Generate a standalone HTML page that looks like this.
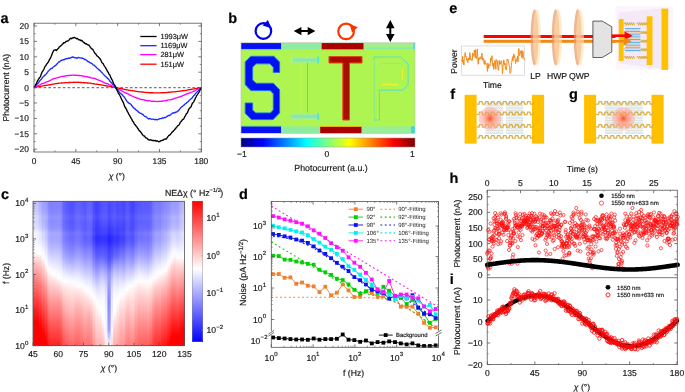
<!DOCTYPE html>
<html><head><meta charset="utf-8"><style>
html,body{margin:0;padding:0;background:#fff;font-family:"Liberation Sans", sans-serif;}
#wrap{position:relative;width:685px;height:392px;overflow:hidden;background:#fff;}
svg{position:absolute;left:0;top:0;will-change:transform;}

</style></head><body><div id="wrap">
<div style="position:absolute;left:33px;top:201.3px;width:1.9px;height:144.4px;background:linear-gradient(180deg,#c2c2ff 0.0%,#c5c5ff 2.8%,#c8c8ff 5.6%,#ceceff 8.3%,#d9d9ff 11.1%,#d6d6ff 13.9%,#dadaff 16.7%,#e1e1ff 19.4%,#f4f4ff 22.2%,#f1f1ff 25.0%,#f3f3ff 27.8%,#f9f9ff 30.6%,#fdfdff 33.3%,#fff5f5 36.1%,#ffdede 38.9%,#ffcbcb 41.7%,#ffbaba 44.4%,#ffaaaa 47.2%,#ff9a9a 50.0%,#ff8b8b 52.8%,#ff7d7d 55.6%,#ff6f6f 58.3%,#ff6262 61.1%,#ff5555 63.9%,#ff4848 66.7%,#ff3b3b 69.4%,#ff2e2e 72.2%,#ff2222 75.0%,#ff1616 77.8%,#ff0a0a 80.6%,#ff0000 83.3%,#ff0000 86.1%,#ff0000 88.9%,#ff0000 91.7%,#ff0000 94.4%,#ff0000 97.2%,#ff0000 100.0%)"></div><div style="position:absolute;left:34.5px;top:201.3px;width:1.9px;height:144.4px;background:linear-gradient(180deg,#c2c2ff 0.0%,#c4c4ff 2.8%,#c7c7ff 5.6%,#cdcdff 8.3%,#d9d9ff 11.1%,#d6d6ff 13.9%,#dbdbff 16.7%,#e2e2ff 19.4%,#f4f4ff 22.2%,#f1f1ff 25.0%,#f3f3ff 27.8%,#f9f9ff 30.6%,#fdfdff 33.3%,#fff7f7 36.1%,#ffe0e0 38.9%,#ffcccc 41.7%,#ffbaba 44.4%,#ffa9a9 47.2%,#ff9999 50.0%,#ff8a8a 52.8%,#ff7c7c 55.6%,#ff6e6e 58.3%,#ff6161 61.1%,#ff5353 63.9%,#ff4747 66.7%,#ff3a3a 69.4%,#ff2e2e 72.2%,#ff2121 75.0%,#ff1515 77.8%,#ff0909 80.6%,#ff0000 83.3%,#ff0000 86.1%,#ff0000 88.9%,#ff0000 91.7%,#ff0000 94.4%,#ff0000 97.2%,#ff0000 100.0%)"></div><div style="position:absolute;left:36px;top:201.3px;width:1.9px;height:144.4px;background:linear-gradient(180deg,#c0c0ff 0.0%,#c3c3ff 2.8%,#c6c6ff 5.6%,#ccccff 8.3%,#d8d8ff 11.1%,#d5d5ff 13.9%,#dadaff 16.7%,#e2e2ff 19.4%,#f4f4ff 22.2%,#f1f1ff 25.0%,#f3f3ff 27.8%,#f9f9ff 30.6%,#fdfdff 33.3%,#fffafa 36.1%,#ffe1e1 38.9%,#ffcdcd 41.7%,#ffbbbb 44.4%,#ffaaaa 47.2%,#ff9999 50.0%,#ff8989 52.8%,#ff7b7b 55.6%,#ff6e6e 58.3%,#ff6161 61.1%,#ff5454 63.9%,#ff4747 66.7%,#ff3a3a 69.4%,#ff2e2e 72.2%,#ff2222 75.0%,#ff1616 77.8%,#ff0a0a 80.6%,#ff0000 83.3%,#ff0000 86.1%,#ff0000 88.9%,#ff0000 91.7%,#ff0000 94.4%,#ff0000 97.2%,#ff0000 100.0%)"></div><div style="position:absolute;left:37.5px;top:201.3px;width:1.9px;height:144.4px;background:linear-gradient(180deg,#b9b9ff 0.0%,#bcbcff 2.8%,#bfbfff 5.6%,#c5c5ff 8.3%,#d1d1ff 11.1%,#cfcfff 13.9%,#d4d4ff 16.7%,#ddddff 19.4%,#efefff 22.2%,#ededff 25.0%,#f0f0ff 27.8%,#f7f7ff 30.6%,#fcfcff 33.3%,#fffefe 36.1%,#ffe4e4 38.9%,#ffd1d1 41.7%,#ffbfbf 44.4%,#ffaeae 47.2%,#ff9e9e 50.0%,#ff8f8f 52.8%,#ff8181 55.6%,#ff7373 58.3%,#ff6666 61.1%,#ff5959 63.9%,#ff4d4d 66.7%,#ff4040 69.4%,#ff3434 72.2%,#ff2828 75.0%,#ff1c1c 77.8%,#ff1111 80.6%,#ff0505 83.3%,#ff0000 86.1%,#ff0000 88.9%,#ff0000 91.7%,#ff0000 94.4%,#ff0000 97.2%,#ff0000 100.0%)"></div><div style="position:absolute;left:39px;top:201.3px;width:1.9px;height:144.4px;background:linear-gradient(180deg,#b0b0ff 0.0%,#b3b3ff 2.8%,#b7b7ff 5.6%,#bdbdff 8.3%,#c9c9ff 11.1%,#c7c7ff 13.9%,#cdcdff 16.7%,#d5d5ff 19.4%,#e9e9ff 22.2%,#e8e8ff 25.0%,#ececff 27.8%,#f4f4ff 30.6%,#fbfbff 33.3%,#ffffff 36.1%,#ffe7e7 38.9%,#ffd4d4 41.7%,#ffc3c3 44.4%,#ffb3b3 47.2%,#ffa4a4 50.0%,#ff9696 52.8%,#ff8888 55.6%,#ff7b7b 58.3%,#ff6e6e 61.1%,#ff6161 63.9%,#ff5454 66.7%,#ff4848 69.4%,#ff3c3c 72.2%,#ff3030 75.0%,#ff2424 77.8%,#ff1919 80.6%,#ff0d0d 83.3%,#ff0202 86.1%,#ff0000 88.9%,#ff0000 91.7%,#ff0000 94.4%,#ff0000 97.2%,#ff0000 100.0%)"></div><div style="position:absolute;left:40.5px;top:201.3px;width:1.9px;height:144.4px;background:linear-gradient(180deg,#a7a7ff 0.0%,#aaaaff 2.8%,#aeaeff 5.6%,#b4b4ff 8.3%,#c0c0ff 11.1%,#bebeff 13.9%,#c4c4ff 16.7%,#cdcdff 19.4%,#e1e1ff 22.2%,#e1e1ff 25.0%,#e7e7ff 27.8%,#f0f0ff 30.6%,#f8f8ff 33.3%,#fefeff 36.1%,#ffeeee 38.9%,#ffdbdb 41.7%,#ffcaca 44.4%,#ffbbbb 47.2%,#ffadad 50.0%,#ff9f9f 52.8%,#ff9191 55.6%,#ff8484 58.3%,#ff7777 61.1%,#ff6a6a 63.9%,#ff5e5e 66.7%,#ff5252 69.4%,#ff4646 72.2%,#ff3a3a 75.0%,#ff2e2e 77.8%,#ff2323 80.6%,#ff1818 83.3%,#ff0c0c 86.1%,#ff0101 88.9%,#ff0000 91.7%,#ff0000 94.4%,#ff0000 97.2%,#ff0000 100.0%)"></div><div style="position:absolute;left:42px;top:201.3px;width:1.9px;height:144.4px;background:linear-gradient(180deg,#a0a0ff 0.0%,#a3a3ff 2.8%,#a6a6ff 5.6%,#acacff 8.3%,#b8b8ff 11.1%,#b6b6ff 13.9%,#bbbbff 16.7%,#c4c4ff 19.4%,#d8d8ff 22.2%,#d8d8ff 25.0%,#dedeff 27.8%,#e8e8ff 30.6%,#f2f2ff 33.3%,#fafaff 36.1%,#fffefe 38.9%,#ffe7e7 41.7%,#ffd6d6 44.4%,#ffc6c6 47.2%,#ffb8b8 50.0%,#ffaaaa 52.8%,#ff9d9d 55.6%,#ff8f8f 58.3%,#ff8282 61.1%,#ff7676 63.9%,#ff6969 66.7%,#ff5d5d 69.4%,#ff5151 72.2%,#ff4545 75.0%,#ff3a3a 77.8%,#ff2e2e 80.6%,#ff2323 83.3%,#ff1818 86.1%,#ff0d0d 88.9%,#ff0202 91.7%,#ff0000 94.4%,#ff0000 97.2%,#ff0000 100.0%)"></div><div style="position:absolute;left:43.5px;top:201.3px;width:1.9px;height:144.4px;background:linear-gradient(180deg,#9f9fff 0.0%,#a1a1ff 2.8%,#a4a4ff 5.6%,#aaaaff 8.3%,#b6b6ff 11.1%,#b3b3ff 13.9%,#b8b8ff 16.7%,#c1c1ff 19.4%,#d5d5ff 22.2%,#d4d4ff 25.0%,#dadaff 27.8%,#e3e3ff 30.6%,#ededff 33.3%,#f6f6ff 36.1%,#fdfdff 38.9%,#fff4f4 41.7%,#ffe0e0 44.4%,#ffcfcf 47.2%,#ffbfbf 50.0%,#ffb0b0 52.8%,#ffa2a2 55.6%,#ff9595 58.3%,#ff8787 61.1%,#ff7b7b 63.9%,#ff6e6e 66.7%,#ff6262 69.4%,#ff5656 72.2%,#ff4a4a 75.0%,#ff3f3f 77.8%,#ff3333 80.6%,#ff2828 83.3%,#ff1d1d 86.1%,#ff1212 88.9%,#ff0707 91.7%,#ff0000 94.4%,#ff0000 97.2%,#ff0000 100.0%)"></div><div style="position:absolute;left:45px;top:201.3px;width:1.9px;height:144.4px;background:linear-gradient(180deg,#9a9aff 0.0%,#9c9cff 2.8%,#9f9fff 5.6%,#a4a4ff 8.3%,#afafff 11.1%,#ababff 13.9%,#afafff 16.7%,#b7b7ff 19.4%,#cacaff 22.2%,#c9c9ff 25.0%,#ceceff 27.8%,#d8d8ff 30.6%,#e2e2ff 33.3%,#ececff 36.1%,#f5f5ff 38.9%,#fcfcff 41.7%,#fff8f8 44.4%,#ffe3e3 47.2%,#ffd1d1 50.0%,#ffc1c1 52.8%,#ffb2b2 55.6%,#ffa4a4 58.3%,#ff9696 61.1%,#ff8989 63.9%,#ff7d7d 66.7%,#ff7070 69.4%,#ff6464 72.2%,#ff5858 75.0%,#ff4d4d 77.8%,#ff4141 80.6%,#ff3636 83.3%,#ff2b2b 86.1%,#ff2020 88.9%,#ff1515 91.7%,#ff0a0a 94.4%,#ff0000 97.2%,#ff0000 100.0%)"></div><div style="position:absolute;left:46.5px;top:201.3px;width:1.9px;height:144.4px;background:linear-gradient(180deg,#9393ff 0.0%,#9595ff 2.8%,#9797ff 5.6%,#9c9cff 8.3%,#a6a6ff 11.1%,#a2a2ff 13.9%,#a5a5ff 16.7%,#acacff 19.4%,#bebeff 22.2%,#bcbcff 25.0%,#c1c1ff 27.8%,#cacaff 30.6%,#d4d4ff 33.3%,#dedeff 36.1%,#e9e9ff 38.9%,#f2f2ff 41.7%,#fbfbff 44.4%,#fffdfd 47.2%,#ffe6e6 50.0%,#ffd5d5 52.8%,#ffc5c5 55.6%,#ffb6b6 58.3%,#ffa8a8 61.1%,#ff9b9b 63.9%,#ff8e8e 66.7%,#ff8181 69.4%,#ff7575 72.2%,#ff6969 75.0%,#ff5d5d 77.8%,#ff5151 80.6%,#ff4646 83.3%,#ff3b3b 86.1%,#ff3030 88.9%,#ff2525 91.7%,#ff1a1a 94.4%,#ff1010 97.2%,#ff0505 100.0%)"></div><div style="position:absolute;left:48px;top:201.3px;width:1.9px;height:144.4px;background:linear-gradient(180deg,#8585ff 0.0%,#8787ff 2.8%,#8989ff 5.6%,#8d8dff 8.3%,#9797ff 11.1%,#9292ff 13.9%,#9696ff 16.7%,#9c9cff 19.4%,#aeaeff 22.2%,#acacff 25.0%,#b0b0ff 27.8%,#b9b9ff 30.6%,#c4c4ff 33.3%,#d0d0ff 36.1%,#dcdcff 38.9%,#e8e8ff 41.7%,#f3f3ff 44.4%,#fcfcff 47.2%,#fff3f3 50.0%,#ffe2e2 52.8%,#ffd3d3 55.6%,#ffc5c5 58.3%,#ffb9b9 61.1%,#ffadad 63.9%,#ffa0a0 66.7%,#ff9494 69.4%,#ff8888 72.2%,#ff7c7c 75.0%,#ff7070 77.8%,#ff6464 80.6%,#ff5959 83.3%,#ff4e4e 86.1%,#ff4343 88.9%,#ff3838 91.7%,#ff2d2d 94.4%,#ff2323 97.2%,#ff1818 100.0%)"></div><div style="position:absolute;left:49.5px;top:201.3px;width:1.9px;height:144.4px;background:linear-gradient(180deg,#7f7fff 0.0%,#8181ff 2.8%,#8383ff 5.6%,#8787ff 8.3%,#9191ff 11.1%,#8c8cff 13.9%,#8f8fff 16.7%,#9696ff 19.4%,#a8a8ff 22.2%,#a5a5ff 25.0%,#aaaaff 27.8%,#b3b3ff 30.6%,#bdbdff 33.3%,#cacaff 36.1%,#d7d7ff 38.9%,#e4e4ff 41.7%,#f0f0ff 44.4%,#fafaff 47.2%,#fff8f8 50.0%,#ffe6e6 52.8%,#ffd8d8 55.6%,#ffcaca 58.3%,#ffbebe 61.1%,#ffb3b3 63.9%,#ffa7a7 66.7%,#ff9a9a 69.4%,#ff8e8e 72.2%,#ff8282 75.0%,#ff7777 77.8%,#ff6b6b 80.6%,#ff6060 83.3%,#ff5555 86.1%,#ff4a4a 88.9%,#ff3f3f 91.7%,#ff3535 94.4%,#ff2a2a 97.2%,#ff2020 100.0%)"></div><div style="position:absolute;left:51px;top:201.3px;width:1.9px;height:144.4px;background:linear-gradient(180deg,#7e7eff 0.0%,#8080ff 2.8%,#8181ff 5.6%,#8686ff 8.3%,#8f8fff 11.1%,#8b8bff 13.9%,#8e8eff 16.7%,#9494ff 19.4%,#a6a6ff 22.2%,#a4a4ff 25.0%,#a8a8ff 27.8%,#b1b1ff 30.6%,#bbbbff 33.3%,#c7c7ff 36.1%,#d4d4ff 38.9%,#e1e1ff 41.7%,#eeeeff 44.4%,#f8f8ff 47.2%,#ffffff 50.0%,#ffeaea 52.8%,#ffdada 55.6%,#ffcdcd 58.3%,#ffc0c0 61.1%,#ffb4b4 63.9%,#ffa8a8 66.7%,#ff9c9c 69.4%,#ff9090 72.2%,#ff8484 75.0%,#ff7878 77.8%,#ff6d6d 80.6%,#ff6262 83.3%,#ff5757 86.1%,#ff4c4c 88.9%,#ff4141 91.7%,#ff3737 94.4%,#ff2d2d 97.2%,#ff2222 100.0%)"></div><div style="position:absolute;left:52.5px;top:201.3px;width:1.9px;height:144.4px;background:linear-gradient(180deg,#8282ff 0.0%,#8383ff 2.8%,#8585ff 5.6%,#8989ff 8.3%,#9292ff 11.1%,#8e8eff 13.9%,#9191ff 16.7%,#9797ff 19.4%,#a9a9ff 22.2%,#a6a6ff 25.0%,#aaaaff 27.8%,#b4b4ff 30.6%,#bebeff 33.3%,#c9c9ff 36.1%,#d5d5ff 38.9%,#e1e1ff 41.7%,#ededff 44.4%,#f7f7ff 47.2%,#fefeff 50.0%,#ffeded 52.8%,#ffdcdc 55.6%,#ffcdcd 58.3%,#ffbfbf 61.1%,#ffb2b2 63.9%,#ffa5a5 66.7%,#ff9999 69.4%,#ff8d8d 72.2%,#ff8181 75.0%,#ff7575 77.8%,#ff6a6a 80.6%,#ff5f5f 83.3%,#ff5454 86.1%,#ff4a4a 88.9%,#ff3f3f 91.7%,#ff3535 94.4%,#ff2a2a 97.2%,#ff2020 100.0%)"></div><div style="position:absolute;left:54px;top:201.3px;width:1.9px;height:144.4px;background:linear-gradient(180deg,#8181ff 0.0%,#8383ff 2.8%,#8484ff 5.6%,#8888ff 8.3%,#9292ff 11.1%,#8d8dff 13.9%,#9090ff 16.7%,#9696ff 19.4%,#a8a8ff 22.2%,#a5a5ff 25.0%,#aaaaff 27.8%,#b3b3ff 30.6%,#bdbdff 33.3%,#c8c8ff 36.1%,#d4d4ff 38.9%,#dfdfff 41.7%,#ebebff 44.4%,#f6f6ff 47.2%,#fdfdff 50.0%,#fff2f2 52.8%,#ffdfdf 55.6%,#ffd0d0 58.3%,#ffc1c1 61.1%,#ffb3b3 63.9%,#ffa6a6 66.7%,#ff9999 69.4%,#ff8d8d 72.2%,#ff8282 75.0%,#ff7676 77.8%,#ff6b6b 80.6%,#ff6060 83.3%,#ff5555 86.1%,#ff4b4b 88.9%,#ff4040 91.7%,#ff3636 94.4%,#ff2c2c 97.2%,#ff2222 100.0%)"></div><div style="position:absolute;left:55.5px;top:201.3px;width:1.9px;height:144.4px;background:linear-gradient(180deg,#8181ff 0.0%,#8282ff 2.8%,#8383ff 5.6%,#8787ff 8.3%,#9191ff 11.1%,#8c8cff 13.9%,#8f8fff 16.7%,#9595ff 19.4%,#a6a6ff 22.2%,#a3a3ff 25.0%,#a8a8ff 27.8%,#b1b1ff 30.6%,#bbbbff 33.3%,#c6c6ff 36.1%,#d1d1ff 38.9%,#ddddff 41.7%,#e9e9ff 44.4%,#f3f3ff 47.2%,#fcfcff 50.0%,#fff8f8 52.8%,#ffe4e4 55.6%,#ffd3d3 58.3%,#ffc4c4 61.1%,#ffb6b6 63.9%,#ffa8a8 66.7%,#ff9b9b 69.4%,#ff8f8f 72.2%,#ff8484 75.0%,#ff7878 77.8%,#ff6d6d 80.6%,#ff6262 83.3%,#ff5858 86.1%,#ff4d4d 88.9%,#ff4343 91.7%,#ff3939 94.4%,#ff2f2f 97.2%,#ff2525 100.0%)"></div><div style="position:absolute;left:57px;top:201.3px;width:1.9px;height:144.4px;background:linear-gradient(180deg,#8484ff 0.0%,#8585ff 2.8%,#8787ff 5.6%,#8b8bff 8.3%,#9494ff 11.1%,#8f8fff 13.9%,#9292ff 16.7%,#9898ff 19.4%,#a9a9ff 22.2%,#a6a6ff 25.0%,#aaaaff 27.8%,#b3b3ff 30.6%,#bdbdff 33.3%,#c8c8ff 36.1%,#d3d3ff 38.9%,#ddddff 41.7%,#e8e8ff 44.4%,#f2f2ff 47.2%,#fbfbff 50.0%,#ffffff 52.8%,#ffe8e8 55.6%,#ffd6d6 58.3%,#ffc5c5 61.1%,#ffb6b6 63.9%,#ffa7a7 66.7%,#ff9898 69.4%,#ff8d8d 72.2%,#ff8181 75.0%,#ff7676 77.8%,#ff6b6b 80.6%,#ff6060 83.3%,#ff5555 86.1%,#ff4b4b 88.9%,#ff4141 91.7%,#ff3737 94.4%,#ff2d2d 97.2%,#ff2323 100.0%)"></div><div style="position:absolute;left:58.5px;top:201.3px;width:1.9px;height:144.4px;background:linear-gradient(180deg,#8585ff 0.0%,#8686ff 2.8%,#8787ff 5.6%,#8b8bff 8.3%,#9494ff 11.1%,#8f8fff 13.9%,#9292ff 16.7%,#9797ff 19.4%,#a8a8ff 22.2%,#a5a5ff 25.0%,#a9a9ff 27.8%,#b2b2ff 30.6%,#bcbcff 33.3%,#c7c7ff 36.1%,#d2d2ff 38.9%,#dcdcff 41.7%,#e6e6ff 44.4%,#f0f0ff 47.2%,#f9f9ff 50.0%,#ffffff 52.8%,#ffeeee 55.6%,#ffdada 58.3%,#ffc9c9 61.1%,#ffb9b9 63.9%,#ffa9a9 66.7%,#ff9a9a 69.4%,#ff8e8e 72.2%,#ff8282 75.0%,#ff7777 77.8%,#ff6c6c 80.6%,#ff6161 83.3%,#ff5757 86.1%,#ff4c4c 88.9%,#ff4242 91.7%,#ff3838 94.4%,#ff2e2e 97.2%,#ff2525 100.0%)"></div><div style="position:absolute;left:60px;top:201.3px;width:1.9px;height:144.4px;background:linear-gradient(180deg,#7e7eff 0.0%,#7f7fff 2.8%,#8080ff 5.6%,#8484ff 8.3%,#8d8dff 11.1%,#8888ff 13.9%,#8a8aff 16.7%,#9090ff 19.4%,#a0a0ff 22.2%,#9d9dff 25.0%,#a1a1ff 27.8%,#a9a9ff 30.6%,#b3b3ff 33.3%,#bebeff 36.1%,#cacaff 38.9%,#d5d5ff 41.7%,#e0e0ff 44.4%,#ececff 47.2%,#f6f6ff 50.0%,#fdfdff 52.8%,#fff4f4 55.6%,#ffe1e1 58.3%,#ffd0d0 61.1%,#ffc0c0 63.9%,#ffb1b1 66.7%,#ffa3a3 69.4%,#ff9696 72.2%,#ff8b8b 75.0%,#ff8080 77.8%,#ff7575 80.6%,#ff6a6a 83.3%,#ff6060 86.1%,#ff5555 88.9%,#ff4b4b 91.7%,#ff4141 94.4%,#ff3838 97.2%,#ff2e2e 100.0%)"></div><div style="position:absolute;left:61.5px;top:201.3px;width:1.9px;height:144.4px;background:linear-gradient(180deg,#6f6fff 0.0%,#7070ff 2.8%,#7171ff 5.6%,#7575ff 8.3%,#7e7eff 11.1%,#7979ff 13.9%,#7b7bff 16.7%,#8080ff 19.4%,#9191ff 22.2%,#8d8dff 25.0%,#9191ff 27.8%,#9999ff 30.6%,#a3a3ff 33.3%,#aeaeff 36.1%,#babaff 38.9%,#c7c7ff 41.7%,#d5d5ff 44.4%,#e2e2ff 47.2%,#efefff 50.0%,#fafaff 52.8%,#fffbfb 55.6%,#ffe8e8 58.3%,#ffd9d9 61.1%,#ffcccc 63.9%,#ffbfbf 66.7%,#ffb3b3 69.4%,#ffa7a7 72.2%,#ff9c9c 75.0%,#ff9191 77.8%,#ff8686 80.6%,#ff7b7b 83.3%,#ff7171 86.1%,#ff6767 88.9%,#ff5d5d 91.7%,#ff5353 94.4%,#ff4949 97.2%,#ff4040 100.0%)"></div><div style="position:absolute;left:63px;top:201.3px;width:1.9px;height:144.4px;background:linear-gradient(180deg,#6262ff 0.0%,#6363ff 2.8%,#6565ff 5.6%,#6868ff 8.3%,#7171ff 11.1%,#6c6cff 13.9%,#6e6eff 16.7%,#7373ff 19.4%,#8484ff 22.2%,#8080ff 25.0%,#8484ff 27.8%,#8c8cff 30.6%,#9696ff 33.3%,#a1a1ff 36.1%,#aeaeff 38.9%,#bcbcff 41.7%,#ccccff 44.4%,#dcdcff 47.2%,#eaeaff 50.0%,#f7f7ff 52.8%,#fffefe 55.6%,#ffecec 58.3%,#ffdfdf 61.1%,#ffd3d3 63.9%,#ffc8c8 66.7%,#ffbebe 69.4%,#ffb4b4 72.2%,#ffa9a9 75.0%,#ff9e9e 77.8%,#ff9393 80.6%,#ff8989 83.3%,#ff7f7f 86.1%,#ff7575 88.9%,#ff6b6b 91.7%,#ff6161 94.4%,#ff5757 97.2%,#ff4e4e 100.0%)"></div><div style="position:absolute;left:64.5px;top:201.3px;width:1.9px;height:144.4px;background:linear-gradient(180deg,#5b5bff 0.0%,#5c5cff 2.8%,#5d5dff 5.6%,#6060ff 8.3%,#6a6aff 11.1%,#6464ff 13.9%,#6666ff 16.7%,#6b6bff 19.4%,#7c7cff 22.2%,#7878ff 25.0%,#7b7bff 27.8%,#8484ff 30.6%,#8e8eff 33.3%,#9a9aff 36.1%,#a6a6ff 38.9%,#b6b6ff 41.7%,#c6c6ff 44.4%,#d7d7ff 47.2%,#e7e7ff 50.0%,#f5f5ff 52.8%,#ffffff 55.6%,#ffeeee 58.3%,#ffe2e2 61.1%,#ffd8d8 63.9%,#ffcece 66.7%,#ffc5c5 69.4%,#ffbcbc 72.2%,#ffb1b1 75.0%,#ffa6a6 77.8%,#ff9c9c 80.6%,#ff9191 83.3%,#ff8787 86.1%,#ff7d7d 88.9%,#ff7373 91.7%,#ff6a6a 94.4%,#ff6060 97.2%,#ff5757 100.0%)"></div><div style="position:absolute;left:66px;top:201.3px;width:1.9px;height:144.4px;background:linear-gradient(180deg,#5858ff 0.0%,#5959ff 2.8%,#5a5aff 5.6%,#5e5eff 8.3%,#6767ff 11.1%,#6262ff 13.9%,#6464ff 16.7%,#6868ff 19.4%,#7979ff 22.2%,#7575ff 25.0%,#7979ff 27.8%,#8282ff 30.6%,#8c8cff 33.3%,#9797ff 36.1%,#a4a4ff 38.9%,#b3b3ff 41.7%,#c4c4ff 44.4%,#d5d5ff 47.2%,#e5e5ff 50.0%,#f4f4ff 52.8%,#fefeff 55.6%,#fff0f0 58.3%,#ffe4e4 61.1%,#ffd9d9 63.9%,#ffd0d0 66.7%,#ffc7c7 69.4%,#ffbebe 72.2%,#ffb3b3 75.0%,#ffa9a9 77.8%,#ff9e9e 80.6%,#ff9494 83.3%,#ff8a8a 86.1%,#ff8080 88.9%,#ff7777 91.7%,#ff6d6d 94.4%,#ff6464 97.2%,#ff5b5b 100.0%)"></div><div style="position:absolute;left:67.5px;top:201.3px;width:1.9px;height:144.4px;background:linear-gradient(180deg,#5555ff 0.0%,#5656ff 2.8%,#5757ff 5.6%,#5a5aff 8.3%,#6363ff 11.1%,#5e5eff 13.9%,#6060ff 16.7%,#6565ff 19.4%,#7575ff 22.2%,#7171ff 25.0%,#7575ff 27.8%,#7e7eff 30.6%,#8888ff 33.3%,#9393ff 36.1%,#a0a0ff 38.9%,#afafff 41.7%,#c1c1ff 44.4%,#d2d2ff 47.2%,#e3e3ff 50.0%,#f2f2ff 52.8%,#fefeff 55.6%,#fff2f2 58.3%,#ffe6e6 61.1%,#ffdbdb 63.9%,#ffd2d2 66.7%,#ffc9c9 69.4%,#ffc1c1 72.2%,#ffb7b7 75.0%,#ffacac 77.8%,#ffa2a2 80.6%,#ff9898 83.3%,#ff8e8e 86.1%,#ff8585 88.9%,#ff7b7b 91.7%,#ff7272 94.4%,#ff6969 97.2%,#ff5f5f 100.0%)"></div><div style="position:absolute;left:69px;top:201.3px;width:1.9px;height:144.4px;background:linear-gradient(180deg,#5252ff 0.0%,#5252ff 2.8%,#5454ff 5.6%,#5757ff 8.3%,#6060ff 11.1%,#5b5bff 13.9%,#5d5dff 16.7%,#6161ff 19.4%,#7171ff 22.2%,#6d6dff 25.0%,#7171ff 27.8%,#7a7aff 30.6%,#8585ff 33.3%,#9090ff 36.1%,#9d9dff 38.9%,#acacff 41.7%,#bebeff 44.4%,#d0d0ff 47.2%,#e1e1ff 50.0%,#f1f1ff 52.8%,#fdfdff 55.6%,#fff3f3 58.3%,#ffe7e7 61.1%,#ffdddd 63.9%,#ffd4d4 66.7%,#ffcccc 69.4%,#ffc4c4 72.2%,#ffbaba 75.0%,#ffb0b0 77.8%,#ffa6a6 80.6%,#ff9c9c 83.3%,#ff9292 86.1%,#ff8888 88.9%,#ff7f7f 91.7%,#ff7676 94.4%,#ff6d6d 97.2%,#ff6464 100.0%)"></div><div style="position:absolute;left:70.5px;top:201.3px;width:1.9px;height:144.4px;background:linear-gradient(180deg,#4f4fff 0.0%,#5050ff 2.8%,#5151ff 5.6%,#5555ff 8.3%,#5e5eff 11.1%,#5858ff 13.9%,#5a5aff 16.7%,#5e5eff 19.4%,#6e6eff 22.2%,#6a6aff 25.0%,#6e6eff 27.8%,#7777ff 30.6%,#8282ff 33.3%,#8e8eff 36.1%,#9a9aff 38.9%,#aaaaff 41.7%,#bbbbff 44.4%,#cdcdff 47.2%,#dfdfff 50.0%,#efefff 52.8%,#fcfcff 55.6%,#fff5f5 58.3%,#ffe9e9 61.1%,#ffdfdf 63.9%,#ffd6d6 66.7%,#ffcece 69.4%,#ffc6c6 72.2%,#ffbdbd 75.0%,#ffb2b2 77.8%,#ffa8a8 80.6%,#ff9f9f 83.3%,#ff9595 86.1%,#ff8c8c 88.9%,#ff8282 91.7%,#ff7979 94.4%,#ff7070 97.2%,#ff6767 100.0%)"></div><div style="position:absolute;left:72px;top:201.3px;width:1.9px;height:144.4px;background:linear-gradient(180deg,#5050ff 0.0%,#5151ff 2.8%,#5252ff 5.6%,#5656ff 8.3%,#5f5fff 11.1%,#5959ff 13.9%,#5b5bff 16.7%,#5f5fff 19.4%,#6f6fff 22.2%,#6a6aff 25.0%,#6e6eff 27.8%,#7878ff 30.6%,#8383ff 33.3%,#8e8eff 36.1%,#9b9bff 38.9%,#aaaaff 41.7%,#bbbbff 44.4%,#cdcdff 47.2%,#dedeff 50.0%,#eeeeff 52.8%,#fbfbff 55.6%,#fff6f6 58.3%,#ffe9e9 61.1%,#ffdfdf 63.9%,#ffd6d6 66.7%,#ffcdcd 69.4%,#ffc5c5 72.2%,#ffbcbc 75.0%,#ffb2b2 77.8%,#ffa8a8 80.6%,#ff9e9e 83.3%,#ff9595 86.1%,#ff8b8b 88.9%,#ff8282 91.7%,#ff7979 94.4%,#ff7070 97.2%,#ff6868 100.0%)"></div><div style="position:absolute;left:73.5px;top:201.3px;width:1.9px;height:144.4px;background:linear-gradient(180deg,#5757ff 0.0%,#5858ff 2.8%,#5959ff 5.6%,#5d5dff 8.3%,#6565ff 11.1%,#6060ff 13.9%,#6161ff 16.7%,#6565ff 19.4%,#7474ff 22.2%,#7070ff 25.0%,#7373ff 27.8%,#7d7dff 30.6%,#8888ff 33.3%,#9494ff 36.1%,#a1a1ff 38.9%,#afafff 41.7%,#bfbfff 44.4%,#cfcfff 47.2%,#dfdfff 50.0%,#eeeeff 52.8%,#fafaff 55.6%,#fff8f8 58.3%,#ffe9e9 61.1%,#ffdede 63.9%,#ffd3d3 66.7%,#ffc9c9 69.4%,#ffbfbf 72.2%,#ffb6b6 75.0%,#ffacac 77.8%,#ffa2a2 80.6%,#ff9898 83.3%,#ff8f8f 86.1%,#ff8686 88.9%,#ff7d7d 91.7%,#ff7474 94.4%,#ff6b6b 97.2%,#ff6363 100.0%)"></div><div style="position:absolute;left:75px;top:201.3px;width:1.9px;height:144.4px;background:linear-gradient(180deg,#5c5cff 0.0%,#5d5dff 2.8%,#5e5eff 5.6%,#6262ff 8.3%,#6b6bff 11.1%,#6565ff 13.9%,#6666ff 16.7%,#6969ff 19.4%,#7878ff 22.2%,#7373ff 25.0%,#7777ff 27.8%,#8181ff 30.6%,#8c8cff 33.3%,#9898ff 36.1%,#a5a5ff 38.9%,#b3b3ff 41.7%,#c1c1ff 44.4%,#d1d1ff 47.2%,#e0e0ff 50.0%,#eeeeff 52.8%,#fafaff 55.6%,#fffafa 58.3%,#ffeaea 61.1%,#ffdddd 63.9%,#ffd1d1 66.7%,#ffc6c6 69.4%,#ffbbbb 72.2%,#ffb1b1 75.0%,#ffa7a7 77.8%,#ff9d9d 80.6%,#ff9494 83.3%,#ff8b8b 86.1%,#ff8282 88.9%,#ff7979 91.7%,#ff7070 94.4%,#ff6767 97.2%,#ff5f5f 100.0%)"></div><div style="position:absolute;left:76.5px;top:201.3px;width:1.9px;height:144.4px;background:linear-gradient(180deg,#6262ff 0.0%,#6262ff 2.8%,#6464ff 5.6%,#6767ff 8.3%,#7070ff 11.1%,#6a6aff 13.9%,#6b6bff 16.7%,#6e6eff 19.4%,#7c7cff 22.2%,#7777ff 25.0%,#7b7bff 27.8%,#8585ff 30.6%,#9090ff 33.3%,#9c9cff 36.1%,#a9a9ff 38.9%,#b7b7ff 41.7%,#c4c4ff 44.4%,#d2d2ff 47.2%,#e1e1ff 50.0%,#eeeeff 52.8%,#f9f9ff 55.6%,#fffefe 58.3%,#ffebeb 61.1%,#ffdddd 63.9%,#ffd0d0 66.7%,#ffc3c3 69.4%,#ffb8b8 72.2%,#ffacac 75.0%,#ffa2a2 77.8%,#ff9999 80.6%,#ff9090 83.3%,#ff8686 86.1%,#ff7e7e 88.9%,#ff7575 91.7%,#ff6c6c 94.4%,#ff6464 97.2%,#ff5b5b 100.0%)"></div><div style="position:absolute;left:78px;top:201.3px;width:1.9px;height:144.4px;background:linear-gradient(180deg,#6060ff 0.0%,#6060ff 2.8%,#6161ff 5.6%,#6565ff 8.3%,#6e6eff 11.1%,#6767ff 13.9%,#6868ff 16.7%,#6b6bff 19.4%,#7979ff 22.2%,#7373ff 25.0%,#7777ff 27.8%,#8181ff 30.6%,#8d8dff 33.3%,#9999ff 36.1%,#a5a5ff 38.9%,#b3b3ff 41.7%,#c1c1ff 44.4%,#cfcfff 47.2%,#dedeff 50.0%,#ececff 52.8%,#f8f8ff 55.6%,#ffffff 58.3%,#ffeeee 61.1%,#ffe0e0 63.9%,#ffd3d3 66.7%,#ffc7c7 69.4%,#ffbbbb 72.2%,#ffb0b0 75.0%,#ffa6a6 77.8%,#ff9c9c 80.6%,#ff9393 83.3%,#ff8a8a 86.1%,#ff8181 88.9%,#ff7979 91.7%,#ff7070 94.4%,#ff6868 97.2%,#ff6060 100.0%)"></div><div style="position:absolute;left:79.5px;top:201.3px;width:1.9px;height:144.4px;background:linear-gradient(180deg,#5e5eff 0.0%,#5f5fff 2.8%,#6060ff 5.6%,#6363ff 8.3%,#6c6cff 11.1%,#6666ff 13.9%,#6666ff 16.7%,#6868ff 19.4%,#7676ff 22.2%,#7070ff 25.0%,#7373ff 27.8%,#7e7eff 30.6%,#8a8aff 33.3%,#9696ff 36.1%,#a3a3ff 38.9%,#b0b0ff 41.7%,#bebeff 44.4%,#cdcdff 47.2%,#dbdbff 50.0%,#eaeaff 52.8%,#f6f6ff 55.6%,#fefeff 58.3%,#fff1f1 61.1%,#ffe2e2 63.9%,#ffd5d5 66.7%,#ffc9c9 69.4%,#ffbebe 72.2%,#ffb3b3 75.0%,#ffa9a9 77.8%,#ff9f9f 80.6%,#ff9696 83.3%,#ff8d8d 86.1%,#ff8585 88.9%,#ff7c7c 91.7%,#ff7474 94.4%,#ff6b6b 97.2%,#ff6363 100.0%)"></div><div style="position:absolute;left:81px;top:201.3px;width:1.9px;height:144.4px;background:linear-gradient(180deg,#5a5aff 0.0%,#5b5bff 2.8%,#5c5cff 5.6%,#5f5fff 8.3%,#6868ff 11.1%,#6262ff 13.9%,#6262ff 16.7%,#6363ff 19.4%,#7070ff 22.2%,#6a6aff 25.0%,#6d6dff 27.8%,#7878ff 30.6%,#8585ff 33.3%,#9191ff 36.1%,#9e9eff 38.9%,#ababff 41.7%,#b9b9ff 44.4%,#c8c8ff 47.2%,#d7d7ff 50.0%,#e6e6ff 52.8%,#f3f3ff 55.6%,#fdfdff 58.3%,#fff4f4 61.1%,#ffe6e6 63.9%,#ffd9d9 66.7%,#ffcdcd 69.4%,#ffc2c2 72.2%,#ffb8b8 75.0%,#ffaeae 77.8%,#ffa5a5 80.6%,#ff9c9c 83.3%,#ff9393 86.1%,#ff8b8b 88.9%,#ff8282 91.7%,#ff7a7a 94.4%,#ff7272 97.2%,#ff6a6a 100.0%)"></div><div style="position:absolute;left:82.5px;top:201.3px;width:1.9px;height:144.4px;background:linear-gradient(180deg,#5757ff 0.0%,#5858ff 2.8%,#5959ff 5.6%,#5c5cff 8.3%,#6565ff 11.1%,#5e5eff 13.9%,#5e5eff 16.7%,#5f5fff 19.4%,#6b6bff 22.2%,#6565ff 25.0%,#6868ff 27.8%,#7474ff 30.6%,#8080ff 33.3%,#8d8dff 36.1%,#9999ff 38.9%,#a7a7ff 41.7%,#b5b5ff 44.4%,#c4c4ff 47.2%,#d4d4ff 50.0%,#e3e3ff 52.8%,#f1f1ff 55.6%,#fcfcff 58.3%,#fff7f7 61.1%,#ffe8e8 63.9%,#ffdcdc 66.7%,#ffd1d1 69.4%,#ffc6c6 72.2%,#ffbcbc 75.0%,#ffb3b3 77.8%,#ffaaaa 80.6%,#ffa1a1 83.3%,#ff9898 86.1%,#ff9090 88.9%,#ff8787 91.7%,#ff7f7f 94.4%,#ff7777 97.2%,#ff6f6f 100.0%)"></div><div style="position:absolute;left:84px;top:201.3px;width:1.9px;height:144.4px;background:linear-gradient(180deg,#5656ff 0.0%,#5656ff 2.8%,#5757ff 5.6%,#5b5bff 8.3%,#6363ff 11.1%,#5c5cff 13.9%,#5b5bff 16.7%,#5c5cff 19.4%,#6767ff 22.2%,#6060ff 25.0%,#6363ff 27.8%,#6f6fff 30.6%,#7b7bff 33.3%,#8888ff 36.1%,#9494ff 38.9%,#a1a1ff 41.7%,#afafff 44.4%,#bebeff 47.2%,#ceceff 50.0%,#dedeff 52.8%,#ececff 55.6%,#f9f9ff 58.3%,#fffdfd 61.1%,#ffeded 63.9%,#ffe1e1 66.7%,#ffd6d6 69.4%,#ffcbcb 72.2%,#ffc1c1 75.0%,#ffb7b7 77.8%,#ffaeae 80.6%,#ffa6a6 83.3%,#ff9d9d 86.1%,#ff9595 88.9%,#ff8c8c 91.7%,#ff8484 94.4%,#ff7c7c 97.2%,#ff7575 100.0%)"></div><div style="position:absolute;left:85.5px;top:201.3px;width:1.9px;height:144.4px;background:linear-gradient(180deg,#5959ff 0.0%,#5a5aff 2.8%,#5a5aff 5.6%,#5d5dff 8.3%,#6666ff 11.1%,#5f5fff 13.9%,#5d5dff 16.7%,#5d5dff 19.4%,#6767ff 22.2%,#5f5fff 25.0%,#6363ff 27.8%,#6e6eff 30.6%,#7b7bff 33.3%,#8787ff 36.1%,#9393ff 38.9%,#a0a0ff 41.7%,#aeaeff 44.4%,#bcbcff 47.2%,#cbcbff 50.0%,#dadaff 52.8%,#e9e9ff 55.6%,#f5f5ff 58.3%,#fefeff 61.1%,#fff2f2 63.9%,#ffe4e4 66.7%,#ffd8d8 69.4%,#ffcdcd 72.2%,#ffc2c2 75.0%,#ffb8b8 77.8%,#ffafaf 80.6%,#ffa6a6 83.3%,#ff9d9d 86.1%,#ff9595 88.9%,#ff8d8d 91.7%,#ff8585 94.4%,#ff7d7d 97.2%,#ff7575 100.0%)"></div><div style="position:absolute;left:87px;top:201.3px;width:1.9px;height:144.4px;background:linear-gradient(180deg,#6161ff 0.0%,#6262ff 2.8%,#6363ff 5.6%,#6666ff 8.3%,#6e6eff 11.1%,#6666ff 13.9%,#6565ff 16.7%,#6464ff 19.4%,#6d6dff 22.2%,#6464ff 25.0%,#6767ff 27.8%,#7373ff 30.6%,#8080ff 33.3%,#8c8cff 36.1%,#9898ff 38.9%,#a4a4ff 41.7%,#b2b2ff 44.4%,#c0c0ff 47.2%,#ceceff 50.0%,#dbdbff 52.8%,#e8e8ff 55.6%,#f4f4ff 58.3%,#fdfdff 61.1%,#fff8f8 63.9%,#ffe7e7 66.7%,#ffd9d9 69.4%,#ffcccc 72.2%,#ffc0c0 75.0%,#ffb4b4 77.8%,#ffa9a9 80.6%,#ffa0a0 83.3%,#ff9898 86.1%,#ff9090 88.9%,#ff8888 91.7%,#ff8080 94.4%,#ff7878 97.2%,#ff7070 100.0%)"></div><div style="position:absolute;left:88.5px;top:201.3px;width:1.9px;height:144.4px;background:linear-gradient(180deg,#6666ff 0.0%,#6666ff 2.8%,#6767ff 5.6%,#6a6aff 8.3%,#7272ff 11.1%,#6a6aff 13.9%,#6868ff 16.7%,#6666ff 19.4%,#6e6eff 22.2%,#6565ff 25.0%,#6868ff 27.8%,#7474ff 30.6%,#8181ff 33.3%,#8d8dff 36.1%,#9999ff 38.9%,#a5a5ff 41.7%,#b3b3ff 44.4%,#c1c1ff 47.2%,#ceceff 50.0%,#dbdbff 52.8%,#e7e7ff 55.6%,#f2f2ff 58.3%,#fbfbff 61.1%,#ffffff 63.9%,#ffeded 66.7%,#ffdddd 69.4%,#ffcfcf 72.2%,#ffc1c1 75.0%,#ffb4b4 77.8%,#ffa8a8 80.6%,#ff9f9f 83.3%,#ff9797 86.1%,#ff8f8f 88.9%,#ff8787 91.7%,#ff7f7f 94.4%,#ff7777 97.2%,#ff7070 100.0%)"></div><div style="position:absolute;left:90px;top:201.3px;width:1.9px;height:144.4px;background:linear-gradient(180deg,#6262ff 0.0%,#6363ff 2.8%,#6363ff 5.6%,#6666ff 8.3%,#6e6eff 11.1%,#6666ff 13.9%,#6464ff 16.7%,#6161ff 19.4%,#6868ff 22.2%,#5e5eff 25.0%,#6161ff 27.8%,#6d6dff 30.6%,#7b7bff 33.3%,#8787ff 36.1%,#9292ff 38.9%,#9f9fff 41.7%,#acacff 44.4%,#bbbbff 47.2%,#c9c9ff 50.0%,#d6d6ff 52.8%,#e3e3ff 55.6%,#efefff 58.3%,#f8f8ff 61.1%,#fefeff 63.9%,#fff3f3 66.7%,#ffe4e4 69.4%,#ffd6d6 72.2%,#ffc9c9 75.0%,#ffbcbc 77.8%,#ffb0b0 80.6%,#ffa7a7 83.3%,#ff9e9e 86.1%,#ff9696 88.9%,#ff8e8e 91.7%,#ff8787 94.4%,#ff7f7f 97.2%,#ff7878 100.0%)"></div><div style="position:absolute;left:91.5px;top:201.3px;width:1.9px;height:144.4px;background:linear-gradient(180deg,#5757ff 0.0%,#5858ff 2.8%,#5858ff 5.6%,#5b5bff 8.3%,#6363ff 11.1%,#5b5bff 13.9%,#5858ff 16.7%,#5454ff 19.4%,#5a5aff 22.2%,#5050ff 25.0%,#5252ff 27.8%,#5f5fff 30.6%,#6d6dff 33.3%,#7878ff 36.1%,#8484ff 38.9%,#9191ff 41.7%,#9f9fff 44.4%,#aeaeff 47.2%,#bdbdff 50.0%,#ccccff 52.8%,#dadaff 55.6%,#e8e8ff 58.3%,#f3f3ff 61.1%,#fcfcff 63.9%,#fffbfb 66.7%,#ffecec 69.4%,#ffe0e0 72.2%,#ffd4d4 75.0%,#ffcaca 77.8%,#ffc0c0 80.6%,#ffb6b6 83.3%,#ffaeae 86.1%,#ffa6a6 88.9%,#ff9e9e 91.7%,#ff9696 94.4%,#ff8f8f 97.2%,#ff8787 100.0%)"></div><div style="position:absolute;left:93px;top:201.3px;width:1.9px;height:144.4px;background:linear-gradient(180deg,#4b4bff 0.0%,#4c4cff 2.8%,#4c4cff 5.6%,#4f4fff 8.3%,#5656ff 11.1%,#4e4eff 13.9%,#4b4bff 16.7%,#4646ff 19.4%,#4c4cff 22.2%,#4040ff 25.0%,#4343ff 27.8%,#5050ff 30.6%,#5e5eff 33.3%,#6a6aff 36.1%,#7676ff 38.9%,#8383ff 41.7%,#9292ff 44.4%,#a1a1ff 47.2%,#b1b1ff 50.0%,#c2c2ff 52.8%,#d2d2ff 55.6%,#e0e0ff 58.3%,#ededff 61.1%,#f8f8ff 63.9%,#ffffff 66.7%,#fff3f3 69.4%,#ffe8e8 72.2%,#ffdfdf 75.0%,#ffd6d6 77.8%,#ffcece 80.6%,#ffc6c6 83.3%,#ffbebe 86.1%,#ffb6b6 88.9%,#ffaeae 91.7%,#ffa7a7 94.4%,#ff9f9f 97.2%,#ff9898 100.0%)"></div><div style="position:absolute;left:94.5px;top:201.3px;width:1.9px;height:144.4px;background:linear-gradient(180deg,#4242ff 0.0%,#4343ff 2.8%,#4343ff 5.6%,#4646ff 8.3%,#4d4dff 11.1%,#4545ff 13.9%,#4141ff 16.7%,#3c3cff 19.4%,#4040ff 22.2%,#3434ff 25.0%,#3636ff 27.8%,#4343ff 30.6%,#5151ff 33.3%,#5d5dff 36.1%,#6969ff 38.9%,#7777ff 41.7%,#8686ff 44.4%,#9797ff 47.2%,#a7a7ff 50.0%,#b7b7ff 52.8%,#c8c8ff 55.6%,#d8d8ff 58.3%,#e6e6ff 61.1%,#f2f2ff 63.9%,#fbfbff 66.7%,#fffbfb 69.4%,#fff0f0 72.2%,#ffe8e8 75.0%,#ffe1e1 77.8%,#ffdada 80.6%,#ffd4d4 83.3%,#ffcdcd 86.1%,#ffc5c5 88.9%,#ffbdbd 91.7%,#ffb6b6 94.4%,#ffaeae 97.2%,#ffa7a7 100.0%)"></div><div style="position:absolute;left:96px;top:201.3px;width:1.9px;height:144.4px;background:linear-gradient(180deg,#4141ff 0.0%,#4141ff 2.8%,#4242ff 5.6%,#4444ff 8.3%,#4b4bff 11.1%,#4242ff 13.9%,#3e3eff 16.7%,#3838ff 19.4%,#3b3bff 22.2%,#2e2eff 25.0%,#3131ff 27.8%,#3e3eff 30.6%,#4c4cff 33.3%,#5757ff 36.1%,#6363ff 38.9%,#7272ff 41.7%,#8383ff 44.4%,#9393ff 47.2%,#a4a4ff 50.0%,#b4b4ff 52.8%,#c4c4ff 55.6%,#d3d3ff 58.3%,#e1e1ff 61.1%,#ececff 63.9%,#f6f6ff 66.7%,#fdfdff 69.4%,#fff8f8 72.2%,#ffefef 75.0%,#ffe7e7 77.8%,#ffe0e0 80.6%,#ffdada 83.3%,#ffd4d4 86.1%,#ffcdcd 88.9%,#ffc5c5 91.7%,#ffbebe 94.4%,#ffb7b7 97.2%,#ffafaf 100.0%)"></div><div style="position:absolute;left:97.5px;top:201.3px;width:1.9px;height:144.4px;background:linear-gradient(180deg,#4343ff 0.0%,#4343ff 2.8%,#4444ff 5.6%,#4646ff 8.3%,#4d4dff 11.1%,#4444ff 13.9%,#3f3fff 16.7%,#3939ff 19.4%,#3b3bff 22.2%,#2d2dff 25.0%,#2f2fff 27.8%,#3c3cff 30.6%,#4a4aff 33.3%,#5555ff 36.1%,#6161ff 38.9%,#7272ff 41.7%,#8484ff 44.4%,#9696ff 47.2%,#a7a7ff 50.0%,#b7b7ff 52.8%,#c5c5ff 55.6%,#d3d3ff 58.3%,#dfdfff 61.1%,#eaeaff 63.9%,#f3f3ff 66.7%,#f9f9ff 69.4%,#fefeff 72.2%,#fff6f6 75.0%,#ffeded 77.8%,#ffe5e5 80.6%,#ffdede 83.3%,#ffd7d7 86.1%,#ffd1d1 88.9%,#ffcaca 91.7%,#ffc2c2 94.4%,#ffbbbb 97.2%,#ffb4b4 100.0%)"></div><div style="position:absolute;left:99px;top:201.3px;width:1.9px;height:144.4px;background:linear-gradient(180deg,#4c4cff 0.0%,#4c4cff 2.8%,#4d4dff 5.6%,#4f4fff 8.3%,#5656ff 11.1%,#4d4dff 13.9%,#4747ff 16.7%,#4040ff 19.4%,#4141ff 22.2%,#3333ff 25.0%,#3535ff 27.8%,#4242ff 30.6%,#5050ff 33.3%,#5a5aff 36.1%,#6767ff 38.9%,#7a7aff 41.7%,#8d8dff 44.4%,#a0a0ff 47.2%,#b1b1ff 50.0%,#c1c1ff 52.8%,#cfcfff 55.6%,#dbdbff 58.3%,#e5e5ff 61.1%,#eeeeff 63.9%,#f4f4ff 66.7%,#f9f9ff 69.4%,#fdfdff 72.2%,#ffffff 75.0%,#fff2f2 77.8%,#ffe8e8 80.6%,#ffdfdf 83.3%,#ffd7d7 86.1%,#ffcfcf 88.9%,#ffc7c7 91.7%,#ffbfbf 94.4%,#ffb8b8 97.2%,#ffb1b1 100.0%)"></div><div style="position:absolute;left:100.5px;top:201.3px;width:1.9px;height:144.4px;background:linear-gradient(180deg,#4f4fff 0.0%,#4f4fff 2.8%,#5050ff 5.6%,#5252ff 8.3%,#5959ff 11.1%,#4f4fff 13.9%,#4a4aff 16.7%,#4242ff 19.4%,#4242ff 22.2%,#3333ff 25.0%,#3535ff 27.8%,#4242ff 30.6%,#5050ff 33.3%,#5a5aff 36.1%,#6868ff 38.9%,#7c7cff 41.7%,#9191ff 44.4%,#a5a5ff 47.2%,#b7b7ff 50.0%,#c7c7ff 52.8%,#d4d4ff 55.6%,#dfdfff 58.3%,#e9e9ff 61.1%,#f0f0ff 63.9%,#f5f5ff 66.7%,#f9f9ff 69.4%,#fcfcff 72.2%,#fefeff 75.0%,#fffbfb 77.8%,#ffefef 80.6%,#ffe5e5 83.3%,#ffdcdc 86.1%,#ffd3d3 88.9%,#ffcbcb 91.7%,#ffc3c3 94.4%,#ffbbbb 97.2%,#ffb4b4 100.0%)"></div><div style="position:absolute;left:102px;top:201.3px;width:1.9px;height:144.4px;background:linear-gradient(180deg,#5555ff 0.0%,#5555ff 2.8%,#5555ff 5.6%,#5858ff 8.3%,#5e5eff 11.1%,#5555ff 13.9%,#4f4fff 16.7%,#4646ff 19.4%,#4646ff 22.2%,#3636ff 25.0%,#3737ff 27.8%,#4545ff 30.6%,#5252ff 33.3%,#5b5bff 36.1%,#6767ff 38.9%,#7b7bff 41.7%,#9090ff 44.4%,#a5a5ff 47.2%,#b7b7ff 50.0%,#c7c7ff 52.8%,#d5d5ff 55.6%,#e0e0ff 58.3%,#eaeaff 61.1%,#f2f2ff 63.9%,#f7f7ff 66.7%,#fafaff 69.4%,#fcfcff 72.2%,#fefeff 75.0%,#ffffff 77.8%,#ffffff 80.6%,#fff7f7 83.3%,#ffebeb 86.1%,#ffe0e0 88.9%,#ffd6d6 91.7%,#ffcccc 94.4%,#ffc3c3 97.2%,#ffbbbb 100.0%)"></div><div style="position:absolute;left:103.5px;top:201.3px;width:1.9px;height:144.4px;background:linear-gradient(180deg,#5656ff 0.0%,#5656ff 2.8%,#5656ff 5.6%,#5858ff 8.3%,#5f5fff 11.1%,#5555ff 13.9%,#4f4fff 16.7%,#4646ff 19.4%,#4545ff 22.2%,#3535ff 25.0%,#3636ff 27.8%,#4343ff 30.6%,#5050ff 33.3%,#5858ff 36.1%,#6363ff 38.9%,#7676ff 41.7%,#8b8bff 44.4%,#a0a0ff 47.2%,#b3b3ff 50.0%,#c3c3ff 52.8%,#d1d1ff 55.6%,#dcdcff 58.3%,#e6e6ff 61.1%,#ededff 63.9%,#f4f4ff 66.7%,#f8f8ff 69.4%,#fbfbff 72.2%,#fcfcff 75.0%,#fdfdff 77.8%,#fefeff 80.6%,#fefeff 83.3%,#fefeff 86.1%,#fff4f4 88.9%,#ffe8e8 91.7%,#ffdede 94.4%,#ffd4d4 97.2%,#ffcaca 100.0%)"></div><div style="position:absolute;left:105px;top:201.3px;width:1.9px;height:144.4px;background:linear-gradient(180deg,#5757ff 0.0%,#5757ff 2.8%,#5757ff 5.6%,#5959ff 8.3%,#6060ff 11.1%,#5656ff 13.9%,#5050ff 16.7%,#4646ff 19.4%,#4545ff 22.2%,#3434ff 25.0%,#3535ff 27.8%,#4242ff 30.6%,#4f4fff 33.3%,#5757ff 36.1%,#6060ff 38.9%,#7070ff 41.7%,#8484ff 44.4%,#9999ff 47.2%,#acacff 50.0%,#bbbbff 52.8%,#c7c7ff 55.6%,#d1d1ff 58.3%,#d9d9ff 61.1%,#e0e0ff 63.9%,#e4e4ff 66.7%,#e8e8ff 69.4%,#ececff 72.2%,#efefff 75.0%,#f1f1ff 77.8%,#f2f2ff 80.6%,#f3f3ff 83.3%,#f3f3ff 86.1%,#f3f3ff 88.9%,#f6f6ff 91.7%,#fff6f6 94.4%,#ffeaea 97.2%,#ffdfdf 100.0%)"></div><div style="position:absolute;left:106.5px;top:201.3px;width:1.9px;height:144.4px;background:linear-gradient(180deg,#5050ff 0.0%,#5050ff 2.8%,#5050ff 5.6%,#5252ff 8.3%,#5858ff 11.1%,#4f4fff 13.9%,#4848ff 16.7%,#3e3eff 19.4%,#3d3dff 22.2%,#2c2cff 25.0%,#2d2dff 27.8%,#3939ff 30.6%,#4646ff 33.3%,#4e4eff 36.1%,#5555ff 38.9%,#6262ff 41.7%,#7474ff 44.4%,#8888ff 47.2%,#9b9bff 50.0%,#a6a6ff 52.8%,#acacff 55.6%,#b0b0ff 58.3%,#b2b2ff 61.1%,#b3b3ff 63.9%,#b1b1ff 66.7%,#b2b2ff 69.4%,#b5b5ff 72.2%,#b8b8ff 75.0%,#bcbcff 77.8%,#bfbfff 80.6%,#c1c1ff 83.3%,#c3c3ff 86.1%,#c7c7ff 88.9%,#d5d5ff 91.7%,#e2e2ff 94.4%,#efefff 97.2%,#fffafa 100.0%)"></div><div style="position:absolute;left:108px;top:201.3px;width:1.9px;height:144.4px;background:linear-gradient(180deg,#4949ff 0.0%,#4949ff 2.8%,#4949ff 5.6%,#4b4bff 8.3%,#5151ff 11.1%,#4747ff 13.9%,#4141ff 16.7%,#3737ff 19.4%,#3636ff 22.2%,#2525ff 25.0%,#2525ff 27.8%,#3232ff 30.6%,#3f3fff 33.3%,#4646ff 36.1%,#4d4dff 38.9%,#5a5aff 41.7%,#6c6cff 44.4%,#7f7fff 47.2%,#9292ff 50.0%,#9a9aff 52.8%,#9b9bff 55.6%,#9a9aff 58.3%,#9797ff 61.1%,#9292ff 63.9%,#8c8cff 66.7%,#8989ff 69.4%,#8c8cff 72.2%,#9090ff 75.0%,#9393ff 77.8%,#9696ff 80.6%,#9999ff 83.3%,#9c9cff 86.1%,#a2a2ff 88.9%,#b8b8ff 91.7%,#ceceff 94.4%,#e4e4ff 97.2%,#f9f9ff 100.0%)"></div><div style="position:absolute;left:109.5px;top:201.3px;width:1.9px;height:144.4px;background:linear-gradient(180deg,#4747ff 0.0%,#4747ff 2.8%,#4747ff 5.6%,#4949ff 8.3%,#5050ff 11.1%,#4646ff 13.9%,#3f3fff 16.7%,#3636ff 19.4%,#3434ff 22.2%,#2424ff 25.0%,#2424ff 27.8%,#3131ff 30.6%,#3e3eff 33.3%,#4545ff 36.1%,#4d4dff 38.9%,#5b5bff 41.7%,#6d6dff 44.4%,#8181ff 47.2%,#9494ff 50.0%,#a0a0ff 52.8%,#a6a6ff 55.6%,#a9a9ff 58.3%,#ababff 61.1%,#ababff 63.9%,#aaaaff 66.7%,#aaaaff 69.4%,#aeaeff 72.2%,#b1b1ff 75.0%,#b4b4ff 77.8%,#b7b7ff 80.6%,#babaff 83.3%,#bebeff 86.1%,#c3c3ff 88.9%,#d2d2ff 91.7%,#e1e1ff 94.4%,#efefff 97.2%,#fff7f7 100.0%)"></div><div style="position:absolute;left:111px;top:201.3px;width:1.9px;height:144.4px;background:linear-gradient(180deg,#5050ff 0.0%,#5050ff 2.8%,#5050ff 5.6%,#5252ff 8.3%,#5959ff 11.1%,#4f4fff 13.9%,#4848ff 16.7%,#3f3fff 19.4%,#3e3eff 22.2%,#2e2eff 25.0%,#2f2fff 27.8%,#3c3cff 30.6%,#4949ff 33.3%,#5252ff 36.1%,#5d5dff 38.9%,#7171ff 41.7%,#8888ff 44.4%,#9d9dff 47.2%,#b1b1ff 50.0%,#bfbfff 52.8%,#cbcbff 55.6%,#d4d4ff 58.3%,#dbdbff 61.1%,#e0e0ff 63.9%,#e4e4ff 66.7%,#e7e7ff 69.4%,#eaeaff 72.2%,#ececff 75.0%,#eeeeff 77.8%,#f0f0ff 80.6%,#f1f1ff 83.3%,#f2f2ff 86.1%,#fff8f8 88.9%,#ffeded 91.7%,#ffe3e3 94.4%,#ffdbdb 97.2%,#ffd2d2 100.0%)"></div><div style="position:absolute;left:112.5px;top:201.3px;width:1.9px;height:144.4px;background:linear-gradient(180deg,#5555ff 0.0%,#5555ff 2.8%,#5555ff 5.6%,#5757ff 8.3%,#5e5eff 11.1%,#5555ff 13.9%,#4e4eff 16.7%,#4646ff 19.4%,#4545ff 22.2%,#3636ff 25.0%,#3737ff 27.8%,#4545ff 30.6%,#5353ff 33.3%,#5d5dff 36.1%,#6d6dff 38.9%,#8585ff 41.7%,#9d9dff 44.4%,#b3b3ff 47.2%,#c5c5ff 50.0%,#d4d4ff 52.8%,#e0e0ff 55.6%,#eaeaff 58.3%,#f2f2ff 61.1%,#f7f7ff 63.9%,#fafaff 66.7%,#fcfcff 69.4%,#fdfdff 72.2%,#fefeff 75.0%,#fefeff 77.8%,#fff7f7 80.6%,#ffebeb 83.3%,#ffe1e1 86.1%,#ffd7d7 88.9%,#ffcdcd 91.7%,#ffc4c4 94.4%,#ffbdbd 97.2%,#ffb6b6 100.0%)"></div><div style="position:absolute;left:114px;top:201.3px;width:1.9px;height:144.4px;background:linear-gradient(180deg,#5454ff 0.0%,#5454ff 2.8%,#5555ff 5.6%,#5757ff 8.3%,#5e5eff 11.1%,#5454ff 13.9%,#4f4fff 16.7%,#4646ff 19.4%,#4747ff 22.2%,#3838ff 25.0%,#3939ff 27.8%,#4848ff 30.6%,#5656ff 33.3%,#6060ff 36.1%,#7171ff 38.9%,#8989ff 41.7%,#a0a0ff 44.4%,#b5b5ff 47.2%,#c7c7ff 50.0%,#d6d6ff 52.8%,#e2e2ff 55.6%,#ececff 58.3%,#f3f3ff 61.1%,#f8f8ff 63.9%,#fbfbff 66.7%,#fefeff 69.4%,#ffffff 72.2%,#ffffff 75.0%,#fff5f5 77.8%,#ffeaea 80.6%,#ffdfdf 83.3%,#ffd6d6 86.1%,#ffcccc 88.9%,#ffc3c3 91.7%,#ffbcbc 94.4%,#ffb5b5 97.2%,#ffaeae 100.0%)"></div><div style="position:absolute;left:115.5px;top:201.3px;width:1.9px;height:144.4px;background:linear-gradient(180deg,#4c4cff 0.0%,#4c4cff 2.8%,#4d4dff 5.6%,#4f4fff 8.3%,#5656ff 11.1%,#4d4dff 13.9%,#4848ff 16.7%,#4040ff 19.4%,#4141ff 22.2%,#3333ff 25.0%,#3535ff 27.8%,#4343ff 30.6%,#5252ff 33.3%,#5d5dff 36.1%,#6e6eff 38.9%,#8585ff 41.7%,#9b9bff 44.4%,#afafff 47.2%,#c1c1ff 50.0%,#d0d0ff 52.8%,#dcdcff 55.6%,#e6e6ff 58.3%,#eeeeff 61.1%,#f5f5ff 63.9%,#f9f9ff 66.7%,#fdfdff 69.4%,#ffffff 72.2%,#fff5f5 75.0%,#ffebeb 77.8%,#ffe2e2 80.6%,#ffd9d9 83.3%,#ffd1d1 86.1%,#ffcaca 88.9%,#ffc2c2 91.7%,#ffbbbb 94.4%,#ffb4b4 97.2%,#ffadad 100.0%)"></div><div style="position:absolute;left:117px;top:201.3px;width:1.9px;height:144.4px;background:linear-gradient(180deg,#4a4aff 0.0%,#4b4bff 2.8%,#4b4bff 5.6%,#4d4dff 8.3%,#5555ff 11.1%,#4c4cff 13.9%,#4747ff 16.7%,#4040ff 19.4%,#4242ff 22.2%,#3535ff 25.0%,#3838ff 27.8%,#4646ff 30.6%,#5656ff 33.3%,#6262ff 36.1%,#7272ff 38.9%,#8888ff 41.7%,#9d9dff 44.4%,#b0b0ff 47.2%,#c1c1ff 50.0%,#d0d0ff 52.8%,#ddddff 55.6%,#e8e8ff 58.3%,#f0f0ff 61.1%,#f7f7ff 63.9%,#fcfcff 66.7%,#ffffff 69.4%,#fff4f4 72.2%,#ffeaea 75.0%,#ffe1e1 77.8%,#ffd9d9 80.6%,#ffd2d2 83.3%,#ffcaca 86.1%,#ffc3c3 88.9%,#ffbbbb 91.7%,#ffb4b4 94.4%,#ffadad 97.2%,#ffa6a6 100.0%)"></div><div style="position:absolute;left:118.5px;top:201.3px;width:1.9px;height:144.4px;background:linear-gradient(180deg,#4c4cff 0.0%,#4d4dff 2.8%,#4d4dff 5.6%,#5050ff 8.3%,#5757ff 11.1%,#4f4fff 13.9%,#4b4bff 16.7%,#4545ff 19.4%,#4848ff 22.2%,#3c3cff 25.0%,#3f3fff 27.8%,#4e4eff 30.6%,#5e5eff 33.3%,#6b6bff 36.1%,#7c7cff 38.9%,#9090ff 41.7%,#a4a4ff 44.4%,#b6b6ff 47.2%,#c7c7ff 50.0%,#d6d6ff 52.8%,#e3e3ff 55.6%,#eeeeff 58.3%,#f6f6ff 61.1%,#fcfcff 63.9%,#ffffff 66.7%,#fff2f2 69.4%,#ffe8e8 72.2%,#ffdfdf 75.0%,#ffd6d6 77.8%,#ffcece 80.6%,#ffc7c7 83.3%,#ffbfbf 86.1%,#ffb8b8 88.9%,#ffb0b0 91.7%,#ffa9a9 94.4%,#ffa2a2 97.2%,#ff9b9b 100.0%)"></div><div style="position:absolute;left:120px;top:201.3px;width:1.9px;height:144.4px;background:linear-gradient(180deg,#4d4dff 0.0%,#4d4dff 2.8%,#4e4eff 5.6%,#5151ff 8.3%,#5858ff 11.1%,#5050ff 13.9%,#4c4cff 16.7%,#4747ff 19.4%,#4c4cff 22.2%,#4040ff 25.0%,#4444ff 27.8%,#5353ff 30.6%,#6363ff 33.3%,#7070ff 36.1%,#8080ff 38.9%,#9292ff 41.7%,#a4a4ff 44.4%,#b6b6ff 47.2%,#c7c7ff 50.0%,#d6d6ff 52.8%,#e4e4ff 55.6%,#efefff 58.3%,#f8f8ff 61.1%,#fdfdff 63.9%,#fff8f8 66.7%,#ffecec 69.4%,#ffe3e3 72.2%,#ffdada 75.0%,#ffd1d1 77.8%,#ffc9c9 80.6%,#ffc1c1 83.3%,#ffbaba 86.1%,#ffb2b2 88.9%,#ffabab 91.7%,#ffa4a4 94.4%,#ff9d9d 97.2%,#ff9696 100.0%)"></div><div style="position:absolute;left:121.5px;top:201.3px;width:1.9px;height:144.4px;background:linear-gradient(180deg,#4848ff 0.0%,#4949ff 2.8%,#4949ff 5.6%,#4c4cff 8.3%,#5454ff 11.1%,#4c4cff 13.9%,#4949ff 16.7%,#4444ff 19.4%,#4a4aff 22.2%,#3e3eff 25.0%,#4242ff 27.8%,#5151ff 30.6%,#6161ff 33.3%,#6e6eff 36.1%,#7d7dff 38.9%,#8e8eff 41.7%,#9f9fff 44.4%,#b0b0ff 47.2%,#c1c1ff 50.0%,#d2d2ff 52.8%,#e1e1ff 55.6%,#eeeeff 58.3%,#f8f8ff 61.1%,#fefeff 63.9%,#fff4f4 66.7%,#ffeaea 69.4%,#ffe1e1 72.2%,#ffd9d9 75.0%,#ffd2d2 77.8%,#ffcbcb 80.6%,#ffc3c3 83.3%,#ffbbbb 86.1%,#ffb3b3 88.9%,#ffacac 91.7%,#ffa5a5 94.4%,#ff9e9e 97.2%,#ff9696 100.0%)"></div><div style="position:absolute;left:123px;top:201.3px;width:1.9px;height:144.4px;background:linear-gradient(180deg,#4747ff 0.0%,#4848ff 2.8%,#4848ff 5.6%,#4b4bff 8.3%,#5353ff 11.1%,#4b4bff 13.9%,#4848ff 16.7%,#4545ff 19.4%,#4b4bff 22.2%,#4141ff 25.0%,#4545ff 27.8%,#5353ff 30.6%,#6363ff 33.3%,#7070ff 36.1%,#7e7eff 38.9%,#8e8eff 41.7%,#9e9eff 44.4%,#aeaeff 47.2%,#c0c0ff 50.0%,#d1d1ff 52.8%,#e1e1ff 55.6%,#efefff 58.3%,#fafaff 61.1%,#fffcfc 63.9%,#fff0f0 66.7%,#ffe7e7 69.4%,#ffdfdf 72.2%,#ffd7d7 75.0%,#ffd0d0 77.8%,#ffc9c9 80.6%,#ffc1c1 83.3%,#ffb9b9 86.1%,#ffb1b1 88.9%,#ffaaaa 91.7%,#ffa2a2 94.4%,#ff9b9b 97.2%,#ff9494 100.0%)"></div><div style="position:absolute;left:124.5px;top:201.3px;width:1.9px;height:144.4px;background:linear-gradient(180deg,#4e4eff 0.0%,#4e4eff 2.8%,#4f4fff 5.6%,#5252ff 8.3%,#5a5aff 11.1%,#5353ff 13.9%,#5050ff 16.7%,#4d4dff 19.4%,#5555ff 22.2%,#4b4bff 25.0%,#4f4fff 27.8%,#5d5dff 30.6%,#6d6dff 33.3%,#7a7aff 36.1%,#8888ff 38.9%,#9696ff 41.7%,#a6a6ff 44.4%,#b6b6ff 47.2%,#c7c7ff 50.0%,#d7d7ff 52.8%,#e6e6ff 55.6%,#f3f3ff 58.3%,#fdfdff 61.1%,#fff7f7 63.9%,#ffebeb 66.7%,#ffe1e1 69.4%,#ffd7d7 72.2%,#ffcfcf 75.0%,#ffc6c6 77.8%,#ffbebe 80.6%,#ffb6b6 83.3%,#ffaeae 86.1%,#ffa6a6 88.9%,#ff9f9f 91.7%,#ff9797 94.4%,#ff9090 97.2%,#ff8989 100.0%)"></div><div style="position:absolute;left:126px;top:201.3px;width:1.9px;height:144.4px;background:linear-gradient(180deg,#5656ff 0.0%,#5757ff 2.8%,#5757ff 5.6%,#5b5bff 8.3%,#6363ff 11.1%,#5c5cff 13.9%,#5a5aff 16.7%,#5858ff 19.4%,#6060ff 22.2%,#5757ff 25.0%,#5b5bff 27.8%,#6969ff 30.6%,#7878ff 33.3%,#8686ff 36.1%,#9393ff 38.9%,#a2a2ff 41.7%,#b1b1ff 44.4%,#c0c0ff 47.2%,#d0d0ff 50.0%,#dfdfff 52.8%,#ededff 55.6%,#f8f8ff 58.3%,#ffffff 61.1%,#fff1f1 63.9%,#ffe4e4 66.7%,#ffd9d9 69.4%,#ffcece 72.2%,#ffc4c4 75.0%,#ffbaba 77.8%,#ffb2b2 80.6%,#ffaaaa 83.3%,#ffa2a2 86.1%,#ff9a9a 88.9%,#ff9292 91.7%,#ff8b8b 94.4%,#ff8383 97.2%,#ff7c7c 100.0%)"></div><div style="position:absolute;left:127.5px;top:201.3px;width:1.9px;height:144.4px;background:linear-gradient(180deg,#5555ff 0.0%,#5656ff 2.8%,#5757ff 5.6%,#5a5aff 8.3%,#6262ff 11.1%,#5b5bff 13.9%,#5a5aff 16.7%,#5959ff 19.4%,#6262ff 22.2%,#5a5aff 25.0%,#5e5eff 27.8%,#6c6cff 30.6%,#7b7bff 33.3%,#8888ff 36.1%,#9696ff 38.9%,#a4a4ff 41.7%,#b3b3ff 44.4%,#c2c2ff 47.2%,#d2d2ff 50.0%,#e1e1ff 52.8%,#efefff 55.6%,#fafaff 58.3%,#fffbfb 61.1%,#ffecec 63.9%,#ffe0e0 66.7%,#ffd5d5 69.4%,#ffcbcb 72.2%,#ffc1c1 75.0%,#ffb8b8 77.8%,#ffb0b0 80.6%,#ffa7a7 83.3%,#ff9f9f 86.1%,#ff9797 88.9%,#ff8f8f 91.7%,#ff8888 94.4%,#ff8080 97.2%,#ff7979 100.0%)"></div><div style="position:absolute;left:129px;top:201.3px;width:1.9px;height:144.4px;background:linear-gradient(180deg,#4c4cff 0.0%,#4c4cff 2.8%,#4d4dff 5.6%,#5151ff 8.3%,#5959ff 11.1%,#5252ff 13.9%,#5151ff 16.7%,#5151ff 19.4%,#5b5bff 22.2%,#5454ff 25.0%,#5858ff 27.8%,#6565ff 30.6%,#7474ff 33.3%,#8282ff 36.1%,#8f8fff 38.9%,#9d9dff 41.7%,#adadff 44.4%,#bebeff 47.2%,#d0d0ff 50.0%,#e0e0ff 52.8%,#f0f0ff 55.6%,#fcfcff 58.3%,#fff7f7 61.1%,#ffebeb 63.9%,#ffe1e1 66.7%,#ffd8d8 69.4%,#ffd0d0 72.2%,#ffc8c8 75.0%,#ffc0c0 77.8%,#ffb7b7 80.6%,#ffafaf 83.3%,#ffa6a6 86.1%,#ff9e9e 88.9%,#ff9696 91.7%,#ff8f8f 94.4%,#ff8787 97.2%,#ff7f7f 100.0%)"></div><div style="position:absolute;left:130.5px;top:201.3px;width:1.9px;height:144.4px;background:linear-gradient(180deg,#4343ff 0.0%,#4444ff 2.8%,#4545ff 5.6%,#4949ff 8.3%,#5151ff 11.1%,#4b4bff 13.9%,#4a4aff 16.7%,#4b4bff 19.4%,#5656ff 22.2%,#4f4fff 25.0%,#5353ff 27.8%,#6060ff 30.6%,#6e6eff 33.3%,#7c7cff 36.1%,#8a8aff 38.9%,#9898ff 41.7%,#a9a9ff 44.4%,#bcbcff 47.2%,#cfcfff 50.0%,#e1e1ff 52.8%,#f1f1ff 55.6%,#fdfdff 58.3%,#fff4f4 61.1%,#ffebeb 63.9%,#ffe3e3 66.7%,#ffdbdb 69.4%,#ffd5d5 72.2%,#ffcece 75.0%,#ffc6c6 77.8%,#ffbdbd 80.6%,#ffb5b5 83.3%,#ffacac 86.1%,#ffa4a4 88.9%,#ff9c9c 91.7%,#ff9494 94.4%,#ff8d8d 97.2%,#ff8585 100.0%)"></div><div style="position:absolute;left:132px;top:201.3px;width:1.9px;height:144.4px;background:linear-gradient(180deg,#4343ff 0.0%,#4444ff 2.8%,#4545ff 5.6%,#4949ff 8.3%,#5252ff 11.1%,#4b4bff 13.9%,#4b4bff 16.7%,#4c4cff 19.4%,#5858ff 22.2%,#5252ff 25.0%,#5757ff 27.8%,#6363ff 30.6%,#7171ff 33.3%,#7f7fff 36.1%,#8d8dff 38.9%,#9b9bff 41.7%,#adadff 44.4%,#c0c0ff 47.2%,#d3d3ff 50.0%,#e5e5ff 52.8%,#f5f5ff 55.6%,#fffefe 58.3%,#fff1f1 61.1%,#ffe8e8 63.9%,#ffe1e1 66.7%,#ffd9d9 69.4%,#ffd3d3 72.2%,#ffcccc 75.0%,#ffc3c3 77.8%,#ffbaba 80.6%,#ffb2b2 83.3%,#ffa9a9 86.1%,#ffa1a1 88.9%,#ff9999 91.7%,#ff9191 94.4%,#ff8989 97.2%,#ff8282 100.0%)"></div><div style="position:absolute;left:133.5px;top:201.3px;width:1.9px;height:144.4px;background:linear-gradient(180deg,#4848ff 0.0%,#4949ff 2.8%,#4a4aff 5.6%,#4e4eff 8.3%,#5757ff 11.1%,#5151ff 13.9%,#5151ff 16.7%,#5353ff 19.4%,#6060ff 22.2%,#5a5aff 25.0%,#5f5fff 27.8%,#6b6bff 30.6%,#7979ff 33.3%,#8787ff 36.1%,#9595ff 38.9%,#a4a4ff 41.7%,#b6b6ff 44.4%,#c8c8ff 47.2%,#dadaff 50.0%,#ebebff 52.8%,#f9f9ff 55.6%,#fff9f9 58.3%,#ffeded 61.1%,#ffe4e4 63.9%,#ffdcdc 66.7%,#ffd4d4 69.4%,#ffcccc 72.2%,#ffc5c5 75.0%,#ffbbbb 77.8%,#ffb2b2 80.6%,#ffaaaa 83.3%,#ffa1a1 86.1%,#ff9999 88.9%,#ff9191 91.7%,#ff8989 94.4%,#ff8181 97.2%,#ff7979 100.0%)"></div><div style="position:absolute;left:135px;top:201.3px;width:1.9px;height:144.4px;background:linear-gradient(180deg,#5151ff 0.0%,#5252ff 2.8%,#5353ff 5.6%,#5757ff 8.3%,#6060ff 11.1%,#5a5aff 13.9%,#5b5bff 16.7%,#5e5eff 19.4%,#6b6bff 22.2%,#6666ff 25.0%,#6b6bff 27.8%,#7777ff 30.6%,#8585ff 33.3%,#9393ff 36.1%,#a1a1ff 38.9%,#b0b0ff 41.7%,#c1c1ff 44.4%,#d2d2ff 47.2%,#e2e2ff 50.0%,#f1f1ff 52.8%,#fdfdff 55.6%,#fff5f5 58.3%,#ffe8e8 61.1%,#ffdede 63.9%,#ffd4d4 66.7%,#ffcbcb 69.4%,#ffc2c2 72.2%,#ffb9b9 75.0%,#ffb0b0 77.8%,#ffa7a7 80.6%,#ff9e9e 83.3%,#ff9595 86.1%,#ff8d8d 88.9%,#ff8585 91.7%,#ff7c7c 94.4%,#ff7474 97.2%,#ff6c6c 100.0%)"></div><div style="position:absolute;left:136.5px;top:201.3px;width:1.9px;height:144.4px;background:linear-gradient(180deg,#5454ff 0.0%,#5555ff 2.8%,#5656ff 5.6%,#5a5aff 8.3%,#6363ff 11.1%,#5e5eff 13.9%,#5f5fff 16.7%,#6262ff 19.4%,#7070ff 22.2%,#6c6cff 25.0%,#7171ff 27.8%,#7d7dff 30.6%,#8b8bff 33.3%,#9999ff 36.1%,#a7a7ff 38.9%,#b6b6ff 41.7%,#c7c7ff 44.4%,#d7d7ff 47.2%,#e7e7ff 50.0%,#f5f5ff 52.8%,#fefeff 55.6%,#fff0f0 58.3%,#ffe4e4 61.1%,#ffd9d9 63.9%,#ffcfcf 66.7%,#ffc6c6 69.4%,#ffbdbd 72.2%,#ffb3b3 75.0%,#ffaaaa 77.8%,#ffa1a1 80.6%,#ff9898 83.3%,#ff8f8f 86.1%,#ff8787 88.9%,#ff7e7e 91.7%,#ff7676 94.4%,#ff6e6e 97.2%,#ff6666 100.0%)"></div><div style="position:absolute;left:138px;top:201.3px;width:1.9px;height:144.4px;background:linear-gradient(180deg,#5656ff 0.0%,#5858ff 2.8%,#5959ff 5.6%,#5d5dff 8.3%,#6666ff 11.1%,#6161ff 13.9%,#6363ff 16.7%,#6666ff 19.4%,#7575ff 22.2%,#7171ff 25.0%,#7777ff 27.8%,#8383ff 30.6%,#9090ff 33.3%,#9e9eff 36.1%,#acacff 38.9%,#bcbcff 41.7%,#ccccff 44.4%,#ddddff 47.2%,#ececff 50.0%,#f8f8ff 52.8%,#fffcfc 55.6%,#ffecec 58.3%,#ffe0e0 61.1%,#ffd5d5 63.9%,#ffcbcb 66.7%,#ffc1c1 69.4%,#ffb8b8 72.2%,#ffaeae 75.0%,#ffa5a5 77.8%,#ff9c9c 80.6%,#ff9393 83.3%,#ff8a8a 86.1%,#ff8181 88.9%,#ff7979 91.7%,#ff7171 94.4%,#ff6868 97.2%,#ff6060 100.0%)"></div><div style="position:absolute;left:139.5px;top:201.3px;width:1.9px;height:144.4px;background:linear-gradient(180deg,#5757ff 0.0%,#5858ff 2.8%,#5959ff 5.6%,#5d5dff 8.3%,#6666ff 11.1%,#6161ff 13.9%,#6363ff 16.7%,#6767ff 19.4%,#7676ff 22.2%,#7272ff 25.0%,#7777ff 27.8%,#8282ff 30.6%,#8f8fff 33.3%,#9c9cff 36.1%,#aaaaff 38.9%,#babaff 41.7%,#cacaff 44.4%,#dbdbff 47.2%,#eaeaff 50.0%,#f7f7ff 52.8%,#fffefe 55.6%,#ffeeee 58.3%,#ffe1e1 61.1%,#ffd6d6 63.9%,#ffcccc 66.7%,#ffc2c2 69.4%,#ffb9b9 72.2%,#ffafaf 75.0%,#ffa6a6 77.8%,#ff9c9c 80.6%,#ff9393 83.3%,#ff8a8a 86.1%,#ff8181 88.9%,#ff7979 91.7%,#ff7070 94.4%,#ff6868 97.2%,#ff6060 100.0%)"></div><div style="position:absolute;left:141px;top:201.3px;width:1.9px;height:144.4px;background:linear-gradient(180deg,#5757ff 0.0%,#5858ff 2.8%,#5a5aff 5.6%,#5d5dff 8.3%,#6767ff 11.1%,#6161ff 13.9%,#6363ff 16.7%,#6767ff 19.4%,#7676ff 22.2%,#7272ff 25.0%,#7777ff 27.8%,#8282ff 30.6%,#8e8eff 33.3%,#9b9bff 36.1%,#a9a9ff 38.9%,#b8b8ff 41.7%,#c8c8ff 44.4%,#d9d9ff 47.2%,#e8e8ff 50.0%,#f6f6ff 52.8%,#ffffff 55.6%,#ffefef 58.3%,#ffe2e2 61.1%,#ffd7d7 63.9%,#ffcdcd 66.7%,#ffc3c3 69.4%,#ffbaba 72.2%,#ffb0b0 75.0%,#ffa6a6 77.8%,#ff9d9d 80.6%,#ff9393 83.3%,#ff8a8a 86.1%,#ff8181 88.9%,#ff7878 91.7%,#ff7070 94.4%,#ff6767 97.2%,#ff5f5f 100.0%)"></div><div style="position:absolute;left:142.5px;top:201.3px;width:1.9px;height:144.4px;background:linear-gradient(180deg,#5b5bff 0.0%,#5c5cff 2.8%,#5d5dff 5.6%,#6161ff 8.3%,#6a6aff 11.1%,#6464ff 13.9%,#6666ff 16.7%,#6a6aff 19.4%,#7a7aff 22.2%,#7676ff 25.0%,#7a7aff 27.8%,#8585ff 30.6%,#9090ff 33.3%,#9d9dff 36.1%,#aaaaff 38.9%,#b9b9ff 41.7%,#c9c9ff 44.4%,#d8d8ff 47.2%,#e8e8ff 50.0%,#f5f5ff 52.8%,#fefeff 55.6%,#fff0f0 58.3%,#ffe3e3 61.1%,#ffd7d7 63.9%,#ffcccc 66.7%,#ffc1c1 69.4%,#ffb8b8 72.2%,#ffadad 75.0%,#ffa3a3 77.8%,#ff9a9a 80.6%,#ff9090 83.3%,#ff8787 86.1%,#ff7e7e 88.9%,#ff7575 91.7%,#ff6c6c 94.4%,#ff6464 97.2%,#ff5b5b 100.0%)"></div><div style="position:absolute;left:144px;top:201.3px;width:1.9px;height:144.4px;background:linear-gradient(180deg,#5959ff 0.0%,#5a5aff 2.8%,#5b5bff 5.6%,#5f5fff 8.3%,#6868ff 11.1%,#6363ff 13.9%,#6464ff 16.7%,#6969ff 19.4%,#7878ff 22.2%,#7474ff 25.0%,#7878ff 27.8%,#8282ff 30.6%,#8d8dff 33.3%,#9999ff 36.1%,#a6a6ff 38.9%,#b5b5ff 41.7%,#c5c5ff 44.4%,#d5d5ff 47.2%,#e5e5ff 50.0%,#f3f3ff 52.8%,#fdfdff 55.6%,#fff2f2 58.3%,#ffe5e5 61.1%,#ffd9d9 63.9%,#ffcece 66.7%,#ffc4c4 69.4%,#ffbbbb 72.2%,#ffb1b1 75.0%,#ffa6a6 77.8%,#ff9d9d 80.6%,#ff9393 83.3%,#ff8a8a 86.1%,#ff8080 88.9%,#ff7777 91.7%,#ff6e6e 94.4%,#ff6565 97.2%,#ff5d5d 100.0%)"></div><div style="position:absolute;left:145.5px;top:201.3px;width:1.9px;height:144.4px;background:linear-gradient(180deg,#5c5cff 0.0%,#5d5dff 2.8%,#5e5eff 5.6%,#6161ff 8.3%,#6a6aff 11.1%,#6565ff 13.9%,#6767ff 16.7%,#6b6bff 19.4%,#7b7bff 22.2%,#7777ff 25.0%,#7a7aff 27.8%,#8484ff 30.6%,#8e8eff 33.3%,#9a9aff 36.1%,#a7a7ff 38.9%,#b5b5ff 41.7%,#c5c5ff 44.4%,#d4d4ff 47.2%,#e4e4ff 50.0%,#f2f2ff 52.8%,#fdfdff 55.6%,#fff3f3 58.3%,#ffe5e5 61.1%,#ffd9d9 63.9%,#ffcece 66.7%,#ffc4c4 69.4%,#ffbaba 72.2%,#ffb0b0 75.0%,#ffa5a5 77.8%,#ff9b9b 80.6%,#ff9191 83.3%,#ff8888 86.1%,#ff7e7e 88.9%,#ff7575 91.7%,#ff6c6c 94.4%,#ff6363 97.2%,#ff5a5a 100.0%)"></div><div style="position:absolute;left:147px;top:201.3px;width:1.9px;height:144.4px;background:linear-gradient(180deg,#5959ff 0.0%,#5959ff 2.8%,#5b5bff 5.6%,#5e5eff 8.3%,#6767ff 11.1%,#6262ff 13.9%,#6363ff 16.7%,#6868ff 19.4%,#7777ff 22.2%,#7373ff 25.0%,#7777ff 27.8%,#8080ff 30.6%,#8a8aff 33.3%,#9595ff 36.1%,#a2a2ff 38.9%,#b0b0ff 41.7%,#c0c0ff 44.4%,#d1d1ff 47.2%,#e1e1ff 50.0%,#f0f0ff 52.8%,#fcfcff 55.6%,#fff5f5 58.3%,#ffe7e7 61.1%,#ffdcdc 63.9%,#ffd1d1 66.7%,#ffc8c8 69.4%,#ffbebe 72.2%,#ffb4b4 75.0%,#ffaaaa 77.8%,#ffa0a0 80.6%,#ff9696 83.3%,#ff8c8c 86.1%,#ff8282 88.9%,#ff7979 91.7%,#ff7070 94.4%,#ff6767 97.2%,#ff5e5e 100.0%)"></div><div style="position:absolute;left:148.5px;top:201.3px;width:1.9px;height:144.4px;background:linear-gradient(180deg,#5b5bff 0.0%,#5c5cff 2.8%,#5d5dff 5.6%,#6161ff 8.3%,#6a6aff 11.1%,#6464ff 13.9%,#6666ff 16.7%,#6b6bff 19.4%,#7b7bff 22.2%,#7878ff 25.0%,#7b7bff 27.8%,#8484ff 30.6%,#8f8fff 33.3%,#9a9aff 36.1%,#a7a7ff 38.9%,#b6b6ff 41.7%,#c6c6ff 44.4%,#d6d6ff 47.2%,#e6e6ff 50.0%,#f4f4ff 52.8%,#fefeff 55.6%,#fff0f0 58.3%,#ffe3e3 61.1%,#ffd8d8 63.9%,#ffcdcd 66.7%,#ffc4c4 69.4%,#ffbaba 72.2%,#ffb0b0 75.0%,#ffa5a5 77.8%,#ff9b9b 80.6%,#ff9191 83.3%,#ff8787 86.1%,#ff7d7d 88.9%,#ff7474 91.7%,#ff6b6b 94.4%,#ff6161 97.2%,#ff5858 100.0%)"></div><div style="position:absolute;left:150px;top:201.3px;width:1.9px;height:144.4px;background:linear-gradient(180deg,#5f5fff 0.0%,#6060ff 2.8%,#6161ff 5.6%,#6565ff 8.3%,#6e6eff 11.1%,#6969ff 13.9%,#6b6bff 16.7%,#7070ff 19.4%,#8181ff 22.2%,#7e7eff 25.0%,#8181ff 27.8%,#8b8bff 30.6%,#9595ff 33.3%,#a1a1ff 36.1%,#aeaeff 38.9%,#bdbdff 41.7%,#cdcdff 44.4%,#dcdcff 47.2%,#ebebff 50.0%,#f8f8ff 52.8%,#fffcfc 55.6%,#ffebeb 58.3%,#ffdede 61.1%,#ffd3d3 63.9%,#ffc8c8 66.7%,#ffbebe 69.4%,#ffb4b4 72.2%,#ffa9a9 75.0%,#ff9f9f 77.8%,#ff9494 80.6%,#ff8a8a 83.3%,#ff8080 86.1%,#ff7777 88.9%,#ff6d6d 91.7%,#ff6464 94.4%,#ff5a5a 97.2%,#ff5151 100.0%)"></div><div style="position:absolute;left:151.5px;top:201.3px;width:1.9px;height:144.4px;background:linear-gradient(180deg,#6a6aff 0.0%,#6b6bff 2.8%,#6d6dff 5.6%,#7171ff 8.3%,#7a7aff 11.1%,#7575ff 13.9%,#7777ff 16.7%,#7c7cff 19.4%,#8d8dff 22.2%,#8a8aff 25.0%,#8e8eff 27.8%,#9898ff 30.6%,#a3a3ff 33.3%,#aeaeff 36.1%,#bbbbff 38.9%,#c9c9ff 41.7%,#d7d7ff 44.4%,#e5e5ff 47.2%,#f2f2ff 50.0%,#fcfcff 52.8%,#fff5f5 55.6%,#ffe5e5 58.3%,#ffd7d7 61.1%,#ffcaca 63.9%,#ffbdbd 66.7%,#ffb2b2 69.4%,#ffa7a7 72.2%,#ff9c9c 75.0%,#ff9191 77.8%,#ff8787 80.6%,#ff7c7c 83.3%,#ff7272 86.1%,#ff6969 88.9%,#ff5f5f 91.7%,#ff5555 94.4%,#ff4c4c 97.2%,#ff4343 100.0%)"></div><div style="position:absolute;left:153px;top:201.3px;width:1.9px;height:144.4px;background:linear-gradient(180deg,#7575ff 0.0%,#7676ff 2.8%,#7777ff 5.6%,#7b7bff 8.3%,#8585ff 11.1%,#8080ff 13.9%,#8282ff 16.7%,#8888ff 19.4%,#9999ff 22.2%,#9696ff 25.0%,#9b9bff 27.8%,#a4a4ff 30.6%,#afafff 33.3%,#bbbbff 36.1%,#c7c7ff 38.9%,#d4d4ff 41.7%,#e0e0ff 44.4%,#ededff 47.2%,#f7f7ff 50.0%,#fefeff 52.8%,#ffefef 55.6%,#ffdddd 58.3%,#ffcece 61.1%,#ffc0c0 63.9%,#ffb2b2 66.7%,#ffa5a5 69.4%,#ff9a9a 72.2%,#ff8f8f 75.0%,#ff8484 77.8%,#ff7a7a 80.6%,#ff6f6f 83.3%,#ff6565 86.1%,#ff5b5b 88.9%,#ff5151 91.7%,#ff4848 94.4%,#ff3e3e 97.2%,#ff3535 100.0%)"></div><div style="position:absolute;left:154.5px;top:201.3px;width:1.9px;height:144.4px;background:linear-gradient(180deg,#7b7bff 0.0%,#7c7cff 2.8%,#7e7eff 5.6%,#8282ff 8.3%,#8b8bff 11.1%,#8787ff 13.9%,#8989ff 16.7%,#8f8fff 19.4%,#a1a1ff 22.2%,#9e9eff 25.0%,#a3a3ff 27.8%,#adadff 30.6%,#b8b8ff 33.3%,#c4c4ff 36.1%,#cfcfff 38.9%,#dbdbff 41.7%,#e6e6ff 44.4%,#f1f1ff 47.2%,#fbfbff 50.0%,#fffefe 52.8%,#ffe8e8 55.6%,#ffd7d7 58.3%,#ffc7c7 61.1%,#ffb8b8 63.9%,#ffaaaa 66.7%,#ff9d9d 69.4%,#ff9191 72.2%,#ff8686 75.0%,#ff7b7b 77.8%,#ff7171 80.6%,#ff6767 83.3%,#ff5c5c 86.1%,#ff5252 88.9%,#ff4848 91.7%,#ff3f3f 94.4%,#ff3535 97.2%,#ff2c2c 100.0%)"></div><div style="position:absolute;left:156px;top:201.3px;width:1.9px;height:144.4px;background:linear-gradient(180deg,#7a7aff 0.0%,#7b7bff 2.8%,#7d7dff 5.6%,#8181ff 8.3%,#8b8bff 11.1%,#8686ff 13.9%,#8989ff 16.7%,#8f8fff 19.4%,#a1a1ff 22.2%,#9f9fff 25.0%,#a3a3ff 27.8%,#adadff 30.6%,#b8b8ff 33.3%,#c4c4ff 36.1%,#d0d0ff 38.9%,#dcdcff 41.7%,#e8e8ff 44.4%,#f3f3ff 47.2%,#fcfcff 50.0%,#fff7f7 52.8%,#ffe4e4 55.6%,#ffd3d3 58.3%,#ffc5c5 61.1%,#ffb7b7 63.9%,#ffa9a9 66.7%,#ff9d9d 69.4%,#ff9191 72.2%,#ff8686 75.0%,#ff7b7b 77.8%,#ff7070 80.6%,#ff6666 83.3%,#ff5c5c 86.1%,#ff5252 88.9%,#ff4848 91.7%,#ff3e3e 94.4%,#ff3434 97.2%,#ff2b2b 100.0%)"></div><div style="position:absolute;left:157.5px;top:201.3px;width:1.9px;height:144.4px;background:linear-gradient(180deg,#7979ff 0.0%,#7a7aff 2.8%,#7c7cff 5.6%,#8080ff 8.3%,#8a8aff 11.1%,#8585ff 13.9%,#8888ff 16.7%,#8f8fff 19.4%,#a1a1ff 22.2%,#9f9fff 25.0%,#a3a3ff 27.8%,#adadff 30.6%,#b8b8ff 33.3%,#c4c4ff 36.1%,#d1d1ff 38.9%,#ddddff 41.7%,#eaeaff 44.4%,#f5f5ff 47.2%,#fdfdff 50.0%,#fff2f2 52.8%,#ffe0e0 55.6%,#ffd1d1 58.3%,#ffc3c3 61.1%,#ffb6b6 63.9%,#ffa9a9 66.7%,#ff9d9d 69.4%,#ff9191 72.2%,#ff8686 75.0%,#ff7b7b 77.8%,#ff7070 80.6%,#ff6666 83.3%,#ff5b5b 86.1%,#ff5151 88.9%,#ff4747 91.7%,#ff3d3d 94.4%,#ff3434 97.2%,#ff2a2a 100.0%)"></div><div style="position:absolute;left:159px;top:201.3px;width:1.9px;height:144.4px;background:linear-gradient(180deg,#7878ff 0.0%,#7a7aff 2.8%,#7c7cff 5.6%,#8080ff 8.3%,#8a8aff 11.1%,#8585ff 13.9%,#8989ff 16.7%,#8f8fff 19.4%,#a1a1ff 22.2%,#9f9fff 25.0%,#a4a4ff 27.8%,#aeaeff 30.6%,#b9b9ff 33.3%,#c5c5ff 36.1%,#d2d2ff 38.9%,#dfdfff 41.7%,#ececff 44.4%,#f7f7ff 47.2%,#fefeff 50.0%,#ffeeee 52.8%,#ffdddd 55.6%,#ffcfcf 58.3%,#ffc1c1 61.1%,#ffb5b5 63.9%,#ffa9a9 66.7%,#ff9d9d 69.4%,#ff9191 72.2%,#ff8686 75.0%,#ff7b7b 77.8%,#ff7070 80.6%,#ff6565 83.3%,#ff5b5b 86.1%,#ff5050 88.9%,#ff4646 91.7%,#ff3c3c 94.4%,#ff3232 97.2%,#ff2929 100.0%)"></div><div style="position:absolute;left:160.5px;top:201.3px;width:1.9px;height:144.4px;background:linear-gradient(180deg,#7f7fff 0.0%,#8080ff 2.8%,#8282ff 5.6%,#8787ff 8.3%,#9191ff 11.1%,#8c8cff 13.9%,#9090ff 16.7%,#9696ff 19.4%,#a8a8ff 22.2%,#a6a6ff 25.0%,#ababff 27.8%,#b5b5ff 30.6%,#c0c0ff 33.3%,#ccccff 36.1%,#d8d8ff 38.9%,#e4e4ff 41.7%,#f0f0ff 44.4%,#f9f9ff 47.2%,#ffffff 50.0%,#ffe9e9 52.8%,#ffd8d8 55.6%,#ffc9c9 58.3%,#ffbbbb 61.1%,#ffaeae 63.9%,#ffa1a1 66.7%,#ff9595 69.4%,#ff8989 72.2%,#ff7e7e 75.0%,#ff7373 77.8%,#ff6868 80.6%,#ff5d5d 83.3%,#ff5353 86.1%,#ff4848 88.9%,#ff3e3e 91.7%,#ff3434 94.4%,#ff2a2a 97.2%,#ff2020 100.0%)"></div><div style="position:absolute;left:162px;top:201.3px;width:1.9px;height:144.4px;background:linear-gradient(180deg,#8383ff 0.0%,#8484ff 2.8%,#8686ff 5.6%,#8b8bff 8.3%,#9595ff 11.1%,#9191ff 13.9%,#9494ff 16.7%,#9b9bff 19.4%,#adadff 22.2%,#ababff 25.0%,#b0b0ff 27.8%,#babaff 30.6%,#c5c5ff 33.3%,#d0d0ff 36.1%,#dcdcff 38.9%,#e8e8ff 41.7%,#f3f3ff 44.4%,#fbfbff 47.2%,#fff9f9 50.0%,#ffe5e5 52.8%,#ffd4d4 55.6%,#ffc5c5 58.3%,#ffb7b7 61.1%,#ffa9a9 63.9%,#ff9c9c 66.7%,#ff9090 69.4%,#ff8585 72.2%,#ff7979 75.0%,#ff6e6e 77.8%,#ff6363 80.6%,#ff5858 83.3%,#ff4d4d 86.1%,#ff4343 88.9%,#ff3939 91.7%,#ff2e2e 94.4%,#ff2424 97.2%,#ff1a1a 100.0%)"></div><div style="position:absolute;left:163.5px;top:201.3px;width:1.9px;height:144.4px;background:linear-gradient(180deg,#8888ff 0.0%,#8a8aff 2.8%,#8c8cff 5.6%,#9090ff 8.3%,#9a9aff 11.1%,#9696ff 13.9%,#9a9aff 16.7%,#a1a1ff 19.4%,#b3b3ff 22.2%,#b1b1ff 25.0%,#b6b6ff 27.8%,#c0c0ff 30.6%,#cbcbff 33.3%,#d6d6ff 36.1%,#e1e1ff 38.9%,#ececff 41.7%,#f6f6ff 44.4%,#fdfdff 47.2%,#fff3f3 50.0%,#ffe0e0 52.8%,#ffcfcf 55.6%,#ffc0c0 58.3%,#ffb1b1 61.1%,#ffa4a4 63.9%,#ff9797 66.7%,#ff8a8a 69.4%,#ff7f7f 72.2%,#ff7373 75.0%,#ff6868 77.8%,#ff5d5d 80.6%,#ff5252 83.3%,#ff4747 86.1%,#ff3c3c 88.9%,#ff3232 91.7%,#ff2828 94.4%,#ff1d1d 97.2%,#ff1313 100.0%)"></div><div style="position:absolute;left:165px;top:201.3px;width:1.9px;height:144.4px;background:linear-gradient(180deg,#8888ff 0.0%,#8a8aff 2.8%,#8c8cff 5.6%,#9090ff 8.3%,#9b9bff 11.1%,#9797ff 13.9%,#9a9aff 16.7%,#a1a1ff 19.4%,#b4b4ff 22.2%,#b2b2ff 25.0%,#b7b7ff 27.8%,#c1c1ff 30.6%,#ccccff 33.3%,#d7d7ff 36.1%,#e3e3ff 38.9%,#eeeeff 41.7%,#f8f8ff 44.4%,#fefeff 47.2%,#ffeded 50.0%,#ffdbdb 52.8%,#ffcbcb 55.6%,#ffbdbd 58.3%,#ffafaf 61.1%,#ffa2a2 63.9%,#ff9595 66.7%,#ff8989 69.4%,#ff7d7d 72.2%,#ff7272 75.0%,#ff6666 77.8%,#ff5b5b 80.6%,#ff5050 83.3%,#ff4545 86.1%,#ff3b3b 88.9%,#ff3030 91.7%,#ff2626 94.4%,#ff1b1b 97.2%,#ff1111 100.0%)"></div><div style="position:absolute;left:166.5px;top:201.3px;width:1.9px;height:144.4px;background:linear-gradient(180deg,#8c8cff 0.0%,#8e8eff 2.8%,#9090ff 5.6%,#9595ff 8.3%,#a0a0ff 11.1%,#9c9cff 13.9%,#a0a0ff 16.7%,#a8a8ff 19.4%,#bbbbff 22.2%,#babaff 25.0%,#c0c0ff 27.8%,#cacaff 30.6%,#d5d5ff 33.3%,#e0e0ff 36.1%,#ebebff 38.9%,#f5f5ff 41.7%,#fdfdff 44.4%,#fff2f2 47.2%,#ffdfdf 50.0%,#ffcfcf 52.8%,#ffc0c0 55.6%,#ffb3b3 58.3%,#ffa5a5 61.1%,#ff9898 63.9%,#ff8c8c 66.7%,#ff8080 69.4%,#ff7474 72.2%,#ff6868 75.0%,#ff5d5d 77.8%,#ff5252 80.6%,#ff4747 83.3%,#ff3c3c 86.1%,#ff3131 88.9%,#ff2727 91.7%,#ff1c1c 94.4%,#ff1212 97.2%,#ff0808 100.0%)"></div><div style="position:absolute;left:168px;top:201.3px;width:1.9px;height:144.4px;background:linear-gradient(180deg,#8d8dff 0.0%,#9090ff 2.8%,#9292ff 5.6%,#9898ff 8.3%,#a3a3ff 11.1%,#a0a0ff 13.9%,#a5a5ff 16.7%,#adadff 19.4%,#c1c1ff 22.2%,#c0c0ff 25.0%,#c6c6ff 27.8%,#d1d1ff 30.6%,#dcdcff 33.3%,#e8e8ff 36.1%,#f2f2ff 38.9%,#fbfbff 41.7%,#fff8f8 44.4%,#ffe4e4 47.2%,#ffd4d4 50.0%,#ffc5c5 52.8%,#ffb8b8 55.6%,#ffabab 58.3%,#ff9e9e 61.1%,#ff9191 63.9%,#ff8585 66.7%,#ff7979 69.4%,#ff6d6d 72.2%,#ff6161 75.0%,#ff5656 77.8%,#ff4b4b 80.6%,#ff4040 83.3%,#ff3535 86.1%,#ff2a2a 88.9%,#ff2020 91.7%,#ff1515 94.4%,#ff0b0b 97.2%,#ff0000 100.0%)"></div><div style="position:absolute;left:169.5px;top:201.3px;width:1.9px;height:144.4px;background:linear-gradient(180deg,#9393ff 0.0%,#9696ff 2.8%,#9999ff 5.6%,#9e9eff 8.3%,#aaaaff 11.1%,#a7a7ff 13.9%,#adadff 16.7%,#b5b5ff 19.4%,#cacaff 22.2%,#c9c9ff 25.0%,#d0d0ff 27.8%,#dbdbff 30.6%,#e6e6ff 33.3%,#f0f0ff 36.1%,#f9f9ff 38.9%,#ffffff 41.7%,#ffe8e8 44.4%,#ffd7d7 47.2%,#ffc8c8 50.0%,#ffbaba 52.8%,#ffadad 55.6%,#ffa0a0 58.3%,#ff9393 61.1%,#ff8686 63.9%,#ff7a7a 66.7%,#ff6e6e 69.4%,#ff6262 72.2%,#ff5656 75.0%,#ff4b4b 77.8%,#ff4040 80.6%,#ff3535 83.3%,#ff2a2a 86.1%,#ff1f1f 88.9%,#ff1515 91.7%,#ff0a0a 94.4%,#ff0000 97.2%,#ff0000 100.0%)"></div><div style="position:absolute;left:171px;top:201.3px;width:1.9px;height:144.4px;background:linear-gradient(180deg,#9898ff 0.0%,#9b9bff 2.8%,#9e9eff 5.6%,#a5a5ff 8.3%,#b1b1ff 11.1%,#afafff 13.9%,#b4b4ff 16.7%,#bdbdff 19.4%,#d2d2ff 22.2%,#d2d2ff 25.0%,#d9d9ff 27.8%,#e4e4ff 30.6%,#eeeeff 33.3%,#f7f7ff 36.1%,#fefeff 38.9%,#ffeded 41.7%,#ffdbdb 44.4%,#ffcccc 47.2%,#ffbdbd 50.0%,#ffafaf 52.8%,#ffa2a2 55.6%,#ff9595 58.3%,#ff8888 61.1%,#ff7c7c 63.9%,#ff7070 66.7%,#ff6464 69.4%,#ff5858 72.2%,#ff4c4c 75.0%,#ff4141 77.8%,#ff3636 80.6%,#ff2b2b 83.3%,#ff2020 86.1%,#ff1515 88.9%,#ff0a0a 91.7%,#ff0000 94.4%,#ff0000 97.2%,#ff0000 100.0%)"></div><div style="position:absolute;left:172.5px;top:201.3px;width:1.9px;height:144.4px;background:linear-gradient(180deg,#9a9aff 0.0%,#9d9dff 2.8%,#a1a1ff 5.6%,#a8a8ff 8.3%,#b4b4ff 11.1%,#b3b3ff 13.9%,#b9b9ff 16.7%,#c2c2ff 19.4%,#d8d8ff 22.2%,#d9d9ff 25.0%,#e0e0ff 27.8%,#ebebff 30.6%,#f5f5ff 33.3%,#fdfdff 36.1%,#fff3f3 38.9%,#ffe0e0 41.7%,#ffd0d0 44.4%,#ffc2c2 47.2%,#ffb5b5 50.0%,#ffa8a8 52.8%,#ff9b9b 55.6%,#ff8e8e 58.3%,#ff8181 61.1%,#ff7575 63.9%,#ff6969 66.7%,#ff5d5d 69.4%,#ff5151 72.2%,#ff4545 75.0%,#ff3a3a 77.8%,#ff2f2f 80.6%,#ff2424 83.3%,#ff1919 86.1%,#ff0e0e 88.9%,#ff0303 91.7%,#ff0000 94.4%,#ff0000 97.2%,#ff0000 100.0%)"></div><div style="position:absolute;left:174px;top:201.3px;width:1.9px;height:144.4px;background:linear-gradient(180deg,#9898ff 0.0%,#9b9bff 2.8%,#9f9fff 5.6%,#a5a5ff 8.3%,#b2b2ff 11.1%,#b0b0ff 13.9%,#b5b5ff 16.7%,#bebeff 19.4%,#d4d4ff 22.2%,#d6d6ff 25.0%,#ddddff 27.8%,#e9e9ff 30.6%,#f3f3ff 33.3%,#fcfcff 36.1%,#fff3f3 38.9%,#ffe2e2 41.7%,#ffd3d3 44.4%,#ffc5c5 47.2%,#ffb9b9 50.0%,#ffadad 52.8%,#ffa0a0 55.6%,#ff9393 58.3%,#ff8686 61.1%,#ff7a7a 63.9%,#ff6d6d 66.7%,#ff6161 69.4%,#ff5555 72.2%,#ff4a4a 75.0%,#ff3e3e 77.8%,#ff3333 80.6%,#ff2727 83.3%,#ff1c1c 86.1%,#ff1111 88.9%,#ff0707 91.7%,#ff0000 94.4%,#ff0000 97.2%,#ff0000 100.0%)"></div><div style="position:absolute;left:175.5px;top:201.3px;width:1.9px;height:144.4px;background:linear-gradient(180deg,#9797ff 0.0%,#9a9aff 2.8%,#9d9dff 5.6%,#a4a4ff 8.3%,#afafff 11.1%,#adadff 13.9%,#b2b2ff 16.7%,#bbbbff 19.4%,#cfcfff 22.2%,#d1d1ff 25.0%,#d9d9ff 27.8%,#e5e5ff 30.6%,#f0f0ff 33.3%,#fafaff 36.1%,#fff8f8 38.9%,#ffe6e6 41.7%,#ffd7d7 44.4%,#ffcaca 47.2%,#ffbebe 50.0%,#ffb2b2 52.8%,#ffa6a6 55.6%,#ff9999 58.3%,#ff8c8c 61.1%,#ff7f7f 63.9%,#ff7272 66.7%,#ff6666 69.4%,#ff5a5a 72.2%,#ff4e4e 75.0%,#ff4343 77.8%,#ff3737 80.6%,#ff2c2c 83.3%,#ff2020 86.1%,#ff1515 88.9%,#ff0a0a 91.7%,#ff0000 94.4%,#ff0000 97.2%,#ff0000 100.0%)"></div><div style="position:absolute;left:177px;top:201.3px;width:1.9px;height:144.4px;background:linear-gradient(180deg,#9c9cff 0.0%,#9f9fff 2.8%,#a2a2ff 5.6%,#a8a8ff 8.3%,#b3b3ff 11.1%,#b0b0ff 13.9%,#b5b5ff 16.7%,#bdbdff 19.4%,#d1d1ff 22.2%,#d2d2ff 25.0%,#d9d9ff 27.8%,#e4e4ff 30.6%,#efefff 33.3%,#f9f9ff 36.1%,#fffefe 38.9%,#ffe8e8 41.7%,#ffd9d9 44.4%,#ffcbcb 47.2%,#ffbebe 50.0%,#ffb2b2 52.8%,#ffa7a7 55.6%,#ff9999 58.3%,#ff8b8b 61.1%,#ff7e7e 63.9%,#ff7272 66.7%,#ff6565 69.4%,#ff5959 72.2%,#ff4d4d 75.0%,#ff4141 77.8%,#ff3535 80.6%,#ff2a2a 83.3%,#ff1f1f 86.1%,#ff1313 88.9%,#ff0808 91.7%,#ff0000 94.4%,#ff0000 97.2%,#ff0000 100.0%)"></div><div style="position:absolute;left:178.5px;top:201.3px;width:1.9px;height:144.4px;background:linear-gradient(180deg,#a7a7ff 0.0%,#a9a9ff 2.8%,#acacff 5.6%,#b1b1ff 8.3%,#bcbcff 11.1%,#b9b9ff 13.9%,#bdbdff 16.7%,#c5c5ff 19.4%,#d8d8ff 22.2%,#d7d7ff 25.0%,#ddddff 27.8%,#e7e7ff 30.6%,#f0f0ff 33.3%,#f8f8ff 36.1%,#fefeff 38.9%,#ffebeb 41.7%,#ffd9d9 44.4%,#ffcaca 47.2%,#ffbcbc 50.0%,#ffaeae 52.8%,#ffa1a1 55.6%,#ff9494 58.3%,#ff8686 61.1%,#ff7979 63.9%,#ff6c6c 66.7%,#ff5f5f 69.4%,#ff5353 72.2%,#ff4747 75.0%,#ff3b3b 77.8%,#ff2f2f 80.6%,#ff2323 83.3%,#ff1717 86.1%,#ff0c0c 88.9%,#ff0101 91.7%,#ff0000 94.4%,#ff0000 97.2%,#ff0000 100.0%)"></div><div style="position:absolute;left:180px;top:201.3px;width:1.9px;height:144.4px;background:linear-gradient(180deg,#aeaeff 0.0%,#b0b0ff 2.8%,#b2b2ff 5.6%,#b8b8ff 8.3%,#c2c2ff 11.1%,#bfbfff 13.9%,#c3c3ff 16.7%,#cacaff 19.4%,#dcdcff 22.2%,#dadaff 25.0%,#dfdfff 27.8%,#e8e8ff 30.6%,#f0f0ff 33.3%,#f8f8ff 36.1%,#fefeff 38.9%,#ffeeee 41.7%,#ffdbdb 44.4%,#ffcbcb 47.2%,#ffbcbc 50.0%,#ffadad 52.8%,#ffa0a0 55.6%,#ff9292 58.3%,#ff8484 61.1%,#ff7777 63.9%,#ff6a6a 66.7%,#ff5d5d 69.4%,#ff5050 72.2%,#ff4444 75.0%,#ff3838 77.8%,#ff2b2b 80.6%,#ff2020 83.3%,#ff1414 86.1%,#ff0808 88.9%,#ff0000 91.7%,#ff0000 94.4%,#ff0000 97.2%,#ff0000 100.0%)"></div><div style="position:absolute;left:181.5px;top:201.3px;width:1.9px;height:144.4px;background:linear-gradient(180deg,#b5b5ff 0.0%,#b7b7ff 2.8%,#babaff 5.6%,#bfbfff 8.3%,#c9c9ff 11.1%,#c5c5ff 13.9%,#c9c9ff 16.7%,#d0d0ff 19.4%,#e2e2ff 22.2%,#dfdfff 25.0%,#e3e3ff 27.8%,#ebebff 30.6%,#f2f2ff 33.3%,#f9f9ff 36.1%,#fefeff 38.9%,#ffeeee 41.7%,#ffdada 44.4%,#ffc9c9 47.2%,#ffb9b9 50.0%,#ffaaaa 52.8%,#ff9c9c 55.6%,#ff8d8d 58.3%,#ff8080 61.1%,#ff7272 63.9%,#ff6565 66.7%,#ff5858 69.4%,#ff4b4b 72.2%,#ff3e3e 75.0%,#ff3232 77.8%,#ff2626 80.6%,#ff1a1a 83.3%,#ff0e0e 86.1%,#ff0202 88.9%,#ff0000 91.7%,#ff0000 94.4%,#ff0000 97.2%,#ff0000 100.0%)"></div><div style="position:absolute;left:183px;top:201.3px;width:1.9px;height:144.4px;background:linear-gradient(180deg,#b9b9ff 0.0%,#bbbbff 2.8%,#bdbdff 5.6%,#c2c2ff 8.3%,#ccccff 11.1%,#c8c8ff 13.9%,#ccccff 16.7%,#d2d2ff 19.4%,#e4e4ff 22.2%,#e2e2ff 25.0%,#e6e6ff 27.8%,#ededff 30.6%,#f4f4ff 33.3%,#fbfbff 36.1%,#ffffff 38.9%,#ffe7e7 41.7%,#ffd4d4 44.4%,#ffc4c4 47.2%,#ffb5b5 50.0%,#ffa6a6 52.8%,#ff9898 55.6%,#ff8a8a 58.3%,#ff7c7c 61.1%,#ff6e6e 63.9%,#ff6161 66.7%,#ff5454 69.4%,#ff4747 72.2%,#ff3a3a 75.0%,#ff2e2e 77.8%,#ff2222 80.6%,#ff1616 83.3%,#ff0a0a 86.1%,#ff0000 88.9%,#ff0000 91.7%,#ff0000 94.4%,#ff0000 97.2%,#ff0000 100.0%)"></div><div style="position:absolute;left:192.2px;top:201.1px;width:10.5px;height:140.5px;background:linear-gradient(180deg,#ff0000 0%,#ffffff 48%,#0000ff 100%)"></div>
<svg width="685" height="392" viewBox="0 0 685 392" font-family="'Liberation Sans', sans-serif" text-rendering="geometricPrecision">
<text x="0.5" y="22.7" font-size="14.5" text-anchor="start" font-weight="bold" fill="#000" stroke="#000" stroke-width="0.18" >a</text>
<line x1="34" y1="87.6" x2="201.3" y2="87.6" stroke="#7a7a7a" stroke-width="1.3" stroke-dasharray="2.6 2.2"/>
<path d="M34 87.6 L34.46 87.51 L34.93 87.41 L35.39 87.32 L35.86 87.23 L36.32 87.14 L36.79 87.03 L37.25 86.92 L37.72 86.86 L38.18 86.81 L38.65 86.68 L39.11 86.6 L39.58 86.47 L40.04 86.45 L40.51 86.35 L40.97 86.23 L41.44 86.17 L41.9 86.02 L42.37 85.88 L42.83 85.86 L43.29 85.83 L43.76 85.73 L44.22 85.58 L44.69 85.51 L45.15 85.46 L45.62 85.38 L46.08 85.35 L46.55 85.29 L47.01 85.19 L47.48 85.1 L47.94 85.04 L48.41 84.97 L48.87 84.91 L49.34 84.82 L49.8 84.75 L50.27 84.71 L50.73 84.57 L51.19 84.47 L51.66 84.37 L52.12 84.32 L52.59 84.18 L53.05 84.06 L53.52 84.05 L53.98 84 L54.45 83.9 L54.91 83.81 L55.38 83.69 L55.84 83.65 L56.31 83.56 L56.77 83.49 L57.24 83.47 L57.7 83.41 L58.17 83.31 L58.63 83.23 L59.09 83.19 L59.56 83.14 L60.02 83.17 L60.49 83.15 L60.95 83.07 L61.42 83.03 L61.88 83.03 L62.35 82.98 L62.81 82.91 L63.28 82.85 L63.74 82.83 L64.21 82.8 L64.67 82.76 L65.14 82.69 L65.6 82.66 L66.07 82.65 L66.53 82.62 L67 82.65 L67.46 82.67 L67.92 82.61 L68.39 82.52 L68.85 82.48 L69.32 82.48 L69.78 82.5 L70.25 82.48 L70.71 82.4 L71.18 82.36 L71.64 82.35 L72.11 82.3 L72.57 82.34 L73.04 82.34 L73.5 82.28 L73.97 82.28 L74.43 82.3 L74.9 82.33 L75.36 82.33 L75.83 82.28 L76.29 82.36 L76.75 82.33 L77.22 82.31 L77.68 82.28 L78.15 82.28 L78.61 82.27 L79.08 82.31 L79.54 82.33 L80.01 82.38 L80.47 82.46 L80.94 82.44 L81.4 82.46 L81.87 82.54 L82.33 82.56 L82.8 82.59 L83.26 82.64 L83.73 82.69 L84.19 82.71 L84.65 82.73 L85.12 82.75 L85.58 82.79 L86.05 82.89 L86.51 82.95 L86.98 83.02 L87.44 83.04 L87.91 83.03 L88.37 83.03 L88.84 83.05 L89.3 83.06 L89.77 83.16 L90.23 83.17 L90.7 83.21 L91.16 83.33 L91.63 83.45 L92.09 83.56 L92.56 83.57 L93.02 83.65 L93.48 83.75 L93.95 83.78 L94.41 83.85 L94.88 83.96 L95.34 84.05 L95.81 84.09 L96.27 84.18 L96.74 84.25 L97.2 84.27 L97.67 84.34 L98.13 84.42 L98.6 84.48 L99.06 84.6 L99.53 84.67 L99.99 84.73 L100.46 84.83 L100.92 84.94 L101.38 84.94 L101.85 85.01 L102.31 85.11 L102.78 85.16 L103.24 85.2 L103.71 85.34 L104.17 85.47 L104.64 85.58 L105.1 85.61 L105.57 85.72 L106.03 85.77 L106.5 85.82 L106.96 85.89 L107.43 86.01 L107.89 86.03 L108.36 86.09 L108.82 86.18 L109.29 86.31 L109.75 86.38 L110.21 86.49 L110.68 86.57 L111.14 86.68 L111.61 86.76 L112.07 86.91 L112.54 87.02 L113 87.04 L113.47 87.09 L113.93 87.21 L114.4 87.26 L114.86 87.39 L115.33 87.43 L115.79 87.51 L116.26 87.63 L116.72 87.76 L117.19 87.92 L117.65 87.97 L118.11 88.12 L118.58 88.17 L119.04 88.21 L119.51 88.3 L119.97 88.45 L120.44 88.5 L120.9 88.54 L121.37 88.63 L121.83 88.73 L122.3 88.86 L122.76 88.98 L123.23 89.11 L123.69 89.18 L124.16 89.28 L124.62 89.41 L125.09 89.55 L125.55 89.6 L126.02 89.71 L126.48 89.79 L126.94 89.89 L127.41 89.92 L127.87 89.95 L128.34 90.1 L128.8 90.22 L129.27 90.32 L129.73 90.33 L130.2 90.37 L130.66 90.48 L131.13 90.6 L131.59 90.65 L132.06 90.68 L132.52 90.71 L132.99 90.82 L133.45 90.86 L133.92 90.92 L134.38 91.01 L134.84 91.03 L135.31 91.15 L135.77 91.21 L136.24 91.34 L136.7 91.45 L137.17 91.46 L137.63 91.57 L138.1 91.6 L138.56 91.65 L139.03 91.67 L139.49 91.76 L139.96 91.84 L140.42 91.92 L140.89 91.93 L141.35 91.97 L141.82 91.98 L142.28 91.99 L142.75 92.1 L143.21 92.15 L143.67 92.25 L144.14 92.35 L144.6 92.44 L145.07 92.42 L145.53 92.42 L146 92.41 L146.46 92.47 L146.93 92.5 L147.39 92.5 L147.86 92.55 L148.32 92.58 L148.79 92.64 L149.25 92.72 L149.72 92.76 L150.18 92.73 L150.65 92.73 L151.11 92.7 L151.57 92.73 L152.04 92.78 L152.5 92.76 L152.97 92.73 L153.43 92.81 L153.9 92.8 L154.36 92.86 L154.83 92.91 L155.29 92.85 L155.76 92.91 L156.22 92.93 L156.69 92.85 L157.15 92.85 L157.62 92.89 L158.08 92.92 L158.55 92.93 L159.01 92.87 L159.47 92.9 L159.94 92.82 L160.4 92.82 L160.87 92.74 L161.33 92.68 L161.8 92.69 L162.26 92.71 L162.73 92.69 L163.19 92.72 L163.66 92.67 L164.12 92.7 L164.59 92.72 L165.05 92.62 L165.52 92.61 L165.98 92.56 L166.45 92.53 L166.91 92.51 L167.38 92.53 L167.84 92.43 L168.3 92.33 L168.77 92.24 L169.23 92.26 L169.7 92.26 L170.16 92.2 L170.63 92.1 L171.09 92.07 L171.56 92.01 L172.02 91.95 L172.49 91.95 L172.95 91.9 L173.42 91.89 L173.88 91.87 L174.35 91.87 L174.81 91.83 L175.28 91.71 L175.74 91.66 L176.21 91.59 L176.67 91.51 L177.13 91.41 L177.6 91.37 L178.06 91.35 L178.53 91.31 L178.99 91.27 L179.46 91.16 L179.92 91.06 L180.39 91.03 L180.85 90.99 L181.32 90.92 L181.78 90.85 L182.25 90.77 L182.71 90.74 L183.18 90.73 L183.64 90.68 L184.11 90.65 L184.57 90.56 L185.03 90.53 L185.5 90.49 L185.96 90.37 L186.43 90.3 L186.89 90.17 L187.36 90.09 L187.82 89.96 L188.29 89.93 L188.75 89.84 L189.22 89.72 L189.68 89.7 L190.15 89.56 L190.61 89.52 L191.08 89.4 L191.54 89.26 L192.01 89.15 L192.47 89.11 L192.94 89.09 L193.4 89.01 L193.86 88.87 L194.33 88.83 L194.79 88.7 L195.26 88.67 L195.72 88.54 L196.19 88.52 L196.65 88.46 L197.12 88.33 L197.58 88.23 L198.05 88.13 L198.51 88.04 L198.98 87.96 L199.44 87.89 L199.91 87.83 L200.37 87.76 L200.84 87.68 L201.3 87.6" stroke="#ff0000" stroke-width="1.35" fill="none" stroke-linejoin="round" />
<path d="M34 87.6 L34.46 87.36 L34.93 87.15 L35.39 86.96 L35.86 86.7 L36.32 86.45 L36.79 86.21 L37.25 86.02 L37.72 85.78 L38.18 85.55 L38.65 85.31 L39.11 85.2 L39.58 85.01 L40.04 84.82 L40.51 84.53 L40.97 84.17 L41.44 83.84 L41.9 83.66 L42.37 83.51 L42.83 83.4 L43.29 83.35 L43.76 83.28 L44.22 83.06 L44.69 82.89 L45.15 82.69 L45.62 82.34 L46.08 82.13 L46.55 81.91 L47.01 81.79 L47.48 81.73 L47.94 81.56 L48.41 81.45 L48.87 81.21 L49.34 80.83 L49.8 80.59 L50.27 80.5 L50.73 80.19 L51.19 79.93 L51.66 79.7 L52.12 79.43 L52.59 79.22 L53.05 79.01 L53.52 78.95 L53.98 78.68 L54.45 78.44 L54.91 78.45 L55.38 78.27 L55.84 78.1 L56.31 78.02 L56.77 77.91 L57.24 77.8 L57.7 77.57 L58.17 77.48 L58.63 77.29 L59.09 77.25 L59.56 77.04 L60.02 76.85 L60.49 76.8 L60.95 76.71 L61.42 76.52 L61.88 76.4 L62.35 76.36 L62.81 76.39 L63.28 76.38 L63.74 76.24 L64.21 76.28 L64.67 76.07 L65.14 76.08 L65.6 75.88 L66.07 75.89 L66.53 75.69 L67 75.6 L67.46 75.57 L67.92 75.53 L68.39 75.46 L68.85 75.41 L69.32 75.45 L69.78 75.51 L70.25 75.47 L70.71 75.3 L71.18 75.25 L71.64 75.37 L72.11 75.25 L72.57 75.17 L73.04 75.05 L73.5 75.17 L73.97 75.11 L74.43 75.26 L74.9 75.22 L75.36 75.3 L75.83 75.39 L76.29 75.27 L76.75 75.41 L77.22 75.4 L77.68 75.3 L78.15 75.41 L78.61 75.53 L79.08 75.43 L79.54 75.49 L80.01 75.46 L80.47 75.66 L80.94 75.73 L81.4 75.87 L81.87 75.84 L82.33 76.01 L82.8 75.9 L83.26 76.11 L83.73 76.08 L84.19 76.29 L84.65 76.4 L85.12 76.35 L85.58 76.52 L86.05 76.68 L86.51 76.67 L86.98 76.77 L87.44 76.99 L87.91 76.89 L88.37 77.09 L88.84 77.32 L89.3 77.43 L89.77 77.47 L90.23 77.48 L90.7 77.7 L91.16 77.85 L91.63 78.08 L92.09 78.18 L92.56 78.19 L93.02 78.23 L93.48 78.23 L93.95 78.31 L94.41 78.36 L94.88 78.49 L95.34 78.69 L95.81 78.96 L96.27 79.08 L96.74 79.32 L97.2 79.61 L97.67 79.78 L98.13 79.83 L98.6 80.12 L99.06 80.26 L99.53 80.46 L99.99 80.63 L100.46 80.91 L100.92 80.93 L101.38 81.19 L101.85 81.34 L102.31 81.55 L102.78 81.88 L103.24 82.03 L103.71 82.32 L104.17 82.61 L104.64 82.91 L105.1 83.15 L105.57 83.41 L106.03 83.49 L106.5 83.63 L106.96 83.64 L107.43 83.69 L107.89 83.75 L108.36 84.07 L108.82 84.31 L109.29 84.6 L109.75 84.78 L110.21 84.95 L110.68 85.08 L111.14 85.25 L111.61 85.57 L112.07 85.82 L112.54 86.03 L113 86.41 L113.47 86.75 L113.93 86.96 L114.4 87.26 L114.86 87.37 L115.33 87.63 L115.79 87.94 L116.26 88.24 L116.72 88.52 L117.19 88.8 L117.65 88.98 L118.11 89.19 L118.58 89.45 L119.04 89.61 L119.51 89.91 L119.97 89.99 L120.44 90.08 L120.9 90.26 L121.37 90.55 L121.83 90.8 L122.3 91.03 L122.76 91.42 L123.23 91.68 L123.69 91.9 L124.16 92.23 L124.62 92.57 L125.09 92.68 L125.55 92.93 L126.02 93.14 L126.48 93.22 L126.94 93.42 L127.41 93.73 L127.87 93.8 L128.34 94.09 L128.8 94.47 L129.27 94.62 L129.73 94.95 L130.2 95.21 L130.66 95.29 L131.13 95.44 L131.59 95.8 L132.06 96 L132.52 96.21 L132.99 96.39 L133.45 96.66 L133.92 96.8 L134.38 97.1 L134.84 97.31 L135.31 97.49 L135.77 97.5 L136.24 97.79 L136.7 97.86 L137.17 98.11 L137.63 98.22 L138.1 98.4 L138.56 98.55 L139.03 98.61 L139.49 98.79 L139.96 99.04 L140.42 99.28 L140.89 99.51 L141.35 99.49 L141.82 99.55 L142.28 99.52 L142.75 99.59 L143.21 99.88 L143.67 99.93 L144.14 99.96 L144.6 100.01 L145.07 100.14 L145.53 100.3 L146 100.42 L146.46 100.43 L146.93 100.6 L147.39 100.68 L147.86 100.78 L148.32 100.71 L148.79 100.71 L149.25 100.68 L149.72 100.69 L150.18 100.87 L150.65 101.04 L151.11 101.11 L151.57 101.25 L152.04 101.31 L152.5 101.29 L152.97 101.2 L153.43 101.23 L153.9 101.18 L154.36 101.35 L154.83 101.42 L155.29 101.28 L155.76 101.42 L156.22 101.45 L156.69 101.58 L157.15 101.68 L157.62 101.51 L158.08 101.33 L158.55 101.28 L159.01 101.39 L159.47 101.42 L159.94 101.46 L160.4 101.35 L160.87 101.25 L161.33 101.23 L161.8 101.17 L162.26 101.24 L162.73 101.16 L163.19 100.95 L163.66 100.82 L164.12 100.9 L164.59 100.83 L165.05 100.7 L165.52 100.71 L165.98 100.51 L166.45 100.46 L166.91 100.32 L167.38 100.29 L167.84 100.06 L168.3 99.91 L168.77 99.83 L169.23 99.88 L169.7 99.82 L170.16 99.87 L170.63 99.72 L171.09 99.48 L171.56 99.48 L172.02 99.36 L172.49 99.24 L172.95 99.14 L173.42 98.94 L173.88 98.68 L174.35 98.51 L174.81 98.42 L175.28 98.16 L175.74 98.11 L176.21 97.92 L176.67 97.76 L177.13 97.57 L177.6 97.36 L178.06 97.34 L178.53 97.18 L178.99 97.08 L179.46 96.9 L179.92 96.61 L180.39 96.45 L180.85 96.48 L181.32 96.34 L181.78 96.11 L182.25 95.84 L182.71 95.65 L183.18 95.41 L183.64 95.42 L184.11 95.12 L184.57 94.9 L185.03 94.72 L185.5 94.44 L185.96 94.18 L186.43 94.17 L186.89 93.92 L187.36 93.68 L187.82 93.63 L188.29 93.38 L188.75 93.19 L189.22 93.11 L189.68 92.83 L190.15 92.76 L190.61 92.53 L191.08 92.35 L191.54 92.22 L192.01 91.99 L192.47 91.78 L192.94 91.66 L193.4 91.28 L193.86 91.21 L194.33 91.13 L194.79 90.88 L195.26 90.53 L195.72 90.26 L196.19 89.96 L196.65 89.76 L197.12 89.52 L197.58 89.35 L198.05 89.18 L198.51 88.95 L198.98 88.78 L199.44 88.58 L199.91 88.31 L200.37 88.08 L200.84 87.83 L201.3 87.6" stroke="#ff00ff" stroke-width="1.35" fill="none" stroke-linejoin="round" />
<path d="M34 87.6 L34.46 87.07 L34.93 86.56 L35.39 86.01 L35.86 85.44 L36.32 85.04 L36.79 84.69 L37.25 84 L37.72 83.58 L38.18 83.19 L38.65 82.33 L39.11 81.81 L39.58 81.03 L40.04 80.54 L40.51 79.94 L40.97 79.7 L41.44 79.07 L41.9 78.29 L42.37 77.8 L42.83 77.15 L43.29 76.58 L43.76 76.47 L44.22 75.79 L44.69 75.27 L45.15 74.97 L45.62 74.84 L46.08 74.04 L46.55 73.59 L47.01 72.96 L47.48 72.23 L47.94 71.67 L48.41 70.98 L48.87 70.72 L49.34 70.13 L49.8 69.83 L50.27 69.15 L50.73 68.56 L51.19 68.57 L51.66 68.49 L52.12 68.31 L52.59 67.55 L53.05 67.23 L53.52 66.77 L53.98 66.57 L54.45 66.19 L54.91 65.9 L55.38 65.64 L55.84 65.19 L56.31 64.77 L56.77 64.12 L57.24 63.69 L57.7 63.1 L58.17 62.61 L58.63 62.05 L59.09 61.78 L59.56 61.88 L60.02 61.41 L60.49 60.9 L60.95 60.47 L61.42 60.33 L61.88 60.06 L62.35 60.18 L62.81 59.79 L63.28 59.62 L63.74 59.66 L64.21 59.84 L64.67 59.38 L65.14 58.87 L65.6 59.07 L66.07 58.71 L66.53 58.66 L67 58.8 L67.46 58.79 L67.92 58.42 L68.39 58.02 L68.85 58.28 L69.32 58.07 L69.78 58.3 L70.25 57.99 L70.71 58.01 L71.18 57.62 L71.64 57.21 L72.11 57.21 L72.57 56.84 L73.04 57.04 L73.5 57.39 L73.97 57.3 L74.43 57.65 L74.9 57.84 L75.36 57.85 L75.83 57.72 L76.29 57.95 L76.75 58.25 L77.22 57.91 L77.68 58.04 L78.15 57.7 L78.61 57.47 L79.08 57.68 L79.54 57.82 L80.01 57.92 L80.47 57.93 L80.94 58.01 L81.4 58.12 L81.87 58.21 L82.33 58.07 L82.8 58.31 L83.26 58.6 L83.73 58.66 L84.19 59.11 L84.65 59.48 L85.12 59.34 L85.58 59.59 L86.05 59.82 L86.51 60.46 L86.98 60.75 L87.44 60.91 L87.91 61.51 L88.37 61.63 L88.84 61.76 L89.3 62.35 L89.77 62.48 L90.23 62.76 L90.7 62.89 L91.16 63.3 L91.63 63.44 L92.09 63.59 L92.56 64.3 L93.02 64.94 L93.48 65.08 L93.95 65.05 L94.41 65.61 L94.88 66 L95.34 66.29 L95.81 66.8 L96.27 67.27 L96.74 67.77 L97.2 68.22 L97.67 68.5 L98.13 69.03 L98.6 69.49 L99.06 69.65 L99.53 70.42 L99.99 70.73 L100.46 70.95 L100.92 71.53 L101.38 72.15 L101.85 72.32 L102.31 72.96 L102.78 73.62 L103.24 74.07 L103.71 74.33 L104.17 75.08 L104.64 75.62 L105.1 76.15 L105.57 76.31 L106.03 76.82 L106.5 77.02 L106.96 77.77 L107.43 78.37 L107.89 78.73 L108.36 78.94 L108.82 79.51 L109.29 80.25 L109.75 81.04 L110.21 81.49 L110.68 82.2 L111.14 82.43 L111.61 82.68 L112.07 83.46 L112.54 84.13 L113 84.4 L113.47 84.83 L113.93 85.15 L114.4 85.85 L114.86 86.68 L115.33 87.35 L115.79 87.63 L116.26 88.36 L116.72 89.02 L117.19 89.62 L117.65 90.2 L118.11 90.8 L118.58 91.01 L119.04 91.84 L119.51 92.74 L119.97 92.89 L120.44 93.15 L120.9 93.38 L121.37 94.06 L121.83 94.34 L122.3 94.68 L122.76 95.57 L123.23 96.02 L123.69 96.41 L124.16 96.96 L124.62 97.6 L125.09 98.4 L125.55 99.11 L126.02 99.88 L126.48 100.73 L126.94 101.14 L127.41 101.78 L127.87 102.01 L128.34 102.85 L128.8 103 L129.27 103.35 L129.73 103.55 L130.2 103.8 L130.66 104.09 L131.13 104.63 L131.59 105.58 L132.06 105.91 L132.52 106.67 L132.99 107.29 L133.45 107.61 L133.92 108.04 L134.38 108.55 L134.84 108.65 L135.31 109.04 L135.77 109.62 L136.24 110.23 L136.7 110.36 L137.17 110.8 L137.63 111 L138.1 111.54 L138.56 112.15 L139.03 112.48 L139.49 112.59 L139.96 113.2 L140.42 113.31 L140.89 113.34 L141.35 113.5 L141.82 113.65 L142.28 114.43 L142.75 114.66 L143.21 114.72 L143.67 115.4 L144.14 115.85 L144.6 116.26 L145.07 116.45 L145.53 116.71 L146 116.92 L146.46 116.9 L146.93 117.47 L147.39 117.94 L147.86 118.31 L148.32 118.64 L148.79 118.97 L149.25 118.6 L149.72 118.39 L150.18 118.79 L150.65 118.83 L151.11 119.01 L151.57 119.16 L152.04 119.28 L152.5 119.16 L152.97 119.1 L153.43 119.22 L153.9 119.45 L154.36 119.53 L154.83 119.75 L155.29 119.61 L155.76 119.37 L156.22 119.4 L156.69 119.64 L157.15 119.76 L157.62 119.71 L158.08 119.48 L158.55 119.14 L159.01 119.14 L159.47 118.81 L159.94 118.64 L160.4 118.62 L160.87 118.63 L161.33 118.53 L161.8 118.26 L162.26 118.22 L162.73 117.97 L163.19 117.89 L163.66 117.96 L164.12 117.78 L164.59 117.48 L165.05 117.66 L165.52 117.51 L165.98 117.36 L166.45 116.86 L166.91 116.36 L167.38 116.31 L167.84 115.85 L168.3 115.5 L168.77 115.55 L169.23 115.41 L169.7 115.5 L170.16 115.03 L170.63 114.69 L171.09 114.2 L171.56 113.8 L172.02 113.51 L172.49 113.17 L172.95 112.96 L173.42 113.07 L173.88 112.76 L174.35 112.88 L174.81 112.82 L175.28 112.25 L175.74 112.26 L176.21 112.18 L176.67 112.04 L177.13 111.3 L177.6 111.13 L178.06 111.04 L178.53 110.31 L178.99 110.15 L179.46 109.43 L179.92 108.88 L180.39 108.23 L180.85 107.53 L181.32 107.15 L181.78 106.61 L182.25 106.64 L182.71 106.06 L183.18 105.7 L183.64 105.17 L184.11 105.11 L184.57 104.51 L185.03 103.8 L185.5 103.77 L185.96 103.49 L186.43 103 L186.89 102.32 L187.36 102.1 L187.82 101.89 L188.29 101.6 L188.75 101 L189.22 100.32 L189.68 99.94 L190.15 99.56 L190.61 99.14 L191.08 98.75 L191.54 98.29 L192.01 98.07 L192.47 97.51 L192.94 96.6 L193.4 96.17 L193.86 95.49 L194.33 95.26 L194.79 94.6 L195.26 93.92 L195.72 93.33 L196.19 92.88 L196.65 92.45 L197.12 91.91 L197.58 91.26 L198.05 91.01 L198.51 90.69 L198.98 90.09 L199.44 89.49 L199.91 89.03 L200.37 88.57 L200.84 88.07 L201.3 87.6" stroke="#1a2aff" stroke-width="1.35" fill="none" stroke-linejoin="round" />
<path d="M34 87.6 L34.46 86.77 L34.93 85.94 L35.39 85.18 L35.86 84.47 L36.32 83.66 L36.79 82.59 L37.25 81.54 L37.72 80.49 L38.18 79.83 L38.65 78.93 L39.11 78.26 L39.58 77.7 L40.04 77.15 L40.51 76.44 L40.97 75.02 L41.44 73.78 L41.9 72.62 L42.37 71.53 L42.83 71.07 L43.29 70.45 L43.76 69.5 L44.22 68.46 L44.69 67.34 L45.15 66.25 L45.62 66 L46.08 65.15 L46.55 64.26 L47.01 63.55 L47.48 63.17 L47.94 62.44 L48.41 62.09 L48.87 60.86 L49.34 59.77 L49.8 59.05 L50.27 58.56 L50.73 57.4 L51.19 56.55 L51.66 55.27 L52.12 53.93 L52.59 52.85 L53.05 51.83 L53.52 50.74 L53.98 50.1 L54.45 50.05 L54.91 50.09 L55.38 49.74 L55.84 50.19 L56.31 50.45 L56.77 49.94 L57.24 49.7 L57.7 49.11 L58.17 48.56 L58.63 48.14 L59.09 47.07 L59.56 46.89 L60.02 46.45 L60.49 46.23 L60.95 45.56 L61.42 45.29 L61.88 44.92 L62.35 44.18 L62.81 43.92 L63.28 43.42 L63.74 42.6 L64.21 42.66 L64.67 42.72 L65.14 42.56 L65.6 41.86 L66.07 41.38 L66.53 41.32 L67 41.14 L67.46 41.12 L67.92 40.8 L68.39 40.91 L68.85 40.35 L69.32 39.66 L69.78 39 L70.25 38.64 L70.71 38.11 L71.18 38.58 L71.64 38.71 L72.11 38.15 L72.57 37.86 L73.04 37.97 L73.5 37.55 L73.97 37.52 L74.43 37.31 L74.9 37.66 L75.36 38.07 L75.83 38.19 L76.29 38.61 L76.75 38.75 L77.22 38.32 L77.68 38.6 L78.15 39.19 L78.61 39.68 L79.08 40.01 L79.54 39.72 L80.01 39.93 L80.47 40.21 L80.94 40.69 L81.4 40.27 L81.87 40.51 L82.33 40.97 L82.8 41.56 L83.26 42.12 L83.73 42.54 L84.19 42.45 L84.65 42.96 L85.12 43.56 L85.58 43.69 L86.05 44.1 L86.51 43.79 L86.98 44.45 L87.44 44.68 L87.91 44.72 L88.37 45.18 L88.84 45.08 L89.3 45.58 L89.77 46.32 L90.23 46.86 L90.7 47.78 L91.16 48.26 L91.63 48.94 L92.09 48.97 L92.56 49.15 L93.02 49.72 L93.48 50.76 L93.95 51.52 L94.41 52.28 L94.88 53.06 L95.34 53.81 L95.81 53.91 L96.27 54.82 L96.74 55.79 L97.2 55.86 L97.67 56.39 L98.13 56.53 L98.6 57.33 L99.06 57.64 L99.53 58.26 L99.99 58.77 L100.46 59.37 L100.92 60.24 L101.38 61.49 L101.85 62.56 L102.31 62.94 L102.78 63.35 L103.24 63.8 L103.71 64.89 L104.17 65.62 L104.64 66.23 L105.1 67.03 L105.57 67.66 L106.03 68.61 L106.5 69.42 L106.96 70.21 L107.43 71.42 L107.89 71.93 L108.36 72.47 L108.82 73.92 L109.29 74.4 L109.75 74.95 L110.21 75.84 L110.68 77.34 L111.14 77.91 L111.61 79.29 L112.07 79.76 L112.54 80.59 L113 82.03 L113.47 83.28 L113.93 84.01 L114.4 84.83 L114.86 85.49 L115.33 86 L115.79 87.26 L116.26 88.79 L116.72 89.32 L117.19 90.82 L117.65 91.4 L118.11 92.78 L118.58 93.41 L119.04 94.12 L119.51 94.78 L119.97 95.8 L120.44 96.49 L120.9 97.89 L121.37 98.75 L121.83 99.96 L122.3 100.58 L122.76 101.36 L123.23 102.45 L123.69 103.47 L124.16 104.96 L124.62 106.35 L125.09 107.12 L125.55 108.01 L126.02 108.52 L126.48 109.34 L126.94 110.63 L127.41 111.63 L127.87 112.21 L128.34 113.06 L128.8 114.41 L129.27 114.87 L129.73 115.39 L130.2 116.68 L130.66 117.43 L131.13 118.35 L131.59 118.85 L132.06 119.85 L132.52 120.88 L132.99 121.62 L133.45 121.87 L133.92 123.05 L134.38 124.14 L134.84 124.66 L135.31 124.94 L135.77 125.64 L136.24 126.41 L136.7 126.73 L137.17 127.17 L137.63 128.34 L138.1 128.61 L138.56 129.59 L139.03 130.41 L139.49 130.65 L139.96 131.33 L140.42 131.62 L140.89 132.56 L141.35 132.72 L141.82 133.62 L142.28 134.47 L142.75 134.91 L143.21 135.5 L143.67 135.85 L144.14 135.85 L144.6 136.09 L145.07 137.03 L145.53 137.58 L146 137.85 L146.46 138.19 L146.93 138.28 L147.39 138.62 L147.86 139.35 L148.32 139.83 L148.79 139.67 L149.25 140.04 L149.72 139.97 L150.18 139.72 L150.65 139.87 L151.11 139.97 L151.57 140.13 L152.04 140.56 L152.5 140.34 L152.97 140.6 L153.43 140.38 L153.9 140.79 L154.36 140.57 L154.83 140.46 L155.29 140.53 L155.76 140.74 L156.22 141.2 L156.69 140.96 L157.15 141.13 L157.62 140.97 L158.08 141.33 L158.55 141.67 L159.01 141.87 L159.47 141.35 L159.94 141.51 L160.4 140.9 L160.87 140.86 L161.33 140.6 L161.8 140.56 L162.26 140.22 L162.73 140.41 L163.19 140.23 L163.66 139.5 L164.12 139.58 L164.59 139.13 L165.05 139.02 L165.52 138.89 L165.98 139.01 L166.45 139.05 L166.91 138.12 L167.38 137.38 L167.84 136.72 L168.3 136.08 L168.77 135.33 L169.23 135.41 L169.7 134.99 L170.16 134.65 L170.63 134.21 L171.09 133.4 L171.56 132.81 L172.02 132.03 L172.49 132.12 L172.95 131.59 L173.42 131.04 L173.88 130.41 L174.35 129.92 L174.81 129.2 L175.28 129.02 L175.74 128.17 L176.21 127.86 L176.67 127.31 L177.13 126.46 L177.6 125.83 L178.06 125.58 L178.53 125.35 L178.99 124.96 L179.46 124.23 L179.92 123.14 L180.39 122.21 L180.85 121.8 L181.32 121.35 L181.78 120.44 L182.25 120.09 L182.71 119.56 L183.18 119.38 L183.64 118.95 L184.11 118.12 L184.57 117.15 L185.03 116.29 L185.5 115.69 L185.96 114.48 L186.43 113.65 L186.89 113.3 L187.36 112.96 L187.82 111.66 L188.29 110.42 L188.75 109.31 L189.22 108.55 L189.68 108.08 L190.15 107.76 L190.61 107.21 L191.08 106.65 L191.54 105.35 L192.01 104.15 L192.47 103.12 L192.94 102.74 L193.4 102.19 L193.86 101.54 L194.33 100.22 L194.79 99.75 L195.26 98.59 L195.72 97.59 L196.19 96.77 L196.65 95.61 L197.12 95.07 L197.58 94.26 L198.05 93.66 L198.51 92.99 L198.98 92.26 L199.44 91.35 L199.91 90.47 L200.37 89.56 L200.84 88.52 L201.3 87.6" stroke="#000000" stroke-width="1.35" fill="none" stroke-linejoin="round" />
<rect x="34" y="23.2" width="167.3" height="128.8" fill="none" stroke="#5a5a5a" stroke-width="0.8"/>
<line x1="34" y1="149.2" x2="37" y2="149.2" stroke="#5a5a5a" stroke-width="0.8" />
<line x1="201.3" y1="149.2" x2="198.3" y2="149.2" stroke="#5a5a5a" stroke-width="0.8" />
<text x="28.8" y="152.2" font-size="8.4" text-anchor="end" font-weight="normal" fill="#1a1a1a" stroke="#1a1a1a" stroke-width="0.18" >&#8722;20</text>
<line x1="34" y1="133.8" x2="37" y2="133.8" stroke="#5a5a5a" stroke-width="0.8" />
<line x1="201.3" y1="133.8" x2="198.3" y2="133.8" stroke="#5a5a5a" stroke-width="0.8" />
<text x="28.8" y="136.8" font-size="8.4" text-anchor="end" font-weight="normal" fill="#1a1a1a" stroke="#1a1a1a" stroke-width="0.18" >&#8722;15</text>
<line x1="34" y1="118.4" x2="37" y2="118.4" stroke="#5a5a5a" stroke-width="0.8" />
<line x1="201.3" y1="118.4" x2="198.3" y2="118.4" stroke="#5a5a5a" stroke-width="0.8" />
<text x="28.8" y="121.4" font-size="8.4" text-anchor="end" font-weight="normal" fill="#1a1a1a" stroke="#1a1a1a" stroke-width="0.18" >&#8722;10</text>
<line x1="34" y1="103" x2="37" y2="103" stroke="#5a5a5a" stroke-width="0.8" />
<line x1="201.3" y1="103" x2="198.3" y2="103" stroke="#5a5a5a" stroke-width="0.8" />
<text x="28.8" y="106" font-size="8.4" text-anchor="end" font-weight="normal" fill="#1a1a1a" stroke="#1a1a1a" stroke-width="0.18" >&#8722;5</text>
<line x1="34" y1="87.6" x2="37" y2="87.6" stroke="#5a5a5a" stroke-width="0.8" />
<line x1="201.3" y1="87.6" x2="198.3" y2="87.6" stroke="#5a5a5a" stroke-width="0.8" />
<text x="28.8" y="90.6" font-size="8.4" text-anchor="end" font-weight="normal" fill="#1a1a1a" stroke="#1a1a1a" stroke-width="0.18" >0</text>
<line x1="34" y1="72.2" x2="37" y2="72.2" stroke="#5a5a5a" stroke-width="0.8" />
<line x1="201.3" y1="72.2" x2="198.3" y2="72.2" stroke="#5a5a5a" stroke-width="0.8" />
<text x="28.8" y="75.2" font-size="8.4" text-anchor="end" font-weight="normal" fill="#1a1a1a" stroke="#1a1a1a" stroke-width="0.18" >5</text>
<line x1="34" y1="56.8" x2="37" y2="56.8" stroke="#5a5a5a" stroke-width="0.8" />
<line x1="201.3" y1="56.8" x2="198.3" y2="56.8" stroke="#5a5a5a" stroke-width="0.8" />
<text x="28.8" y="59.8" font-size="8.4" text-anchor="end" font-weight="normal" fill="#1a1a1a" stroke="#1a1a1a" stroke-width="0.18" >10</text>
<line x1="34" y1="41.4" x2="37" y2="41.4" stroke="#5a5a5a" stroke-width="0.8" />
<line x1="201.3" y1="41.4" x2="198.3" y2="41.4" stroke="#5a5a5a" stroke-width="0.8" />
<text x="28.8" y="44.4" font-size="8.4" text-anchor="end" font-weight="normal" fill="#1a1a1a" stroke="#1a1a1a" stroke-width="0.18" >15</text>
<line x1="34" y1="26" x2="37" y2="26" stroke="#5a5a5a" stroke-width="0.8" />
<line x1="201.3" y1="26" x2="198.3" y2="26" stroke="#5a5a5a" stroke-width="0.8" />
<text x="28.8" y="29" font-size="8.4" text-anchor="end" font-weight="normal" fill="#1a1a1a" stroke="#1a1a1a" stroke-width="0.18" >20</text>
<line x1="34" y1="141.5" x2="35.5" y2="141.5" stroke="#5a5a5a" stroke-width="0.7" />
<line x1="201.3" y1="141.5" x2="199.8" y2="141.5" stroke="#5a5a5a" stroke-width="0.7" />
<line x1="34" y1="126.1" x2="35.5" y2="126.1" stroke="#5a5a5a" stroke-width="0.7" />
<line x1="201.3" y1="126.1" x2="199.8" y2="126.1" stroke="#5a5a5a" stroke-width="0.7" />
<line x1="34" y1="110.7" x2="35.5" y2="110.7" stroke="#5a5a5a" stroke-width="0.7" />
<line x1="201.3" y1="110.7" x2="199.8" y2="110.7" stroke="#5a5a5a" stroke-width="0.7" />
<line x1="34" y1="95.3" x2="35.5" y2="95.3" stroke="#5a5a5a" stroke-width="0.7" />
<line x1="201.3" y1="95.3" x2="199.8" y2="95.3" stroke="#5a5a5a" stroke-width="0.7" />
<line x1="34" y1="79.9" x2="35.5" y2="79.9" stroke="#5a5a5a" stroke-width="0.7" />
<line x1="201.3" y1="79.9" x2="199.8" y2="79.9" stroke="#5a5a5a" stroke-width="0.7" />
<line x1="34" y1="64.5" x2="35.5" y2="64.5" stroke="#5a5a5a" stroke-width="0.7" />
<line x1="201.3" y1="64.5" x2="199.8" y2="64.5" stroke="#5a5a5a" stroke-width="0.7" />
<line x1="34" y1="49.1" x2="35.5" y2="49.1" stroke="#5a5a5a" stroke-width="0.7" />
<line x1="201.3" y1="49.1" x2="199.8" y2="49.1" stroke="#5a5a5a" stroke-width="0.7" />
<line x1="34" y1="33.7" x2="35.5" y2="33.7" stroke="#5a5a5a" stroke-width="0.7" />
<line x1="201.3" y1="33.7" x2="199.8" y2="33.7" stroke="#5a5a5a" stroke-width="0.7" />
<line x1="34" y1="152" x2="34" y2="149" stroke="#5a5a5a" stroke-width="0.8" />
<line x1="34" y1="23.2" x2="34" y2="26.2" stroke="#5a5a5a" stroke-width="0.8" />
<text x="34" y="164" font-size="8.4" text-anchor="middle" font-weight="normal" fill="#1a1a1a" stroke="#1a1a1a" stroke-width="0.18" >0</text>
<line x1="75.83" y1="152" x2="75.83" y2="149" stroke="#5a5a5a" stroke-width="0.8" />
<line x1="75.83" y1="23.2" x2="75.83" y2="26.2" stroke="#5a5a5a" stroke-width="0.8" />
<text x="75.83" y="164" font-size="8.4" text-anchor="middle" font-weight="normal" fill="#1a1a1a" stroke="#1a1a1a" stroke-width="0.18" >45</text>
<line x1="117.65" y1="152" x2="117.65" y2="149" stroke="#5a5a5a" stroke-width="0.8" />
<line x1="117.65" y1="23.2" x2="117.65" y2="26.2" stroke="#5a5a5a" stroke-width="0.8" />
<text x="117.65" y="164" font-size="8.4" text-anchor="middle" font-weight="normal" fill="#1a1a1a" stroke="#1a1a1a" stroke-width="0.18" >90</text>
<line x1="159.47" y1="152" x2="159.47" y2="149" stroke="#5a5a5a" stroke-width="0.8" />
<line x1="159.47" y1="23.2" x2="159.47" y2="26.2" stroke="#5a5a5a" stroke-width="0.8" />
<text x="159.47" y="164" font-size="8.4" text-anchor="middle" font-weight="normal" fill="#1a1a1a" stroke="#1a1a1a" stroke-width="0.18" >135</text>
<line x1="201.3" y1="152" x2="201.3" y2="149" stroke="#5a5a5a" stroke-width="0.8" />
<line x1="201.3" y1="23.2" x2="201.3" y2="26.2" stroke="#5a5a5a" stroke-width="0.8" />
<text x="201.3" y="164" font-size="8.4" text-anchor="middle" font-weight="normal" fill="#1a1a1a" stroke="#1a1a1a" stroke-width="0.18" >180</text>
<line x1="54.91" y1="152" x2="54.91" y2="150.5" stroke="#5a5a5a" stroke-width="0.7" />
<line x1="54.91" y1="23.2" x2="54.91" y2="24.7" stroke="#5a5a5a" stroke-width="0.7" />
<line x1="96.74" y1="152" x2="96.74" y2="150.5" stroke="#5a5a5a" stroke-width="0.7" />
<line x1="96.74" y1="23.2" x2="96.74" y2="24.7" stroke="#5a5a5a" stroke-width="0.7" />
<line x1="138.56" y1="152" x2="138.56" y2="150.5" stroke="#5a5a5a" stroke-width="0.7" />
<line x1="138.56" y1="23.2" x2="138.56" y2="24.7" stroke="#5a5a5a" stroke-width="0.7" />
<line x1="180.39" y1="152" x2="180.39" y2="150.5" stroke="#5a5a5a" stroke-width="0.7" />
<line x1="180.39" y1="23.2" x2="180.39" y2="24.7" stroke="#5a5a5a" stroke-width="0.7" />
<text x="116.8" y="178.6" font-size="8.6" text-anchor="middle" font-weight="normal" fill="#1a1a1a" stroke="#1a1a1a" stroke-width="0.18" ><tspan font-style="italic">&#967;</tspan> (&#176;)</text>
<text x="0" y="0" font-size="8.6" text-anchor="middle" font-weight="normal" fill="#1a1a1a" stroke="#1a1a1a" stroke-width="0.18" transform="translate(9.0 87.7) rotate(-90)">Photocurrent (nA)</text>
<line x1="140.3" y1="36.5" x2="156.6" y2="36.5" stroke="#000" stroke-width="1.3" />
<text x="160.4" y="39.1" font-size="7.4" text-anchor="start" font-weight="normal" fill="#1a1a1a" stroke="#1a1a1a" stroke-width="0.18" >1993&#956;W</text>
<line x1="140.3" y1="45.7" x2="156.6" y2="45.7" stroke="#1a2aff" stroke-width="1.3" />
<text x="160.4" y="48.3" font-size="7.4" text-anchor="start" font-weight="normal" fill="#1a1a1a" stroke="#1a1a1a" stroke-width="0.18" >1169&#956;W</text>
<line x1="140.3" y1="54.6" x2="156.6" y2="54.6" stroke="#ff00ff" stroke-width="1.3" />
<text x="160.4" y="57.2" font-size="7.4" text-anchor="start" font-weight="normal" fill="#1a1a1a" stroke="#1a1a1a" stroke-width="0.18" >281&#956;W</text>
<line x1="140.3" y1="64.2" x2="156.6" y2="64.2" stroke="#ff0000" stroke-width="1.3" />
<text x="160.4" y="66.8" font-size="7.4" text-anchor="start" font-weight="normal" fill="#1a1a1a" stroke="#1a1a1a" stroke-width="0.18" >151&#956;W</text>
<text x="228.2" y="23.4" font-size="14.5" text-anchor="start" font-weight="bold" fill="#000" stroke="#000" stroke-width="0.18" >b</text>
<rect x="241" y="42.8" width="174" height="90.5" fill="#aff552" />
<rect x="241" y="43" width="40.2" height="6" fill="#0a10f5" />
<rect x="241" y="48.9" width="40.2" height="1.3" fill="#30c8d8" opacity="0.6"/>
<rect x="281.2" y="43" width="40.5" height="6.3" fill="#8eeca0" />
<rect x="321.7" y="43" width="42" height="6.5" fill="#a80000" />
<rect x="321.7" y="49.2" width="42" height="1" fill="#ffa000" opacity="0.8"/>
<rect x="363.7" y="43" width="51.3" height="6.3" fill="#a2f08a" />
<rect x="365" y="47.6" width="48.5" height="1.2" fill="#70e4c0" opacity="0.6"/>
<rect x="413.5" y="43" width="1.5" height="6.3" fill="#40d8e0" />
<rect x="241" y="126.4" width="40.2" height="6.6" fill="#0a10f5" />
<rect x="241" y="125.6" width="40.2" height="1" fill="#30c8d8" opacity="0.6"/>
<rect x="281.2" y="126.4" width="39" height="6.6" fill="#8eeca0" />
<rect x="320.2" y="126.9" width="41.5" height="6.3" fill="#a80000" />
<rect x="320.2" y="126" width="41.5" height="1" fill="#ffa000" opacity="0.8"/>
<rect x="361.7" y="126.4" width="53.3" height="6.6" fill="#98ee98" />
<rect x="411" y="126.4" width="4" height="6.6" fill="#40d8e0" />
<path d="M245.2 61.8 L250.9 56.3 L273.8 56.3 L279.6 62 L279.6 72.4 L273.3 72.4 L273.3 67.2 L269.9 63.8 L256 63.8 L252.6 67.2 L252.6 79.9 L256 83.3 L273.3 83.3 L279.6 89.8 L279.6 112.9 L273.1 119.6 L251.5 119.6 L245.2 113.3 L245.2 103 L252.6 103 L252.6 109.9 L255.6 112.9 L270.4 112.9 L273.3 110 L273.3 93.8 L270.3 90.6 L250.9 90.6 L245.2 84.6 L245.2 61.8" stroke="#20a0f0" stroke-width="0.8" fill="#0010f0" stroke-linejoin="round" />
<path d="M245.2 61.8 L250.9 56.3 L273.8 56.3 L279.6 62 L279.6 72.4 L273.3 72.4 L273.3 67.2 L269.9 63.8 L256 63.8 L252.6 67.2 L252.6 79.9 L256 83.3 L273.3 83.3 L279.6 89.8 L279.6 112.9 L273.1 119.6 L251.5 119.6 L245.2 113.3 L245.2 103 L252.6 103 L252.6 109.9 L255.6 112.9 L270.4 112.9 L273.3 110 L273.3 93.8 L270.3 90.6 L250.9 90.6 L245.2 84.6 L245.2 61.8" stroke="#0010f0" stroke-width="0.3" fill="none" stroke-linejoin="round" />
<rect x="291.8" y="56.9" width="26.9" height="5.8" fill="#a2ee98" />
<rect x="292.9" y="58.6" width="23.5" height="2.9" fill="#84e8b4" />
<rect x="317.4" y="56.4" width="1.4" height="6.8" fill="#40e0e8" />
<rect x="290.9" y="56.9" width="1" height="5.8" fill="#e8f040" opacity="0.7"/>
<line x1="301" y1="62.7" x2="301" y2="112.5" stroke="#d8f040" stroke-width="0.8" />
<line x1="307.5" y1="62.7" x2="307.5" y2="112.5" stroke="#30e0e0" stroke-width="1.0" />
<rect x="290.6" y="113.3" width="28.1" height="6.3" fill="#a2ee98" />
<rect x="291.6" y="115" width="25.5" height="3" fill="#84e8b4" />
<rect x="317.4" y="113" width="1.4" height="6.8" fill="#40e0e8" />
<path d="M329 56.5 L362 56.5 L362 63 L349.5 63 L349.5 120 L342.8 120 L342.8 63 L329 63 L329 56.5" stroke="#ff7000" stroke-width="0.9" fill="#a80000" stroke-linejoin="round" opacity="0.95"/>
<path d="M329 56.5 L362 56.5 L362 63 L349.5 63 L349.5 120 L342.8 120 L342.8 63 L329 63 L329 56.5" stroke="#c00000" stroke-width="0.35" fill="none" stroke-linejoin="round" />
<path d="M373.9 120 L373.9 57 L400.4 57 L408.1 64 L408.1 84.4 L403 90.2 L379.4 90.2 L379.4 120 L373.9 120" stroke="#60dcc0" stroke-width="1.0" fill="none" stroke-linejoin="round" />
<line x1="373.4" y1="60" x2="373.4" y2="120" stroke="#e0f040" stroke-width="0.6" />
<path d="M379.4 66 L382 63.4 L400 63.4 L402.4 66" stroke="#80e4b0" stroke-width="0.7" fill="none" stroke-linejoin="round" />
<line x1="402.4" y1="67.9" x2="402.4" y2="79.3" stroke="#f0f030" stroke-width="1.1" />
<line x1="381.3" y1="84.6" x2="397.9" y2="84.6" stroke="#f0f020" stroke-width="1.6" />
<rect x="241.0" y="42.8" width="174" height="90.5" fill="none" stroke="#bbb" stroke-width="0.6"/>
<defs><linearGradient id="jet" x1="0" x2="1" y1="0" y2="0"><stop offset="0.000" stop-color="#000080"/><stop offset="0.025" stop-color="#000099"/><stop offset="0.050" stop-color="#0000b2"/><stop offset="0.075" stop-color="#0000cc"/><stop offset="0.100" stop-color="#0000e6"/><stop offset="0.125" stop-color="#0000ff"/><stop offset="0.150" stop-color="#001aff"/><stop offset="0.175" stop-color="#0033ff"/><stop offset="0.200" stop-color="#004dff"/><stop offset="0.225" stop-color="#0066ff"/><stop offset="0.250" stop-color="#0080ff"/><stop offset="0.275" stop-color="#0099ff"/><stop offset="0.300" stop-color="#00b2ff"/><stop offset="0.325" stop-color="#00ccff"/><stop offset="0.350" stop-color="#00e5ff"/><stop offset="0.375" stop-color="#00ffff"/><stop offset="0.400" stop-color="#1affe5"/><stop offset="0.425" stop-color="#33ffcc"/><stop offset="0.450" stop-color="#4dffb2"/><stop offset="0.475" stop-color="#66ff99"/><stop offset="0.500" stop-color="#80ff80"/><stop offset="0.525" stop-color="#99ff66"/><stop offset="0.550" stop-color="#b3ff4c"/><stop offset="0.575" stop-color="#ccff33"/><stop offset="0.600" stop-color="#e5ff1a"/><stop offset="0.625" stop-color="#ffff00"/><stop offset="0.650" stop-color="#ffe500"/><stop offset="0.675" stop-color="#ffcc00"/><stop offset="0.700" stop-color="#ffb300"/><stop offset="0.725" stop-color="#ff9900"/><stop offset="0.750" stop-color="#ff8000"/><stop offset="0.775" stop-color="#ff6600"/><stop offset="0.800" stop-color="#ff4c00"/><stop offset="0.825" stop-color="#ff3300"/><stop offset="0.850" stop-color="#ff1a00"/><stop offset="0.875" stop-color="#ff0000"/><stop offset="0.900" stop-color="#e50000"/><stop offset="0.925" stop-color="#cc0000"/><stop offset="0.950" stop-color="#b30000"/><stop offset="0.975" stop-color="#990000"/><stop offset="1.000" stop-color="#800000"/></linearGradient></defs>
<rect x="241" y="138" width="174" height="9" fill="url(#jet)" />
<rect x="241" y="138" width="174" height="9" fill="none" stroke="#999" stroke-width="0.5"/>
<text x="241.8" y="157" font-size="8.6" text-anchor="middle" font-weight="normal" fill="#1a1a1a" stroke="#1a1a1a" stroke-width="0.18" >&#8722;1</text>
<text x="327" y="157" font-size="8.6" text-anchor="middle" font-weight="normal" fill="#1a1a1a" stroke="#1a1a1a" stroke-width="0.18" >0</text>
<text x="412.3" y="157" font-size="8.6" text-anchor="middle" font-weight="normal" fill="#1a1a1a" stroke="#1a1a1a" stroke-width="0.18" >1</text>
<text x="331" y="170.6" font-size="8.8" text-anchor="middle" font-weight="normal" fill="#1a1a1a" stroke="#1a1a1a" stroke-width="0.18" >Photocurrent (a.u.)</text>
<circle cx="263.4" cy="31.0" r="7.8" fill="none" stroke="#0000ee" stroke-width="2.2"/>
<path d="M267.9 19.9 L271.4 28.3 L262.6 25.6 Z" fill="#0000ee"/>
<circle cx="346.1" cy="31.4" r="7.8" fill="none" stroke="#ff3300" stroke-width="2.2"/>
<path d="M357.8 27.3 L349.6 24.0 L352.0 32.6 Z" fill="#ff3300"/>
<path d="M293.7 31.1 L301.4 26.9 L301.4 30.1 L307.7 30.1 L307.7 26.9 L315.4 31.1 L307.7 35.3 L307.7 32.1 L301.4 32.1 L301.4 35.3 Z" fill="#000"/>
<path d="M390.3 20.0 L394.6 28.2 L391.3 28.2 L391.3 33.9 L394.6 33.9 L390.3 42.1 L386.0 33.9 L389.3 33.9 L389.3 28.2 L386.0 28.2 Z" fill="#000"/>
<rect x="33" y="201.3" width="151.5" height="144.4" fill="none" stroke="#555" stroke-width="0.8"/>
<rect x="192.2" y="201.1" width="10.5" height="140.5" fill="none" stroke="#888" stroke-width="0.4"/>
<text x="1" y="199" font-size="14.5" text-anchor="start" font-weight="bold" fill="#000" stroke="#000" stroke-width="0.18" >c</text>
<line x1="33" y1="345.7" x2="36" y2="345.7" stroke="#555" stroke-width="0.8" />
<text x="24.8" y="348.7" font-size="8.6" text-anchor="end" fill="#1a1a1a" stroke="#1a1a1a" stroke-width="0.18">10</text>
<text x="25.0" y="344.5" font-size="6.1" text-anchor="start" fill="#1a1a1a" stroke="#1a1a1a" stroke-width="0.18">0</text>
<line x1="33" y1="334.98" x2="34.5" y2="334.98" stroke="#555" stroke-width="0.6" />
<line x1="33" y1="328.71" x2="34.5" y2="328.71" stroke="#555" stroke-width="0.6" />
<line x1="33" y1="324.27" x2="34.5" y2="324.27" stroke="#555" stroke-width="0.6" />
<line x1="33" y1="320.82" x2="34.5" y2="320.82" stroke="#555" stroke-width="0.6" />
<line x1="33" y1="318" x2="34.5" y2="318" stroke="#555" stroke-width="0.6" />
<line x1="33" y1="315.61" x2="34.5" y2="315.61" stroke="#555" stroke-width="0.6" />
<line x1="33" y1="313.55" x2="34.5" y2="313.55" stroke="#555" stroke-width="0.6" />
<line x1="33" y1="311.73" x2="34.5" y2="311.73" stroke="#555" stroke-width="0.6" />
<line x1="33" y1="310.1" x2="36" y2="310.1" stroke="#555" stroke-width="0.8" />
<text x="24.8" y="313.1" font-size="8.6" text-anchor="end" fill="#1a1a1a" stroke="#1a1a1a" stroke-width="0.18">10</text>
<text x="25.0" y="308.9" font-size="6.1" text-anchor="start" fill="#1a1a1a" stroke="#1a1a1a" stroke-width="0.18">1</text>
<line x1="33" y1="299.38" x2="34.5" y2="299.38" stroke="#555" stroke-width="0.6" />
<line x1="33" y1="293.11" x2="34.5" y2="293.11" stroke="#555" stroke-width="0.6" />
<line x1="33" y1="288.67" x2="34.5" y2="288.67" stroke="#555" stroke-width="0.6" />
<line x1="33" y1="285.22" x2="34.5" y2="285.22" stroke="#555" stroke-width="0.6" />
<line x1="33" y1="282.4" x2="34.5" y2="282.4" stroke="#555" stroke-width="0.6" />
<line x1="33" y1="280.01" x2="34.5" y2="280.01" stroke="#555" stroke-width="0.6" />
<line x1="33" y1="277.95" x2="34.5" y2="277.95" stroke="#555" stroke-width="0.6" />
<line x1="33" y1="276.13" x2="34.5" y2="276.13" stroke="#555" stroke-width="0.6" />
<line x1="33" y1="274.5" x2="36" y2="274.5" stroke="#555" stroke-width="0.8" />
<text x="24.8" y="277.5" font-size="8.6" text-anchor="end" fill="#1a1a1a" stroke="#1a1a1a" stroke-width="0.18">10</text>
<text x="25.0" y="273.3" font-size="6.1" text-anchor="start" fill="#1a1a1a" stroke="#1a1a1a" stroke-width="0.18">2</text>
<line x1="33" y1="263.78" x2="34.5" y2="263.78" stroke="#555" stroke-width="0.6" />
<line x1="33" y1="257.51" x2="34.5" y2="257.51" stroke="#555" stroke-width="0.6" />
<line x1="33" y1="253.07" x2="34.5" y2="253.07" stroke="#555" stroke-width="0.6" />
<line x1="33" y1="249.62" x2="34.5" y2="249.62" stroke="#555" stroke-width="0.6" />
<line x1="33" y1="246.8" x2="34.5" y2="246.8" stroke="#555" stroke-width="0.6" />
<line x1="33" y1="244.41" x2="34.5" y2="244.41" stroke="#555" stroke-width="0.6" />
<line x1="33" y1="242.35" x2="34.5" y2="242.35" stroke="#555" stroke-width="0.6" />
<line x1="33" y1="240.53" x2="34.5" y2="240.53" stroke="#555" stroke-width="0.6" />
<line x1="33" y1="238.9" x2="36" y2="238.9" stroke="#555" stroke-width="0.8" />
<text x="24.8" y="241.9" font-size="8.6" text-anchor="end" fill="#1a1a1a" stroke="#1a1a1a" stroke-width="0.18">10</text>
<text x="25.0" y="237.7" font-size="6.1" text-anchor="start" fill="#1a1a1a" stroke="#1a1a1a" stroke-width="0.18">3</text>
<line x1="33" y1="228.18" x2="34.5" y2="228.18" stroke="#555" stroke-width="0.6" />
<line x1="33" y1="221.91" x2="34.5" y2="221.91" stroke="#555" stroke-width="0.6" />
<line x1="33" y1="217.47" x2="34.5" y2="217.47" stroke="#555" stroke-width="0.6" />
<line x1="33" y1="214.02" x2="34.5" y2="214.02" stroke="#555" stroke-width="0.6" />
<line x1="33" y1="211.2" x2="34.5" y2="211.2" stroke="#555" stroke-width="0.6" />
<line x1="33" y1="208.81" x2="34.5" y2="208.81" stroke="#555" stroke-width="0.6" />
<line x1="33" y1="206.75" x2="34.5" y2="206.75" stroke="#555" stroke-width="0.6" />
<line x1="33" y1="204.93" x2="34.5" y2="204.93" stroke="#555" stroke-width="0.6" />
<line x1="33" y1="203.3" x2="36" y2="203.3" stroke="#555" stroke-width="0.8" />
<text x="24.8" y="206.3" font-size="8.6" text-anchor="end" fill="#1a1a1a" stroke="#1a1a1a" stroke-width="0.18">10</text>
<text x="25.0" y="202.1" font-size="6.1" text-anchor="start" fill="#1a1a1a" stroke="#1a1a1a" stroke-width="0.18">4</text>
<line x1="33" y1="345.7" x2="33" y2="342.7" stroke="#555" stroke-width="0.8" />
<text x="33" y="357.2" font-size="8.6" text-anchor="middle" font-weight="normal" fill="#1a1a1a" stroke="#1a1a1a" stroke-width="0.18" >45</text>
<line x1="58.25" y1="345.7" x2="58.25" y2="342.7" stroke="#555" stroke-width="0.8" />
<text x="58.25" y="357.2" font-size="8.6" text-anchor="middle" font-weight="normal" fill="#1a1a1a" stroke="#1a1a1a" stroke-width="0.18" >60</text>
<line x1="83.5" y1="345.7" x2="83.5" y2="342.7" stroke="#555" stroke-width="0.8" />
<text x="83.5" y="357.2" font-size="8.6" text-anchor="middle" font-weight="normal" fill="#1a1a1a" stroke="#1a1a1a" stroke-width="0.18" >75</text>
<line x1="108.75" y1="345.7" x2="108.75" y2="342.7" stroke="#555" stroke-width="0.8" />
<text x="108.75" y="357.2" font-size="8.6" text-anchor="middle" font-weight="normal" fill="#1a1a1a" stroke="#1a1a1a" stroke-width="0.18" >90</text>
<line x1="134" y1="345.7" x2="134" y2="342.7" stroke="#555" stroke-width="0.8" />
<text x="134" y="357.2" font-size="8.6" text-anchor="middle" font-weight="normal" fill="#1a1a1a" stroke="#1a1a1a" stroke-width="0.18" >105</text>
<line x1="159.25" y1="345.7" x2="159.25" y2="342.7" stroke="#555" stroke-width="0.8" />
<text x="159.25" y="357.2" font-size="8.6" text-anchor="middle" font-weight="normal" fill="#1a1a1a" stroke="#1a1a1a" stroke-width="0.18" >120</text>
<line x1="184.5" y1="345.7" x2="184.5" y2="342.7" stroke="#555" stroke-width="0.8" />
<text x="184.5" y="357.2" font-size="8.6" text-anchor="middle" font-weight="normal" fill="#1a1a1a" stroke="#1a1a1a" stroke-width="0.18" >135</text>
<line x1="41.42" y1="345.7" x2="41.42" y2="344.2" stroke="#555" stroke-width="0.6" />
<line x1="49.83" y1="345.7" x2="49.83" y2="344.2" stroke="#555" stroke-width="0.6" />
<line x1="66.67" y1="345.7" x2="66.67" y2="344.2" stroke="#555" stroke-width="0.6" />
<line x1="75.08" y1="345.7" x2="75.08" y2="344.2" stroke="#555" stroke-width="0.6" />
<line x1="91.92" y1="345.7" x2="91.92" y2="344.2" stroke="#555" stroke-width="0.6" />
<line x1="100.33" y1="345.7" x2="100.33" y2="344.2" stroke="#555" stroke-width="0.6" />
<line x1="117.17" y1="345.7" x2="117.17" y2="344.2" stroke="#555" stroke-width="0.6" />
<line x1="125.58" y1="345.7" x2="125.58" y2="344.2" stroke="#555" stroke-width="0.6" />
<line x1="142.42" y1="345.7" x2="142.42" y2="344.2" stroke="#555" stroke-width="0.6" />
<line x1="150.83" y1="345.7" x2="150.83" y2="344.2" stroke="#555" stroke-width="0.6" />
<line x1="167.67" y1="345.7" x2="167.67" y2="344.2" stroke="#555" stroke-width="0.6" />
<line x1="176.08" y1="345.7" x2="176.08" y2="344.2" stroke="#555" stroke-width="0.6" />
<text x="109" y="371.4" font-size="8.6" text-anchor="middle" font-weight="normal" fill="#1a1a1a" stroke="#1a1a1a" stroke-width="0.18" ><tspan font-style="italic">&#967;</tspan> (&#176;)</text>
<text x="0" y="0" font-size="8.6" text-anchor="middle" font-weight="normal" fill="#1a1a1a" stroke="#1a1a1a" stroke-width="0.18" transform="translate(8.9 273.5) rotate(-90)">f (Hz)</text>
<line x1="202.7" y1="218.3" x2="201.2" y2="218.3" stroke="#888" stroke-width="0.5" />
<text x="206.6" y="221.3" font-size="8.6" fill="#1a1a1a" stroke="#1a1a1a" stroke-width="0.18">10</text>
<text x="216.3" y="217.1" font-size="6.1" fill="#1a1a1a" stroke="#1a1a1a" stroke-width="0.18">1</text>
<line x1="202.7" y1="255.8" x2="201.2" y2="255.8" stroke="#888" stroke-width="0.5" />
<text x="206.6" y="258.8" font-size="8.6" fill="#1a1a1a" stroke="#1a1a1a" stroke-width="0.18">10</text>
<text x="216.3" y="254.6" font-size="6.1" fill="#1a1a1a" stroke="#1a1a1a" stroke-width="0.18">0</text>
<line x1="202.7" y1="293.3" x2="201.2" y2="293.3" stroke="#888" stroke-width="0.5" />
<text x="206.6" y="296.3" font-size="8.6" fill="#1a1a1a" stroke="#1a1a1a" stroke-width="0.18">10</text>
<text x="216.3" y="292.1" font-size="6.1" fill="#1a1a1a" stroke="#1a1a1a" stroke-width="0.18">&#8722;1</text>
<line x1="202.7" y1="330" x2="201.2" y2="330" stroke="#888" stroke-width="0.5" />
<text x="206.6" y="333" font-size="8.6" fill="#1a1a1a" stroke="#1a1a1a" stroke-width="0.18">10</text>
<text x="216.3" y="328.8" font-size="6.1" fill="#1a1a1a" stroke="#1a1a1a" stroke-width="0.18">&#8722;2</text>
<text x="164.9" y="196.2" font-size="8.8" fill="#1a1a1a" stroke="#1a1a1a" stroke-width="0.18">NE&#916;&#967; (&#176; Hz</text>
<text x="209.5" y="192.0" font-size="5.8" fill="#1a1a1a" stroke="#1a1a1a" stroke-width="0.18">&#8722;1/2</text>
<text x="220.2" y="196.2" font-size="8.8" fill="#1a1a1a" stroke="#1a1a1a" stroke-width="0.18">)</text>
<text x="239" y="199" font-size="14.5" text-anchor="start" font-weight="bold" fill="#000" stroke="#000" stroke-width="0.18" >d</text>
<path d="M271.3 297.3 L274.09 297.3 L276.88 297.3 L279.67 297.3 L282.45 297.3 L285.24 297.3 L288.03 297.3 L290.82 297.3 L293.61 297.3 L296.4 297.3 L299.18 297.3 L301.97 297.3 L304.76 297.3 L307.55 297.3 L310.34 297.3 L313.12 297.3 L315.91 297.3 L318.7 297.3 L321.49 297.3 L324.28 297.3 L327.07 297.3 L329.86 297.31 L332.64 297.31 L335.43 297.31 L338.22 297.31 L341.01 297.32 L343.8 297.33 L346.59 297.33 L349.37 297.35 L352.16 297.36 L354.95 297.39 L357.74 297.42 L360.53 297.46 L363.32 297.51 L366.1 297.59 L368.89 297.69 L371.68 297.82 L374.47 298 L377.26 298.23 L380.05 298.54 L382.83 298.94 L385.62 299.44 L388.41 300.07 L391.2 300.84 L393.99 301.77 L396.78 302.85 L399.56 304.09 L402.35 305.48 L405.14 307.01 L407.93 308.65 L410.72 310.38 L413.5 312.2 L416.29 314.08 L419.08 316.01 L421.87 317.98 L424.66 319.97 L427.45 321.99 L430.24 324.02 L433.02 326.07 L435.81 328.13 L438.6 330.19" stroke="#f08030" stroke-width="1.1" fill="none" stroke-linejoin="round" stroke-dasharray="1.8 2.6"/>
<path d="M271.3 241.95 L274.09 243.6 L276.88 245.26 L279.67 246.92 L282.45 248.58 L285.24 250.24 L288.03 251.89 L290.82 253.55 L293.61 255.21 L296.4 256.86 L299.18 258.52 L301.97 260.17 L304.76 261.82 L307.55 263.47 L310.34 265.12 L313.12 266.76 L315.91 268.4 L318.7 270.03 L321.49 271.66 L324.28 273.27 L327.07 274.88 L329.86 276.47 L332.64 278.05 L335.43 279.6 L338.22 281.13 L341.01 282.62 L343.8 284.08 L346.59 285.48 L349.37 286.83 L352.16 288.12 L354.95 289.34 L357.74 290.48 L360.53 291.54 L363.32 292.51 L366.1 293.4 L368.89 294.21 L371.68 294.97 L374.47 295.67 L377.26 296.35 L380.05 297.02 L382.83 297.72 L385.62 298.47 L388.41 299.3 L391.2 300.23 L393.99 301.28 L396.78 302.47 L399.56 303.79 L402.35 305.25 L405.14 306.82 L407.93 308.5 L410.72 310.27 L413.5 312.11 L416.29 314.01 L419.08 315.95 L421.87 317.93 L424.66 319.94 L427.45 321.96 L430.24 324 L433.02 326.05 L435.81 328.11 L438.6 330.18" stroke="#00d000" stroke-width="1.1" fill="none" stroke-linejoin="round" stroke-dasharray="1.8 2.6"/>
<path d="M271.3 206.08 L274.09 207.76 L276.88 209.45 L279.67 211.13 L282.45 212.81 L285.24 214.5 L288.03 216.18 L290.82 217.87 L293.61 219.55 L296.4 221.23 L299.18 222.92 L301.97 224.6 L304.76 226.29 L307.55 227.97 L310.34 229.66 L313.12 231.34 L315.91 233.02 L318.7 234.71 L321.49 236.39 L324.28 238.08 L327.07 239.76 L329.86 241.44 L332.64 243.13 L335.43 244.81 L338.22 246.5 L341.01 248.18 L343.8 249.87 L346.59 251.55 L349.37 253.23 L352.16 254.92 L354.95 256.6 L357.74 258.29 L360.53 259.97 L363.32 261.65 L366.1 263.34 L368.89 265.02 L371.68 266.71 L374.47 268.39 L377.26 270.08 L380.05 271.76 L382.83 273.44 L385.62 275.13 L388.41 276.81 L391.2 278.5 L393.99 280.18 L396.78 281.86 L399.56 283.55 L402.35 285.23 L405.14 286.92 L407.93 288.6 L410.72 290.28 L413.5 291.97 L416.29 293.65 L419.08 295.34 L421.87 297.02 L424.66 298.71 L427.45 300.39 L430.24 302.07 L433.02 303.76 L435.81 305.44 L438.6 307.13" stroke="#ff10ff" stroke-width="1.1" fill="none" stroke-linejoin="round" stroke-dasharray="1.8 2.6"/>
<path d="M273 227.9 L278.81 228.6 L284.62 229.32 L290.43 230.68 L296.24 232.26 L302.05 234.4 L307.86 236.94 L313.67 240 L319.48 243.46 L325.29 247.2 L331.1 251.22 L336.91 255.96 L342.72 260.6 L348.53 265.56 L354.34 270.78 L360.15 275.86 L365.96 280.42 L371.77 284.72 L377.58 288.7 L383.39 292.5 L389.2 294.8 L395.01 296.64 L400.82 297.72 L406.63 298.94 L412.44 300.48 L418.25 302.26 L424.06 305.46 L429.87 307.43 L435.68 309.43" stroke="#00f0f0" stroke-width="1.1" fill="none" stroke-linejoin="round" stroke-dasharray="1.8 2.6"/>
<path d="M273 236.27 L278.81 236.88 L284.62 237.64 L290.43 238.96 L296.24 240.56 L302.05 242.58 L307.86 245.18 L313.67 248.06 L319.48 251.58 L325.29 255.56 L331.1 259.62 L336.91 263.72 L342.72 268.36 L348.53 272.76 L354.34 277.1 L360.15 281.74 L365.96 285.76 L371.77 288.92 L377.58 292.62 L383.39 294.92 L389.2 296.08 L395.01 297.52 L400.82 297.98 L406.63 299.74 L412.44 303.26 L418.25 306.98 L424.06 310.92 L429.87 314.55 L435.68 316.5" stroke="#0a10f0" stroke-width="1.1" fill="none" stroke-linejoin="round" stroke-dasharray="1.8 2.6"/>
<path d="M273 274.2 L278.81 274 L284.62 277.8 L290.43 277.4 L296.24 283.8 L302.05 282.5 L307.86 285.7 L313.67 286.4 L319.48 292.1 L325.29 286.7 L331.1 295.3 L336.91 292.7 L342.72 284.4 L348.53 290.4 L354.34 297 L360.15 296.8 L365.96 291.4 L371.77 292.9 L377.58 296.8 L383.39 296.3 L389.2 290.6 L395.01 296 L400.82 306.7 L406.63 306.7 L412.44 306.7 L418.25 313.6 L424.06 322.8 L429.87 327.8 L435.68 327.3" stroke="#f08030" stroke-width="0.9" fill="none" stroke-linejoin="round" />
<rect x="271.1" y="272.3" width="3.8" height="3.8" fill="#f08030" />
<rect x="276.91" y="272.1" width="3.8" height="3.8" fill="#f08030" />
<rect x="282.72" y="275.9" width="3.8" height="3.8" fill="#f08030" />
<rect x="288.53" y="275.5" width="3.8" height="3.8" fill="#f08030" />
<rect x="294.34" y="281.9" width="3.8" height="3.8" fill="#f08030" />
<rect x="300.15" y="280.6" width="3.8" height="3.8" fill="#f08030" />
<rect x="305.96" y="283.8" width="3.8" height="3.8" fill="#f08030" />
<rect x="311.77" y="284.5" width="3.8" height="3.8" fill="#f08030" />
<rect x="317.58" y="290.2" width="3.8" height="3.8" fill="#f08030" />
<rect x="323.39" y="284.8" width="3.8" height="3.8" fill="#f08030" />
<rect x="329.2" y="293.4" width="3.8" height="3.8" fill="#f08030" />
<rect x="335.01" y="290.8" width="3.8" height="3.8" fill="#f08030" />
<rect x="340.82" y="282.5" width="3.8" height="3.8" fill="#f08030" />
<rect x="346.63" y="288.5" width="3.8" height="3.8" fill="#f08030" />
<rect x="352.44" y="295.1" width="3.8" height="3.8" fill="#f08030" />
<rect x="358.25" y="294.9" width="3.8" height="3.8" fill="#f08030" />
<rect x="364.06" y="289.5" width="3.8" height="3.8" fill="#f08030" />
<rect x="369.87" y="291" width="3.8" height="3.8" fill="#f08030" />
<rect x="375.68" y="294.9" width="3.8" height="3.8" fill="#f08030" />
<rect x="381.49" y="294.4" width="3.8" height="3.8" fill="#f08030" />
<rect x="387.3" y="288.7" width="3.8" height="3.8" fill="#f08030" />
<rect x="393.11" y="294.1" width="3.8" height="3.8" fill="#f08030" />
<rect x="398.92" y="304.8" width="3.8" height="3.8" fill="#f08030" />
<rect x="404.73" y="304.8" width="3.8" height="3.8" fill="#f08030" />
<rect x="410.54" y="304.8" width="3.8" height="3.8" fill="#f08030" />
<rect x="416.35" y="311.7" width="3.8" height="3.8" fill="#f08030" />
<rect x="422.16" y="320.9" width="3.8" height="3.8" fill="#f08030" />
<rect x="427.97" y="325.9" width="3.8" height="3.8" fill="#f08030" />
<rect x="433.78" y="325.4" width="3.8" height="3.8" fill="#f08030" />
<path d="M273 255.7 L278.81 256.1 L284.62 259.6 L290.43 259.9 L296.24 261.5 L302.05 262.5 L307.86 263.8 L313.67 264.7 L319.48 269.8 L325.29 272.3 L331.1 274.9 L336.91 278.7 L342.72 280 L348.53 284.4 L354.34 289.8 L360.15 293.7 L365.96 291.3 L371.77 288.3 L377.58 293 L383.39 286.8 L389.2 291 L395.01 296 L400.82 298 L406.63 304 L412.44 300 L418.25 308.2 L424.06 314.3 L429.87 322.8 L435.68 319" stroke="#00d000" stroke-width="0.9" fill="none" stroke-linejoin="round" />
<rect x="271.1" y="253.8" width="3.8" height="3.8" fill="#00d000" />
<rect x="276.91" y="254.2" width="3.8" height="3.8" fill="#00d000" />
<rect x="282.72" y="257.7" width="3.8" height="3.8" fill="#00d000" />
<rect x="288.53" y="258" width="3.8" height="3.8" fill="#00d000" />
<rect x="294.34" y="259.6" width="3.8" height="3.8" fill="#00d000" />
<rect x="300.15" y="260.6" width="3.8" height="3.8" fill="#00d000" />
<rect x="305.96" y="261.9" width="3.8" height="3.8" fill="#00d000" />
<rect x="311.77" y="262.8" width="3.8" height="3.8" fill="#00d000" />
<rect x="317.58" y="267.9" width="3.8" height="3.8" fill="#00d000" />
<rect x="323.39" y="270.4" width="3.8" height="3.8" fill="#00d000" />
<rect x="329.2" y="273" width="3.8" height="3.8" fill="#00d000" />
<rect x="335.01" y="276.8" width="3.8" height="3.8" fill="#00d000" />
<rect x="340.82" y="278.1" width="3.8" height="3.8" fill="#00d000" />
<rect x="346.63" y="282.5" width="3.8" height="3.8" fill="#00d000" />
<rect x="352.44" y="287.9" width="3.8" height="3.8" fill="#00d000" />
<rect x="358.25" y="291.8" width="3.8" height="3.8" fill="#00d000" />
<rect x="364.06" y="289.4" width="3.8" height="3.8" fill="#00d000" />
<rect x="369.87" y="286.4" width="3.8" height="3.8" fill="#00d000" />
<rect x="375.68" y="291.1" width="3.8" height="3.8" fill="#00d000" />
<rect x="381.49" y="284.9" width="3.8" height="3.8" fill="#00d000" />
<rect x="387.3" y="289.1" width="3.8" height="3.8" fill="#00d000" />
<rect x="393.11" y="294.1" width="3.8" height="3.8" fill="#00d000" />
<rect x="398.92" y="296.1" width="3.8" height="3.8" fill="#00d000" />
<rect x="404.73" y="302.1" width="3.8" height="3.8" fill="#00d000" />
<rect x="410.54" y="298.1" width="3.8" height="3.8" fill="#00d000" />
<rect x="416.35" y="306.3" width="3.8" height="3.8" fill="#00d000" />
<rect x="422.16" y="312.4" width="3.8" height="3.8" fill="#00d000" />
<rect x="427.97" y="320.9" width="3.8" height="3.8" fill="#00d000" />
<rect x="433.78" y="317.1" width="3.8" height="3.8" fill="#00d000" />
<path d="M273 234 L278.81 234.9 L284.62 236.3 L290.43 237.5 L296.24 239.5 L302.05 240.6 L307.86 242.9 L313.67 246.4 L319.48 250.5 L325.29 253.9 L331.1 258.2 L336.91 262.8 L342.72 266.7 L348.53 271 L354.34 277.1 L360.15 280.2 L365.96 284.5 L371.77 289.9 L377.58 291.1 L383.39 292.9 L389.2 298.7 L395.01 296 L400.82 295.7 L406.63 298.3 L412.44 295.2 L418.25 307.5 L424.06 313.6 L429.87 314.3 L435.68 318" stroke="#0a10f0" stroke-width="0.9" fill="none" stroke-linejoin="round" />
<rect x="271.1" y="232.1" width="3.8" height="3.8" fill="#0a10f0" />
<rect x="276.91" y="233" width="3.8" height="3.8" fill="#0a10f0" />
<rect x="282.72" y="234.4" width="3.8" height="3.8" fill="#0a10f0" />
<rect x="288.53" y="235.6" width="3.8" height="3.8" fill="#0a10f0" />
<rect x="294.34" y="237.6" width="3.8" height="3.8" fill="#0a10f0" />
<rect x="300.15" y="238.7" width="3.8" height="3.8" fill="#0a10f0" />
<rect x="305.96" y="241" width="3.8" height="3.8" fill="#0a10f0" />
<rect x="311.77" y="244.5" width="3.8" height="3.8" fill="#0a10f0" />
<rect x="317.58" y="248.6" width="3.8" height="3.8" fill="#0a10f0" />
<rect x="323.39" y="252" width="3.8" height="3.8" fill="#0a10f0" />
<rect x="329.2" y="256.3" width="3.8" height="3.8" fill="#0a10f0" />
<rect x="335.01" y="260.9" width="3.8" height="3.8" fill="#0a10f0" />
<rect x="340.82" y="264.8" width="3.8" height="3.8" fill="#0a10f0" />
<rect x="346.63" y="269.1" width="3.8" height="3.8" fill="#0a10f0" />
<rect x="352.44" y="275.2" width="3.8" height="3.8" fill="#0a10f0" />
<rect x="358.25" y="278.3" width="3.8" height="3.8" fill="#0a10f0" />
<rect x="364.06" y="282.6" width="3.8" height="3.8" fill="#0a10f0" />
<rect x="369.87" y="288" width="3.8" height="3.8" fill="#0a10f0" />
<rect x="375.68" y="289.2" width="3.8" height="3.8" fill="#0a10f0" />
<rect x="381.49" y="291" width="3.8" height="3.8" fill="#0a10f0" />
<rect x="387.3" y="296.8" width="3.8" height="3.8" fill="#0a10f0" />
<rect x="393.11" y="294.1" width="3.8" height="3.8" fill="#0a10f0" />
<rect x="398.92" y="293.8" width="3.8" height="3.8" fill="#0a10f0" />
<rect x="404.73" y="296.4" width="3.8" height="3.8" fill="#0a10f0" />
<rect x="410.54" y="293.3" width="3.8" height="3.8" fill="#0a10f0" />
<rect x="416.35" y="305.6" width="3.8" height="3.8" fill="#0a10f0" />
<rect x="422.16" y="311.7" width="3.8" height="3.8" fill="#0a10f0" />
<rect x="427.97" y="312.4" width="3.8" height="3.8" fill="#0a10f0" />
<rect x="433.78" y="316.1" width="3.8" height="3.8" fill="#0a10f0" />
<path d="M273 225.7 L278.81 227.3 L284.62 228.3 L290.43 229.9 L296.24 231.4 L302.05 232.5 L307.86 235.2 L313.67 239 L319.48 242.6 L325.29 246.7 L331.1 249.8 L336.91 253.9 L342.72 259.1 L348.53 266.3 L354.34 269.9 L360.15 274.6 L365.96 280 L371.77 284.5 L377.58 289.1 L383.39 291.4 L389.2 294.5 L395.01 299 L400.82 296 L406.63 298.3 L412.44 296.8 L418.25 300.6 L424.06 306.7 L429.87 304.9 L435.68 314.3" stroke="#00f0f0" stroke-width="0.9" fill="none" stroke-linejoin="round" />
<rect x="271.1" y="223.8" width="3.8" height="3.8" fill="#00f0f0" />
<rect x="276.91" y="225.4" width="3.8" height="3.8" fill="#00f0f0" />
<rect x="282.72" y="226.4" width="3.8" height="3.8" fill="#00f0f0" />
<rect x="288.53" y="228" width="3.8" height="3.8" fill="#00f0f0" />
<rect x="294.34" y="229.5" width="3.8" height="3.8" fill="#00f0f0" />
<rect x="300.15" y="230.6" width="3.8" height="3.8" fill="#00f0f0" />
<rect x="305.96" y="233.3" width="3.8" height="3.8" fill="#00f0f0" />
<rect x="311.77" y="237.1" width="3.8" height="3.8" fill="#00f0f0" />
<rect x="317.58" y="240.7" width="3.8" height="3.8" fill="#00f0f0" />
<rect x="323.39" y="244.8" width="3.8" height="3.8" fill="#00f0f0" />
<rect x="329.2" y="247.9" width="3.8" height="3.8" fill="#00f0f0" />
<rect x="335.01" y="252" width="3.8" height="3.8" fill="#00f0f0" />
<rect x="340.82" y="257.2" width="3.8" height="3.8" fill="#00f0f0" />
<rect x="346.63" y="264.4" width="3.8" height="3.8" fill="#00f0f0" />
<rect x="352.44" y="268" width="3.8" height="3.8" fill="#00f0f0" />
<rect x="358.25" y="272.7" width="3.8" height="3.8" fill="#00f0f0" />
<rect x="364.06" y="278.1" width="3.8" height="3.8" fill="#00f0f0" />
<rect x="369.87" y="282.6" width="3.8" height="3.8" fill="#00f0f0" />
<rect x="375.68" y="287.2" width="3.8" height="3.8" fill="#00f0f0" />
<rect x="381.49" y="289.5" width="3.8" height="3.8" fill="#00f0f0" />
<rect x="387.3" y="292.6" width="3.8" height="3.8" fill="#00f0f0" />
<rect x="393.11" y="297.1" width="3.8" height="3.8" fill="#00f0f0" />
<rect x="398.92" y="294.1" width="3.8" height="3.8" fill="#00f0f0" />
<rect x="404.73" y="296.4" width="3.8" height="3.8" fill="#00f0f0" />
<rect x="410.54" y="294.9" width="3.8" height="3.8" fill="#00f0f0" />
<rect x="416.35" y="298.7" width="3.8" height="3.8" fill="#00f0f0" />
<rect x="422.16" y="304.8" width="3.8" height="3.8" fill="#00f0f0" />
<rect x="427.97" y="303" width="3.8" height="3.8" fill="#00f0f0" />
<rect x="433.78" y="312.4" width="3.8" height="3.8" fill="#00f0f0" />
<path d="M273 216.1 L278.81 217.6 L284.62 219.4 L290.43 220.7 L296.24 222.2 L302.05 223.7 L307.86 226.3 L313.67 230.3 L319.48 233.7 L325.29 238 L331.1 243.2 L336.91 247.2 L342.72 250.7 L348.53 257.3 L354.34 262.7 L360.15 266.8 L365.96 272.8 L371.77 279.5 L377.58 289.6 L383.39 292.2 L389.2 281 L395.01 296 L400.82 294.5 L406.63 294.5 L412.44 297.5 L418.25 298.3 L424.06 306.4 L429.87 311.3 L435.68 309" stroke="#ff10ff" stroke-width="0.9" fill="none" stroke-linejoin="round" />
<rect x="271.1" y="214.2" width="3.8" height="3.8" fill="#ff10ff" />
<rect x="276.91" y="215.7" width="3.8" height="3.8" fill="#ff10ff" />
<rect x="282.72" y="217.5" width="3.8" height="3.8" fill="#ff10ff" />
<rect x="288.53" y="218.8" width="3.8" height="3.8" fill="#ff10ff" />
<rect x="294.34" y="220.3" width="3.8" height="3.8" fill="#ff10ff" />
<rect x="300.15" y="221.8" width="3.8" height="3.8" fill="#ff10ff" />
<rect x="305.96" y="224.4" width="3.8" height="3.8" fill="#ff10ff" />
<rect x="311.77" y="228.4" width="3.8" height="3.8" fill="#ff10ff" />
<rect x="317.58" y="231.8" width="3.8" height="3.8" fill="#ff10ff" />
<rect x="323.39" y="236.1" width="3.8" height="3.8" fill="#ff10ff" />
<rect x="329.2" y="241.3" width="3.8" height="3.8" fill="#ff10ff" />
<rect x="335.01" y="245.3" width="3.8" height="3.8" fill="#ff10ff" />
<rect x="340.82" y="248.8" width="3.8" height="3.8" fill="#ff10ff" />
<rect x="346.63" y="255.4" width="3.8" height="3.8" fill="#ff10ff" />
<rect x="352.44" y="260.8" width="3.8" height="3.8" fill="#ff10ff" />
<rect x="358.25" y="264.9" width="3.8" height="3.8" fill="#ff10ff" />
<rect x="364.06" y="270.9" width="3.8" height="3.8" fill="#ff10ff" />
<rect x="369.87" y="277.6" width="3.8" height="3.8" fill="#ff10ff" />
<rect x="375.68" y="287.7" width="3.8" height="3.8" fill="#ff10ff" />
<rect x="381.49" y="290.3" width="3.8" height="3.8" fill="#ff10ff" />
<rect x="387.3" y="279.1" width="3.8" height="3.8" fill="#ff10ff" />
<rect x="393.11" y="294.1" width="3.8" height="3.8" fill="#ff10ff" />
<rect x="398.92" y="292.6" width="3.8" height="3.8" fill="#ff10ff" />
<rect x="404.73" y="292.6" width="3.8" height="3.8" fill="#ff10ff" />
<rect x="410.54" y="295.6" width="3.8" height="3.8" fill="#ff10ff" />
<rect x="416.35" y="296.4" width="3.8" height="3.8" fill="#ff10ff" />
<rect x="422.16" y="304.5" width="3.8" height="3.8" fill="#ff10ff" />
<rect x="427.97" y="309.4" width="3.8" height="3.8" fill="#ff10ff" />
<rect x="433.78" y="307.1" width="3.8" height="3.8" fill="#ff10ff" />
<path d="M273 337.5 L278.81 338.1 L284.62 338.5 L290.43 339.1 L296.24 339.5 L302.05 339.5 L307.86 339.8 L313.67 338.5 L319.48 339.7 L325.29 339.1 L331.1 339.1 L336.91 338.8 L342.72 334.5 L348.53 339.7 L354.34 340.1 L360.15 341.8 L365.96 340.5 L371.77 343.4 L377.58 342.1 L383.39 342.7 L389.2 341.4 L395.01 342.1 L400.82 343.4 L406.63 344.4 L412.44 343.4 L418.25 345.4 L424.06 346 L429.87 346 L435.68 345.4" stroke="#000" stroke-width="0.9" fill="none" stroke-linejoin="round" />
<rect x="271.1" y="335.6" width="3.8" height="3.8" fill="#000" />
<rect x="276.91" y="336.2" width="3.8" height="3.8" fill="#000" />
<rect x="282.72" y="336.6" width="3.8" height="3.8" fill="#000" />
<rect x="288.53" y="337.2" width="3.8" height="3.8" fill="#000" />
<rect x="294.34" y="337.6" width="3.8" height="3.8" fill="#000" />
<rect x="300.15" y="337.6" width="3.8" height="3.8" fill="#000" />
<rect x="305.96" y="337.9" width="3.8" height="3.8" fill="#000" />
<rect x="311.77" y="336.6" width="3.8" height="3.8" fill="#000" />
<rect x="317.58" y="337.8" width="3.8" height="3.8" fill="#000" />
<rect x="323.39" y="337.2" width="3.8" height="3.8" fill="#000" />
<rect x="329.2" y="337.2" width="3.8" height="3.8" fill="#000" />
<rect x="335.01" y="336.9" width="3.8" height="3.8" fill="#000" />
<rect x="340.82" y="332.6" width="3.8" height="3.8" fill="#000" />
<rect x="346.63" y="337.8" width="3.8" height="3.8" fill="#000" />
<rect x="352.44" y="338.2" width="3.8" height="3.8" fill="#000" />
<rect x="358.25" y="339.9" width="3.8" height="3.8" fill="#000" />
<rect x="364.06" y="338.6" width="3.8" height="3.8" fill="#000" />
<rect x="369.87" y="341.5" width="3.8" height="3.8" fill="#000" />
<rect x="375.68" y="340.2" width="3.8" height="3.8" fill="#000" />
<rect x="381.49" y="340.8" width="3.8" height="3.8" fill="#000" />
<rect x="387.3" y="339.5" width="3.8" height="3.8" fill="#000" />
<rect x="393.11" y="340.2" width="3.8" height="3.8" fill="#000" />
<rect x="398.92" y="341.5" width="3.8" height="3.8" fill="#000" />
<rect x="404.73" y="342.5" width="3.8" height="3.8" fill="#000" />
<rect x="410.54" y="341.5" width="3.8" height="3.8" fill="#000" />
<rect x="416.35" y="343.5" width="3.8" height="3.8" fill="#000" />
<rect x="422.16" y="344.1" width="3.8" height="3.8" fill="#000" />
<rect x="427.97" y="344.1" width="3.8" height="3.8" fill="#000" />
<rect x="433.78" y="343.5" width="3.8" height="3.8" fill="#000" />
<rect x="271.3" y="201.5" width="167.3" height="145.8" fill="none" stroke="#555" stroke-width="0.8"/>
<rect x="268.5" y="331.5" width="6" height="3.5" fill="#fff" transform="rotate(-35 271.3 333.2)"/>
<line x1="268.4" y1="334.2" x2="274.1" y2="330.3" stroke="#333" stroke-width="0.7" />
<line x1="268.4" y1="336.2" x2="274.1" y2="332.3" stroke="#333" stroke-width="0.7" />
<rect x="435.6" y="331" width="6" height="4" fill="#fff" transform="rotate(-30 438.6 333)"/>
<line x1="435.6" y1="333.5" x2="441.6" y2="330" stroke="#333" stroke-width="0.7" />
<line x1="435.6" y1="336" x2="441.6" y2="332.5" stroke="#333" stroke-width="0.7" />
<line x1="271.3" y1="226" x2="274.3" y2="226" stroke="#555" stroke-width="0.8" />
<line x1="438.6" y1="226" x2="435.6" y2="226" stroke="#555" stroke-width="0.8" />
<text x="262.6" y="229" font-size="8.6" text-anchor="end" fill="#1a1a1a" stroke="#1a1a1a" stroke-width="0.18">10</text>
<text x="262.8" y="224.8" font-size="6.1" fill="#1a1a1a" stroke="#1a1a1a" stroke-width="0.18">3</text>
<line x1="271.3" y1="216.58" x2="272.8" y2="216.58" stroke="#555" stroke-width="0.6" />
<line x1="438.6" y1="216.58" x2="437.1" y2="216.58" stroke="#555" stroke-width="0.6" />
<line x1="271.3" y1="211.07" x2="272.8" y2="211.07" stroke="#555" stroke-width="0.6" />
<line x1="438.6" y1="211.07" x2="437.1" y2="211.07" stroke="#555" stroke-width="0.6" />
<line x1="271.3" y1="207.16" x2="272.8" y2="207.16" stroke="#555" stroke-width="0.6" />
<line x1="438.6" y1="207.16" x2="437.1" y2="207.16" stroke="#555" stroke-width="0.6" />
<line x1="271.3" y1="204.12" x2="272.8" y2="204.12" stroke="#555" stroke-width="0.6" />
<line x1="438.6" y1="204.12" x2="437.1" y2="204.12" stroke="#555" stroke-width="0.6" />
<line x1="271.3" y1="201.64" x2="272.8" y2="201.64" stroke="#555" stroke-width="0.6" />
<line x1="438.6" y1="201.64" x2="437.1" y2="201.64" stroke="#555" stroke-width="0.6" />
<line x1="271.3" y1="256.6" x2="274.3" y2="256.6" stroke="#555" stroke-width="0.8" />
<line x1="438.6" y1="256.6" x2="435.6" y2="256.6" stroke="#555" stroke-width="0.8" />
<text x="262.6" y="259.6" font-size="8.6" text-anchor="end" fill="#1a1a1a" stroke="#1a1a1a" stroke-width="0.18">10</text>
<text x="262.8" y="255.4" font-size="6.1" fill="#1a1a1a" stroke="#1a1a1a" stroke-width="0.18">2</text>
<line x1="271.3" y1="247.18" x2="272.8" y2="247.18" stroke="#555" stroke-width="0.6" />
<line x1="438.6" y1="247.18" x2="437.1" y2="247.18" stroke="#555" stroke-width="0.6" />
<line x1="271.3" y1="241.67" x2="272.8" y2="241.67" stroke="#555" stroke-width="0.6" />
<line x1="438.6" y1="241.67" x2="437.1" y2="241.67" stroke="#555" stroke-width="0.6" />
<line x1="271.3" y1="237.76" x2="272.8" y2="237.76" stroke="#555" stroke-width="0.6" />
<line x1="438.6" y1="237.76" x2="437.1" y2="237.76" stroke="#555" stroke-width="0.6" />
<line x1="271.3" y1="234.72" x2="272.8" y2="234.72" stroke="#555" stroke-width="0.6" />
<line x1="438.6" y1="234.72" x2="437.1" y2="234.72" stroke="#555" stroke-width="0.6" />
<line x1="271.3" y1="232.24" x2="272.8" y2="232.24" stroke="#555" stroke-width="0.6" />
<line x1="438.6" y1="232.24" x2="437.1" y2="232.24" stroke="#555" stroke-width="0.6" />
<line x1="271.3" y1="230.15" x2="272.8" y2="230.15" stroke="#555" stroke-width="0.6" />
<line x1="438.6" y1="230.15" x2="437.1" y2="230.15" stroke="#555" stroke-width="0.6" />
<line x1="271.3" y1="228.33" x2="272.8" y2="228.33" stroke="#555" stroke-width="0.6" />
<line x1="438.6" y1="228.33" x2="437.1" y2="228.33" stroke="#555" stroke-width="0.6" />
<line x1="271.3" y1="226.73" x2="272.8" y2="226.73" stroke="#555" stroke-width="0.6" />
<line x1="438.6" y1="226.73" x2="437.1" y2="226.73" stroke="#555" stroke-width="0.6" />
<line x1="271.3" y1="288" x2="274.3" y2="288" stroke="#555" stroke-width="0.8" />
<line x1="438.6" y1="288" x2="435.6" y2="288" stroke="#555" stroke-width="0.8" />
<text x="262.6" y="291" font-size="8.6" text-anchor="end" fill="#1a1a1a" stroke="#1a1a1a" stroke-width="0.18">10</text>
<text x="262.8" y="286.8" font-size="6.1" fill="#1a1a1a" stroke="#1a1a1a" stroke-width="0.18">1</text>
<line x1="271.3" y1="278.58" x2="272.8" y2="278.58" stroke="#555" stroke-width="0.6" />
<line x1="438.6" y1="278.58" x2="437.1" y2="278.58" stroke="#555" stroke-width="0.6" />
<line x1="271.3" y1="273.07" x2="272.8" y2="273.07" stroke="#555" stroke-width="0.6" />
<line x1="438.6" y1="273.07" x2="437.1" y2="273.07" stroke="#555" stroke-width="0.6" />
<line x1="271.3" y1="269.16" x2="272.8" y2="269.16" stroke="#555" stroke-width="0.6" />
<line x1="438.6" y1="269.16" x2="437.1" y2="269.16" stroke="#555" stroke-width="0.6" />
<line x1="271.3" y1="266.12" x2="272.8" y2="266.12" stroke="#555" stroke-width="0.6" />
<line x1="438.6" y1="266.12" x2="437.1" y2="266.12" stroke="#555" stroke-width="0.6" />
<line x1="271.3" y1="263.64" x2="272.8" y2="263.64" stroke="#555" stroke-width="0.6" />
<line x1="438.6" y1="263.64" x2="437.1" y2="263.64" stroke="#555" stroke-width="0.6" />
<line x1="271.3" y1="261.55" x2="272.8" y2="261.55" stroke="#555" stroke-width="0.6" />
<line x1="438.6" y1="261.55" x2="437.1" y2="261.55" stroke="#555" stroke-width="0.6" />
<line x1="271.3" y1="259.73" x2="272.8" y2="259.73" stroke="#555" stroke-width="0.6" />
<line x1="438.6" y1="259.73" x2="437.1" y2="259.73" stroke="#555" stroke-width="0.6" />
<line x1="271.3" y1="258.13" x2="272.8" y2="258.13" stroke="#555" stroke-width="0.6" />
<line x1="438.6" y1="258.13" x2="437.1" y2="258.13" stroke="#555" stroke-width="0.6" />
<line x1="271.3" y1="319.5" x2="274.3" y2="319.5" stroke="#555" stroke-width="0.8" />
<line x1="438.6" y1="319.5" x2="435.6" y2="319.5" stroke="#555" stroke-width="0.8" />
<text x="262.6" y="322.5" font-size="8.6" text-anchor="end" fill="#1a1a1a" stroke="#1a1a1a" stroke-width="0.18">10</text>
<text x="262.8" y="318.3" font-size="6.1" fill="#1a1a1a" stroke="#1a1a1a" stroke-width="0.18">0</text>
<line x1="271.3" y1="310.08" x2="272.8" y2="310.08" stroke="#555" stroke-width="0.6" />
<line x1="438.6" y1="310.08" x2="437.1" y2="310.08" stroke="#555" stroke-width="0.6" />
<line x1="271.3" y1="304.57" x2="272.8" y2="304.57" stroke="#555" stroke-width="0.6" />
<line x1="438.6" y1="304.57" x2="437.1" y2="304.57" stroke="#555" stroke-width="0.6" />
<line x1="271.3" y1="300.66" x2="272.8" y2="300.66" stroke="#555" stroke-width="0.6" />
<line x1="438.6" y1="300.66" x2="437.1" y2="300.66" stroke="#555" stroke-width="0.6" />
<line x1="271.3" y1="297.62" x2="272.8" y2="297.62" stroke="#555" stroke-width="0.6" />
<line x1="438.6" y1="297.62" x2="437.1" y2="297.62" stroke="#555" stroke-width="0.6" />
<line x1="271.3" y1="295.14" x2="272.8" y2="295.14" stroke="#555" stroke-width="0.6" />
<line x1="438.6" y1="295.14" x2="437.1" y2="295.14" stroke="#555" stroke-width="0.6" />
<line x1="271.3" y1="293.05" x2="272.8" y2="293.05" stroke="#555" stroke-width="0.6" />
<line x1="438.6" y1="293.05" x2="437.1" y2="293.05" stroke="#555" stroke-width="0.6" />
<line x1="271.3" y1="291.23" x2="272.8" y2="291.23" stroke="#555" stroke-width="0.6" />
<line x1="438.6" y1="291.23" x2="437.1" y2="291.23" stroke="#555" stroke-width="0.6" />
<line x1="271.3" y1="289.63" x2="272.8" y2="289.63" stroke="#555" stroke-width="0.6" />
<line x1="438.6" y1="289.63" x2="437.1" y2="289.63" stroke="#555" stroke-width="0.6" />
<text x="260.4" y="344.3" font-size="8.6" text-anchor="end" fill="#1a1a1a" stroke="#1a1a1a" stroke-width="0.18">10</text>
<text x="260.6" y="339.3" font-size="6.1" fill="#1a1a1a" stroke="#1a1a1a" stroke-width="0.18">&#8722;2</text>
<line x1="271.3" y1="347.3" x2="271.3" y2="344.3" stroke="#555" stroke-width="0.8" />
<line x1="271.3" y1="201.5" x2="271.3" y2="204.5" stroke="#555" stroke-width="0.8" />
<text x="269.4" y="360.5" font-size="8.6" text-anchor="middle" fill="#1a1a1a" stroke="#1a1a1a" stroke-width="0.18">10</text>
<text x="274.3" y="356.3" font-size="6.1" fill="#1a1a1a" stroke="#1a1a1a" stroke-width="0.18">0</text>
<line x1="283.88" y1="347.3" x2="283.88" y2="345.8" stroke="#555" stroke-width="0.6" />
<line x1="283.88" y1="201.5" x2="283.88" y2="203" stroke="#555" stroke-width="0.6" />
<line x1="291.24" y1="347.3" x2="291.24" y2="345.8" stroke="#555" stroke-width="0.6" />
<line x1="291.24" y1="201.5" x2="291.24" y2="203" stroke="#555" stroke-width="0.6" />
<line x1="296.47" y1="347.3" x2="296.47" y2="345.8" stroke="#555" stroke-width="0.6" />
<line x1="296.47" y1="201.5" x2="296.47" y2="203" stroke="#555" stroke-width="0.6" />
<line x1="300.52" y1="347.3" x2="300.52" y2="345.8" stroke="#555" stroke-width="0.6" />
<line x1="300.52" y1="201.5" x2="300.52" y2="203" stroke="#555" stroke-width="0.6" />
<line x1="303.83" y1="347.3" x2="303.83" y2="345.8" stroke="#555" stroke-width="0.6" />
<line x1="303.83" y1="201.5" x2="303.83" y2="203" stroke="#555" stroke-width="0.6" />
<line x1="306.63" y1="347.3" x2="306.63" y2="345.8" stroke="#555" stroke-width="0.6" />
<line x1="306.63" y1="201.5" x2="306.63" y2="203" stroke="#555" stroke-width="0.6" />
<line x1="309.05" y1="347.3" x2="309.05" y2="345.8" stroke="#555" stroke-width="0.6" />
<line x1="309.05" y1="201.5" x2="309.05" y2="203" stroke="#555" stroke-width="0.6" />
<line x1="311.19" y1="347.3" x2="311.19" y2="345.8" stroke="#555" stroke-width="0.6" />
<line x1="311.19" y1="201.5" x2="311.19" y2="203" stroke="#555" stroke-width="0.6" />
<line x1="313.1" y1="347.3" x2="313.1" y2="344.3" stroke="#555" stroke-width="0.8" />
<line x1="313.1" y1="201.5" x2="313.1" y2="204.5" stroke="#555" stroke-width="0.8" />
<text x="311.2" y="360.5" font-size="8.6" text-anchor="middle" fill="#1a1a1a" stroke="#1a1a1a" stroke-width="0.18">10</text>
<text x="316.1" y="356.3" font-size="6.1" fill="#1a1a1a" stroke="#1a1a1a" stroke-width="0.18">1</text>
<line x1="325.68" y1="347.3" x2="325.68" y2="345.8" stroke="#555" stroke-width="0.6" />
<line x1="325.68" y1="201.5" x2="325.68" y2="203" stroke="#555" stroke-width="0.6" />
<line x1="333.04" y1="347.3" x2="333.04" y2="345.8" stroke="#555" stroke-width="0.6" />
<line x1="333.04" y1="201.5" x2="333.04" y2="203" stroke="#555" stroke-width="0.6" />
<line x1="338.27" y1="347.3" x2="338.27" y2="345.8" stroke="#555" stroke-width="0.6" />
<line x1="338.27" y1="201.5" x2="338.27" y2="203" stroke="#555" stroke-width="0.6" />
<line x1="342.32" y1="347.3" x2="342.32" y2="345.8" stroke="#555" stroke-width="0.6" />
<line x1="342.32" y1="201.5" x2="342.32" y2="203" stroke="#555" stroke-width="0.6" />
<line x1="345.63" y1="347.3" x2="345.63" y2="345.8" stroke="#555" stroke-width="0.6" />
<line x1="345.63" y1="201.5" x2="345.63" y2="203" stroke="#555" stroke-width="0.6" />
<line x1="348.43" y1="347.3" x2="348.43" y2="345.8" stroke="#555" stroke-width="0.6" />
<line x1="348.43" y1="201.5" x2="348.43" y2="203" stroke="#555" stroke-width="0.6" />
<line x1="350.85" y1="347.3" x2="350.85" y2="345.8" stroke="#555" stroke-width="0.6" />
<line x1="350.85" y1="201.5" x2="350.85" y2="203" stroke="#555" stroke-width="0.6" />
<line x1="352.99" y1="347.3" x2="352.99" y2="345.8" stroke="#555" stroke-width="0.6" />
<line x1="352.99" y1="201.5" x2="352.99" y2="203" stroke="#555" stroke-width="0.6" />
<line x1="354.9" y1="347.3" x2="354.9" y2="344.3" stroke="#555" stroke-width="0.8" />
<line x1="354.9" y1="201.5" x2="354.9" y2="204.5" stroke="#555" stroke-width="0.8" />
<text x="353" y="360.5" font-size="8.6" text-anchor="middle" fill="#1a1a1a" stroke="#1a1a1a" stroke-width="0.18">10</text>
<text x="357.9" y="356.3" font-size="6.1" fill="#1a1a1a" stroke="#1a1a1a" stroke-width="0.18">2</text>
<line x1="367.48" y1="347.3" x2="367.48" y2="345.8" stroke="#555" stroke-width="0.6" />
<line x1="367.48" y1="201.5" x2="367.48" y2="203" stroke="#555" stroke-width="0.6" />
<line x1="374.84" y1="347.3" x2="374.84" y2="345.8" stroke="#555" stroke-width="0.6" />
<line x1="374.84" y1="201.5" x2="374.84" y2="203" stroke="#555" stroke-width="0.6" />
<line x1="380.07" y1="347.3" x2="380.07" y2="345.8" stroke="#555" stroke-width="0.6" />
<line x1="380.07" y1="201.5" x2="380.07" y2="203" stroke="#555" stroke-width="0.6" />
<line x1="384.12" y1="347.3" x2="384.12" y2="345.8" stroke="#555" stroke-width="0.6" />
<line x1="384.12" y1="201.5" x2="384.12" y2="203" stroke="#555" stroke-width="0.6" />
<line x1="387.43" y1="347.3" x2="387.43" y2="345.8" stroke="#555" stroke-width="0.6" />
<line x1="387.43" y1="201.5" x2="387.43" y2="203" stroke="#555" stroke-width="0.6" />
<line x1="390.23" y1="347.3" x2="390.23" y2="345.8" stroke="#555" stroke-width="0.6" />
<line x1="390.23" y1="201.5" x2="390.23" y2="203" stroke="#555" stroke-width="0.6" />
<line x1="392.65" y1="347.3" x2="392.65" y2="345.8" stroke="#555" stroke-width="0.6" />
<line x1="392.65" y1="201.5" x2="392.65" y2="203" stroke="#555" stroke-width="0.6" />
<line x1="394.79" y1="347.3" x2="394.79" y2="345.8" stroke="#555" stroke-width="0.6" />
<line x1="394.79" y1="201.5" x2="394.79" y2="203" stroke="#555" stroke-width="0.6" />
<line x1="396.7" y1="347.3" x2="396.7" y2="344.3" stroke="#555" stroke-width="0.8" />
<line x1="396.7" y1="201.5" x2="396.7" y2="204.5" stroke="#555" stroke-width="0.8" />
<text x="394.8" y="360.5" font-size="8.6" text-anchor="middle" fill="#1a1a1a" stroke="#1a1a1a" stroke-width="0.18">10</text>
<text x="399.7" y="356.3" font-size="6.1" fill="#1a1a1a" stroke="#1a1a1a" stroke-width="0.18">3</text>
<line x1="409.28" y1="347.3" x2="409.28" y2="345.8" stroke="#555" stroke-width="0.6" />
<line x1="409.28" y1="201.5" x2="409.28" y2="203" stroke="#555" stroke-width="0.6" />
<line x1="416.64" y1="347.3" x2="416.64" y2="345.8" stroke="#555" stroke-width="0.6" />
<line x1="416.64" y1="201.5" x2="416.64" y2="203" stroke="#555" stroke-width="0.6" />
<line x1="421.87" y1="347.3" x2="421.87" y2="345.8" stroke="#555" stroke-width="0.6" />
<line x1="421.87" y1="201.5" x2="421.87" y2="203" stroke="#555" stroke-width="0.6" />
<line x1="425.92" y1="347.3" x2="425.92" y2="345.8" stroke="#555" stroke-width="0.6" />
<line x1="425.92" y1="201.5" x2="425.92" y2="203" stroke="#555" stroke-width="0.6" />
<line x1="429.23" y1="347.3" x2="429.23" y2="345.8" stroke="#555" stroke-width="0.6" />
<line x1="429.23" y1="201.5" x2="429.23" y2="203" stroke="#555" stroke-width="0.6" />
<line x1="432.03" y1="347.3" x2="432.03" y2="345.8" stroke="#555" stroke-width="0.6" />
<line x1="432.03" y1="201.5" x2="432.03" y2="203" stroke="#555" stroke-width="0.6" />
<line x1="434.45" y1="347.3" x2="434.45" y2="345.8" stroke="#555" stroke-width="0.6" />
<line x1="434.45" y1="201.5" x2="434.45" y2="203" stroke="#555" stroke-width="0.6" />
<line x1="436.59" y1="347.3" x2="436.59" y2="345.8" stroke="#555" stroke-width="0.6" />
<line x1="436.59" y1="201.5" x2="436.59" y2="203" stroke="#555" stroke-width="0.6" />
<line x1="438.5" y1="347.3" x2="438.5" y2="344.3" stroke="#555" stroke-width="0.8" />
<line x1="438.5" y1="201.5" x2="438.5" y2="204.5" stroke="#555" stroke-width="0.8" />
<text x="436.6" y="360.5" font-size="8.6" text-anchor="middle" fill="#1a1a1a" stroke="#1a1a1a" stroke-width="0.18">10</text>
<text x="441.5" y="356.3" font-size="6.1" fill="#1a1a1a" stroke="#1a1a1a" stroke-width="0.18">4</text>
<text x="353.6" y="375.5" font-size="8.6" text-anchor="middle" font-weight="normal" fill="#1a1a1a" stroke="#1a1a1a" stroke-width="0.18" >f (Hz)</text>
<text transform="translate(246.3 272.4) rotate(-90)" font-size="8.9" text-anchor="middle" fill="#1a1a1a" stroke="#1a1a1a" stroke-width="0.18">Noise (pA Hz<tspan dy="-3.8" font-size="6.2">&#8722;1/2</tspan><tspan dy="3.8">)</tspan></text>
<line x1="348.5" y1="209.2" x2="363" y2="209.2" stroke="#f08030" stroke-width="0.9" />
<rect x="353.9" y="207.3" width="3.8" height="3.8" fill="#f08030" />
<text x="366.4" y="211.3" font-size="6.0" fill="#1a1a1a">90&#176;</text>
<line x1="380.4" y1="209.2" x2="395" y2="209.2" stroke="#f08030" stroke-width="1.1" stroke-dasharray="1.8 2.6"/>
<text x="398.2" y="211.3" font-size="6.0" fill="#1a1a1a">90&#176;-Fitting</text>
<line x1="348.5" y1="217.1" x2="363" y2="217.1" stroke="#00d000" stroke-width="0.9" />
<rect x="353.9" y="215.2" width="3.8" height="3.8" fill="#00d000" />
<text x="366.4" y="219.2" font-size="6.0" fill="#1a1a1a">92&#176;</text>
<line x1="380.4" y1="217.1" x2="395" y2="217.1" stroke="#00d000" stroke-width="1.1" stroke-dasharray="1.8 2.6"/>
<text x="398.2" y="219.2" font-size="6.0" fill="#1a1a1a">92&#176;-Fitting</text>
<line x1="348.5" y1="225" x2="363" y2="225" stroke="#0a10f0" stroke-width="0.9" />
<rect x="353.9" y="223.1" width="3.8" height="3.8" fill="#0a10f0" />
<text x="366.4" y="227.1" font-size="6.0" fill="#1a1a1a">98&#176;</text>
<line x1="380.4" y1="225" x2="395" y2="225" stroke="#0a10f0" stroke-width="1.1" stroke-dasharray="1.8 2.6"/>
<text x="398.2" y="227.1" font-size="6.0" fill="#1a1a1a">98&#176;-Fitting</text>
<line x1="348.5" y1="232.9" x2="363" y2="232.9" stroke="#00f0f0" stroke-width="0.9" />
<rect x="353.9" y="231" width="3.8" height="3.8" fill="#00f0f0" />
<text x="366.4" y="235.0" font-size="6.0" fill="#1a1a1a">106&#176;</text>
<line x1="380.4" y1="232.9" x2="395" y2="232.9" stroke="#00f0f0" stroke-width="1.1" stroke-dasharray="1.8 2.6"/>
<text x="398.2" y="235.0" font-size="6.0" fill="#1a1a1a">106&#176;-Fitting</text>
<line x1="348.5" y1="240.8" x2="363" y2="240.8" stroke="#ff10ff" stroke-width="0.9" />
<rect x="353.9" y="238.9" width="3.8" height="3.8" fill="#ff10ff" />
<text x="366.4" y="242.9" font-size="6.0" fill="#1a1a1a">135&#176;</text>
<line x1="380.4" y1="240.8" x2="395" y2="240.8" stroke="#ff10ff" stroke-width="1.1" stroke-dasharray="1.8 2.6"/>
<text x="398.2" y="242.9" font-size="6.0" fill="#1a1a1a">135&#176;-Fitting</text>
<line x1="378.9" y1="335.1" x2="392.7" y2="335.1" stroke="#000" stroke-width="0.9" />
<rect x="383.8" y="333.2" width="3.8" height="3.8" fill="#000" />
<text x="396" y="337.3" font-size="5.9" text-anchor="start" font-weight="normal" fill="#1a1a1a" stroke="#1a1a1a" stroke-width="0.18" >Background</text>
<text x="449.3" y="13.4" font-size="14.5" text-anchor="start" font-weight="bold" fill="#000" stroke="#000" stroke-width="0.18" >e</text>
<rect x="461.4" y="46.0" width="63.1" height="29.2" fill="#fff" stroke="#c8c8c8" stroke-width="0.6"/>
<path d="M461.8 59.83 L462.22 61.35 L462.64 56.36 L463.06 63.46 L463.48 59.98 L463.9 65.14 L464.32 57.05 L464.74 56.35 L465.16 52.55 L465.58 56.81 L465.99 56.04 L466.41 57.97 L466.83 60.39 L467.25 58.83 L467.67 62.63 L468.09 61.61 L468.51 57.93 L468.93 58.33 L469.35 60.01 L469.77 52.64 L470.19 55.99 L470.61 59.49 L471.03 58.68 L471.45 60.38 L471.87 60.63 L472.29 60.54 L472.71 52.94 L473.13 55.69 L473.54 56.32 L473.96 54.93 L474.38 49.98 L474.8 54.67 L475.22 57.94 L475.64 49.63 L476.06 58.16 L476.48 58.54 L476.9 55.46 L477.32 49.02 L477.74 56.3 L478.16 64.27 L478.58 58.27 L479 59.39 L479.42 59.62 L479.84 57.22 L480.26 57.07 L480.68 56.98 L481.1 59.42 L481.51 55.34 L481.93 53.06 L482.35 56.89 L482.77 60.38 L483.19 58.49 L483.61 58.69 L484.03 63.79 L484.45 64.53 L484.87 60.39 L485.29 62.38 L485.71 64.26 L486.13 63.66 L486.55 64.41 L486.97 64.89 L487.39 71.38 L487.81 62.97 L488.23 64.23 L488.65 68.33 L489.07 64.47 L489.48 64.9 L489.9 66.01 L490.32 63.22 L490.74 58.04 L491.16 60.88 L491.58 58.71 L492 55.72 L492.42 64.15 L492.84 66.23 L493.26 63.02 L493.68 69.35 L494.1 67.72 L494.52 62.15 L494.94 60.48 L495.36 61.21 L495.78 69.28 L496.2 59.55 L496.62 60.71 L497.03 60.42 L497.45 60.99 L497.87 68.02 L498.29 70.14 L498.71 70.26 L499.13 60.37 L499.55 64.42 L499.97 64.31 L500.39 64.23 L500.81 61.57 L501.23 60.58 L501.65 60.87 L502.07 65.83 L502.49 74 L502.91 67.39 L503.33 64.2 L503.75 59.85 L504.17 62.19 L504.59 64.97 L505 63.15 L505.42 68.62 L505.84 69.61 L506.26 70.08 L506.68 66.34 L507.1 59.12 L507.52 60.11 L507.94 59.44 L508.36 62.01 L508.78 63.05 L509.2 65.79 L509.62 66.45 L510.04 73.4 L510.46 72.58 L510.88 72.33 L511.3 65.39 L511.72 62.6 L512.14 59.61 L512.56 56.7 L512.97 60.93 L513.39 58.25 L513.81 53.89 L514.23 57.73 L514.65 55.66 L515.07 58.28 L515.49 63.61 L515.91 60.2 L516.33 61.25 L516.75 58.44 L517.17 58.61 L517.59 55.9 L518.01 62.07 L518.43 51.32 L518.85 48.5 L519.27 52.36 L519.69 55.65 L520.11 54.12 L520.52 51.2 L520.94 50.59 L521.36 50.34 L521.78 57.66 L522.2 58.35 L522.62 50.98 L523.04 51.22 L523.46 56.99 L523.88 57.7 L524.3 60.03" stroke="#f08a1c" stroke-width="1.0" fill="none" stroke-linejoin="round" />
<text x="0" y="0" font-size="8.6" text-anchor="middle" font-weight="normal" fill="#1a1a1a" stroke="#1a1a1a" stroke-width="0.18" transform="translate(456.9 61.5) rotate(-90)">Power</text>
<text x="492.4" y="87.6" font-size="8.6" text-anchor="middle" font-weight="normal" fill="#1a1a1a" stroke="#1a1a1a" stroke-width="0.18" >Time</text>
<rect x="483.7" y="35" width="148" height="3" fill="#ff0000" />
<rect x="483.7" y="39.8" width="148" height="3" fill="#f08a10" />
<ellipse cx="534.5" cy="37.4" rx="3.9" ry="28.2" fill="#ea9866" opacity="0.72"/>
<ellipse cx="536.9" cy="37.4" rx="3.9" ry="28.2" fill="#fde0ac" opacity="0.6"/>
<ellipse cx="555.7" cy="37.4" rx="3.9" ry="28.2" fill="#ea9866" opacity="0.72"/>
<ellipse cx="558.1" cy="37.4" rx="3.9" ry="28.2" fill="#fde0ac" opacity="0.6"/>
<ellipse cx="577.7" cy="37.4" rx="3.9" ry="28.2" fill="#ea9866" opacity="0.72"/>
<ellipse cx="580.1" cy="37.4" rx="3.9" ry="28.2" fill="#fde0ac" opacity="0.6"/>
<text x="535.5" y="78.6" font-size="8.6" text-anchor="middle" font-weight="normal" fill="#1a1a1a" stroke="#1a1a1a" stroke-width="0.18" >LP</text>
<text x="557" y="78.6" font-size="8.6" text-anchor="middle" font-weight="normal" fill="#1a1a1a" stroke="#1a1a1a" stroke-width="0.18" >HWP</text>
<text x="579.3" y="78.6" font-size="8.6" text-anchor="middle" font-weight="normal" fill="#1a1a1a" stroke="#1a1a1a" stroke-width="0.18" >QWP</text>
<path d="M592.9 21.1 L602.3 21.1 L611.8 26.8 L611.8 51.8 L602.3 57.5 L592.9 57.5 Z" fill="#e3e3e3" stroke="#3a3a3a" stroke-width="0.8"/>
<rect x="615.5" y="6" width="57.5" height="63.5" fill="#fcf6fc"/>
<path d="M618.4 12.4 L662.4 8.0 L662.4 69.5 L618.4 63.2 Z" fill="#f4eaf7"/>
<rect x="618.8" y="19.1" width="4.8" height="41.8" fill="#ffc000" />
<rect x="646.7" y="16.3" width="5.8" height="48.7" fill="#ffc000" />
<rect x="661.5" y="8.6" width="6.7" height="61.3" fill="#ffc000" />
<path d="M624.1 23.9 L625.1 22.5 L626.2 25.3 L627.2 22.5 L628.3 25.3 L629.3 22.5 L630.4 25.3 L631.4 22.5 L632.5 25.3 L633.5 22.5 L634.6 25.3" stroke="#d8a838" stroke-width="0.95" fill="none"/>
<path d="M636.6 23.9 L637.6 22.5 L638.7 25.3 L639.7 22.5 L640.8 25.3 L641.8 22.5 L642.9 25.3 L643.9 22.5 L645.0 25.3 L646.0 22.5 L647.1 25.3" stroke="#d8a838" stroke-width="0.95" fill="none"/>
<path d="M624.1 57.4 L625.1 56.0 L626.2 58.8 L627.2 56.0 L628.3 58.8 L629.3 56.0 L630.4 58.8 L631.4 56.0 L632.5 58.8 L633.5 56.0 L634.6 58.8" stroke="#d8a838" stroke-width="0.95" fill="none"/>
<path d="M636.6 57.4 L637.6 56.0 L638.7 58.8 L639.7 56.0 L640.8 58.8 L641.8 56.0 L642.9 58.8 L643.9 56.0 L645.0 58.8 L646.0 56.0 L647.1 58.8" stroke="#d8a838" stroke-width="0.95" fill="none"/>
<path d="M624.1 32.6 L625.1 31.2 L626.2 34.0 L627.2 31.2 L628.3 34.0 L629.3 31.2 L630.4 34.0 L631.4 31.2 L632.5 34.0 L633.5 31.2 L634.6 34.0" stroke="#d8a838" stroke-width="0.95" fill="none"/>
<path d="M636.6 32.6 L637.6 31.2 L638.7 34.0 L639.7 31.2 L640.8 34.0 L641.8 31.2 L642.9 34.0 L643.9 31.2 L645.0 34.0 L646.0 31.2 L647.1 34.0" stroke="#d8a838" stroke-width="0.95" fill="none"/>
<path d="M624.1 41.2 L625.1 39.8 L626.2 42.6 L627.2 39.8 L628.3 42.6 L629.3 39.8 L630.4 42.6 L631.4 39.8 L632.5 42.6 L633.5 39.8 L634.6 42.6" stroke="#d8a838" stroke-width="0.95" fill="none"/>
<path d="M636.6 41.2 L637.6 39.8 L638.7 42.6 L639.7 39.8 L640.8 42.6 L641.8 39.8 L642.9 42.6 L643.9 39.8 L645.0 42.6 L646.0 39.8 L647.1 42.6" stroke="#d8a838" stroke-width="0.95" fill="none"/>
<path d="M624.1 49.8 L625.1 48.4 L626.2 51.2 L627.2 48.4 L628.3 51.2 L629.3 48.4 L630.4 51.2 L631.4 48.4 L632.5 51.2 L633.5 48.4 L634.6 51.2" stroke="#d8a838" stroke-width="0.95" fill="none"/>
<path d="M636.6 49.8 L637.6 48.4 L638.7 51.2 L639.7 48.4 L640.8 51.2 L641.8 48.4 L642.9 51.2 L643.9 48.4 L645.0 51.2 L646.0 48.4 L647.1 51.2" stroke="#d8a838" stroke-width="0.95" fill="none"/>
<rect x="625" y="27.5" width="15.4" height="23.5" fill="#f3e9f6" />
<line x1="625" y1="28.6" x2="640.4" y2="28.6" stroke="#58aee8" stroke-width="1.0" />
<line x1="626" y1="29.95" x2="640" y2="29.95" stroke="#eab060" stroke-width="0.5" />
<line x1="625" y1="31.35" x2="640.4" y2="31.35" stroke="#58aee8" stroke-width="1.0" />
<line x1="626" y1="32.7" x2="640" y2="32.7" stroke="#eab060" stroke-width="0.5" />
<line x1="625" y1="34.1" x2="640.4" y2="34.1" stroke="#58aee8" stroke-width="1.0" />
<line x1="626" y1="35.45" x2="640" y2="35.45" stroke="#eab060" stroke-width="0.5" />
<line x1="625" y1="36.85" x2="640.4" y2="36.85" stroke="#58aee8" stroke-width="1.0" />
<line x1="626" y1="38.2" x2="640" y2="38.2" stroke="#eab060" stroke-width="0.5" />
<line x1="625" y1="39.6" x2="640.4" y2="39.6" stroke="#58aee8" stroke-width="1.0" />
<line x1="626" y1="40.95" x2="640" y2="40.95" stroke="#eab060" stroke-width="0.5" />
<line x1="625" y1="42.35" x2="640.4" y2="42.35" stroke="#58aee8" stroke-width="1.0" />
<line x1="626" y1="43.7" x2="640" y2="43.7" stroke="#eab060" stroke-width="0.5" />
<line x1="625" y1="45.1" x2="640.4" y2="45.1" stroke="#58aee8" stroke-width="1.0" />
<line x1="626" y1="46.45" x2="640" y2="46.45" stroke="#eab060" stroke-width="0.5" />
<line x1="625" y1="47.85" x2="640.4" y2="47.85" stroke="#58aee8" stroke-width="1.0" />
<line x1="626" y1="49.2" x2="640" y2="49.2" stroke="#eab060" stroke-width="0.5" />
<line x1="625" y1="50.6" x2="640.4" y2="50.6" stroke="#58aee8" stroke-width="1.0" />
<rect x="611.8" y="34.4" width="14" height="2.6" fill="#ff0000" />
<path d="M624.5 31.5 L632.8 35.7 L624.5 39.9 Z" fill="#ff0000"/>
<rect x="611.8" y="40" width="13" height="2.6" fill="#f08a10" />
<path d="M623.5 37.2 L631.8 41.3 L623.5 45.4 Z" fill="#f08a10"/>
<defs><radialGradient id="spot"><stop offset="0" stop-color="#ff5020" stop-opacity="1"/><stop offset="0.35" stop-color="#ff8a6a" stop-opacity="0.75"/><stop offset="0.8" stop-color="#ffaaa0" stop-opacity="0.55"/><stop offset="0.92" stop-color="#f8a8b0" stop-opacity="0.5"/><stop offset="1" stop-color="#ffc0c0" stop-opacity="0.15"/></radialGradient></defs>
<text x="450.2" y="98.9" font-size="14.5" text-anchor="start" font-weight="bold" fill="#000" stroke="#000" stroke-width="0.18" >f</text>
<rect x="464.6" y="94.8" width="12" height="48.8" fill="#ffc000" />
<rect x="532" y="94.8" width="12.1" height="48.8" fill="#ffc000" />
<rect x="485.5" y="102" width="17.7" height="32" fill="#edf3f6"/>
<path d="M485.5 103.0 L486.5 102.5 L487.5 103.5 L488.5 102.5 L489.5 103.5 L490.5 102.5 L491.5 103.5 L492.5 102.5 L493.5 103.5 L494.5 102.5 L495.5 103.5 L496.5 102.5 L497.5 103.5 L498.5 102.5 L499.5 103.5 L500.5 102.5 L501.5 103.5 L502.5 102.5 L503.2 103.5" stroke="#b4d4ea" stroke-width="0.6" fill="none"/>
<path d="M485.5 105.5 L486.5 105.0 L487.5 106.0 L488.5 105.0 L489.5 106.0 L490.5 105.0 L491.5 106.0 L492.5 105.0 L493.5 106.0 L494.5 105.0 L495.5 106.0 L496.5 105.0 L497.5 106.0 L498.5 105.0 L499.5 106.0 L500.5 105.0 L501.5 106.0 L502.5 105.0 L503.2 106.0" stroke="#e6d4a8" stroke-width="0.6" fill="none"/>
<path d="M485.5 108.0 L486.5 107.5 L487.5 108.5 L488.5 107.5 L489.5 108.5 L490.5 107.5 L491.5 108.5 L492.5 107.5 L493.5 108.5 L494.5 107.5 L495.5 108.5 L496.5 107.5 L497.5 108.5 L498.5 107.5 L499.5 108.5 L500.5 107.5 L501.5 108.5 L502.5 107.5 L503.2 108.5" stroke="#b4d4ea" stroke-width="0.6" fill="none"/>
<path d="M485.5 110.5 L486.5 110.0 L487.5 111.0 L488.5 110.0 L489.5 111.0 L490.5 110.0 L491.5 111.0 L492.5 110.0 L493.5 111.0 L494.5 110.0 L495.5 111.0 L496.5 110.0 L497.5 111.0 L498.5 110.0 L499.5 111.0 L500.5 110.0 L501.5 111.0 L502.5 110.0 L503.2 111.0" stroke="#e6d4a8" stroke-width="0.6" fill="none"/>
<path d="M485.5 113.0 L486.5 112.5 L487.5 113.5 L488.5 112.5 L489.5 113.5 L490.5 112.5 L491.5 113.5 L492.5 112.5 L493.5 113.5 L494.5 112.5 L495.5 113.5 L496.5 112.5 L497.5 113.5 L498.5 112.5 L499.5 113.5 L500.5 112.5 L501.5 113.5 L502.5 112.5 L503.2 113.5" stroke="#b4d4ea" stroke-width="0.6" fill="none"/>
<path d="M485.5 115.5 L486.5 115.0 L487.5 116.0 L488.5 115.0 L489.5 116.0 L490.5 115.0 L491.5 116.0 L492.5 115.0 L493.5 116.0 L494.5 115.0 L495.5 116.0 L496.5 115.0 L497.5 116.0 L498.5 115.0 L499.5 116.0 L500.5 115.0 L501.5 116.0 L502.5 115.0 L503.2 116.0" stroke="#e6d4a8" stroke-width="0.6" fill="none"/>
<path d="M485.5 118.0 L486.5 117.5 L487.5 118.5 L488.5 117.5 L489.5 118.5 L490.5 117.5 L491.5 118.5 L492.5 117.5 L493.5 118.5 L494.5 117.5 L495.5 118.5 L496.5 117.5 L497.5 118.5 L498.5 117.5 L499.5 118.5 L500.5 117.5 L501.5 118.5 L502.5 117.5 L503.2 118.5" stroke="#b4d4ea" stroke-width="0.6" fill="none"/>
<path d="M485.5 120.5 L486.5 120.0 L487.5 121.0 L488.5 120.0 L489.5 121.0 L490.5 120.0 L491.5 121.0 L492.5 120.0 L493.5 121.0 L494.5 120.0 L495.5 121.0 L496.5 120.0 L497.5 121.0 L498.5 120.0 L499.5 121.0 L500.5 120.0 L501.5 121.0 L502.5 120.0 L503.2 121.0" stroke="#e6d4a8" stroke-width="0.6" fill="none"/>
<path d="M485.5 123.0 L486.5 122.5 L487.5 123.5 L488.5 122.5 L489.5 123.5 L490.5 122.5 L491.5 123.5 L492.5 122.5 L493.5 123.5 L494.5 122.5 L495.5 123.5 L496.5 122.5 L497.5 123.5 L498.5 122.5 L499.5 123.5 L500.5 122.5 L501.5 123.5 L502.5 122.5 L503.2 123.5" stroke="#b4d4ea" stroke-width="0.6" fill="none"/>
<path d="M485.5 125.5 L486.5 125.0 L487.5 126.0 L488.5 125.0 L489.5 126.0 L490.5 125.0 L491.5 126.0 L492.5 125.0 L493.5 126.0 L494.5 125.0 L495.5 126.0 L496.5 125.0 L497.5 126.0 L498.5 125.0 L499.5 126.0 L500.5 125.0 L501.5 126.0 L502.5 125.0 L503.2 126.0" stroke="#e6d4a8" stroke-width="0.6" fill="none"/>
<path d="M485.5 128.0 L486.5 127.5 L487.5 128.5 L488.5 127.5 L489.5 128.5 L490.5 127.5 L491.5 128.5 L492.5 127.5 L493.5 128.5 L494.5 127.5 L495.5 128.5 L496.5 127.5 L497.5 128.5 L498.5 127.5 L499.5 128.5 L500.5 127.5 L501.5 128.5 L502.5 127.5 L503.2 128.5" stroke="#b4d4ea" stroke-width="0.6" fill="none"/>
<path d="M485.5 130.5 L486.5 130.0 L487.5 131.0 L488.5 130.0 L489.5 131.0 L490.5 130.0 L491.5 131.0 L492.5 130.0 L493.5 131.0 L494.5 130.0 L495.5 131.0 L496.5 130.0 L497.5 131.0 L498.5 130.0 L499.5 131.0 L500.5 130.0 L501.5 131.0 L502.5 130.0 L503.2 131.0" stroke="#e6d4a8" stroke-width="0.6" fill="none"/>
<path d="M485.5 133.0 L486.5 132.5 L487.5 133.5 L488.5 132.5 L489.5 133.5 L490.5 132.5 L491.5 133.5 L492.5 132.5 L493.5 133.5 L494.5 132.5 L495.5 133.5 L496.5 132.5 L497.5 133.5 L498.5 132.5 L499.5 133.5 L500.5 132.5 L501.5 133.5 L502.5 132.5 L503.2 133.5" stroke="#b4d4ea" stroke-width="0.6" fill="none"/>
<rect x="505.8" y="102" width="17.2" height="32" fill="#edf3f6"/>
<path d="M505.8 103.0 L506.8 102.5 L507.8 103.5 L508.8 102.5 L509.8 103.5 L510.8 102.5 L511.8 103.5 L512.8 102.5 L513.8 103.5 L514.8 102.5 L515.8 103.5 L516.8 102.5 L517.8 103.5 L518.8 102.5 L519.8 103.5 L520.8 102.5 L521.8 103.5 L522.8 102.5 L523.0 103.5" stroke="#b4d4ea" stroke-width="0.6" fill="none"/>
<path d="M505.8 105.5 L506.8 105.0 L507.8 106.0 L508.8 105.0 L509.8 106.0 L510.8 105.0 L511.8 106.0 L512.8 105.0 L513.8 106.0 L514.8 105.0 L515.8 106.0 L516.8 105.0 L517.8 106.0 L518.8 105.0 L519.8 106.0 L520.8 105.0 L521.8 106.0 L522.8 105.0 L523.0 106.0" stroke="#e6d4a8" stroke-width="0.6" fill="none"/>
<path d="M505.8 108.0 L506.8 107.5 L507.8 108.5 L508.8 107.5 L509.8 108.5 L510.8 107.5 L511.8 108.5 L512.8 107.5 L513.8 108.5 L514.8 107.5 L515.8 108.5 L516.8 107.5 L517.8 108.5 L518.8 107.5 L519.8 108.5 L520.8 107.5 L521.8 108.5 L522.8 107.5 L523.0 108.5" stroke="#b4d4ea" stroke-width="0.6" fill="none"/>
<path d="M505.8 110.5 L506.8 110.0 L507.8 111.0 L508.8 110.0 L509.8 111.0 L510.8 110.0 L511.8 111.0 L512.8 110.0 L513.8 111.0 L514.8 110.0 L515.8 111.0 L516.8 110.0 L517.8 111.0 L518.8 110.0 L519.8 111.0 L520.8 110.0 L521.8 111.0 L522.8 110.0 L523.0 111.0" stroke="#e6d4a8" stroke-width="0.6" fill="none"/>
<path d="M505.8 113.0 L506.8 112.5 L507.8 113.5 L508.8 112.5 L509.8 113.5 L510.8 112.5 L511.8 113.5 L512.8 112.5 L513.8 113.5 L514.8 112.5 L515.8 113.5 L516.8 112.5 L517.8 113.5 L518.8 112.5 L519.8 113.5 L520.8 112.5 L521.8 113.5 L522.8 112.5 L523.0 113.5" stroke="#b4d4ea" stroke-width="0.6" fill="none"/>
<path d="M505.8 115.5 L506.8 115.0 L507.8 116.0 L508.8 115.0 L509.8 116.0 L510.8 115.0 L511.8 116.0 L512.8 115.0 L513.8 116.0 L514.8 115.0 L515.8 116.0 L516.8 115.0 L517.8 116.0 L518.8 115.0 L519.8 116.0 L520.8 115.0 L521.8 116.0 L522.8 115.0 L523.0 116.0" stroke="#e6d4a8" stroke-width="0.6" fill="none"/>
<path d="M505.8 118.0 L506.8 117.5 L507.8 118.5 L508.8 117.5 L509.8 118.5 L510.8 117.5 L511.8 118.5 L512.8 117.5 L513.8 118.5 L514.8 117.5 L515.8 118.5 L516.8 117.5 L517.8 118.5 L518.8 117.5 L519.8 118.5 L520.8 117.5 L521.8 118.5 L522.8 117.5 L523.0 118.5" stroke="#b4d4ea" stroke-width="0.6" fill="none"/>
<path d="M505.8 120.5 L506.8 120.0 L507.8 121.0 L508.8 120.0 L509.8 121.0 L510.8 120.0 L511.8 121.0 L512.8 120.0 L513.8 121.0 L514.8 120.0 L515.8 121.0 L516.8 120.0 L517.8 121.0 L518.8 120.0 L519.8 121.0 L520.8 120.0 L521.8 121.0 L522.8 120.0 L523.0 121.0" stroke="#e6d4a8" stroke-width="0.6" fill="none"/>
<path d="M505.8 123.0 L506.8 122.5 L507.8 123.5 L508.8 122.5 L509.8 123.5 L510.8 122.5 L511.8 123.5 L512.8 122.5 L513.8 123.5 L514.8 122.5 L515.8 123.5 L516.8 122.5 L517.8 123.5 L518.8 122.5 L519.8 123.5 L520.8 122.5 L521.8 123.5 L522.8 122.5 L523.0 123.5" stroke="#b4d4ea" stroke-width="0.6" fill="none"/>
<path d="M505.8 125.5 L506.8 125.0 L507.8 126.0 L508.8 125.0 L509.8 126.0 L510.8 125.0 L511.8 126.0 L512.8 125.0 L513.8 126.0 L514.8 125.0 L515.8 126.0 L516.8 125.0 L517.8 126.0 L518.8 125.0 L519.8 126.0 L520.8 125.0 L521.8 126.0 L522.8 125.0 L523.0 126.0" stroke="#e6d4a8" stroke-width="0.6" fill="none"/>
<path d="M505.8 128.0 L506.8 127.5 L507.8 128.5 L508.8 127.5 L509.8 128.5 L510.8 127.5 L511.8 128.5 L512.8 127.5 L513.8 128.5 L514.8 127.5 L515.8 128.5 L516.8 127.5 L517.8 128.5 L518.8 127.5 L519.8 128.5 L520.8 127.5 L521.8 128.5 L522.8 127.5 L523.0 128.5" stroke="#b4d4ea" stroke-width="0.6" fill="none"/>
<path d="M505.8 130.5 L506.8 130.0 L507.8 131.0 L508.8 130.0 L509.8 131.0 L510.8 130.0 L511.8 131.0 L512.8 130.0 L513.8 131.0 L514.8 130.0 L515.8 131.0 L516.8 130.0 L517.8 131.0 L518.8 130.0 L519.8 131.0 L520.8 130.0 L521.8 131.0 L522.8 130.0 L523.0 131.0" stroke="#e6d4a8" stroke-width="0.6" fill="none"/>
<path d="M505.8 133.0 L506.8 132.5 L507.8 133.5 L508.8 132.5 L509.8 133.5 L510.8 132.5 L511.8 133.5 L512.8 132.5 L513.8 133.5 L514.8 132.5 L515.8 133.5 L516.8 132.5 L517.8 133.5 L518.8 132.5 L519.8 133.5 L520.8 132.5 L521.8 133.5 L522.8 132.5 L523.0 133.5" stroke="#b4d4ea" stroke-width="0.6" fill="none"/>
<path d="M476.6 104.1 L479.0 104.2 L479.6 101.7 L482.0 101.7 L482.6 104.2 L485.0 104.2 L485.6 101.7 L488.0 101.7 L488.6 104.2 L491.0 104.2 L491.6 101.7 L494.0 101.7 L494.6 104.2 L497.0 104.2 L497.6 101.7 L500.0 101.7 L500.6 104.2 L503.0 104.2 L503.6 101.7 L506.0 101.7 L506.6 104.2 L509.0 104.2 L509.6 101.7 L512.0 101.7 L512.6 104.2 L515.0 104.2 L515.6 101.7 L518.0 101.7 L518.6 104.2 L521.0 104.2 L521.6 101.7 L524.0 101.7 L524.6 104.2 L527.0 104.2 L527.6 101.7 L530.0 101.7 L530.6 104.2 L533.0 104.2 L533.6 101.7" stroke="#d8b04a" stroke-width="1.25" fill="none" stroke-linejoin="miter"/>
<path d="M476.6 114.4 L479.0 114.5 L479.6 112.0 L482.0 112.0 L482.6 114.5 L485.0 114.5 L485.6 112.0 L488.0 112.0 L488.6 114.5 L491.0 114.5 L491.6 112.0 L494.0 112.0 L494.6 114.5 L497.0 114.5 L497.6 112.0 L500.0 112.0 L500.6 114.5 L503.0 114.5 L503.6 112.0 L506.0 112.0 L506.6 114.5 L509.0 114.5 L509.6 112.0 L512.0 112.0 L512.6 114.5 L515.0 114.5 L515.6 112.0 L518.0 112.0 L518.6 114.5 L521.0 114.5 L521.6 112.0 L524.0 112.0 L524.6 114.5 L527.0 114.5 L527.6 112.0 L530.0 112.0 L530.6 114.5 L533.0 114.5 L533.6 112.0" stroke="#d8b04a" stroke-width="1.25" fill="none" stroke-linejoin="miter"/>
<path d="M476.6 126.9 L479.0 127.0 L479.6 124.5 L482.0 124.5 L482.6 127.0 L485.0 127.0 L485.6 124.5 L488.0 124.5 L488.6 127.0 L491.0 127.0 L491.6 124.5 L494.0 124.5 L494.6 127.0 L497.0 127.0 L497.6 124.5 L500.0 124.5 L500.6 127.0 L503.0 127.0 L503.6 124.5 L506.0 124.5 L506.6 127.0 L509.0 127.0 L509.6 124.5 L512.0 124.5 L512.6 127.0 L515.0 127.0 L515.6 124.5 L518.0 124.5 L518.6 127.0 L521.0 127.0 L521.6 124.5 L524.0 124.5 L524.6 127.0 L527.0 127.0 L527.6 124.5 L530.0 124.5 L530.6 127.0 L533.0 127.0 L533.6 124.5" stroke="#d8b04a" stroke-width="1.25" fill="none" stroke-linejoin="miter"/>
<path d="M476.6 138.0 L479.0 138.1 L479.6 135.6 L482.0 135.6 L482.6 138.1 L485.0 138.1 L485.6 135.6 L488.0 135.6 L488.6 138.1 L491.0 138.1 L491.6 135.6 L494.0 135.6 L494.6 138.1 L497.0 138.1 L497.6 135.6 L500.0 135.6 L500.6 138.1 L503.0 138.1 L503.6 135.6 L506.0 135.6 L506.6 138.1 L509.0 138.1 L509.6 135.6 L512.0 135.6 L512.6 138.1 L515.0 138.1 L515.6 135.6 L518.0 135.6 L518.6 138.1 L521.0 138.1 L521.6 135.6 L524.0 135.6 L524.6 138.1 L527.0 138.1 L527.6 135.6 L530.0 135.6 L530.6 138.1 L533.0 138.1 L533.6 135.6" stroke="#d8b04a" stroke-width="1.25" fill="none" stroke-linejoin="miter"/>
<circle cx="490" cy="118.5" r="11.8" fill="url(#spot)"/>
<text x="569" y="98.9" font-size="14.5" text-anchor="start" font-weight="bold" fill="#000" stroke="#000" stroke-width="0.18" >g</text>
<rect x="584.1" y="94.8" width="12" height="48.8" fill="#ffc000" />
<rect x="651.5" y="94.8" width="12.1" height="48.8" fill="#ffc000" />
<rect x="605" y="102" width="17.7" height="32" fill="#edf3f6"/>
<path d="M605.0 103.0 L606.0 102.5 L607.0 103.5 L608.0 102.5 L609.0 103.5 L610.0 102.5 L611.0 103.5 L612.0 102.5 L613.0 103.5 L614.0 102.5 L615.0 103.5 L616.0 102.5 L617.0 103.5 L618.0 102.5 L619.0 103.5 L620.0 102.5 L621.0 103.5 L622.0 102.5 L622.7 103.5" stroke="#b4d4ea" stroke-width="0.6" fill="none"/>
<path d="M605.0 105.5 L606.0 105.0 L607.0 106.0 L608.0 105.0 L609.0 106.0 L610.0 105.0 L611.0 106.0 L612.0 105.0 L613.0 106.0 L614.0 105.0 L615.0 106.0 L616.0 105.0 L617.0 106.0 L618.0 105.0 L619.0 106.0 L620.0 105.0 L621.0 106.0 L622.0 105.0 L622.7 106.0" stroke="#e6d4a8" stroke-width="0.6" fill="none"/>
<path d="M605.0 108.0 L606.0 107.5 L607.0 108.5 L608.0 107.5 L609.0 108.5 L610.0 107.5 L611.0 108.5 L612.0 107.5 L613.0 108.5 L614.0 107.5 L615.0 108.5 L616.0 107.5 L617.0 108.5 L618.0 107.5 L619.0 108.5 L620.0 107.5 L621.0 108.5 L622.0 107.5 L622.7 108.5" stroke="#b4d4ea" stroke-width="0.6" fill="none"/>
<path d="M605.0 110.5 L606.0 110.0 L607.0 111.0 L608.0 110.0 L609.0 111.0 L610.0 110.0 L611.0 111.0 L612.0 110.0 L613.0 111.0 L614.0 110.0 L615.0 111.0 L616.0 110.0 L617.0 111.0 L618.0 110.0 L619.0 111.0 L620.0 110.0 L621.0 111.0 L622.0 110.0 L622.7 111.0" stroke="#e6d4a8" stroke-width="0.6" fill="none"/>
<path d="M605.0 113.0 L606.0 112.5 L607.0 113.5 L608.0 112.5 L609.0 113.5 L610.0 112.5 L611.0 113.5 L612.0 112.5 L613.0 113.5 L614.0 112.5 L615.0 113.5 L616.0 112.5 L617.0 113.5 L618.0 112.5 L619.0 113.5 L620.0 112.5 L621.0 113.5 L622.0 112.5 L622.7 113.5" stroke="#b4d4ea" stroke-width="0.6" fill="none"/>
<path d="M605.0 115.5 L606.0 115.0 L607.0 116.0 L608.0 115.0 L609.0 116.0 L610.0 115.0 L611.0 116.0 L612.0 115.0 L613.0 116.0 L614.0 115.0 L615.0 116.0 L616.0 115.0 L617.0 116.0 L618.0 115.0 L619.0 116.0 L620.0 115.0 L621.0 116.0 L622.0 115.0 L622.7 116.0" stroke="#e6d4a8" stroke-width="0.6" fill="none"/>
<path d="M605.0 118.0 L606.0 117.5 L607.0 118.5 L608.0 117.5 L609.0 118.5 L610.0 117.5 L611.0 118.5 L612.0 117.5 L613.0 118.5 L614.0 117.5 L615.0 118.5 L616.0 117.5 L617.0 118.5 L618.0 117.5 L619.0 118.5 L620.0 117.5 L621.0 118.5 L622.0 117.5 L622.7 118.5" stroke="#b4d4ea" stroke-width="0.6" fill="none"/>
<path d="M605.0 120.5 L606.0 120.0 L607.0 121.0 L608.0 120.0 L609.0 121.0 L610.0 120.0 L611.0 121.0 L612.0 120.0 L613.0 121.0 L614.0 120.0 L615.0 121.0 L616.0 120.0 L617.0 121.0 L618.0 120.0 L619.0 121.0 L620.0 120.0 L621.0 121.0 L622.0 120.0 L622.7 121.0" stroke="#e6d4a8" stroke-width="0.6" fill="none"/>
<path d="M605.0 123.0 L606.0 122.5 L607.0 123.5 L608.0 122.5 L609.0 123.5 L610.0 122.5 L611.0 123.5 L612.0 122.5 L613.0 123.5 L614.0 122.5 L615.0 123.5 L616.0 122.5 L617.0 123.5 L618.0 122.5 L619.0 123.5 L620.0 122.5 L621.0 123.5 L622.0 122.5 L622.7 123.5" stroke="#b4d4ea" stroke-width="0.6" fill="none"/>
<path d="M605.0 125.5 L606.0 125.0 L607.0 126.0 L608.0 125.0 L609.0 126.0 L610.0 125.0 L611.0 126.0 L612.0 125.0 L613.0 126.0 L614.0 125.0 L615.0 126.0 L616.0 125.0 L617.0 126.0 L618.0 125.0 L619.0 126.0 L620.0 125.0 L621.0 126.0 L622.0 125.0 L622.7 126.0" stroke="#e6d4a8" stroke-width="0.6" fill="none"/>
<path d="M605.0 128.0 L606.0 127.5 L607.0 128.5 L608.0 127.5 L609.0 128.5 L610.0 127.5 L611.0 128.5 L612.0 127.5 L613.0 128.5 L614.0 127.5 L615.0 128.5 L616.0 127.5 L617.0 128.5 L618.0 127.5 L619.0 128.5 L620.0 127.5 L621.0 128.5 L622.0 127.5 L622.7 128.5" stroke="#b4d4ea" stroke-width="0.6" fill="none"/>
<path d="M605.0 130.5 L606.0 130.0 L607.0 131.0 L608.0 130.0 L609.0 131.0 L610.0 130.0 L611.0 131.0 L612.0 130.0 L613.0 131.0 L614.0 130.0 L615.0 131.0 L616.0 130.0 L617.0 131.0 L618.0 130.0 L619.0 131.0 L620.0 130.0 L621.0 131.0 L622.0 130.0 L622.7 131.0" stroke="#e6d4a8" stroke-width="0.6" fill="none"/>
<path d="M605.0 133.0 L606.0 132.5 L607.0 133.5 L608.0 132.5 L609.0 133.5 L610.0 132.5 L611.0 133.5 L612.0 132.5 L613.0 133.5 L614.0 132.5 L615.0 133.5 L616.0 132.5 L617.0 133.5 L618.0 132.5 L619.0 133.5 L620.0 132.5 L621.0 133.5 L622.0 132.5 L622.7 133.5" stroke="#b4d4ea" stroke-width="0.6" fill="none"/>
<rect x="625.3" y="102" width="17.2" height="32" fill="#edf3f6"/>
<path d="M625.3 103.0 L626.3 102.5 L627.3 103.5 L628.3 102.5 L629.3 103.5 L630.3 102.5 L631.3 103.5 L632.3 102.5 L633.3 103.5 L634.3 102.5 L635.3 103.5 L636.3 102.5 L637.3 103.5 L638.3 102.5 L639.3 103.5 L640.3 102.5 L641.3 103.5 L642.3 102.5 L642.5 103.5" stroke="#b4d4ea" stroke-width="0.6" fill="none"/>
<path d="M625.3 105.5 L626.3 105.0 L627.3 106.0 L628.3 105.0 L629.3 106.0 L630.3 105.0 L631.3 106.0 L632.3 105.0 L633.3 106.0 L634.3 105.0 L635.3 106.0 L636.3 105.0 L637.3 106.0 L638.3 105.0 L639.3 106.0 L640.3 105.0 L641.3 106.0 L642.3 105.0 L642.5 106.0" stroke="#e6d4a8" stroke-width="0.6" fill="none"/>
<path d="M625.3 108.0 L626.3 107.5 L627.3 108.5 L628.3 107.5 L629.3 108.5 L630.3 107.5 L631.3 108.5 L632.3 107.5 L633.3 108.5 L634.3 107.5 L635.3 108.5 L636.3 107.5 L637.3 108.5 L638.3 107.5 L639.3 108.5 L640.3 107.5 L641.3 108.5 L642.3 107.5 L642.5 108.5" stroke="#b4d4ea" stroke-width="0.6" fill="none"/>
<path d="M625.3 110.5 L626.3 110.0 L627.3 111.0 L628.3 110.0 L629.3 111.0 L630.3 110.0 L631.3 111.0 L632.3 110.0 L633.3 111.0 L634.3 110.0 L635.3 111.0 L636.3 110.0 L637.3 111.0 L638.3 110.0 L639.3 111.0 L640.3 110.0 L641.3 111.0 L642.3 110.0 L642.5 111.0" stroke="#e6d4a8" stroke-width="0.6" fill="none"/>
<path d="M625.3 113.0 L626.3 112.5 L627.3 113.5 L628.3 112.5 L629.3 113.5 L630.3 112.5 L631.3 113.5 L632.3 112.5 L633.3 113.5 L634.3 112.5 L635.3 113.5 L636.3 112.5 L637.3 113.5 L638.3 112.5 L639.3 113.5 L640.3 112.5 L641.3 113.5 L642.3 112.5 L642.5 113.5" stroke="#b4d4ea" stroke-width="0.6" fill="none"/>
<path d="M625.3 115.5 L626.3 115.0 L627.3 116.0 L628.3 115.0 L629.3 116.0 L630.3 115.0 L631.3 116.0 L632.3 115.0 L633.3 116.0 L634.3 115.0 L635.3 116.0 L636.3 115.0 L637.3 116.0 L638.3 115.0 L639.3 116.0 L640.3 115.0 L641.3 116.0 L642.3 115.0 L642.5 116.0" stroke="#e6d4a8" stroke-width="0.6" fill="none"/>
<path d="M625.3 118.0 L626.3 117.5 L627.3 118.5 L628.3 117.5 L629.3 118.5 L630.3 117.5 L631.3 118.5 L632.3 117.5 L633.3 118.5 L634.3 117.5 L635.3 118.5 L636.3 117.5 L637.3 118.5 L638.3 117.5 L639.3 118.5 L640.3 117.5 L641.3 118.5 L642.3 117.5 L642.5 118.5" stroke="#b4d4ea" stroke-width="0.6" fill="none"/>
<path d="M625.3 120.5 L626.3 120.0 L627.3 121.0 L628.3 120.0 L629.3 121.0 L630.3 120.0 L631.3 121.0 L632.3 120.0 L633.3 121.0 L634.3 120.0 L635.3 121.0 L636.3 120.0 L637.3 121.0 L638.3 120.0 L639.3 121.0 L640.3 120.0 L641.3 121.0 L642.3 120.0 L642.5 121.0" stroke="#e6d4a8" stroke-width="0.6" fill="none"/>
<path d="M625.3 123.0 L626.3 122.5 L627.3 123.5 L628.3 122.5 L629.3 123.5 L630.3 122.5 L631.3 123.5 L632.3 122.5 L633.3 123.5 L634.3 122.5 L635.3 123.5 L636.3 122.5 L637.3 123.5 L638.3 122.5 L639.3 123.5 L640.3 122.5 L641.3 123.5 L642.3 122.5 L642.5 123.5" stroke="#b4d4ea" stroke-width="0.6" fill="none"/>
<path d="M625.3 125.5 L626.3 125.0 L627.3 126.0 L628.3 125.0 L629.3 126.0 L630.3 125.0 L631.3 126.0 L632.3 125.0 L633.3 126.0 L634.3 125.0 L635.3 126.0 L636.3 125.0 L637.3 126.0 L638.3 125.0 L639.3 126.0 L640.3 125.0 L641.3 126.0 L642.3 125.0 L642.5 126.0" stroke="#e6d4a8" stroke-width="0.6" fill="none"/>
<path d="M625.3 128.0 L626.3 127.5 L627.3 128.5 L628.3 127.5 L629.3 128.5 L630.3 127.5 L631.3 128.5 L632.3 127.5 L633.3 128.5 L634.3 127.5 L635.3 128.5 L636.3 127.5 L637.3 128.5 L638.3 127.5 L639.3 128.5 L640.3 127.5 L641.3 128.5 L642.3 127.5 L642.5 128.5" stroke="#b4d4ea" stroke-width="0.6" fill="none"/>
<path d="M625.3 130.5 L626.3 130.0 L627.3 131.0 L628.3 130.0 L629.3 131.0 L630.3 130.0 L631.3 131.0 L632.3 130.0 L633.3 131.0 L634.3 130.0 L635.3 131.0 L636.3 130.0 L637.3 131.0 L638.3 130.0 L639.3 131.0 L640.3 130.0 L641.3 131.0 L642.3 130.0 L642.5 131.0" stroke="#e6d4a8" stroke-width="0.6" fill="none"/>
<path d="M625.3 133.0 L626.3 132.5 L627.3 133.5 L628.3 132.5 L629.3 133.5 L630.3 132.5 L631.3 133.5 L632.3 132.5 L633.3 133.5 L634.3 132.5 L635.3 133.5 L636.3 132.5 L637.3 133.5 L638.3 132.5 L639.3 133.5 L640.3 132.5 L641.3 133.5 L642.3 132.5 L642.5 133.5" stroke="#b4d4ea" stroke-width="0.6" fill="none"/>
<path d="M596.1 104.1 L598.5 104.2 L599.1 101.7 L601.5 101.7 L602.1 104.2 L604.5 104.2 L605.1 101.7 L607.5 101.7 L608.1 104.2 L610.5 104.2 L611.1 101.7 L613.5 101.7 L614.1 104.2 L616.5 104.2 L617.1 101.7 L619.5 101.7 L620.1 104.2 L622.5 104.2 L623.1 101.7 L625.5 101.7 L626.1 104.2 L628.5 104.2 L629.1 101.7 L631.5 101.7 L632.1 104.2 L634.5 104.2 L635.1 101.7 L637.5 101.7 L638.1 104.2 L640.5 104.2 L641.1 101.7 L643.5 101.7 L644.1 104.2 L646.5 104.2 L647.1 101.7 L649.5 101.7 L650.1 104.2 L652.5 104.2 L653.1 101.7" stroke="#d8b04a" stroke-width="1.25" fill="none" stroke-linejoin="miter"/>
<path d="M596.1 114.4 L598.5 114.5 L599.1 112.0 L601.5 112.0 L602.1 114.5 L604.5 114.5 L605.1 112.0 L607.5 112.0 L608.1 114.5 L610.5 114.5 L611.1 112.0 L613.5 112.0 L614.1 114.5 L616.5 114.5 L617.1 112.0 L619.5 112.0 L620.1 114.5 L622.5 114.5 L623.1 112.0 L625.5 112.0 L626.1 114.5 L628.5 114.5 L629.1 112.0 L631.5 112.0 L632.1 114.5 L634.5 114.5 L635.1 112.0 L637.5 112.0 L638.1 114.5 L640.5 114.5 L641.1 112.0 L643.5 112.0 L644.1 114.5 L646.5 114.5 L647.1 112.0 L649.5 112.0 L650.1 114.5 L652.5 114.5 L653.1 112.0" stroke="#d8b04a" stroke-width="1.25" fill="none" stroke-linejoin="miter"/>
<path d="M596.1 126.9 L598.5 127.0 L599.1 124.5 L601.5 124.5 L602.1 127.0 L604.5 127.0 L605.1 124.5 L607.5 124.5 L608.1 127.0 L610.5 127.0 L611.1 124.5 L613.5 124.5 L614.1 127.0 L616.5 127.0 L617.1 124.5 L619.5 124.5 L620.1 127.0 L622.5 127.0 L623.1 124.5 L625.5 124.5 L626.1 127.0 L628.5 127.0 L629.1 124.5 L631.5 124.5 L632.1 127.0 L634.5 127.0 L635.1 124.5 L637.5 124.5 L638.1 127.0 L640.5 127.0 L641.1 124.5 L643.5 124.5 L644.1 127.0 L646.5 127.0 L647.1 124.5 L649.5 124.5 L650.1 127.0 L652.5 127.0 L653.1 124.5" stroke="#d8b04a" stroke-width="1.25" fill="none" stroke-linejoin="miter"/>
<path d="M596.1 138.0 L598.5 138.1 L599.1 135.6 L601.5 135.6 L602.1 138.1 L604.5 138.1 L605.1 135.6 L607.5 135.6 L608.1 138.1 L610.5 138.1 L611.1 135.6 L613.5 135.6 L614.1 138.1 L616.5 138.1 L617.1 135.6 L619.5 135.6 L620.1 138.1 L622.5 138.1 L623.1 135.6 L625.5 135.6 L626.1 138.1 L628.5 138.1 L629.1 135.6 L631.5 135.6 L632.1 138.1 L634.5 138.1 L635.1 135.6 L637.5 135.6 L638.1 138.1 L640.5 138.1 L641.1 135.6 L643.5 135.6 L644.1 138.1 L646.5 138.1 L647.1 135.6 L649.5 135.6 L650.1 138.1 L652.5 138.1 L653.1 135.6" stroke="#d8b04a" stroke-width="1.25" fill="none" stroke-linejoin="miter"/>
<circle cx="623.4" cy="118.5" r="11.8" fill="url(#spot)"/>
<text x="449.6" y="183" font-size="14.5" text-anchor="start" font-weight="bold" fill="#000" stroke="#000" stroke-width="0.18" >h</text>
<text x="449.8" y="284" font-size="14.5" text-anchor="start" font-weight="bold" fill="#000" stroke="#000" stroke-width="0.18" >i</text>
<path d="M488.7 253.7a1.6 1.6 0 1 0 -3.2 0a1.6 1.6 0 1 0 3.2 0M488.9 266.0a1.6 1.6 0 1 0 -3.2 0a1.6 1.6 0 1 0 3.2 0M489.4 267.8a1.6 1.6 0 1 0 -3.2 0a1.6 1.6 0 1 0 3.2 0M489.3 252.2a1.6 1.6 0 1 0 -3.2 0a1.6 1.6 0 1 0 3.2 0M489.7 230.2a1.6 1.6 0 1 0 -3.2 0a1.6 1.6 0 1 0 3.2 0M489.8 264.5a1.6 1.6 0 1 0 -3.2 0a1.6 1.6 0 1 0 3.2 0M490.2 250.5a1.6 1.6 0 1 0 -3.2 0a1.6 1.6 0 1 0 3.2 0M490.4 268.6a1.6 1.6 0 1 0 -3.2 0a1.6 1.6 0 1 0 3.2 0M490.5 239.4a1.6 1.6 0 1 0 -3.2 0a1.6 1.6 0 1 0 3.2 0M491.0 231.9a1.6 1.6 0 1 0 -3.2 0a1.6 1.6 0 1 0 3.2 0M491.0 262.8a1.6 1.6 0 1 0 -3.2 0a1.6 1.6 0 1 0 3.2 0M491.1 239.8a1.6 1.6 0 1 0 -3.2 0a1.6 1.6 0 1 0 3.2 0M491.4 250.7a1.6 1.6 0 1 0 -3.2 0a1.6 1.6 0 1 0 3.2 0M491.8 258.9a1.6 1.6 0 1 0 -3.2 0a1.6 1.6 0 1 0 3.2 0M492.0 267.4a1.6 1.6 0 1 0 -3.2 0a1.6 1.6 0 1 0 3.2 0M492.1 258.3a1.6 1.6 0 1 0 -3.2 0a1.6 1.6 0 1 0 3.2 0M492.2 223.6a1.6 1.6 0 1 0 -3.2 0a1.6 1.6 0 1 0 3.2 0M492.5 257.1a1.6 1.6 0 1 0 -3.2 0a1.6 1.6 0 1 0 3.2 0M492.7 238.0a1.6 1.6 0 1 0 -3.2 0a1.6 1.6 0 1 0 3.2 0M493.1 241.1a1.6 1.6 0 1 0 -3.2 0a1.6 1.6 0 1 0 3.2 0M493.2 253.5a1.6 1.6 0 1 0 -3.2 0a1.6 1.6 0 1 0 3.2 0M493.3 238.2a1.6 1.6 0 1 0 -3.2 0a1.6 1.6 0 1 0 3.2 0M493.7 241.0a1.6 1.6 0 1 0 -3.2 0a1.6 1.6 0 1 0 3.2 0M493.8 239.8a1.6 1.6 0 1 0 -3.2 0a1.6 1.6 0 1 0 3.2 0M494.1 246.6a1.6 1.6 0 1 0 -3.2 0a1.6 1.6 0 1 0 3.2 0M494.5 236.2a1.6 1.6 0 1 0 -3.2 0a1.6 1.6 0 1 0 3.2 0M494.5 237.0a1.6 1.6 0 1 0 -3.2 0a1.6 1.6 0 1 0 3.2 0M495.0 241.1a1.6 1.6 0 1 0 -3.2 0a1.6 1.6 0 1 0 3.2 0M495.2 218.2a1.6 1.6 0 1 0 -3.2 0a1.6 1.6 0 1 0 3.2 0M495.2 231.3a1.6 1.6 0 1 0 -3.2 0a1.6 1.6 0 1 0 3.2 0M495.4 243.4a1.6 1.6 0 1 0 -3.2 0a1.6 1.6 0 1 0 3.2 0M495.8 230.4a1.6 1.6 0 1 0 -3.2 0a1.6 1.6 0 1 0 3.2 0M496.0 221.1a1.6 1.6 0 1 0 -3.2 0a1.6 1.6 0 1 0 3.2 0M496.1 224.7a1.6 1.6 0 1 0 -3.2 0a1.6 1.6 0 1 0 3.2 0M496.2 235.0a1.6 1.6 0 1 0 -3.2 0a1.6 1.6 0 1 0 3.2 0M496.7 213.1a1.6 1.6 0 1 0 -3.2 0a1.6 1.6 0 1 0 3.2 0M496.7 217.0a1.6 1.6 0 1 0 -3.2 0a1.6 1.6 0 1 0 3.2 0M496.8 228.0a1.6 1.6 0 1 0 -3.2 0a1.6 1.6 0 1 0 3.2 0M497.4 221.1a1.6 1.6 0 1 0 -3.2 0a1.6 1.6 0 1 0 3.2 0M497.4 239.7a1.6 1.6 0 1 0 -3.2 0a1.6 1.6 0 1 0 3.2 0M497.8 228.3a1.6 1.6 0 1 0 -3.2 0a1.6 1.6 0 1 0 3.2 0M498.0 233.2a1.6 1.6 0 1 0 -3.2 0a1.6 1.6 0 1 0 3.2 0M498.3 215.4a1.6 1.6 0 1 0 -3.2 0a1.6 1.6 0 1 0 3.2 0M498.5 223.5a1.6 1.6 0 1 0 -3.2 0a1.6 1.6 0 1 0 3.2 0M498.5 240.0a1.6 1.6 0 1 0 -3.2 0a1.6 1.6 0 1 0 3.2 0M498.6 221.1a1.6 1.6 0 1 0 -3.2 0a1.6 1.6 0 1 0 3.2 0M498.8 228.7a1.6 1.6 0 1 0 -3.2 0a1.6 1.6 0 1 0 3.2 0M499.3 223.6a1.6 1.6 0 1 0 -3.2 0a1.6 1.6 0 1 0 3.2 0M499.5 228.7a1.6 1.6 0 1 0 -3.2 0a1.6 1.6 0 1 0 3.2 0M499.5 217.4a1.6 1.6 0 1 0 -3.2 0a1.6 1.6 0 1 0 3.2 0M499.8 244.0a1.6 1.6 0 1 0 -3.2 0a1.6 1.6 0 1 0 3.2 0M500.3 233.7a1.6 1.6 0 1 0 -3.2 0a1.6 1.6 0 1 0 3.2 0M500.4 234.7a1.6 1.6 0 1 0 -3.2 0a1.6 1.6 0 1 0 3.2 0M500.4 224.5a1.6 1.6 0 1 0 -3.2 0a1.6 1.6 0 1 0 3.2 0M500.7 238.3a1.6 1.6 0 1 0 -3.2 0a1.6 1.6 0 1 0 3.2 0M500.9 230.8a1.6 1.6 0 1 0 -3.2 0a1.6 1.6 0 1 0 3.2 0M501.1 233.9a1.6 1.6 0 1 0 -3.2 0a1.6 1.6 0 1 0 3.2 0M501.3 225.1a1.6 1.6 0 1 0 -3.2 0a1.6 1.6 0 1 0 3.2 0M501.7 226.7a1.6 1.6 0 1 0 -3.2 0a1.6 1.6 0 1 0 3.2 0M502.0 243.5a1.6 1.6 0 1 0 -3.2 0a1.6 1.6 0 1 0 3.2 0M502.1 213.3a1.6 1.6 0 1 0 -3.2 0a1.6 1.6 0 1 0 3.2 0M502.3 219.7a1.6 1.6 0 1 0 -3.2 0a1.6 1.6 0 1 0 3.2 0M502.7 241.3a1.6 1.6 0 1 0 -3.2 0a1.6 1.6 0 1 0 3.2 0M502.9 223.1a1.6 1.6 0 1 0 -3.2 0a1.6 1.6 0 1 0 3.2 0M503.0 214.6a1.6 1.6 0 1 0 -3.2 0a1.6 1.6 0 1 0 3.2 0M503.2 223.6a1.6 1.6 0 1 0 -3.2 0a1.6 1.6 0 1 0 3.2 0M503.4 224.5a1.6 1.6 0 1 0 -3.2 0a1.6 1.6 0 1 0 3.2 0M503.6 222.6a1.6 1.6 0 1 0 -3.2 0a1.6 1.6 0 1 0 3.2 0M504.0 226.2a1.6 1.6 0 1 0 -3.2 0a1.6 1.6 0 1 0 3.2 0M504.1 232.7a1.6 1.6 0 1 0 -3.2 0a1.6 1.6 0 1 0 3.2 0M504.4 221.9a1.6 1.6 0 1 0 -3.2 0a1.6 1.6 0 1 0 3.2 0M504.5 225.6a1.6 1.6 0 1 0 -3.2 0a1.6 1.6 0 1 0 3.2 0M504.9 223.0a1.6 1.6 0 1 0 -3.2 0a1.6 1.6 0 1 0 3.2 0M505.1 234.8a1.6 1.6 0 1 0 -3.2 0a1.6 1.6 0 1 0 3.2 0M505.3 227.1a1.6 1.6 0 1 0 -3.2 0a1.6 1.6 0 1 0 3.2 0M505.4 229.8a1.6 1.6 0 1 0 -3.2 0a1.6 1.6 0 1 0 3.2 0M505.8 213.9a1.6 1.6 0 1 0 -3.2 0a1.6 1.6 0 1 0 3.2 0M505.8 229.8a1.6 1.6 0 1 0 -3.2 0a1.6 1.6 0 1 0 3.2 0M506.0 227.7a1.6 1.6 0 1 0 -3.2 0a1.6 1.6 0 1 0 3.2 0M506.5 225.9a1.6 1.6 0 1 0 -3.2 0a1.6 1.6 0 1 0 3.2 0M506.5 212.3a1.6 1.6 0 1 0 -3.2 0a1.6 1.6 0 1 0 3.2 0M506.6 213.8a1.6 1.6 0 1 0 -3.2 0a1.6 1.6 0 1 0 3.2 0M507.0 227.4a1.6 1.6 0 1 0 -3.2 0a1.6 1.6 0 1 0 3.2 0M507.1 230.2a1.6 1.6 0 1 0 -3.2 0a1.6 1.6 0 1 0 3.2 0M507.6 219.0a1.6 1.6 0 1 0 -3.2 0a1.6 1.6 0 1 0 3.2 0M507.7 216.2a1.6 1.6 0 1 0 -3.2 0a1.6 1.6 0 1 0 3.2 0M507.8 217.7a1.6 1.6 0 1 0 -3.2 0a1.6 1.6 0 1 0 3.2 0M508.1 228.6a1.6 1.6 0 1 0 -3.2 0a1.6 1.6 0 1 0 3.2 0M508.2 230.1a1.6 1.6 0 1 0 -3.2 0a1.6 1.6 0 1 0 3.2 0M508.7 241.0a1.6 1.6 0 1 0 -3.2 0a1.6 1.6 0 1 0 3.2 0M508.9 227.2a1.6 1.6 0 1 0 -3.2 0a1.6 1.6 0 1 0 3.2 0M508.8 228.0a1.6 1.6 0 1 0 -3.2 0a1.6 1.6 0 1 0 3.2 0M509.3 227.6a1.6 1.6 0 1 0 -3.2 0a1.6 1.6 0 1 0 3.2 0M509.3 226.6a1.6 1.6 0 1 0 -3.2 0a1.6 1.6 0 1 0 3.2 0M509.6 222.6a1.6 1.6 0 1 0 -3.2 0a1.6 1.6 0 1 0 3.2 0M510.0 235.1a1.6 1.6 0 1 0 -3.2 0a1.6 1.6 0 1 0 3.2 0M510.1 225.3a1.6 1.6 0 1 0 -3.2 0a1.6 1.6 0 1 0 3.2 0M510.3 229.9a1.6 1.6 0 1 0 -3.2 0a1.6 1.6 0 1 0 3.2 0M510.7 221.5a1.6 1.6 0 1 0 -3.2 0a1.6 1.6 0 1 0 3.2 0M510.6 250.0a1.6 1.6 0 1 0 -3.2 0a1.6 1.6 0 1 0 3.2 0M510.8 221.3a1.6 1.6 0 1 0 -3.2 0a1.6 1.6 0 1 0 3.2 0M511.1 263.4a1.6 1.6 0 1 0 -3.2 0a1.6 1.6 0 1 0 3.2 0M511.5 245.5a1.6 1.6 0 1 0 -3.2 0a1.6 1.6 0 1 0 3.2 0M511.6 245.6a1.6 1.6 0 1 0 -3.2 0a1.6 1.6 0 1 0 3.2 0M511.8 242.9a1.6 1.6 0 1 0 -3.2 0a1.6 1.6 0 1 0 3.2 0M511.9 238.0a1.6 1.6 0 1 0 -3.2 0a1.6 1.6 0 1 0 3.2 0M512.4 242.2a1.6 1.6 0 1 0 -3.2 0a1.6 1.6 0 1 0 3.2 0M512.5 232.2a1.6 1.6 0 1 0 -3.2 0a1.6 1.6 0 1 0 3.2 0M512.8 237.6a1.6 1.6 0 1 0 -3.2 0a1.6 1.6 0 1 0 3.2 0M513.0 236.0a1.6 1.6 0 1 0 -3.2 0a1.6 1.6 0 1 0 3.2 0M513.3 260.7a1.6 1.6 0 1 0 -3.2 0a1.6 1.6 0 1 0 3.2 0M513.3 263.8a1.6 1.6 0 1 0 -3.2 0a1.6 1.6 0 1 0 3.2 0M513.6 243.5a1.6 1.6 0 1 0 -3.2 0a1.6 1.6 0 1 0 3.2 0M513.9 242.8a1.6 1.6 0 1 0 -3.2 0a1.6 1.6 0 1 0 3.2 0M514.2 228.9a1.6 1.6 0 1 0 -3.2 0a1.6 1.6 0 1 0 3.2 0M514.2 257.3a1.6 1.6 0 1 0 -3.2 0a1.6 1.6 0 1 0 3.2 0M514.7 254.6a1.6 1.6 0 1 0 -3.2 0a1.6 1.6 0 1 0 3.2 0M514.7 238.4a1.6 1.6 0 1 0 -3.2 0a1.6 1.6 0 1 0 3.2 0M515.1 231.6a1.6 1.6 0 1 0 -3.2 0a1.6 1.6 0 1 0 3.2 0M515.2 232.8a1.6 1.6 0 1 0 -3.2 0a1.6 1.6 0 1 0 3.2 0M515.5 233.4a1.6 1.6 0 1 0 -3.2 0a1.6 1.6 0 1 0 3.2 0M515.6 233.7a1.6 1.6 0 1 0 -3.2 0a1.6 1.6 0 1 0 3.2 0M515.7 218.8a1.6 1.6 0 1 0 -3.2 0a1.6 1.6 0 1 0 3.2 0M516.2 228.1a1.6 1.6 0 1 0 -3.2 0a1.6 1.6 0 1 0 3.2 0M516.2 220.8a1.6 1.6 0 1 0 -3.2 0a1.6 1.6 0 1 0 3.2 0M516.5 223.1a1.6 1.6 0 1 0 -3.2 0a1.6 1.6 0 1 0 3.2 0M516.7 225.5a1.6 1.6 0 1 0 -3.2 0a1.6 1.6 0 1 0 3.2 0M517.0 241.0a1.6 1.6 0 1 0 -3.2 0a1.6 1.6 0 1 0 3.2 0M517.1 213.2a1.6 1.6 0 1 0 -3.2 0a1.6 1.6 0 1 0 3.2 0M517.6 215.0a1.6 1.6 0 1 0 -3.2 0a1.6 1.6 0 1 0 3.2 0M517.5 225.1a1.6 1.6 0 1 0 -3.2 0a1.6 1.6 0 1 0 3.2 0M518.0 217.6a1.6 1.6 0 1 0 -3.2 0a1.6 1.6 0 1 0 3.2 0M518.1 225.3a1.6 1.6 0 1 0 -3.2 0a1.6 1.6 0 1 0 3.2 0M518.3 217.4a1.6 1.6 0 1 0 -3.2 0a1.6 1.6 0 1 0 3.2 0M518.5 226.9a1.6 1.6 0 1 0 -3.2 0a1.6 1.6 0 1 0 3.2 0M518.8 224.5a1.6 1.6 0 1 0 -3.2 0a1.6 1.6 0 1 0 3.2 0M519.1 227.7a1.6 1.6 0 1 0 -3.2 0a1.6 1.6 0 1 0 3.2 0M519.1 263.6a1.6 1.6 0 1 0 -3.2 0a1.6 1.6 0 1 0 3.2 0M519.4 247.1a1.6 1.6 0 1 0 -3.2 0a1.6 1.6 0 1 0 3.2 0M519.5 236.5a1.6 1.6 0 1 0 -3.2 0a1.6 1.6 0 1 0 3.2 0M520.0 227.3a1.6 1.6 0 1 0 -3.2 0a1.6 1.6 0 1 0 3.2 0M520.2 224.6a1.6 1.6 0 1 0 -3.2 0a1.6 1.6 0 1 0 3.2 0M520.3 232.6a1.6 1.6 0 1 0 -3.2 0a1.6 1.6 0 1 0 3.2 0M520.6 218.4a1.6 1.6 0 1 0 -3.2 0a1.6 1.6 0 1 0 3.2 0M520.8 228.7a1.6 1.6 0 1 0 -3.2 0a1.6 1.6 0 1 0 3.2 0M521.1 221.0a1.6 1.6 0 1 0 -3.2 0a1.6 1.6 0 1 0 3.2 0M521.1 226.1a1.6 1.6 0 1 0 -3.2 0a1.6 1.6 0 1 0 3.2 0M521.4 237.2a1.6 1.6 0 1 0 -3.2 0a1.6 1.6 0 1 0 3.2 0M521.8 225.9a1.6 1.6 0 1 0 -3.2 0a1.6 1.6 0 1 0 3.2 0M521.7 214.1a1.6 1.6 0 1 0 -3.2 0a1.6 1.6 0 1 0 3.2 0M522.1 226.0a1.6 1.6 0 1 0 -3.2 0a1.6 1.6 0 1 0 3.2 0M522.2 229.8a1.6 1.6 0 1 0 -3.2 0a1.6 1.6 0 1 0 3.2 0M522.5 240.1a1.6 1.6 0 1 0 -3.2 0a1.6 1.6 0 1 0 3.2 0M522.7 221.2a1.6 1.6 0 1 0 -3.2 0a1.6 1.6 0 1 0 3.2 0M523.1 225.7a1.6 1.6 0 1 0 -3.2 0a1.6 1.6 0 1 0 3.2 0M523.2 226.1a1.6 1.6 0 1 0 -3.2 0a1.6 1.6 0 1 0 3.2 0M523.4 218.1a1.6 1.6 0 1 0 -3.2 0a1.6 1.6 0 1 0 3.2 0M523.7 226.5a1.6 1.6 0 1 0 -3.2 0a1.6 1.6 0 1 0 3.2 0M523.8 224.5a1.6 1.6 0 1 0 -3.2 0a1.6 1.6 0 1 0 3.2 0M524.1 235.0a1.6 1.6 0 1 0 -3.2 0a1.6 1.6 0 1 0 3.2 0M524.4 214.6a1.6 1.6 0 1 0 -3.2 0a1.6 1.6 0 1 0 3.2 0M524.4 223.5a1.6 1.6 0 1 0 -3.2 0a1.6 1.6 0 1 0 3.2 0M524.8 217.7a1.6 1.6 0 1 0 -3.2 0a1.6 1.6 0 1 0 3.2 0M525.1 220.4a1.6 1.6 0 1 0 -3.2 0a1.6 1.6 0 1 0 3.2 0M525.1 224.2a1.6 1.6 0 1 0 -3.2 0a1.6 1.6 0 1 0 3.2 0M525.2 222.5a1.6 1.6 0 1 0 -3.2 0a1.6 1.6 0 1 0 3.2 0M525.7 224.0a1.6 1.6 0 1 0 -3.2 0a1.6 1.6 0 1 0 3.2 0M525.7 221.2a1.6 1.6 0 1 0 -3.2 0a1.6 1.6 0 1 0 3.2 0M526.2 221.3a1.6 1.6 0 1 0 -3.2 0a1.6 1.6 0 1 0 3.2 0M526.1 214.0a1.6 1.6 0 1 0 -3.2 0a1.6 1.6 0 1 0 3.2 0M526.5 220.4a1.6 1.6 0 1 0 -3.2 0a1.6 1.6 0 1 0 3.2 0M526.8 221.5a1.6 1.6 0 1 0 -3.2 0a1.6 1.6 0 1 0 3.2 0M527.0 218.2a1.6 1.6 0 1 0 -3.2 0a1.6 1.6 0 1 0 3.2 0M527.3 223.6a1.6 1.6 0 1 0 -3.2 0a1.6 1.6 0 1 0 3.2 0M527.5 215.9a1.6 1.6 0 1 0 -3.2 0a1.6 1.6 0 1 0 3.2 0M527.7 222.0a1.6 1.6 0 1 0 -3.2 0a1.6 1.6 0 1 0 3.2 0M527.7 221.2a1.6 1.6 0 1 0 -3.2 0a1.6 1.6 0 1 0 3.2 0M528.2 224.7a1.6 1.6 0 1 0 -3.2 0a1.6 1.6 0 1 0 3.2 0M528.3 220.2a1.6 1.6 0 1 0 -3.2 0a1.6 1.6 0 1 0 3.2 0M528.6 217.9a1.6 1.6 0 1 0 -3.2 0a1.6 1.6 0 1 0 3.2 0M528.8 228.0a1.6 1.6 0 1 0 -3.2 0a1.6 1.6 0 1 0 3.2 0M529.1 221.0a1.6 1.6 0 1 0 -3.2 0a1.6 1.6 0 1 0 3.2 0M529.0 224.0a1.6 1.6 0 1 0 -3.2 0a1.6 1.6 0 1 0 3.2 0M529.4 219.5a1.6 1.6 0 1 0 -3.2 0a1.6 1.6 0 1 0 3.2 0M529.6 217.8a1.6 1.6 0 1 0 -3.2 0a1.6 1.6 0 1 0 3.2 0M529.9 227.2a1.6 1.6 0 1 0 -3.2 0a1.6 1.6 0 1 0 3.2 0M530.1 224.8a1.6 1.6 0 1 0 -3.2 0a1.6 1.6 0 1 0 3.2 0M530.2 218.7a1.6 1.6 0 1 0 -3.2 0a1.6 1.6 0 1 0 3.2 0M530.4 216.0a1.6 1.6 0 1 0 -3.2 0a1.6 1.6 0 1 0 3.2 0M530.5 225.1a1.6 1.6 0 1 0 -3.2 0a1.6 1.6 0 1 0 3.2 0M531.1 226.2a1.6 1.6 0 1 0 -3.2 0a1.6 1.6 0 1 0 3.2 0M531.2 213.6a1.6 1.6 0 1 0 -3.2 0a1.6 1.6 0 1 0 3.2 0M531.5 227.2a1.6 1.6 0 1 0 -3.2 0a1.6 1.6 0 1 0 3.2 0M531.6 222.3a1.6 1.6 0 1 0 -3.2 0a1.6 1.6 0 1 0 3.2 0M531.9 226.7a1.6 1.6 0 1 0 -3.2 0a1.6 1.6 0 1 0 3.2 0M532.2 220.4a1.6 1.6 0 1 0 -3.2 0a1.6 1.6 0 1 0 3.2 0M532.3 219.9a1.6 1.6 0 1 0 -3.2 0a1.6 1.6 0 1 0 3.2 0M532.6 230.5a1.6 1.6 0 1 0 -3.2 0a1.6 1.6 0 1 0 3.2 0M532.9 224.2a1.6 1.6 0 1 0 -3.2 0a1.6 1.6 0 1 0 3.2 0M532.8 215.8a1.6 1.6 0 1 0 -3.2 0a1.6 1.6 0 1 0 3.2 0M533.2 222.1a1.6 1.6 0 1 0 -3.2 0a1.6 1.6 0 1 0 3.2 0M533.4 216.6a1.6 1.6 0 1 0 -3.2 0a1.6 1.6 0 1 0 3.2 0M533.7 213.1a1.6 1.6 0 1 0 -3.2 0a1.6 1.6 0 1 0 3.2 0M534.0 231.7a1.6 1.6 0 1 0 -3.2 0a1.6 1.6 0 1 0 3.2 0M534.1 238.9a1.6 1.6 0 1 0 -3.2 0a1.6 1.6 0 1 0 3.2 0M534.2 223.6a1.6 1.6 0 1 0 -3.2 0a1.6 1.6 0 1 0 3.2 0M534.4 217.8a1.6 1.6 0 1 0 -3.2 0a1.6 1.6 0 1 0 3.2 0M534.5 230.1a1.6 1.6 0 1 0 -3.2 0a1.6 1.6 0 1 0 3.2 0M535.0 227.1a1.6 1.6 0 1 0 -3.2 0a1.6 1.6 0 1 0 3.2 0M535.1 219.9a1.6 1.6 0 1 0 -3.2 0a1.6 1.6 0 1 0 3.2 0M535.5 228.8a1.6 1.6 0 1 0 -3.2 0a1.6 1.6 0 1 0 3.2 0M535.4 219.6a1.6 1.6 0 1 0 -3.2 0a1.6 1.6 0 1 0 3.2 0M535.9 213.8a1.6 1.6 0 1 0 -3.2 0a1.6 1.6 0 1 0 3.2 0M536.1 239.9a1.6 1.6 0 1 0 -3.2 0a1.6 1.6 0 1 0 3.2 0M536.3 221.6a1.6 1.6 0 1 0 -3.2 0a1.6 1.6 0 1 0 3.2 0M536.6 226.9a1.6 1.6 0 1 0 -3.2 0a1.6 1.6 0 1 0 3.2 0M536.7 221.6a1.6 1.6 0 1 0 -3.2 0a1.6 1.6 0 1 0 3.2 0M536.7 229.0a1.6 1.6 0 1 0 -3.2 0a1.6 1.6 0 1 0 3.2 0M537.0 245.3a1.6 1.6 0 1 0 -3.2 0a1.6 1.6 0 1 0 3.2 0M537.2 220.2a1.6 1.6 0 1 0 -3.2 0a1.6 1.6 0 1 0 3.2 0M537.6 216.3a1.6 1.6 0 1 0 -3.2 0a1.6 1.6 0 1 0 3.2 0M537.7 235.4a1.6 1.6 0 1 0 -3.2 0a1.6 1.6 0 1 0 3.2 0M537.9 219.0a1.6 1.6 0 1 0 -3.2 0a1.6 1.6 0 1 0 3.2 0M538.1 227.1a1.6 1.6 0 1 0 -3.2 0a1.6 1.6 0 1 0 3.2 0M538.6 217.4a1.6 1.6 0 1 0 -3.2 0a1.6 1.6 0 1 0 3.2 0M538.6 233.9a1.6 1.6 0 1 0 -3.2 0a1.6 1.6 0 1 0 3.2 0M538.8 237.9a1.6 1.6 0 1 0 -3.2 0a1.6 1.6 0 1 0 3.2 0M539.0 218.8a1.6 1.6 0 1 0 -3.2 0a1.6 1.6 0 1 0 3.2 0M539.5 235.4a1.6 1.6 0 1 0 -3.2 0a1.6 1.6 0 1 0 3.2 0M539.5 222.1a1.6 1.6 0 1 0 -3.2 0a1.6 1.6 0 1 0 3.2 0M540.0 230.2a1.6 1.6 0 1 0 -3.2 0a1.6 1.6 0 1 0 3.2 0M540.0 235.6a1.6 1.6 0 1 0 -3.2 0a1.6 1.6 0 1 0 3.2 0M540.1 228.3a1.6 1.6 0 1 0 -3.2 0a1.6 1.6 0 1 0 3.2 0M540.6 235.9a1.6 1.6 0 1 0 -3.2 0a1.6 1.6 0 1 0 3.2 0M540.5 252.5a1.6 1.6 0 1 0 -3.2 0a1.6 1.6 0 1 0 3.2 0M541.1 232.5a1.6 1.6 0 1 0 -3.2 0a1.6 1.6 0 1 0 3.2 0M541.2 231.3a1.6 1.6 0 1 0 -3.2 0a1.6 1.6 0 1 0 3.2 0M541.3 217.5a1.6 1.6 0 1 0 -3.2 0a1.6 1.6 0 1 0 3.2 0M541.4 228.5a1.6 1.6 0 1 0 -3.2 0a1.6 1.6 0 1 0 3.2 0M541.6 213.6a1.6 1.6 0 1 0 -3.2 0a1.6 1.6 0 1 0 3.2 0M541.9 230.2a1.6 1.6 0 1 0 -3.2 0a1.6 1.6 0 1 0 3.2 0M542.2 221.6a1.6 1.6 0 1 0 -3.2 0a1.6 1.6 0 1 0 3.2 0M542.3 235.3a1.6 1.6 0 1 0 -3.2 0a1.6 1.6 0 1 0 3.2 0M542.6 225.4a1.6 1.6 0 1 0 -3.2 0a1.6 1.6 0 1 0 3.2 0M542.8 219.5a1.6 1.6 0 1 0 -3.2 0a1.6 1.6 0 1 0 3.2 0M543.2 234.0a1.6 1.6 0 1 0 -3.2 0a1.6 1.6 0 1 0 3.2 0M543.3 233.9a1.6 1.6 0 1 0 -3.2 0a1.6 1.6 0 1 0 3.2 0M543.7 233.0a1.6 1.6 0 1 0 -3.2 0a1.6 1.6 0 1 0 3.2 0M544.0 226.1a1.6 1.6 0 1 0 -3.2 0a1.6 1.6 0 1 0 3.2 0M544.0 214.4a1.6 1.6 0 1 0 -3.2 0a1.6 1.6 0 1 0 3.2 0M544.1 226.1a1.6 1.6 0 1 0 -3.2 0a1.6 1.6 0 1 0 3.2 0M544.4 231.0a1.6 1.6 0 1 0 -3.2 0a1.6 1.6 0 1 0 3.2 0M544.6 226.1a1.6 1.6 0 1 0 -3.2 0a1.6 1.6 0 1 0 3.2 0M545.0 220.6a1.6 1.6 0 1 0 -3.2 0a1.6 1.6 0 1 0 3.2 0M545.3 223.4a1.6 1.6 0 1 0 -3.2 0a1.6 1.6 0 1 0 3.2 0M545.3 217.2a1.6 1.6 0 1 0 -3.2 0a1.6 1.6 0 1 0 3.2 0M545.8 225.6a1.6 1.6 0 1 0 -3.2 0a1.6 1.6 0 1 0 3.2 0M545.8 232.2a1.6 1.6 0 1 0 -3.2 0a1.6 1.6 0 1 0 3.2 0M546.1 228.0a1.6 1.6 0 1 0 -3.2 0a1.6 1.6 0 1 0 3.2 0M546.0 215.3a1.6 1.6 0 1 0 -3.2 0a1.6 1.6 0 1 0 3.2 0M546.4 223.9a1.6 1.6 0 1 0 -3.2 0a1.6 1.6 0 1 0 3.2 0M546.8 217.2a1.6 1.6 0 1 0 -3.2 0a1.6 1.6 0 1 0 3.2 0M547.0 239.9a1.6 1.6 0 1 0 -3.2 0a1.6 1.6 0 1 0 3.2 0M546.9 228.3a1.6 1.6 0 1 0 -3.2 0a1.6 1.6 0 1 0 3.2 0M547.3 250.6a1.6 1.6 0 1 0 -3.2 0a1.6 1.6 0 1 0 3.2 0M547.7 222.7a1.6 1.6 0 1 0 -3.2 0a1.6 1.6 0 1 0 3.2 0M547.7 237.9a1.6 1.6 0 1 0 -3.2 0a1.6 1.6 0 1 0 3.2 0M548.1 217.5a1.6 1.6 0 1 0 -3.2 0a1.6 1.6 0 1 0 3.2 0M548.3 254.4a1.6 1.6 0 1 0 -3.2 0a1.6 1.6 0 1 0 3.2 0M548.6 244.0a1.6 1.6 0 1 0 -3.2 0a1.6 1.6 0 1 0 3.2 0M548.8 235.4a1.6 1.6 0 1 0 -3.2 0a1.6 1.6 0 1 0 3.2 0M549.0 234.2a1.6 1.6 0 1 0 -3.2 0a1.6 1.6 0 1 0 3.2 0M548.9 228.3a1.6 1.6 0 1 0 -3.2 0a1.6 1.6 0 1 0 3.2 0M549.4 226.0a1.6 1.6 0 1 0 -3.2 0a1.6 1.6 0 1 0 3.2 0M549.5 222.9a1.6 1.6 0 1 0 -3.2 0a1.6 1.6 0 1 0 3.2 0M549.7 232.2a1.6 1.6 0 1 0 -3.2 0a1.6 1.6 0 1 0 3.2 0M549.9 235.5a1.6 1.6 0 1 0 -3.2 0a1.6 1.6 0 1 0 3.2 0M550.3 224.4a1.6 1.6 0 1 0 -3.2 0a1.6 1.6 0 1 0 3.2 0M550.6 232.2a1.6 1.6 0 1 0 -3.2 0a1.6 1.6 0 1 0 3.2 0M550.6 228.2a1.6 1.6 0 1 0 -3.2 0a1.6 1.6 0 1 0 3.2 0M551.1 233.7a1.6 1.6 0 1 0 -3.2 0a1.6 1.6 0 1 0 3.2 0M551.1 228.6a1.6 1.6 0 1 0 -3.2 0a1.6 1.6 0 1 0 3.2 0M551.2 236.8a1.6 1.6 0 1 0 -3.2 0a1.6 1.6 0 1 0 3.2 0M551.7 220.1a1.6 1.6 0 1 0 -3.2 0a1.6 1.6 0 1 0 3.2 0M551.9 253.9a1.6 1.6 0 1 0 -3.2 0a1.6 1.6 0 1 0 3.2 0M552.1 220.5a1.6 1.6 0 1 0 -3.2 0a1.6 1.6 0 1 0 3.2 0M552.2 227.8a1.6 1.6 0 1 0 -3.2 0a1.6 1.6 0 1 0 3.2 0M552.6 213.3a1.6 1.6 0 1 0 -3.2 0a1.6 1.6 0 1 0 3.2 0M552.8 230.4a1.6 1.6 0 1 0 -3.2 0a1.6 1.6 0 1 0 3.2 0M553.0 220.8a1.6 1.6 0 1 0 -3.2 0a1.6 1.6 0 1 0 3.2 0M553.0 222.4a1.6 1.6 0 1 0 -3.2 0a1.6 1.6 0 1 0 3.2 0M553.3 237.1a1.6 1.6 0 1 0 -3.2 0a1.6 1.6 0 1 0 3.2 0M553.4 226.8a1.6 1.6 0 1 0 -3.2 0a1.6 1.6 0 1 0 3.2 0M553.9 214.5a1.6 1.6 0 1 0 -3.2 0a1.6 1.6 0 1 0 3.2 0M554.1 218.7a1.6 1.6 0 1 0 -3.2 0a1.6 1.6 0 1 0 3.2 0M554.1 226.1a1.6 1.6 0 1 0 -3.2 0a1.6 1.6 0 1 0 3.2 0M554.3 240.9a1.6 1.6 0 1 0 -3.2 0a1.6 1.6 0 1 0 3.2 0M554.7 229.7a1.6 1.6 0 1 0 -3.2 0a1.6 1.6 0 1 0 3.2 0M555.1 233.3a1.6 1.6 0 1 0 -3.2 0a1.6 1.6 0 1 0 3.2 0M555.2 225.6a1.6 1.6 0 1 0 -3.2 0a1.6 1.6 0 1 0 3.2 0M555.4 240.2a1.6 1.6 0 1 0 -3.2 0a1.6 1.6 0 1 0 3.2 0M555.5 213.8a1.6 1.6 0 1 0 -3.2 0a1.6 1.6 0 1 0 3.2 0M555.7 225.8a1.6 1.6 0 1 0 -3.2 0a1.6 1.6 0 1 0 3.2 0M556.1 235.1a1.6 1.6 0 1 0 -3.2 0a1.6 1.6 0 1 0 3.2 0M556.2 225.8a1.6 1.6 0 1 0 -3.2 0a1.6 1.6 0 1 0 3.2 0M556.3 249.0a1.6 1.6 0 1 0 -3.2 0a1.6 1.6 0 1 0 3.2 0M556.6 211.1a1.6 1.6 0 1 0 -3.2 0a1.6 1.6 0 1 0 3.2 0M557.0 226.3a1.6 1.6 0 1 0 -3.2 0a1.6 1.6 0 1 0 3.2 0M557.1 230.1a1.6 1.6 0 1 0 -3.2 0a1.6 1.6 0 1 0 3.2 0M557.3 220.7a1.6 1.6 0 1 0 -3.2 0a1.6 1.6 0 1 0 3.2 0M557.4 228.9a1.6 1.6 0 1 0 -3.2 0a1.6 1.6 0 1 0 3.2 0M557.8 226.3a1.6 1.6 0 1 0 -3.2 0a1.6 1.6 0 1 0 3.2 0M557.9 228.6a1.6 1.6 0 1 0 -3.2 0a1.6 1.6 0 1 0 3.2 0M558.2 236.7a1.6 1.6 0 1 0 -3.2 0a1.6 1.6 0 1 0 3.2 0M558.5 214.1a1.6 1.6 0 1 0 -3.2 0a1.6 1.6 0 1 0 3.2 0M558.7 222.1a1.6 1.6 0 1 0 -3.2 0a1.6 1.6 0 1 0 3.2 0M558.9 225.0a1.6 1.6 0 1 0 -3.2 0a1.6 1.6 0 1 0 3.2 0M559.2 224.5a1.6 1.6 0 1 0 -3.2 0a1.6 1.6 0 1 0 3.2 0M559.3 221.1a1.6 1.6 0 1 0 -3.2 0a1.6 1.6 0 1 0 3.2 0M559.6 247.2a1.6 1.6 0 1 0 -3.2 0a1.6 1.6 0 1 0 3.2 0M559.9 232.0a1.6 1.6 0 1 0 -3.2 0a1.6 1.6 0 1 0 3.2 0M559.9 219.9a1.6 1.6 0 1 0 -3.2 0a1.6 1.6 0 1 0 3.2 0M560.3 224.1a1.6 1.6 0 1 0 -3.2 0a1.6 1.6 0 1 0 3.2 0M560.3 232.4a1.6 1.6 0 1 0 -3.2 0a1.6 1.6 0 1 0 3.2 0M560.6 235.2a1.6 1.6 0 1 0 -3.2 0a1.6 1.6 0 1 0 3.2 0M560.7 237.7a1.6 1.6 0 1 0 -3.2 0a1.6 1.6 0 1 0 3.2 0M561.1 230.2a1.6 1.6 0 1 0 -3.2 0a1.6 1.6 0 1 0 3.2 0M561.2 226.6a1.6 1.6 0 1 0 -3.2 0a1.6 1.6 0 1 0 3.2 0M561.6 227.3a1.6 1.6 0 1 0 -3.2 0a1.6 1.6 0 1 0 3.2 0M561.6 212.6a1.6 1.6 0 1 0 -3.2 0a1.6 1.6 0 1 0 3.2 0M562.1 238.9a1.6 1.6 0 1 0 -3.2 0a1.6 1.6 0 1 0 3.2 0M562.1 215.5a1.6 1.6 0 1 0 -3.2 0a1.6 1.6 0 1 0 3.2 0M562.6 236.2a1.6 1.6 0 1 0 -3.2 0a1.6 1.6 0 1 0 3.2 0M562.8 225.1a1.6 1.6 0 1 0 -3.2 0a1.6 1.6 0 1 0 3.2 0M563.0 241.4a1.6 1.6 0 1 0 -3.2 0a1.6 1.6 0 1 0 3.2 0M563.0 224.5a1.6 1.6 0 1 0 -3.2 0a1.6 1.6 0 1 0 3.2 0M563.4 245.0a1.6 1.6 0 1 0 -3.2 0a1.6 1.6 0 1 0 3.2 0M563.5 241.1a1.6 1.6 0 1 0 -3.2 0a1.6 1.6 0 1 0 3.2 0M563.6 247.1a1.6 1.6 0 1 0 -3.2 0a1.6 1.6 0 1 0 3.2 0M563.8 246.0a1.6 1.6 0 1 0 -3.2 0a1.6 1.6 0 1 0 3.2 0M564.2 258.6a1.6 1.6 0 1 0 -3.2 0a1.6 1.6 0 1 0 3.2 0M564.4 242.6a1.6 1.6 0 1 0 -3.2 0a1.6 1.6 0 1 0 3.2 0M564.5 243.5a1.6 1.6 0 1 0 -3.2 0a1.6 1.6 0 1 0 3.2 0M565.0 251.1a1.6 1.6 0 1 0 -3.2 0a1.6 1.6 0 1 0 3.2 0M565.0 243.9a1.6 1.6 0 1 0 -3.2 0a1.6 1.6 0 1 0 3.2 0M565.1 215.0a1.6 1.6 0 1 0 -3.2 0a1.6 1.6 0 1 0 3.2 0M565.5 244.4a1.6 1.6 0 1 0 -3.2 0a1.6 1.6 0 1 0 3.2 0M565.8 246.8a1.6 1.6 0 1 0 -3.2 0a1.6 1.6 0 1 0 3.2 0M565.8 246.0a1.6 1.6 0 1 0 -3.2 0a1.6 1.6 0 1 0 3.2 0M566.2 255.6a1.6 1.6 0 1 0 -3.2 0a1.6 1.6 0 1 0 3.2 0M566.4 222.1a1.6 1.6 0 1 0 -3.2 0a1.6 1.6 0 1 0 3.2 0M566.6 247.0a1.6 1.6 0 1 0 -3.2 0a1.6 1.6 0 1 0 3.2 0M566.8 221.7a1.6 1.6 0 1 0 -3.2 0a1.6 1.6 0 1 0 3.2 0M567.2 232.1a1.6 1.6 0 1 0 -3.2 0a1.6 1.6 0 1 0 3.2 0M567.3 230.0a1.6 1.6 0 1 0 -3.2 0a1.6 1.6 0 1 0 3.2 0M567.4 243.7a1.6 1.6 0 1 0 -3.2 0a1.6 1.6 0 1 0 3.2 0M567.8 236.8a1.6 1.6 0 1 0 -3.2 0a1.6 1.6 0 1 0 3.2 0M567.9 255.2a1.6 1.6 0 1 0 -3.2 0a1.6 1.6 0 1 0 3.2 0M568.3 243.5a1.6 1.6 0 1 0 -3.2 0a1.6 1.6 0 1 0 3.2 0M568.2 243.2a1.6 1.6 0 1 0 -3.2 0a1.6 1.6 0 1 0 3.2 0M568.5 240.6a1.6 1.6 0 1 0 -3.2 0a1.6 1.6 0 1 0 3.2 0M568.7 247.3a1.6 1.6 0 1 0 -3.2 0a1.6 1.6 0 1 0 3.2 0M569.1 235.5a1.6 1.6 0 1 0 -3.2 0a1.6 1.6 0 1 0 3.2 0M569.3 240.7a1.6 1.6 0 1 0 -3.2 0a1.6 1.6 0 1 0 3.2 0M569.3 234.3a1.6 1.6 0 1 0 -3.2 0a1.6 1.6 0 1 0 3.2 0M569.7 236.8a1.6 1.6 0 1 0 -3.2 0a1.6 1.6 0 1 0 3.2 0M569.8 245.6a1.6 1.6 0 1 0 -3.2 0a1.6 1.6 0 1 0 3.2 0M570.3 254.6a1.6 1.6 0 1 0 -3.2 0a1.6 1.6 0 1 0 3.2 0M570.6 246.8a1.6 1.6 0 1 0 -3.2 0a1.6 1.6 0 1 0 3.2 0M570.7 239.2a1.6 1.6 0 1 0 -3.2 0a1.6 1.6 0 1 0 3.2 0M570.9 252.8a1.6 1.6 0 1 0 -3.2 0a1.6 1.6 0 1 0 3.2 0M570.9 253.2a1.6 1.6 0 1 0 -3.2 0a1.6 1.6 0 1 0 3.2 0M571.2 243.6a1.6 1.6 0 1 0 -3.2 0a1.6 1.6 0 1 0 3.2 0M571.5 222.9a1.6 1.6 0 1 0 -3.2 0a1.6 1.6 0 1 0 3.2 0M571.7 236.8a1.6 1.6 0 1 0 -3.2 0a1.6 1.6 0 1 0 3.2 0M571.8 237.8a1.6 1.6 0 1 0 -3.2 0a1.6 1.6 0 1 0 3.2 0M572.2 232.8a1.6 1.6 0 1 0 -3.2 0a1.6 1.6 0 1 0 3.2 0M572.5 228.1a1.6 1.6 0 1 0 -3.2 0a1.6 1.6 0 1 0 3.2 0M572.7 232.1a1.6 1.6 0 1 0 -3.2 0a1.6 1.6 0 1 0 3.2 0M572.8 229.2a1.6 1.6 0 1 0 -3.2 0a1.6 1.6 0 1 0 3.2 0M573.2 216.9a1.6 1.6 0 1 0 -3.2 0a1.6 1.6 0 1 0 3.2 0M573.4 238.7a1.6 1.6 0 1 0 -3.2 0a1.6 1.6 0 1 0 3.2 0M573.5 242.1a1.6 1.6 0 1 0 -3.2 0a1.6 1.6 0 1 0 3.2 0M573.8 221.2a1.6 1.6 0 1 0 -3.2 0a1.6 1.6 0 1 0 3.2 0M573.9 231.1a1.6 1.6 0 1 0 -3.2 0a1.6 1.6 0 1 0 3.2 0M574.1 226.5a1.6 1.6 0 1 0 -3.2 0a1.6 1.6 0 1 0 3.2 0M574.2 218.7a1.6 1.6 0 1 0 -3.2 0a1.6 1.6 0 1 0 3.2 0M574.5 233.8a1.6 1.6 0 1 0 -3.2 0a1.6 1.6 0 1 0 3.2 0M574.9 215.2a1.6 1.6 0 1 0 -3.2 0a1.6 1.6 0 1 0 3.2 0M575.0 212.6a1.6 1.6 0 1 0 -3.2 0a1.6 1.6 0 1 0 3.2 0M575.2 243.7a1.6 1.6 0 1 0 -3.2 0a1.6 1.6 0 1 0 3.2 0M575.5 214.1a1.6 1.6 0 1 0 -3.2 0a1.6 1.6 0 1 0 3.2 0M575.7 234.4a1.6 1.6 0 1 0 -3.2 0a1.6 1.6 0 1 0 3.2 0M575.9 231.6a1.6 1.6 0 1 0 -3.2 0a1.6 1.6 0 1 0 3.2 0M576.1 243.7a1.6 1.6 0 1 0 -3.2 0a1.6 1.6 0 1 0 3.2 0M576.4 226.0a1.6 1.6 0 1 0 -3.2 0a1.6 1.6 0 1 0 3.2 0M576.7 245.8a1.6 1.6 0 1 0 -3.2 0a1.6 1.6 0 1 0 3.2 0M576.9 236.0a1.6 1.6 0 1 0 -3.2 0a1.6 1.6 0 1 0 3.2 0M576.9 223.2a1.6 1.6 0 1 0 -3.2 0a1.6 1.6 0 1 0 3.2 0M577.3 235.0a1.6 1.6 0 1 0 -3.2 0a1.6 1.6 0 1 0 3.2 0M577.7 236.8a1.6 1.6 0 1 0 -3.2 0a1.6 1.6 0 1 0 3.2 0M577.8 237.7a1.6 1.6 0 1 0 -3.2 0a1.6 1.6 0 1 0 3.2 0M577.8 208.0a1.6 1.6 0 1 0 -3.2 0a1.6 1.6 0 1 0 3.2 0M578.0 229.5a1.6 1.6 0 1 0 -3.2 0a1.6 1.6 0 1 0 3.2 0M578.2 225.3a1.6 1.6 0 1 0 -3.2 0a1.6 1.6 0 1 0 3.2 0M578.8 236.5a1.6 1.6 0 1 0 -3.2 0a1.6 1.6 0 1 0 3.2 0M578.7 225.3a1.6 1.6 0 1 0 -3.2 0a1.6 1.6 0 1 0 3.2 0M579.0 237.4a1.6 1.6 0 1 0 -3.2 0a1.6 1.6 0 1 0 3.2 0M579.4 211.9a1.6 1.6 0 1 0 -3.2 0a1.6 1.6 0 1 0 3.2 0M579.3 250.6a1.6 1.6 0 1 0 -3.2 0a1.6 1.6 0 1 0 3.2 0M579.6 234.2a1.6 1.6 0 1 0 -3.2 0a1.6 1.6 0 1 0 3.2 0M579.9 226.7a1.6 1.6 0 1 0 -3.2 0a1.6 1.6 0 1 0 3.2 0M580.0 214.4a1.6 1.6 0 1 0 -3.2 0a1.6 1.6 0 1 0 3.2 0M580.6 232.9a1.6 1.6 0 1 0 -3.2 0a1.6 1.6 0 1 0 3.2 0M580.7 238.5a1.6 1.6 0 1 0 -3.2 0a1.6 1.6 0 1 0 3.2 0M580.6 231.0a1.6 1.6 0 1 0 -3.2 0a1.6 1.6 0 1 0 3.2 0M581.2 236.8a1.6 1.6 0 1 0 -3.2 0a1.6 1.6 0 1 0 3.2 0M581.2 218.0a1.6 1.6 0 1 0 -3.2 0a1.6 1.6 0 1 0 3.2 0M581.4 243.8a1.6 1.6 0 1 0 -3.2 0a1.6 1.6 0 1 0 3.2 0M581.8 225.5a1.6 1.6 0 1 0 -3.2 0a1.6 1.6 0 1 0 3.2 0M581.9 251.4a1.6 1.6 0 1 0 -3.2 0a1.6 1.6 0 1 0 3.2 0M582.0 229.0a1.6 1.6 0 1 0 -3.2 0a1.6 1.6 0 1 0 3.2 0M582.6 227.3a1.6 1.6 0 1 0 -3.2 0a1.6 1.6 0 1 0 3.2 0M582.6 220.1a1.6 1.6 0 1 0 -3.2 0a1.6 1.6 0 1 0 3.2 0M582.7 225.4a1.6 1.6 0 1 0 -3.2 0a1.6 1.6 0 1 0 3.2 0M583.1 211.9a1.6 1.6 0 1 0 -3.2 0a1.6 1.6 0 1 0 3.2 0M583.1 213.8a1.6 1.6 0 1 0 -3.2 0a1.6 1.6 0 1 0 3.2 0M583.6 224.4a1.6 1.6 0 1 0 -3.2 0a1.6 1.6 0 1 0 3.2 0M583.5 230.2a1.6 1.6 0 1 0 -3.2 0a1.6 1.6 0 1 0 3.2 0M583.7 227.4a1.6 1.6 0 1 0 -3.2 0a1.6 1.6 0 1 0 3.2 0M584.1 233.7a1.6 1.6 0 1 0 -3.2 0a1.6 1.6 0 1 0 3.2 0M584.2 222.0a1.6 1.6 0 1 0 -3.2 0a1.6 1.6 0 1 0 3.2 0M584.4 229.5a1.6 1.6 0 1 0 -3.2 0a1.6 1.6 0 1 0 3.2 0M584.7 236.9a1.6 1.6 0 1 0 -3.2 0a1.6 1.6 0 1 0 3.2 0M585.2 236.2a1.6 1.6 0 1 0 -3.2 0a1.6 1.6 0 1 0 3.2 0M585.1 224.0a1.6 1.6 0 1 0 -3.2 0a1.6 1.6 0 1 0 3.2 0M585.5 239.3a1.6 1.6 0 1 0 -3.2 0a1.6 1.6 0 1 0 3.2 0M585.5 234.1a1.6 1.6 0 1 0 -3.2 0a1.6 1.6 0 1 0 3.2 0M585.9 230.0a1.6 1.6 0 1 0 -3.2 0a1.6 1.6 0 1 0 3.2 0M586.1 227.6a1.6 1.6 0 1 0 -3.2 0a1.6 1.6 0 1 0 3.2 0M586.3 225.6a1.6 1.6 0 1 0 -3.2 0a1.6 1.6 0 1 0 3.2 0M586.6 234.9a1.6 1.6 0 1 0 -3.2 0a1.6 1.6 0 1 0 3.2 0M586.7 242.4a1.6 1.6 0 1 0 -3.2 0a1.6 1.6 0 1 0 3.2 0M586.9 236.5a1.6 1.6 0 1 0 -3.2 0a1.6 1.6 0 1 0 3.2 0M587.4 214.5a1.6 1.6 0 1 0 -3.2 0a1.6 1.6 0 1 0 3.2 0M587.5 232.8a1.6 1.6 0 1 0 -3.2 0a1.6 1.6 0 1 0 3.2 0M587.9 219.8a1.6 1.6 0 1 0 -3.2 0a1.6 1.6 0 1 0 3.2 0M587.8 236.3a1.6 1.6 0 1 0 -3.2 0a1.6 1.6 0 1 0 3.2 0M588.0 227.1a1.6 1.6 0 1 0 -3.2 0a1.6 1.6 0 1 0 3.2 0M588.4 231.1a1.6 1.6 0 1 0 -3.2 0a1.6 1.6 0 1 0 3.2 0M588.5 237.8a1.6 1.6 0 1 0 -3.2 0a1.6 1.6 0 1 0 3.2 0M588.7 240.3a1.6 1.6 0 1 0 -3.2 0a1.6 1.6 0 1 0 3.2 0M589.1 248.5a1.6 1.6 0 1 0 -3.2 0a1.6 1.6 0 1 0 3.2 0M589.4 239.9a1.6 1.6 0 1 0 -3.2 0a1.6 1.6 0 1 0 3.2 0M589.5 220.5a1.6 1.6 0 1 0 -3.2 0a1.6 1.6 0 1 0 3.2 0M589.6 253.9a1.6 1.6 0 1 0 -3.2 0a1.6 1.6 0 1 0 3.2 0M589.9 237.5a1.6 1.6 0 1 0 -3.2 0a1.6 1.6 0 1 0 3.2 0M590.3 258.6a1.6 1.6 0 1 0 -3.2 0a1.6 1.6 0 1 0 3.2 0M590.2 247.0a1.6 1.6 0 1 0 -3.2 0a1.6 1.6 0 1 0 3.2 0M590.4 240.4a1.6 1.6 0 1 0 -3.2 0a1.6 1.6 0 1 0 3.2 0M590.9 225.5a1.6 1.6 0 1 0 -3.2 0a1.6 1.6 0 1 0 3.2 0M591.1 227.1a1.6 1.6 0 1 0 -3.2 0a1.6 1.6 0 1 0 3.2 0M591.2 262.9a1.6 1.6 0 1 0 -3.2 0a1.6 1.6 0 1 0 3.2 0M591.3 260.5a1.6 1.6 0 1 0 -3.2 0a1.6 1.6 0 1 0 3.2 0M591.5 240.2a1.6 1.6 0 1 0 -3.2 0a1.6 1.6 0 1 0 3.2 0M591.9 251.7a1.6 1.6 0 1 0 -3.2 0a1.6 1.6 0 1 0 3.2 0M592.3 240.9a1.6 1.6 0 1 0 -3.2 0a1.6 1.6 0 1 0 3.2 0M592.5 258.3a1.6 1.6 0 1 0 -3.2 0a1.6 1.6 0 1 0 3.2 0M592.5 228.6a1.6 1.6 0 1 0 -3.2 0a1.6 1.6 0 1 0 3.2 0M592.7 265.1a1.6 1.6 0 1 0 -3.2 0a1.6 1.6 0 1 0 3.2 0M592.9 244.2a1.6 1.6 0 1 0 -3.2 0a1.6 1.6 0 1 0 3.2 0M593.1 249.3a1.6 1.6 0 1 0 -3.2 0a1.6 1.6 0 1 0 3.2 0M593.7 236.4a1.6 1.6 0 1 0 -3.2 0a1.6 1.6 0 1 0 3.2 0M593.8 240.6a1.6 1.6 0 1 0 -3.2 0a1.6 1.6 0 1 0 3.2 0M593.8 253.8a1.6 1.6 0 1 0 -3.2 0a1.6 1.6 0 1 0 3.2 0M594.0 268.1a1.6 1.6 0 1 0 -3.2 0a1.6 1.6 0 1 0 3.2 0M594.5 236.6a1.6 1.6 0 1 0 -3.2 0a1.6 1.6 0 1 0 3.2 0M594.7 239.7a1.6 1.6 0 1 0 -3.2 0a1.6 1.6 0 1 0 3.2 0M594.6 252.8a1.6 1.6 0 1 0 -3.2 0a1.6 1.6 0 1 0 3.2 0M595.2 254.7a1.6 1.6 0 1 0 -3.2 0a1.6 1.6 0 1 0 3.2 0M595.4 236.4a1.6 1.6 0 1 0 -3.2 0a1.6 1.6 0 1 0 3.2 0M595.5 229.0a1.6 1.6 0 1 0 -3.2 0a1.6 1.6 0 1 0 3.2 0M595.7 219.0a1.6 1.6 0 1 0 -3.2 0a1.6 1.6 0 1 0 3.2 0M595.7 252.4a1.6 1.6 0 1 0 -3.2 0a1.6 1.6 0 1 0 3.2 0M595.9 229.3a1.6 1.6 0 1 0 -3.2 0a1.6 1.6 0 1 0 3.2 0M596.5 237.6a1.6 1.6 0 1 0 -3.2 0a1.6 1.6 0 1 0 3.2 0M596.7 229.1a1.6 1.6 0 1 0 -3.2 0a1.6 1.6 0 1 0 3.2 0M596.8 226.1a1.6 1.6 0 1 0 -3.2 0a1.6 1.6 0 1 0 3.2 0M597.2 246.5a1.6 1.6 0 1 0 -3.2 0a1.6 1.6 0 1 0 3.2 0M597.4 217.1a1.6 1.6 0 1 0 -3.2 0a1.6 1.6 0 1 0 3.2 0M597.5 220.3a1.6 1.6 0 1 0 -3.2 0a1.6 1.6 0 1 0 3.2 0M597.9 235.2a1.6 1.6 0 1 0 -3.2 0a1.6 1.6 0 1 0 3.2 0M598.0 230.4a1.6 1.6 0 1 0 -3.2 0a1.6 1.6 0 1 0 3.2 0M598.0 241.7a1.6 1.6 0 1 0 -3.2 0a1.6 1.6 0 1 0 3.2 0M598.5 231.9a1.6 1.6 0 1 0 -3.2 0a1.6 1.6 0 1 0 3.2 0M598.7 221.1a1.6 1.6 0 1 0 -3.2 0a1.6 1.6 0 1 0 3.2 0M599.0 224.0a1.6 1.6 0 1 0 -3.2 0a1.6 1.6 0 1 0 3.2 0M599.1 236.2a1.6 1.6 0 1 0 -3.2 0a1.6 1.6 0 1 0 3.2 0M599.1 235.5a1.6 1.6 0 1 0 -3.2 0a1.6 1.6 0 1 0 3.2 0M599.3 231.9a1.6 1.6 0 1 0 -3.2 0a1.6 1.6 0 1 0 3.2 0M599.8 235.0a1.6 1.6 0 1 0 -3.2 0a1.6 1.6 0 1 0 3.2 0M599.7 220.0a1.6 1.6 0 1 0 -3.2 0a1.6 1.6 0 1 0 3.2 0M600.1 251.4a1.6 1.6 0 1 0 -3.2 0a1.6 1.6 0 1 0 3.2 0M600.1 228.4a1.6 1.6 0 1 0 -3.2 0a1.6 1.6 0 1 0 3.2 0M600.4 229.1a1.6 1.6 0 1 0 -3.2 0a1.6 1.6 0 1 0 3.2 0M600.7 238.3a1.6 1.6 0 1 0 -3.2 0a1.6 1.6 0 1 0 3.2 0M601.1 230.4a1.6 1.6 0 1 0 -3.2 0a1.6 1.6 0 1 0 3.2 0M601.3 224.3a1.6 1.6 0 1 0 -3.2 0a1.6 1.6 0 1 0 3.2 0M601.4 220.8a1.6 1.6 0 1 0 -3.2 0a1.6 1.6 0 1 0 3.2 0M601.6 220.2a1.6 1.6 0 1 0 -3.2 0a1.6 1.6 0 1 0 3.2 0M601.8 238.3a1.6 1.6 0 1 0 -3.2 0a1.6 1.6 0 1 0 3.2 0M602.2 223.5a1.6 1.6 0 1 0 -3.2 0a1.6 1.6 0 1 0 3.2 0M602.3 219.2a1.6 1.6 0 1 0 -3.2 0a1.6 1.6 0 1 0 3.2 0M602.4 218.8a1.6 1.6 0 1 0 -3.2 0a1.6 1.6 0 1 0 3.2 0M602.6 233.3a1.6 1.6 0 1 0 -3.2 0a1.6 1.6 0 1 0 3.2 0M603.1 222.8a1.6 1.6 0 1 0 -3.2 0a1.6 1.6 0 1 0 3.2 0M603.1 250.1a1.6 1.6 0 1 0 -3.2 0a1.6 1.6 0 1 0 3.2 0M603.5 229.0a1.6 1.6 0 1 0 -3.2 0a1.6 1.6 0 1 0 3.2 0M603.8 219.6a1.6 1.6 0 1 0 -3.2 0a1.6 1.6 0 1 0 3.2 0M603.8 216.3a1.6 1.6 0 1 0 -3.2 0a1.6 1.6 0 1 0 3.2 0M604.1 215.3a1.6 1.6 0 1 0 -3.2 0a1.6 1.6 0 1 0 3.2 0M604.2 234.2a1.6 1.6 0 1 0 -3.2 0a1.6 1.6 0 1 0 3.2 0M604.7 225.8a1.6 1.6 0 1 0 -3.2 0a1.6 1.6 0 1 0 3.2 0M604.9 215.4a1.6 1.6 0 1 0 -3.2 0a1.6 1.6 0 1 0 3.2 0M605.1 227.8a1.6 1.6 0 1 0 -3.2 0a1.6 1.6 0 1 0 3.2 0M605.2 226.9a1.6 1.6 0 1 0 -3.2 0a1.6 1.6 0 1 0 3.2 0M605.4 228.4a1.6 1.6 0 1 0 -3.2 0a1.6 1.6 0 1 0 3.2 0M605.7 218.0a1.6 1.6 0 1 0 -3.2 0a1.6 1.6 0 1 0 3.2 0M606.0 229.6a1.6 1.6 0 1 0 -3.2 0a1.6 1.6 0 1 0 3.2 0M606.2 226.0a1.6 1.6 0 1 0 -3.2 0a1.6 1.6 0 1 0 3.2 0M606.3 219.3a1.6 1.6 0 1 0 -3.2 0a1.6 1.6 0 1 0 3.2 0M606.7 232.5a1.6 1.6 0 1 0 -3.2 0a1.6 1.6 0 1 0 3.2 0M606.6 229.8a1.6 1.6 0 1 0 -3.2 0a1.6 1.6 0 1 0 3.2 0M607.2 238.3a1.6 1.6 0 1 0 -3.2 0a1.6 1.6 0 1 0 3.2 0M607.0 232.2a1.6 1.6 0 1 0 -3.2 0a1.6 1.6 0 1 0 3.2 0M607.5 236.3a1.6 1.6 0 1 0 -3.2 0a1.6 1.6 0 1 0 3.2 0M607.8 227.4a1.6 1.6 0 1 0 -3.2 0a1.6 1.6 0 1 0 3.2 0M607.7 224.5a1.6 1.6 0 1 0 -3.2 0a1.6 1.6 0 1 0 3.2 0M608.2 214.5a1.6 1.6 0 1 0 -3.2 0a1.6 1.6 0 1 0 3.2 0M608.3 239.2a1.6 1.6 0 1 0 -3.2 0a1.6 1.6 0 1 0 3.2 0M608.5 218.9a1.6 1.6 0 1 0 -3.2 0a1.6 1.6 0 1 0 3.2 0M608.6 222.8a1.6 1.6 0 1 0 -3.2 0a1.6 1.6 0 1 0 3.2 0M608.8 238.1a1.6 1.6 0 1 0 -3.2 0a1.6 1.6 0 1 0 3.2 0M609.3 221.3a1.6 1.6 0 1 0 -3.2 0a1.6 1.6 0 1 0 3.2 0M609.5 230.1a1.6 1.6 0 1 0 -3.2 0a1.6 1.6 0 1 0 3.2 0M609.6 233.0a1.6 1.6 0 1 0 -3.2 0a1.6 1.6 0 1 0 3.2 0M609.9 230.8a1.6 1.6 0 1 0 -3.2 0a1.6 1.6 0 1 0 3.2 0M610.2 224.8a1.6 1.6 0 1 0 -3.2 0a1.6 1.6 0 1 0 3.2 0M610.4 217.9a1.6 1.6 0 1 0 -3.2 0a1.6 1.6 0 1 0 3.2 0M610.6 216.3a1.6 1.6 0 1 0 -3.2 0a1.6 1.6 0 1 0 3.2 0M610.9 236.1a1.6 1.6 0 1 0 -3.2 0a1.6 1.6 0 1 0 3.2 0M611.1 223.4a1.6 1.6 0 1 0 -3.2 0a1.6 1.6 0 1 0 3.2 0M611.1 234.4a1.6 1.6 0 1 0 -3.2 0a1.6 1.6 0 1 0 3.2 0M611.3 234.4a1.6 1.6 0 1 0 -3.2 0a1.6 1.6 0 1 0 3.2 0M611.8 219.0a1.6 1.6 0 1 0 -3.2 0a1.6 1.6 0 1 0 3.2 0M611.8 226.5a1.6 1.6 0 1 0 -3.2 0a1.6 1.6 0 1 0 3.2 0M612.1 226.9a1.6 1.6 0 1 0 -3.2 0a1.6 1.6 0 1 0 3.2 0M612.3 217.1a1.6 1.6 0 1 0 -3.2 0a1.6 1.6 0 1 0 3.2 0M612.4 224.0a1.6 1.6 0 1 0 -3.2 0a1.6 1.6 0 1 0 3.2 0M612.7 222.7a1.6 1.6 0 1 0 -3.2 0a1.6 1.6 0 1 0 3.2 0M613.0 213.5a1.6 1.6 0 1 0 -3.2 0a1.6 1.6 0 1 0 3.2 0M613.4 226.3a1.6 1.6 0 1 0 -3.2 0a1.6 1.6 0 1 0 3.2 0M613.3 236.0a1.6 1.6 0 1 0 -3.2 0a1.6 1.6 0 1 0 3.2 0M613.7 230.8a1.6 1.6 0 1 0 -3.2 0a1.6 1.6 0 1 0 3.2 0M613.8 222.5a1.6 1.6 0 1 0 -3.2 0a1.6 1.6 0 1 0 3.2 0M614.1 222.7a1.6 1.6 0 1 0 -3.2 0a1.6 1.6 0 1 0 3.2 0M614.4 239.8a1.6 1.6 0 1 0 -3.2 0a1.6 1.6 0 1 0 3.2 0M614.5 233.2a1.6 1.6 0 1 0 -3.2 0a1.6 1.6 0 1 0 3.2 0M614.8 226.7a1.6 1.6 0 1 0 -3.2 0a1.6 1.6 0 1 0 3.2 0M614.9 233.7a1.6 1.6 0 1 0 -3.2 0a1.6 1.6 0 1 0 3.2 0M615.1 225.8a1.6 1.6 0 1 0 -3.2 0a1.6 1.6 0 1 0 3.2 0M615.5 227.7a1.6 1.6 0 1 0 -3.2 0a1.6 1.6 0 1 0 3.2 0M615.7 226.9a1.6 1.6 0 1 0 -3.2 0a1.6 1.6 0 1 0 3.2 0M615.8 217.4a1.6 1.6 0 1 0 -3.2 0a1.6 1.6 0 1 0 3.2 0M615.9 232.2a1.6 1.6 0 1 0 -3.2 0a1.6 1.6 0 1 0 3.2 0M616.4 214.6a1.6 1.6 0 1 0 -3.2 0a1.6 1.6 0 1 0 3.2 0M616.4 233.3a1.6 1.6 0 1 0 -3.2 0a1.6 1.6 0 1 0 3.2 0M616.7 237.8a1.6 1.6 0 1 0 -3.2 0a1.6 1.6 0 1 0 3.2 0M616.8 220.6a1.6 1.6 0 1 0 -3.2 0a1.6 1.6 0 1 0 3.2 0M617.2 245.2a1.6 1.6 0 1 0 -3.2 0a1.6 1.6 0 1 0 3.2 0M617.5 248.8a1.6 1.6 0 1 0 -3.2 0a1.6 1.6 0 1 0 3.2 0M617.8 242.6a1.6 1.6 0 1 0 -3.2 0a1.6 1.6 0 1 0 3.2 0M617.7 238.9a1.6 1.6 0 1 0 -3.2 0a1.6 1.6 0 1 0 3.2 0M617.9 231.3a1.6 1.6 0 1 0 -3.2 0a1.6 1.6 0 1 0 3.2 0M618.4 255.7a1.6 1.6 0 1 0 -3.2 0a1.6 1.6 0 1 0 3.2 0M618.5 245.2a1.6 1.6 0 1 0 -3.2 0a1.6 1.6 0 1 0 3.2 0M618.7 239.3a1.6 1.6 0 1 0 -3.2 0a1.6 1.6 0 1 0 3.2 0M619.1 252.7a1.6 1.6 0 1 0 -3.2 0a1.6 1.6 0 1 0 3.2 0M619.1 252.1a1.6 1.6 0 1 0 -3.2 0a1.6 1.6 0 1 0 3.2 0M619.4 239.1a1.6 1.6 0 1 0 -3.2 0a1.6 1.6 0 1 0 3.2 0M619.7 240.8a1.6 1.6 0 1 0 -3.2 0a1.6 1.6 0 1 0 3.2 0M619.9 264.0a1.6 1.6 0 1 0 -3.2 0a1.6 1.6 0 1 0 3.2 0M619.9 266.9a1.6 1.6 0 1 0 -3.2 0a1.6 1.6 0 1 0 3.2 0M620.5 248.9a1.6 1.6 0 1 0 -3.2 0a1.6 1.6 0 1 0 3.2 0M620.5 263.7a1.6 1.6 0 1 0 -3.2 0a1.6 1.6 0 1 0 3.2 0M620.6 259.0a1.6 1.6 0 1 0 -3.2 0a1.6 1.6 0 1 0 3.2 0M621.1 268.6a1.6 1.6 0 1 0 -3.2 0a1.6 1.6 0 1 0 3.2 0M621.3 246.8a1.6 1.6 0 1 0 -3.2 0a1.6 1.6 0 1 0 3.2 0M621.6 228.7a1.6 1.6 0 1 0 -3.2 0a1.6 1.6 0 1 0 3.2 0M621.5 233.6a1.6 1.6 0 1 0 -3.2 0a1.6 1.6 0 1 0 3.2 0M621.9 237.3a1.6 1.6 0 1 0 -3.2 0a1.6 1.6 0 1 0 3.2 0M622.2 238.5a1.6 1.6 0 1 0 -3.2 0a1.6 1.6 0 1 0 3.2 0M622.2 257.2a1.6 1.6 0 1 0 -3.2 0a1.6 1.6 0 1 0 3.2 0M622.7 241.3a1.6 1.6 0 1 0 -3.2 0a1.6 1.6 0 1 0 3.2 0M622.6 267.2a1.6 1.6 0 1 0 -3.2 0a1.6 1.6 0 1 0 3.2 0M622.9 262.0a1.6 1.6 0 1 0 -3.2 0a1.6 1.6 0 1 0 3.2 0M623.0 254.0a1.6 1.6 0 1 0 -3.2 0a1.6 1.6 0 1 0 3.2 0M623.3 263.3a1.6 1.6 0 1 0 -3.2 0a1.6 1.6 0 1 0 3.2 0M623.6 244.6a1.6 1.6 0 1 0 -3.2 0a1.6 1.6 0 1 0 3.2 0M623.7 260.8a1.6 1.6 0 1 0 -3.2 0a1.6 1.6 0 1 0 3.2 0M624.1 242.4a1.6 1.6 0 1 0 -3.2 0a1.6 1.6 0 1 0 3.2 0M624.5 235.6a1.6 1.6 0 1 0 -3.2 0a1.6 1.6 0 1 0 3.2 0M624.7 233.3a1.6 1.6 0 1 0 -3.2 0a1.6 1.6 0 1 0 3.2 0M624.7 251.8a1.6 1.6 0 1 0 -3.2 0a1.6 1.6 0 1 0 3.2 0M625.1 237.8a1.6 1.6 0 1 0 -3.2 0a1.6 1.6 0 1 0 3.2 0M625.3 224.1a1.6 1.6 0 1 0 -3.2 0a1.6 1.6 0 1 0 3.2 0M625.2 237.7a1.6 1.6 0 1 0 -3.2 0a1.6 1.6 0 1 0 3.2 0M625.6 234.9a1.6 1.6 0 1 0 -3.2 0a1.6 1.6 0 1 0 3.2 0M625.8 225.2a1.6 1.6 0 1 0 -3.2 0a1.6 1.6 0 1 0 3.2 0M626.2 244.1a1.6 1.6 0 1 0 -3.2 0a1.6 1.6 0 1 0 3.2 0M626.3 235.3a1.6 1.6 0 1 0 -3.2 0a1.6 1.6 0 1 0 3.2 0M626.5 227.9a1.6 1.6 0 1 0 -3.2 0a1.6 1.6 0 1 0 3.2 0M626.9 220.3a1.6 1.6 0 1 0 -3.2 0a1.6 1.6 0 1 0 3.2 0M626.8 213.6a1.6 1.6 0 1 0 -3.2 0a1.6 1.6 0 1 0 3.2 0M627.0 237.7a1.6 1.6 0 1 0 -3.2 0a1.6 1.6 0 1 0 3.2 0M627.6 246.8a1.6 1.6 0 1 0 -3.2 0a1.6 1.6 0 1 0 3.2 0M627.8 225.1a1.6 1.6 0 1 0 -3.2 0a1.6 1.6 0 1 0 3.2 0M627.6 224.6a1.6 1.6 0 1 0 -3.2 0a1.6 1.6 0 1 0 3.2 0M628.1 223.9a1.6 1.6 0 1 0 -3.2 0a1.6 1.6 0 1 0 3.2 0M628.3 216.3a1.6 1.6 0 1 0 -3.2 0a1.6 1.6 0 1 0 3.2 0M628.3 232.9a1.6 1.6 0 1 0 -3.2 0a1.6 1.6 0 1 0 3.2 0M628.5 241.4a1.6 1.6 0 1 0 -3.2 0a1.6 1.6 0 1 0 3.2 0M628.9 248.2a1.6 1.6 0 1 0 -3.2 0a1.6 1.6 0 1 0 3.2 0M629.0 221.5a1.6 1.6 0 1 0 -3.2 0a1.6 1.6 0 1 0 3.2 0M629.2 238.7a1.6 1.6 0 1 0 -3.2 0a1.6 1.6 0 1 0 3.2 0M629.6 231.6a1.6 1.6 0 1 0 -3.2 0a1.6 1.6 0 1 0 3.2 0M629.7 220.9a1.6 1.6 0 1 0 -3.2 0a1.6 1.6 0 1 0 3.2 0M629.9 222.0a1.6 1.6 0 1 0 -3.2 0a1.6 1.6 0 1 0 3.2 0M630.1 220.0a1.6 1.6 0 1 0 -3.2 0a1.6 1.6 0 1 0 3.2 0M630.4 236.3a1.6 1.6 0 1 0 -3.2 0a1.6 1.6 0 1 0 3.2 0M630.7 234.1a1.6 1.6 0 1 0 -3.2 0a1.6 1.6 0 1 0 3.2 0M630.8 234.8a1.6 1.6 0 1 0 -3.2 0a1.6 1.6 0 1 0 3.2 0M631.0 223.3a1.6 1.6 0 1 0 -3.2 0a1.6 1.6 0 1 0 3.2 0M631.3 216.6a1.6 1.6 0 1 0 -3.2 0a1.6 1.6 0 1 0 3.2 0M631.4 219.3a1.6 1.6 0 1 0 -3.2 0a1.6 1.6 0 1 0 3.2 0M631.8 237.4a1.6 1.6 0 1 0 -3.2 0a1.6 1.6 0 1 0 3.2 0M632.1 226.2a1.6 1.6 0 1 0 -3.2 0a1.6 1.6 0 1 0 3.2 0M632.2 225.3a1.6 1.6 0 1 0 -3.2 0a1.6 1.6 0 1 0 3.2 0M632.7 229.1a1.6 1.6 0 1 0 -3.2 0a1.6 1.6 0 1 0 3.2 0M632.5 229.3a1.6 1.6 0 1 0 -3.2 0a1.6 1.6 0 1 0 3.2 0M632.7 213.5a1.6 1.6 0 1 0 -3.2 0a1.6 1.6 0 1 0 3.2 0M633.1 227.4a1.6 1.6 0 1 0 -3.2 0a1.6 1.6 0 1 0 3.2 0M633.3 224.7a1.6 1.6 0 1 0 -3.2 0a1.6 1.6 0 1 0 3.2 0M633.7 233.6a1.6 1.6 0 1 0 -3.2 0a1.6 1.6 0 1 0 3.2 0M633.7 225.8a1.6 1.6 0 1 0 -3.2 0a1.6 1.6 0 1 0 3.2 0M634.0 208.0a1.6 1.6 0 1 0 -3.2 0a1.6 1.6 0 1 0 3.2 0M634.2 230.2a1.6 1.6 0 1 0 -3.2 0a1.6 1.6 0 1 0 3.2 0M634.6 223.1a1.6 1.6 0 1 0 -3.2 0a1.6 1.6 0 1 0 3.2 0M634.9 219.5a1.6 1.6 0 1 0 -3.2 0a1.6 1.6 0 1 0 3.2 0M635.0 226.9a1.6 1.6 0 1 0 -3.2 0a1.6 1.6 0 1 0 3.2 0M635.1 216.6a1.6 1.6 0 1 0 -3.2 0a1.6 1.6 0 1 0 3.2 0M635.2 229.0a1.6 1.6 0 1 0 -3.2 0a1.6 1.6 0 1 0 3.2 0M635.4 226.1a1.6 1.6 0 1 0 -3.2 0a1.6 1.6 0 1 0 3.2 0M635.7 232.3a1.6 1.6 0 1 0 -3.2 0a1.6 1.6 0 1 0 3.2 0M636.0 242.9a1.6 1.6 0 1 0 -3.2 0a1.6 1.6 0 1 0 3.2 0M636.3 224.1a1.6 1.6 0 1 0 -3.2 0a1.6 1.6 0 1 0 3.2 0M636.5 225.3a1.6 1.6 0 1 0 -3.2 0a1.6 1.6 0 1 0 3.2 0M636.8 232.0a1.6 1.6 0 1 0 -3.2 0a1.6 1.6 0 1 0 3.2 0M637.0 222.5a1.6 1.6 0 1 0 -3.2 0a1.6 1.6 0 1 0 3.2 0M637.1 229.8a1.6 1.6 0 1 0 -3.2 0a1.6 1.6 0 1 0 3.2 0M637.2 240.3a1.6 1.6 0 1 0 -3.2 0a1.6 1.6 0 1 0 3.2 0M637.6 224.7a1.6 1.6 0 1 0 -3.2 0a1.6 1.6 0 1 0 3.2 0M637.8 213.2a1.6 1.6 0 1 0 -3.2 0a1.6 1.6 0 1 0 3.2 0M638.1 218.6a1.6 1.6 0 1 0 -3.2 0a1.6 1.6 0 1 0 3.2 0M638.4 227.2a1.6 1.6 0 1 0 -3.2 0a1.6 1.6 0 1 0 3.2 0M638.6 215.6a1.6 1.6 0 1 0 -3.2 0a1.6 1.6 0 1 0 3.2 0M638.5 223.7a1.6 1.6 0 1 0 -3.2 0a1.6 1.6 0 1 0 3.2 0M638.9 226.1a1.6 1.6 0 1 0 -3.2 0a1.6 1.6 0 1 0 3.2 0M639.3 232.6a1.6 1.6 0 1 0 -3.2 0a1.6 1.6 0 1 0 3.2 0M639.2 227.2a1.6 1.6 0 1 0 -3.2 0a1.6 1.6 0 1 0 3.2 0M639.6 218.4a1.6 1.6 0 1 0 -3.2 0a1.6 1.6 0 1 0 3.2 0M639.7 222.3a1.6 1.6 0 1 0 -3.2 0a1.6 1.6 0 1 0 3.2 0M640.0 231.3a1.6 1.6 0 1 0 -3.2 0a1.6 1.6 0 1 0 3.2 0M640.4 235.6a1.6 1.6 0 1 0 -3.2 0a1.6 1.6 0 1 0 3.2 0M640.3 219.6a1.6 1.6 0 1 0 -3.2 0a1.6 1.6 0 1 0 3.2 0M640.7 212.0a1.6 1.6 0 1 0 -3.2 0a1.6 1.6 0 1 0 3.2 0M641.0 221.8a1.6 1.6 0 1 0 -3.2 0a1.6 1.6 0 1 0 3.2 0M641.2 236.5a1.6 1.6 0 1 0 -3.2 0a1.6 1.6 0 1 0 3.2 0M641.4 221.1a1.6 1.6 0 1 0 -3.2 0a1.6 1.6 0 1 0 3.2 0M641.8 224.5a1.6 1.6 0 1 0 -3.2 0a1.6 1.6 0 1 0 3.2 0M641.7 225.6a1.6 1.6 0 1 0 -3.2 0a1.6 1.6 0 1 0 3.2 0M642.0 217.3a1.6 1.6 0 1 0 -3.2 0a1.6 1.6 0 1 0 3.2 0M642.2 217.9a1.6 1.6 0 1 0 -3.2 0a1.6 1.6 0 1 0 3.2 0M642.6 226.3a1.6 1.6 0 1 0 -3.2 0a1.6 1.6 0 1 0 3.2 0M642.8 209.9a1.6 1.6 0 1 0 -3.2 0a1.6 1.6 0 1 0 3.2 0M642.7 233.5a1.6 1.6 0 1 0 -3.2 0a1.6 1.6 0 1 0 3.2 0M643.2 234.8a1.6 1.6 0 1 0 -3.2 0a1.6 1.6 0 1 0 3.2 0M643.4 213.9a1.6 1.6 0 1 0 -3.2 0a1.6 1.6 0 1 0 3.2 0M643.5 221.1a1.6 1.6 0 1 0 -3.2 0a1.6 1.6 0 1 0 3.2 0M643.8 218.2a1.6 1.6 0 1 0 -3.2 0a1.6 1.6 0 1 0 3.2 0M644.1 238.0a1.6 1.6 0 1 0 -3.2 0a1.6 1.6 0 1 0 3.2 0M644.1 224.6a1.6 1.6 0 1 0 -3.2 0a1.6 1.6 0 1 0 3.2 0M644.5 227.9a1.6 1.6 0 1 0 -3.2 0a1.6 1.6 0 1 0 3.2 0M644.7 231.6a1.6 1.6 0 1 0 -3.2 0a1.6 1.6 0 1 0 3.2 0M645.0 233.6a1.6 1.6 0 1 0 -3.2 0a1.6 1.6 0 1 0 3.2 0M645.3 234.5a1.6 1.6 0 1 0 -3.2 0a1.6 1.6 0 1 0 3.2 0M645.5 215.9a1.6 1.6 0 1 0 -3.2 0a1.6 1.6 0 1 0 3.2 0M645.6 227.3a1.6 1.6 0 1 0 -3.2 0a1.6 1.6 0 1 0 3.2 0M645.7 232.3a1.6 1.6 0 1 0 -3.2 0a1.6 1.6 0 1 0 3.2 0M645.9 226.8a1.6 1.6 0 1 0 -3.2 0a1.6 1.6 0 1 0 3.2 0M646.1 220.9a1.6 1.6 0 1 0 -3.2 0a1.6 1.6 0 1 0 3.2 0M646.3 232.7a1.6 1.6 0 1 0 -3.2 0a1.6 1.6 0 1 0 3.2 0M646.8 217.5a1.6 1.6 0 1 0 -3.2 0a1.6 1.6 0 1 0 3.2 0M647.0 231.3a1.6 1.6 0 1 0 -3.2 0a1.6 1.6 0 1 0 3.2 0M647.1 220.5a1.6 1.6 0 1 0 -3.2 0a1.6 1.6 0 1 0 3.2 0M647.3 228.4a1.6 1.6 0 1 0 -3.2 0a1.6 1.6 0 1 0 3.2 0M647.5 226.0a1.6 1.6 0 1 0 -3.2 0a1.6 1.6 0 1 0 3.2 0M647.8 223.2a1.6 1.6 0 1 0 -3.2 0a1.6 1.6 0 1 0 3.2 0M647.9 232.8a1.6 1.6 0 1 0 -3.2 0a1.6 1.6 0 1 0 3.2 0M648.3 229.1a1.6 1.6 0 1 0 -3.2 0a1.6 1.6 0 1 0 3.2 0M648.5 222.6a1.6 1.6 0 1 0 -3.2 0a1.6 1.6 0 1 0 3.2 0M648.7 240.3a1.6 1.6 0 1 0 -3.2 0a1.6 1.6 0 1 0 3.2 0M649.0 245.5a1.6 1.6 0 1 0 -3.2 0a1.6 1.6 0 1 0 3.2 0M649.2 215.7a1.6 1.6 0 1 0 -3.2 0a1.6 1.6 0 1 0 3.2 0M649.3 222.5a1.6 1.6 0 1 0 -3.2 0a1.6 1.6 0 1 0 3.2 0M649.5 225.4a1.6 1.6 0 1 0 -3.2 0a1.6 1.6 0 1 0 3.2 0M649.7 214.2a1.6 1.6 0 1 0 -3.2 0a1.6 1.6 0 1 0 3.2 0M650.2 217.0a1.6 1.6 0 1 0 -3.2 0a1.6 1.6 0 1 0 3.2 0M650.2 230.7a1.6 1.6 0 1 0 -3.2 0a1.6 1.6 0 1 0 3.2 0M650.4 233.5a1.6 1.6 0 1 0 -3.2 0a1.6 1.6 0 1 0 3.2 0M650.5 229.0a1.6 1.6 0 1 0 -3.2 0a1.6 1.6 0 1 0 3.2 0M651.0 237.4a1.6 1.6 0 1 0 -3.2 0a1.6 1.6 0 1 0 3.2 0M651.3 217.7a1.6 1.6 0 1 0 -3.2 0a1.6 1.6 0 1 0 3.2 0M651.3 214.6a1.6 1.6 0 1 0 -3.2 0a1.6 1.6 0 1 0 3.2 0M651.7 224.4a1.6 1.6 0 1 0 -3.2 0a1.6 1.6 0 1 0 3.2 0M651.6 217.5a1.6 1.6 0 1 0 -3.2 0a1.6 1.6 0 1 0 3.2 0M652.2 224.0a1.6 1.6 0 1 0 -3.2 0a1.6 1.6 0 1 0 3.2 0M652.3 225.5a1.6 1.6 0 1 0 -3.2 0a1.6 1.6 0 1 0 3.2 0M652.6 230.0a1.6 1.6 0 1 0 -3.2 0a1.6 1.6 0 1 0 3.2 0M652.6 225.6a1.6 1.6 0 1 0 -3.2 0a1.6 1.6 0 1 0 3.2 0M652.7 214.1a1.6 1.6 0 1 0 -3.2 0a1.6 1.6 0 1 0 3.2 0M653.0 221.1a1.6 1.6 0 1 0 -3.2 0a1.6 1.6 0 1 0 3.2 0M653.2 230.2a1.6 1.6 0 1 0 -3.2 0a1.6 1.6 0 1 0 3.2 0M653.6 232.3a1.6 1.6 0 1 0 -3.2 0a1.6 1.6 0 1 0 3.2 0M653.8 235.7a1.6 1.6 0 1 0 -3.2 0a1.6 1.6 0 1 0 3.2 0M654.0 226.0a1.6 1.6 0 1 0 -3.2 0a1.6 1.6 0 1 0 3.2 0M654.1 233.9a1.6 1.6 0 1 0 -3.2 0a1.6 1.6 0 1 0 3.2 0M654.5 225.4a1.6 1.6 0 1 0 -3.2 0a1.6 1.6 0 1 0 3.2 0M654.9 217.2a1.6 1.6 0 1 0 -3.2 0a1.6 1.6 0 1 0 3.2 0M655.0 228.0a1.6 1.6 0 1 0 -3.2 0a1.6 1.6 0 1 0 3.2 0M655.2 224.2a1.6 1.6 0 1 0 -3.2 0a1.6 1.6 0 1 0 3.2 0M655.5 212.4a1.6 1.6 0 1 0 -3.2 0a1.6 1.6 0 1 0 3.2 0M655.6 229.5a1.6 1.6 0 1 0 -3.2 0a1.6 1.6 0 1 0 3.2 0M655.6 225.4a1.6 1.6 0 1 0 -3.2 0a1.6 1.6 0 1 0 3.2 0M655.9 226.2a1.6 1.6 0 1 0 -3.2 0a1.6 1.6 0 1 0 3.2 0M656.4 221.1a1.6 1.6 0 1 0 -3.2 0a1.6 1.6 0 1 0 3.2 0M656.5 220.1a1.6 1.6 0 1 0 -3.2 0a1.6 1.6 0 1 0 3.2 0M656.6 219.8a1.6 1.6 0 1 0 -3.2 0a1.6 1.6 0 1 0 3.2 0M656.7 230.6a1.6 1.6 0 1 0 -3.2 0a1.6 1.6 0 1 0 3.2 0M657.2 221.7a1.6 1.6 0 1 0 -3.2 0a1.6 1.6 0 1 0 3.2 0M657.2 220.9a1.6 1.6 0 1 0 -3.2 0a1.6 1.6 0 1 0 3.2 0M657.7 220.4a1.6 1.6 0 1 0 -3.2 0a1.6 1.6 0 1 0 3.2 0M657.7 224.4a1.6 1.6 0 1 0 -3.2 0a1.6 1.6 0 1 0 3.2 0M658.1 234.2a1.6 1.6 0 1 0 -3.2 0a1.6 1.6 0 1 0 3.2 0M658.4 225.7a1.6 1.6 0 1 0 -3.2 0a1.6 1.6 0 1 0 3.2 0M658.3 221.6a1.6 1.6 0 1 0 -3.2 0a1.6 1.6 0 1 0 3.2 0M658.5 237.0a1.6 1.6 0 1 0 -3.2 0a1.6 1.6 0 1 0 3.2 0M658.9 228.6a1.6 1.6 0 1 0 -3.2 0a1.6 1.6 0 1 0 3.2 0M659.2 222.2a1.6 1.6 0 1 0 -3.2 0a1.6 1.6 0 1 0 3.2 0M659.5 215.9a1.6 1.6 0 1 0 -3.2 0a1.6 1.6 0 1 0 3.2 0M659.6 225.9a1.6 1.6 0 1 0 -3.2 0a1.6 1.6 0 1 0 3.2 0M659.8 216.4a1.6 1.6 0 1 0 -3.2 0a1.6 1.6 0 1 0 3.2 0M659.9 219.7a1.6 1.6 0 1 0 -3.2 0a1.6 1.6 0 1 0 3.2 0M660.1 222.0a1.6 1.6 0 1 0 -3.2 0a1.6 1.6 0 1 0 3.2 0M660.3 231.7a1.6 1.6 0 1 0 -3.2 0a1.6 1.6 0 1 0 3.2 0M660.7 212.9a1.6 1.6 0 1 0 -3.2 0a1.6 1.6 0 1 0 3.2 0M660.8 222.4a1.6 1.6 0 1 0 -3.2 0a1.6 1.6 0 1 0 3.2 0M661.1 221.8a1.6 1.6 0 1 0 -3.2 0a1.6 1.6 0 1 0 3.2 0M661.5 231.2a1.6 1.6 0 1 0 -3.2 0a1.6 1.6 0 1 0 3.2 0M661.5 234.2a1.6 1.6 0 1 0 -3.2 0a1.6 1.6 0 1 0 3.2 0M661.7 232.3a1.6 1.6 0 1 0 -3.2 0a1.6 1.6 0 1 0 3.2 0M662.1 213.5a1.6 1.6 0 1 0 -3.2 0a1.6 1.6 0 1 0 3.2 0M662.3 227.6a1.6 1.6 0 1 0 -3.2 0a1.6 1.6 0 1 0 3.2 0M662.2 218.6a1.6 1.6 0 1 0 -3.2 0a1.6 1.6 0 1 0 3.2 0M662.5 248.2a1.6 1.6 0 1 0 -3.2 0a1.6 1.6 0 1 0 3.2 0M662.9 229.0a1.6 1.6 0 1 0 -3.2 0a1.6 1.6 0 1 0 3.2 0M663.2 224.9a1.6 1.6 0 1 0 -3.2 0a1.6 1.6 0 1 0 3.2 0M663.3 219.1a1.6 1.6 0 1 0 -3.2 0a1.6 1.6 0 1 0 3.2 0M663.4 232.6a1.6 1.6 0 1 0 -3.2 0a1.6 1.6 0 1 0 3.2 0M663.7 216.2a1.6 1.6 0 1 0 -3.2 0a1.6 1.6 0 1 0 3.2 0M663.9 234.9a1.6 1.6 0 1 0 -3.2 0a1.6 1.6 0 1 0 3.2 0M664.2 225.6a1.6 1.6 0 1 0 -3.2 0a1.6 1.6 0 1 0 3.2 0M664.5 228.5a1.6 1.6 0 1 0 -3.2 0a1.6 1.6 0 1 0 3.2 0M664.8 222.4a1.6 1.6 0 1 0 -3.2 0a1.6 1.6 0 1 0 3.2 0M665.0 219.4a1.6 1.6 0 1 0 -3.2 0a1.6 1.6 0 1 0 3.2 0M665.2 221.9a1.6 1.6 0 1 0 -3.2 0a1.6 1.6 0 1 0 3.2 0M665.2 223.3a1.6 1.6 0 1 0 -3.2 0a1.6 1.6 0 1 0 3.2 0M665.6 216.0a1.6 1.6 0 1 0 -3.2 0a1.6 1.6 0 1 0 3.2 0M665.6 227.4a1.6 1.6 0 1 0 -3.2 0a1.6 1.6 0 1 0 3.2 0M666.1 241.0a1.6 1.6 0 1 0 -3.2 0a1.6 1.6 0 1 0 3.2 0M666.3 227.0a1.6 1.6 0 1 0 -3.2 0a1.6 1.6 0 1 0 3.2 0M666.3 216.9a1.6 1.6 0 1 0 -3.2 0a1.6 1.6 0 1 0 3.2 0M666.8 229.8a1.6 1.6 0 1 0 -3.2 0a1.6 1.6 0 1 0 3.2 0M666.9 219.5a1.6 1.6 0 1 0 -3.2 0a1.6 1.6 0 1 0 3.2 0M666.9 231.0a1.6 1.6 0 1 0 -3.2 0a1.6 1.6 0 1 0 3.2 0M667.4 222.2a1.6 1.6 0 1 0 -3.2 0a1.6 1.6 0 1 0 3.2 0M667.5 222.9a1.6 1.6 0 1 0 -3.2 0a1.6 1.6 0 1 0 3.2 0M667.6 224.1a1.6 1.6 0 1 0 -3.2 0a1.6 1.6 0 1 0 3.2 0M668.0 228.5a1.6 1.6 0 1 0 -3.2 0a1.6 1.6 0 1 0 3.2 0M668.1 233.0a1.6 1.6 0 1 0 -3.2 0a1.6 1.6 0 1 0 3.2 0M668.3 232.8a1.6 1.6 0 1 0 -3.2 0a1.6 1.6 0 1 0 3.2 0M668.8 226.2a1.6 1.6 0 1 0 -3.2 0a1.6 1.6 0 1 0 3.2 0M668.8 242.6a1.6 1.6 0 1 0 -3.2 0a1.6 1.6 0 1 0 3.2 0M669.1 239.0a1.6 1.6 0 1 0 -3.2 0a1.6 1.6 0 1 0 3.2 0M669.4 218.8a1.6 1.6 0 1 0 -3.2 0a1.6 1.6 0 1 0 3.2 0M669.7 238.5a1.6 1.6 0 1 0 -3.2 0a1.6 1.6 0 1 0 3.2 0M669.7 229.9a1.6 1.6 0 1 0 -3.2 0a1.6 1.6 0 1 0 3.2 0M669.8 238.9a1.6 1.6 0 1 0 -3.2 0a1.6 1.6 0 1 0 3.2 0M670.3 221.0a1.6 1.6 0 1 0 -3.2 0a1.6 1.6 0 1 0 3.2 0M670.5 242.0a1.6 1.6 0 1 0 -3.2 0a1.6 1.6 0 1 0 3.2 0M670.7 239.0a1.6 1.6 0 1 0 -3.2 0a1.6 1.6 0 1 0 3.2 0M670.9 217.5a1.6 1.6 0 1 0 -3.2 0a1.6 1.6 0 1 0 3.2 0M671.1 228.8a1.6 1.6 0 1 0 -3.2 0a1.6 1.6 0 1 0 3.2 0M671.5 222.7a1.6 1.6 0 1 0 -3.2 0a1.6 1.6 0 1 0 3.2 0M671.5 225.0a1.6 1.6 0 1 0 -3.2 0a1.6 1.6 0 1 0 3.2 0M671.6 245.1a1.6 1.6 0 1 0 -3.2 0a1.6 1.6 0 1 0 3.2 0M671.8 226.0a1.6 1.6 0 1 0 -3.2 0a1.6 1.6 0 1 0 3.2 0M672.3 219.0a1.6 1.6 0 1 0 -3.2 0a1.6 1.6 0 1 0 3.2 0M672.5 225.8a1.6 1.6 0 1 0 -3.2 0a1.6 1.6 0 1 0 3.2 0M672.8 225.4a1.6 1.6 0 1 0 -3.2 0a1.6 1.6 0 1 0 3.2 0M673.0 216.5a1.6 1.6 0 1 0 -3.2 0a1.6 1.6 0 1 0 3.2 0M673.0 216.3a1.6 1.6 0 1 0 -3.2 0a1.6 1.6 0 1 0 3.2 0M673.5 223.8a1.6 1.6 0 1 0 -3.2 0a1.6 1.6 0 1 0 3.2 0M673.4 220.1a1.6 1.6 0 1 0 -3.2 0a1.6 1.6 0 1 0 3.2 0M673.6 222.7a1.6 1.6 0 1 0 -3.2 0a1.6 1.6 0 1 0 3.2 0M674.0 214.6a1.6 1.6 0 1 0 -3.2 0a1.6 1.6 0 1 0 3.2 0M674.1 239.7a1.6 1.6 0 1 0 -3.2 0a1.6 1.6 0 1 0 3.2 0M674.3 225.9a1.6 1.6 0 1 0 -3.2 0a1.6 1.6 0 1 0 3.2 0M674.8 226.0a1.6 1.6 0 1 0 -3.2 0a1.6 1.6 0 1 0 3.2 0M675.0 233.6a1.6 1.6 0 1 0 -3.2 0a1.6 1.6 0 1 0 3.2 0M675.1 221.5a1.6 1.6 0 1 0 -3.2 0a1.6 1.6 0 1 0 3.2 0M675.2 227.2a1.6 1.6 0 1 0 -3.2 0a1.6 1.6 0 1 0 3.2 0M675.6 229.5a1.6 1.6 0 1 0 -3.2 0a1.6 1.6 0 1 0 3.2 0M675.9 225.3a1.6 1.6 0 1 0 -3.2 0a1.6 1.6 0 1 0 3.2 0M675.8 232.8a1.6 1.6 0 1 0 -3.2 0a1.6 1.6 0 1 0 3.2 0M676.0 211.2a1.6 1.6 0 1 0 -3.2 0a1.6 1.6 0 1 0 3.2 0M676.4 221.7a1.6 1.6 0 1 0 -3.2 0a1.6 1.6 0 1 0 3.2 0M676.6 228.1a1.6 1.6 0 1 0 -3.2 0a1.6 1.6 0 1 0 3.2 0M676.8 239.0a1.6 1.6 0 1 0 -3.2 0a1.6 1.6 0 1 0 3.2 0M677.1 220.3a1.6 1.6 0 1 0 -3.2 0a1.6 1.6 0 1 0 3.2 0M677.3 213.9a1.6 1.6 0 1 0 -3.2 0a1.6 1.6 0 1 0 3.2 0M677.7 216.4a1.6 1.6 0 1 0 -3.2 0a1.6 1.6 0 1 0 3.2 0M677.8 223.5a1.6 1.6 0 1 0 -3.2 0a1.6 1.6 0 1 0 3.2 0M677.8 224.3a1.6 1.6 0 1 0 -3.2 0a1.6 1.6 0 1 0 3.2 0M678.2 213.5a1.6 1.6 0 1 0 -3.2 0a1.6 1.6 0 1 0 3.2 0M678.6 219.1a1.6 1.6 0 1 0 -3.2 0a1.6 1.6 0 1 0 3.2 0M678.7 223.8a1.6 1.6 0 1 0 -3.2 0a1.6 1.6 0 1 0 3.2 0M678.7 221.5a1.6 1.6 0 1 0 -3.2 0a1.6 1.6 0 1 0 3.2 0M678.9 224.7a1.6 1.6 0 1 0 -3.2 0a1.6 1.6 0 1 0 3.2 0M679.4 216.8a1.6 1.6 0 1 0 -3.2 0a1.6 1.6 0 1 0 3.2 0" fill="none" stroke="#ff0808" stroke-width="0.65"/>
<path d="M487.2 264.82 L488.15 264.67 L489.1 264.52 L490.06 264.38 L491.01 264.23 L491.96 264.08 L492.91 263.94 L493.87 263.8 L494.82 263.65 L495.77 263.51 L496.72 263.37 L497.68 263.23 L498.63 263.09 L499.58 262.96 L500.53 262.82 L501.49 262.69 L502.44 262.56 L503.39 262.43 L504.34 262.31 L505.3 262.19 L506.25 262.07 L507.2 261.95 L508.15 261.83 L509.1 261.72 L510.06 261.61 L511.01 261.51 L511.96 261.4 L512.91 261.31 L513.87 261.21 L514.82 261.12 L515.77 261.03 L516.72 260.95 L517.68 260.86 L518.63 260.79 L519.58 260.71 L520.53 260.65 L521.49 260.58 L522.44 260.52 L523.39 260.46 L524.34 260.41 L525.3 260.37 L526.25 260.32 L527.2 260.28 L528.15 260.25 L529.1 260.22 L530.06 260.19 L531.01 260.17 L531.96 260.16 L532.91 260.15 L533.87 260.14 L534.82 260.14 L535.77 260.14 L536.72 260.15 L537.68 260.16 L538.63 260.17 L539.58 260.19 L540.53 260.22 L541.49 260.25 L542.44 260.28 L543.39 260.32 L544.34 260.37 L545.3 260.41 L546.25 260.46 L547.2 260.52 L548.15 260.58 L549.1 260.65 L550.06 260.71 L551.01 260.79 L551.96 260.86 L552.91 260.95 L553.87 261.03 L554.82 261.12 L555.77 261.21 L556.72 261.31 L557.68 261.4 L558.63 261.51 L559.58 261.61 L560.53 261.72 L561.49 261.83 L562.44 261.95 L563.39 262.07 L564.34 262.19 L565.3 262.31 L566.25 262.43 L567.2 262.56 L568.15 262.69 L569.1 262.82 L570.06 262.96 L571.01 263.09 L571.96 263.23 L572.91 263.37 L573.87 263.51 L574.82 263.65 L575.77 263.8 L576.72 263.94 L577.68 264.08 L578.63 264.23 L579.58 264.38 L580.53 264.52 L581.49 264.67 L582.44 264.82 L583.39 264.96 L584.34 265.11 L585.3 265.26 L586.25 265.4 L587.2 265.55 L588.15 265.69 L589.1 265.84 L590.06 265.98 L591.01 266.12 L591.96 266.26 L592.91 266.4 L593.87 266.54 L594.82 266.67 L595.77 266.81 L596.72 266.94 L597.68 267.07 L598.63 267.2 L599.58 267.32 L600.53 267.45 L601.49 267.57 L602.44 267.68 L603.39 267.8 L604.34 267.91 L605.3 268.02 L606.25 268.13 L607.2 268.23 L608.15 268.33 L609.1 268.42 L610.06 268.51 L611.01 268.6 L611.96 268.69 L612.91 268.77 L613.87 268.84 L614.82 268.92 L615.77 268.99 L616.72 269.05 L617.68 269.11 L618.63 269.17 L619.58 269.22 L620.53 269.27 L621.49 269.31 L622.44 269.35 L623.39 269.38 L624.34 269.41 L625.3 269.44 L626.25 269.46 L627.2 269.48 L628.15 269.49 L629.1 269.49 L630.06 269.5 L631.01 269.49 L631.96 269.49 L632.91 269.48 L633.87 269.46 L634.82 269.44 L635.77 269.41 L636.72 269.38 L637.68 269.35 L638.63 269.31 L639.58 269.27 L640.53 269.22 L641.49 269.17 L642.44 269.11 L643.39 269.05 L644.34 268.99 L645.3 268.92 L646.25 268.84 L647.2 268.77 L648.15 268.69 L649.1 268.6 L650.06 268.51 L651.01 268.42 L651.96 268.33 L652.91 268.23 L653.87 268.13 L654.82 268.02 L655.77 267.91 L656.72 267.8 L657.68 267.68 L658.63 267.57 L659.58 267.45 L660.53 267.32 L661.49 267.2 L662.44 267.07 L663.39 266.94 L664.34 266.81 L665.3 266.67 L666.25 266.54 L667.2 266.4 L668.15 266.26 L669.1 266.12 L670.06 265.98 L671.01 265.84 L671.96 265.69 L672.91 265.55 L673.87 265.4 L674.82 265.26 L675.77 265.11 L676.72 264.96 L677.68 264.82" stroke="#000" stroke-width="4.6" fill="none" stroke-linejoin="round" stroke-linecap="round"/>
<path d="M487.5 320.86 L488.45 320.08 L489.39 319.31 L490.34 318.54 L491.29 317.78 L492.24 317.01 L493.19 316.25 L494.13 315.5 L495.08 314.75 L496.03 314 L496.98 313.26 L497.92 312.53 L498.87 311.8 L499.82 311.09 L500.76 310.38 L501.71 309.68 L502.66 308.99 L503.61 308.32 L504.56 307.65 L505.5 307 L506.45 306.36 L507.4 305.74 L508.35 305.12 L509.29 304.53 L510.24 303.94 L511.19 303.38 L512.13 302.83 L513.08 302.29 L514.03 301.77 L514.98 301.27 L515.92 300.79 L516.87 300.33 L517.82 299.89 L518.77 299.46 L519.72 299.06 L520.66 298.67 L521.61 298.31 L522.56 297.97 L523.5 297.64 L524.45 297.34 L525.4 297.06 L526.35 296.81 L527.29 296.57 L528.24 296.36 L529.19 296.17 L530.14 296 L531.09 295.86 L532.03 295.74 L532.98 295.64 L533.93 295.57 L534.88 295.52 L535.82 295.49 L536.77 295.49 L537.72 295.51 L538.66 295.55 L539.61 295.62 L540.56 295.7 L541.51 295.82 L542.46 295.95 L543.4 296.11 L544.35 296.29 L545.3 296.5 L546.25 296.73 L547.19 296.98 L548.14 297.25 L549.09 297.54 L550.03 297.86 L550.98 298.19 L551.93 298.55 L552.88 298.93 L553.83 299.32 L554.77 299.74 L555.72 300.18 L556.67 300.64 L557.62 301.11 L558.56 301.61 L559.51 302.12 L560.46 302.65 L561.4 303.19 L562.35 303.75 L563.3 304.33 L564.25 304.92 L565.2 305.53 L566.14 306.15 L567.09 306.79 L568.04 307.44 L568.99 308.1 L569.93 308.77 L570.88 309.45 L571.83 310.15 L572.77 310.85 L573.72 311.56 L574.67 312.29 L575.62 313.02 L576.57 313.75 L577.51 314.5 L578.46 315.25 L579.41 316 L580.36 316.76 L581.3 317.52 L582.25 318.29 L583.2 319.06 L584.14 319.83 L585.09 320.6 L586.04 321.4 L586.99 322.23 L587.93 323.05 L588.88 323.87 L589.83 324.69 L590.78 325.5 L591.73 326.31 L592.67 327.11 L593.62 327.91 L594.57 328.69 L595.51 329.47 L596.46 330.25 L597.41 331.01 L598.36 331.76 L599.31 332.5 L600.25 333.22 L601.2 333.93 L602.15 334.63 L603.1 335.32 L604.04 335.99 L604.99 336.64 L605.94 337.28 L606.88 337.9 L607.83 338.5 L608.78 339.08 L609.73 339.65 L610.67 340.19 L611.62 340.71 L612.57 341.22 L613.52 341.7 L614.47 342.16 L615.41 342.59 L616.36 343.01 L617.31 343.4 L618.25 343.76 L619.2 344.11 L620.15 344.42 L621.1 344.72 L622.04 344.98 L622.99 345.23 L623.94 345.44 L624.89 345.63 L625.84 345.8 L626.78 345.93 L627.73 346.05 L628.68 346.13 L629.62 346.19 L630.57 346.22 L631.52 346.22 L632.47 346.2 L633.41 346.15 L634.36 346.08 L635.31 345.97 L636.26 345.84 L637.21 345.69 L638.15 345.51 L639.1 345.3 L640.05 345.07 L641 344.81 L641.94 344.52 L642.89 344.21 L643.84 343.88 L644.78 343.52 L645.73 343.14 L646.68 342.73 L647.63 342.31 L648.58 341.85 L649.52 341.38 L650.47 340.88 L651.42 340.37 L652.37 339.83 L653.31 339.27 L654.26 338.7 L655.21 338.1 L656.15 337.49 L657.1 336.86 L658.05 336.21 L659 335.54 L659.95 334.86 L660.89 334.17 L661.84 333.46 L662.79 332.74 L663.74 332 L664.68 331.26 L665.63 330.5 L666.58 329.73 L667.52 328.96 L668.47 328.17 L669.42 327.38 L670.37 326.58 L671.32 325.77 L672.26 324.96 L673.21 324.14 L674.16 323.32 L675.11 322.5 L676.05 321.68 L677 320.86" stroke="#000" stroke-width="4.2" fill="none" stroke-linejoin="round" stroke-linecap="round"/>
<path d="M489.2 323.5a1.7 1.7 0 1 0 -3.4 0a1.7 1.7 0 1 0 3.4 0M489.5 323.5a1.7 1.7 0 1 0 -3.4 0a1.7 1.7 0 1 0 3.4 0M490.2 316.4a1.7 1.7 0 1 0 -3.4 0a1.7 1.7 0 1 0 3.4 0M490.4 322.9a1.7 1.7 0 1 0 -3.4 0a1.7 1.7 0 1 0 3.4 0M491.1 321.2a1.7 1.7 0 1 0 -3.4 0a1.7 1.7 0 1 0 3.4 0M491.8 320.5a1.7 1.7 0 1 0 -3.4 0a1.7 1.7 0 1 0 3.4 0M491.9 323.5a1.7 1.7 0 1 0 -3.4 0a1.7 1.7 0 1 0 3.4 0M492.5 316.5a1.7 1.7 0 1 0 -3.4 0a1.7 1.7 0 1 0 3.4 0M492.7 318.9a1.7 1.7 0 1 0 -3.4 0a1.7 1.7 0 1 0 3.4 0M493.0 315.4a1.7 1.7 0 1 0 -3.4 0a1.7 1.7 0 1 0 3.4 0M493.8 317.3a1.7 1.7 0 1 0 -3.4 0a1.7 1.7 0 1 0 3.4 0M494.4 318.9a1.7 1.7 0 1 0 -3.4 0a1.7 1.7 0 1 0 3.4 0M494.9 319.3a1.7 1.7 0 1 0 -3.4 0a1.7 1.7 0 1 0 3.4 0M494.8 317.4a1.7 1.7 0 1 0 -3.4 0a1.7 1.7 0 1 0 3.4 0M495.3 314.2a1.7 1.7 0 1 0 -3.4 0a1.7 1.7 0 1 0 3.4 0M495.8 315.7a1.7 1.7 0 1 0 -3.4 0a1.7 1.7 0 1 0 3.4 0M496.7 314.8a1.7 1.7 0 1 0 -3.4 0a1.7 1.7 0 1 0 3.4 0M496.8 315.9a1.7 1.7 0 1 0 -3.4 0a1.7 1.7 0 1 0 3.4 0M497.2 314.5a1.7 1.7 0 1 0 -3.4 0a1.7 1.7 0 1 0 3.4 0M497.8 313.7a1.7 1.7 0 1 0 -3.4 0a1.7 1.7 0 1 0 3.4 0M498.1 314.8a1.7 1.7 0 1 0 -3.4 0a1.7 1.7 0 1 0 3.4 0M498.5 312.6a1.7 1.7 0 1 0 -3.4 0a1.7 1.7 0 1 0 3.4 0M498.9 310.6a1.7 1.7 0 1 0 -3.4 0a1.7 1.7 0 1 0 3.4 0M499.6 315.1a1.7 1.7 0 1 0 -3.4 0a1.7 1.7 0 1 0 3.4 0M499.8 311.7a1.7 1.7 0 1 0 -3.4 0a1.7 1.7 0 1 0 3.4 0M500.4 311.1a1.7 1.7 0 1 0 -3.4 0a1.7 1.7 0 1 0 3.4 0M500.7 312.0a1.7 1.7 0 1 0 -3.4 0a1.7 1.7 0 1 0 3.4 0M501.2 309.9a1.7 1.7 0 1 0 -3.4 0a1.7 1.7 0 1 0 3.4 0M502.0 313.1a1.7 1.7 0 1 0 -3.4 0a1.7 1.7 0 1 0 3.4 0M502.2 309.9a1.7 1.7 0 1 0 -3.4 0a1.7 1.7 0 1 0 3.4 0M502.8 309.8a1.7 1.7 0 1 0 -3.4 0a1.7 1.7 0 1 0 3.4 0M502.9 311.9a1.7 1.7 0 1 0 -3.4 0a1.7 1.7 0 1 0 3.4 0M503.7 312.4a1.7 1.7 0 1 0 -3.4 0a1.7 1.7 0 1 0 3.4 0M503.9 307.0a1.7 1.7 0 1 0 -3.4 0a1.7 1.7 0 1 0 3.4 0M504.8 306.7a1.7 1.7 0 1 0 -3.4 0a1.7 1.7 0 1 0 3.4 0M505.0 309.1a1.7 1.7 0 1 0 -3.4 0a1.7 1.7 0 1 0 3.4 0M505.4 306.9a1.7 1.7 0 1 0 -3.4 0a1.7 1.7 0 1 0 3.4 0M505.7 311.8a1.7 1.7 0 1 0 -3.4 0a1.7 1.7 0 1 0 3.4 0M506.4 310.6a1.7 1.7 0 1 0 -3.4 0a1.7 1.7 0 1 0 3.4 0M506.6 310.7a1.7 1.7 0 1 0 -3.4 0a1.7 1.7 0 1 0 3.4 0M507.4 311.5a1.7 1.7 0 1 0 -3.4 0a1.7 1.7 0 1 0 3.4 0M507.7 314.0a1.7 1.7 0 1 0 -3.4 0a1.7 1.7 0 1 0 3.4 0M508.2 312.3a1.7 1.7 0 1 0 -3.4 0a1.7 1.7 0 1 0 3.4 0M508.9 307.7a1.7 1.7 0 1 0 -3.4 0a1.7 1.7 0 1 0 3.4 0M509.1 309.9a1.7 1.7 0 1 0 -3.4 0a1.7 1.7 0 1 0 3.4 0M509.7 311.0a1.7 1.7 0 1 0 -3.4 0a1.7 1.7 0 1 0 3.4 0M509.9 309.9a1.7 1.7 0 1 0 -3.4 0a1.7 1.7 0 1 0 3.4 0M510.6 308.4a1.7 1.7 0 1 0 -3.4 0a1.7 1.7 0 1 0 3.4 0M511.0 308.7a1.7 1.7 0 1 0 -3.4 0a1.7 1.7 0 1 0 3.4 0M511.5 303.2a1.7 1.7 0 1 0 -3.4 0a1.7 1.7 0 1 0 3.4 0M512.1 302.9a1.7 1.7 0 1 0 -3.4 0a1.7 1.7 0 1 0 3.4 0M512.5 304.6a1.7 1.7 0 1 0 -3.4 0a1.7 1.7 0 1 0 3.4 0M513.0 298.2a1.7 1.7 0 1 0 -3.4 0a1.7 1.7 0 1 0 3.4 0M513.2 302.3a1.7 1.7 0 1 0 -3.4 0a1.7 1.7 0 1 0 3.4 0M513.6 296.4a1.7 1.7 0 1 0 -3.4 0a1.7 1.7 0 1 0 3.4 0M514.2 298.7a1.7 1.7 0 1 0 -3.4 0a1.7 1.7 0 1 0 3.4 0M514.4 294.4a1.7 1.7 0 1 0 -3.4 0a1.7 1.7 0 1 0 3.4 0M515.0 293.1a1.7 1.7 0 1 0 -3.4 0a1.7 1.7 0 1 0 3.4 0M515.5 292.8a1.7 1.7 0 1 0 -3.4 0a1.7 1.7 0 1 0 3.4 0M516.2 291.2a1.7 1.7 0 1 0 -3.4 0a1.7 1.7 0 1 0 3.4 0M516.1 289.3a1.7 1.7 0 1 0 -3.4 0a1.7 1.7 0 1 0 3.4 0M516.8 294.3a1.7 1.7 0 1 0 -3.4 0a1.7 1.7 0 1 0 3.4 0M517.6 293.5a1.7 1.7 0 1 0 -3.4 0a1.7 1.7 0 1 0 3.4 0M518.0 294.3a1.7 1.7 0 1 0 -3.4 0a1.7 1.7 0 1 0 3.4 0M518.1 290.9a1.7 1.7 0 1 0 -3.4 0a1.7 1.7 0 1 0 3.4 0M518.4 296.8a1.7 1.7 0 1 0 -3.4 0a1.7 1.7 0 1 0 3.4 0M518.8 291.8a1.7 1.7 0 1 0 -3.4 0a1.7 1.7 0 1 0 3.4 0M519.7 296.5a1.7 1.7 0 1 0 -3.4 0a1.7 1.7 0 1 0 3.4 0M519.8 295.6a1.7 1.7 0 1 0 -3.4 0a1.7 1.7 0 1 0 3.4 0M520.6 296.6a1.7 1.7 0 1 0 -3.4 0a1.7 1.7 0 1 0 3.4 0M521.0 294.4a1.7 1.7 0 1 0 -3.4 0a1.7 1.7 0 1 0 3.4 0M521.5 302.5a1.7 1.7 0 1 0 -3.4 0a1.7 1.7 0 1 0 3.4 0M522.0 298.2a1.7 1.7 0 1 0 -3.4 0a1.7 1.7 0 1 0 3.4 0M522.4 298.4a1.7 1.7 0 1 0 -3.4 0a1.7 1.7 0 1 0 3.4 0M522.7 298.9a1.7 1.7 0 1 0 -3.4 0a1.7 1.7 0 1 0 3.4 0M523.0 297.3a1.7 1.7 0 1 0 -3.4 0a1.7 1.7 0 1 0 3.4 0M523.5 300.5a1.7 1.7 0 1 0 -3.4 0a1.7 1.7 0 1 0 3.4 0M523.8 298.0a1.7 1.7 0 1 0 -3.4 0a1.7 1.7 0 1 0 3.4 0M524.2 297.6a1.7 1.7 0 1 0 -3.4 0a1.7 1.7 0 1 0 3.4 0M524.7 296.7a1.7 1.7 0 1 0 -3.4 0a1.7 1.7 0 1 0 3.4 0M525.3 295.0a1.7 1.7 0 1 0 -3.4 0a1.7 1.7 0 1 0 3.4 0M525.9 294.6a1.7 1.7 0 1 0 -3.4 0a1.7 1.7 0 1 0 3.4 0M526.3 298.3a1.7 1.7 0 1 0 -3.4 0a1.7 1.7 0 1 0 3.4 0M526.4 298.5a1.7 1.7 0 1 0 -3.4 0a1.7 1.7 0 1 0 3.4 0M526.9 298.2a1.7 1.7 0 1 0 -3.4 0a1.7 1.7 0 1 0 3.4 0M527.5 295.2a1.7 1.7 0 1 0 -3.4 0a1.7 1.7 0 1 0 3.4 0M528.0 296.7a1.7 1.7 0 1 0 -3.4 0a1.7 1.7 0 1 0 3.4 0M528.5 296.9a1.7 1.7 0 1 0 -3.4 0a1.7 1.7 0 1 0 3.4 0M528.9 297.3a1.7 1.7 0 1 0 -3.4 0a1.7 1.7 0 1 0 3.4 0M529.3 293.1a1.7 1.7 0 1 0 -3.4 0a1.7 1.7 0 1 0 3.4 0M529.6 293.2a1.7 1.7 0 1 0 -3.4 0a1.7 1.7 0 1 0 3.4 0M530.3 291.3a1.7 1.7 0 1 0 -3.4 0a1.7 1.7 0 1 0 3.4 0M530.6 293.2a1.7 1.7 0 1 0 -3.4 0a1.7 1.7 0 1 0 3.4 0M531.5 296.6a1.7 1.7 0 1 0 -3.4 0a1.7 1.7 0 1 0 3.4 0M531.6 295.8a1.7 1.7 0 1 0 -3.4 0a1.7 1.7 0 1 0 3.4 0M532.0 296.6a1.7 1.7 0 1 0 -3.4 0a1.7 1.7 0 1 0 3.4 0M532.8 299.6a1.7 1.7 0 1 0 -3.4 0a1.7 1.7 0 1 0 3.4 0M533.0 296.2a1.7 1.7 0 1 0 -3.4 0a1.7 1.7 0 1 0 3.4 0M533.8 293.1a1.7 1.7 0 1 0 -3.4 0a1.7 1.7 0 1 0 3.4 0M533.8 294.3a1.7 1.7 0 1 0 -3.4 0a1.7 1.7 0 1 0 3.4 0M534.2 294.0a1.7 1.7 0 1 0 -3.4 0a1.7 1.7 0 1 0 3.4 0M535.1 297.1a1.7 1.7 0 1 0 -3.4 0a1.7 1.7 0 1 0 3.4 0M535.2 296.2a1.7 1.7 0 1 0 -3.4 0a1.7 1.7 0 1 0 3.4 0M535.9 300.2a1.7 1.7 0 1 0 -3.4 0a1.7 1.7 0 1 0 3.4 0M536.1 298.1a1.7 1.7 0 1 0 -3.4 0a1.7 1.7 0 1 0 3.4 0M536.9 300.1a1.7 1.7 0 1 0 -3.4 0a1.7 1.7 0 1 0 3.4 0M537.1 296.3a1.7 1.7 0 1 0 -3.4 0a1.7 1.7 0 1 0 3.4 0M537.8 294.9a1.7 1.7 0 1 0 -3.4 0a1.7 1.7 0 1 0 3.4 0M537.8 295.4a1.7 1.7 0 1 0 -3.4 0a1.7 1.7 0 1 0 3.4 0M538.3 294.9a1.7 1.7 0 1 0 -3.4 0a1.7 1.7 0 1 0 3.4 0M538.9 296.8a1.7 1.7 0 1 0 -3.4 0a1.7 1.7 0 1 0 3.4 0M539.4 295.3a1.7 1.7 0 1 0 -3.4 0a1.7 1.7 0 1 0 3.4 0M540.0 294.6a1.7 1.7 0 1 0 -3.4 0a1.7 1.7 0 1 0 3.4 0M540.3 294.9a1.7 1.7 0 1 0 -3.4 0a1.7 1.7 0 1 0 3.4 0M541.0 293.2a1.7 1.7 0 1 0 -3.4 0a1.7 1.7 0 1 0 3.4 0M541.0 297.0a1.7 1.7 0 1 0 -3.4 0a1.7 1.7 0 1 0 3.4 0M541.9 291.1a1.7 1.7 0 1 0 -3.4 0a1.7 1.7 0 1 0 3.4 0M542.1 295.9a1.7 1.7 0 1 0 -3.4 0a1.7 1.7 0 1 0 3.4 0M542.5 299.0a1.7 1.7 0 1 0 -3.4 0a1.7 1.7 0 1 0 3.4 0M543.3 297.8a1.7 1.7 0 1 0 -3.4 0a1.7 1.7 0 1 0 3.4 0M543.5 297.7a1.7 1.7 0 1 0 -3.4 0a1.7 1.7 0 1 0 3.4 0M543.9 296.0a1.7 1.7 0 1 0 -3.4 0a1.7 1.7 0 1 0 3.4 0M544.4 296.5a1.7 1.7 0 1 0 -3.4 0a1.7 1.7 0 1 0 3.4 0M545.1 293.8a1.7 1.7 0 1 0 -3.4 0a1.7 1.7 0 1 0 3.4 0M545.1 296.2a1.7 1.7 0 1 0 -3.4 0a1.7 1.7 0 1 0 3.4 0M546.0 294.4a1.7 1.7 0 1 0 -3.4 0a1.7 1.7 0 1 0 3.4 0M546.1 294.0a1.7 1.7 0 1 0 -3.4 0a1.7 1.7 0 1 0 3.4 0M546.9 300.8a1.7 1.7 0 1 0 -3.4 0a1.7 1.7 0 1 0 3.4 0M547.3 295.8a1.7 1.7 0 1 0 -3.4 0a1.7 1.7 0 1 0 3.4 0M547.7 294.5a1.7 1.7 0 1 0 -3.4 0a1.7 1.7 0 1 0 3.4 0M547.8 300.2a1.7 1.7 0 1 0 -3.4 0a1.7 1.7 0 1 0 3.4 0M548.7 299.5a1.7 1.7 0 1 0 -3.4 0a1.7 1.7 0 1 0 3.4 0M548.8 296.6a1.7 1.7 0 1 0 -3.4 0a1.7 1.7 0 1 0 3.4 0M549.2 296.7a1.7 1.7 0 1 0 -3.4 0a1.7 1.7 0 1 0 3.4 0M549.8 298.0a1.7 1.7 0 1 0 -3.4 0a1.7 1.7 0 1 0 3.4 0M550.4 293.5a1.7 1.7 0 1 0 -3.4 0a1.7 1.7 0 1 0 3.4 0M550.8 296.6a1.7 1.7 0 1 0 -3.4 0a1.7 1.7 0 1 0 3.4 0M551.3 299.4a1.7 1.7 0 1 0 -3.4 0a1.7 1.7 0 1 0 3.4 0M551.5 298.0a1.7 1.7 0 1 0 -3.4 0a1.7 1.7 0 1 0 3.4 0M552.2 297.0a1.7 1.7 0 1 0 -3.4 0a1.7 1.7 0 1 0 3.4 0M552.8 294.9a1.7 1.7 0 1 0 -3.4 0a1.7 1.7 0 1 0 3.4 0M552.7 297.5a1.7 1.7 0 1 0 -3.4 0a1.7 1.7 0 1 0 3.4 0M553.4 300.3a1.7 1.7 0 1 0 -3.4 0a1.7 1.7 0 1 0 3.4 0M553.8 294.4a1.7 1.7 0 1 0 -3.4 0a1.7 1.7 0 1 0 3.4 0M554.3 299.8a1.7 1.7 0 1 0 -3.4 0a1.7 1.7 0 1 0 3.4 0M554.6 297.6a1.7 1.7 0 1 0 -3.4 0a1.7 1.7 0 1 0 3.4 0M555.0 296.4a1.7 1.7 0 1 0 -3.4 0a1.7 1.7 0 1 0 3.4 0M555.8 299.2a1.7 1.7 0 1 0 -3.4 0a1.7 1.7 0 1 0 3.4 0M556.2 300.0a1.7 1.7 0 1 0 -3.4 0a1.7 1.7 0 1 0 3.4 0M556.3 293.3a1.7 1.7 0 1 0 -3.4 0a1.7 1.7 0 1 0 3.4 0M557.0 300.7a1.7 1.7 0 1 0 -3.4 0a1.7 1.7 0 1 0 3.4 0M557.8 299.2a1.7 1.7 0 1 0 -3.4 0a1.7 1.7 0 1 0 3.4 0M558.1 299.6a1.7 1.7 0 1 0 -3.4 0a1.7 1.7 0 1 0 3.4 0M558.6 299.8a1.7 1.7 0 1 0 -3.4 0a1.7 1.7 0 1 0 3.4 0M558.8 301.4a1.7 1.7 0 1 0 -3.4 0a1.7 1.7 0 1 0 3.4 0M559.2 299.3a1.7 1.7 0 1 0 -3.4 0a1.7 1.7 0 1 0 3.4 0M559.8 302.5a1.7 1.7 0 1 0 -3.4 0a1.7 1.7 0 1 0 3.4 0M559.9 298.8a1.7 1.7 0 1 0 -3.4 0a1.7 1.7 0 1 0 3.4 0M560.7 303.5a1.7 1.7 0 1 0 -3.4 0a1.7 1.7 0 1 0 3.4 0M561.3 303.1a1.7 1.7 0 1 0 -3.4 0a1.7 1.7 0 1 0 3.4 0M561.8 303.7a1.7 1.7 0 1 0 -3.4 0a1.7 1.7 0 1 0 3.4 0M561.8 304.3a1.7 1.7 0 1 0 -3.4 0a1.7 1.7 0 1 0 3.4 0M562.5 303.2a1.7 1.7 0 1 0 -3.4 0a1.7 1.7 0 1 0 3.4 0M562.9 301.8a1.7 1.7 0 1 0 -3.4 0a1.7 1.7 0 1 0 3.4 0M563.2 305.6a1.7 1.7 0 1 0 -3.4 0a1.7 1.7 0 1 0 3.4 0M563.5 306.2a1.7 1.7 0 1 0 -3.4 0a1.7 1.7 0 1 0 3.4 0M564.4 303.2a1.7 1.7 0 1 0 -3.4 0a1.7 1.7 0 1 0 3.4 0M564.9 302.4a1.7 1.7 0 1 0 -3.4 0a1.7 1.7 0 1 0 3.4 0M565.5 306.0a1.7 1.7 0 1 0 -3.4 0a1.7 1.7 0 1 0 3.4 0M565.5 301.3a1.7 1.7 0 1 0 -3.4 0a1.7 1.7 0 1 0 3.4 0M566.4 303.7a1.7 1.7 0 1 0 -3.4 0a1.7 1.7 0 1 0 3.4 0M566.3 302.3a1.7 1.7 0 1 0 -3.4 0a1.7 1.7 0 1 0 3.4 0M567.0 305.8a1.7 1.7 0 1 0 -3.4 0a1.7 1.7 0 1 0 3.4 0M567.6 310.7a1.7 1.7 0 1 0 -3.4 0a1.7 1.7 0 1 0 3.4 0M567.9 308.7a1.7 1.7 0 1 0 -3.4 0a1.7 1.7 0 1 0 3.4 0M568.4 304.8a1.7 1.7 0 1 0 -3.4 0a1.7 1.7 0 1 0 3.4 0M568.9 307.6a1.7 1.7 0 1 0 -3.4 0a1.7 1.7 0 1 0 3.4 0M569.5 310.8a1.7 1.7 0 1 0 -3.4 0a1.7 1.7 0 1 0 3.4 0M569.8 304.9a1.7 1.7 0 1 0 -3.4 0a1.7 1.7 0 1 0 3.4 0M570.1 310.2a1.7 1.7 0 1 0 -3.4 0a1.7 1.7 0 1 0 3.4 0M570.8 310.9a1.7 1.7 0 1 0 -3.4 0a1.7 1.7 0 1 0 3.4 0M571.3 305.5a1.7 1.7 0 1 0 -3.4 0a1.7 1.7 0 1 0 3.4 0M571.8 306.1a1.7 1.7 0 1 0 -3.4 0a1.7 1.7 0 1 0 3.4 0M572.0 310.8a1.7 1.7 0 1 0 -3.4 0a1.7 1.7 0 1 0 3.4 0M572.3 312.2a1.7 1.7 0 1 0 -3.4 0a1.7 1.7 0 1 0 3.4 0M572.8 313.1a1.7 1.7 0 1 0 -3.4 0a1.7 1.7 0 1 0 3.4 0M573.1 309.6a1.7 1.7 0 1 0 -3.4 0a1.7 1.7 0 1 0 3.4 0M573.6 314.9a1.7 1.7 0 1 0 -3.4 0a1.7 1.7 0 1 0 3.4 0M574.0 308.4a1.7 1.7 0 1 0 -3.4 0a1.7 1.7 0 1 0 3.4 0M574.9 309.4a1.7 1.7 0 1 0 -3.4 0a1.7 1.7 0 1 0 3.4 0M575.0 311.1a1.7 1.7 0 1 0 -3.4 0a1.7 1.7 0 1 0 3.4 0M575.4 312.2a1.7 1.7 0 1 0 -3.4 0a1.7 1.7 0 1 0 3.4 0M576.1 311.9a1.7 1.7 0 1 0 -3.4 0a1.7 1.7 0 1 0 3.4 0M576.6 315.0a1.7 1.7 0 1 0 -3.4 0a1.7 1.7 0 1 0 3.4 0M576.9 314.5a1.7 1.7 0 1 0 -3.4 0a1.7 1.7 0 1 0 3.4 0M577.1 311.0a1.7 1.7 0 1 0 -3.4 0a1.7 1.7 0 1 0 3.4 0M577.7 315.1a1.7 1.7 0 1 0 -3.4 0a1.7 1.7 0 1 0 3.4 0M578.1 311.1a1.7 1.7 0 1 0 -3.4 0a1.7 1.7 0 1 0 3.4 0M578.6 310.9a1.7 1.7 0 1 0 -3.4 0a1.7 1.7 0 1 0 3.4 0M579.1 314.6a1.7 1.7 0 1 0 -3.4 0a1.7 1.7 0 1 0 3.4 0M579.8 315.9a1.7 1.7 0 1 0 -3.4 0a1.7 1.7 0 1 0 3.4 0M580.1 319.1a1.7 1.7 0 1 0 -3.4 0a1.7 1.7 0 1 0 3.4 0M580.6 313.8a1.7 1.7 0 1 0 -3.4 0a1.7 1.7 0 1 0 3.4 0M580.9 314.6a1.7 1.7 0 1 0 -3.4 0a1.7 1.7 0 1 0 3.4 0M581.3 319.1a1.7 1.7 0 1 0 -3.4 0a1.7 1.7 0 1 0 3.4 0M581.7 313.1a1.7 1.7 0 1 0 -3.4 0a1.7 1.7 0 1 0 3.4 0M582.1 317.5a1.7 1.7 0 1 0 -3.4 0a1.7 1.7 0 1 0 3.4 0M582.5 316.0a1.7 1.7 0 1 0 -3.4 0a1.7 1.7 0 1 0 3.4 0M583.5 318.4a1.7 1.7 0 1 0 -3.4 0a1.7 1.7 0 1 0 3.4 0M583.7 318.3a1.7 1.7 0 1 0 -3.4 0a1.7 1.7 0 1 0 3.4 0M584.0 323.5a1.7 1.7 0 1 0 -3.4 0a1.7 1.7 0 1 0 3.4 0M584.9 318.5a1.7 1.7 0 1 0 -3.4 0a1.7 1.7 0 1 0 3.4 0M585.0 318.6a1.7 1.7 0 1 0 -3.4 0a1.7 1.7 0 1 0 3.4 0M585.3 321.8a1.7 1.7 0 1 0 -3.4 0a1.7 1.7 0 1 0 3.4 0M585.9 318.5a1.7 1.7 0 1 0 -3.4 0a1.7 1.7 0 1 0 3.4 0M586.6 323.9a1.7 1.7 0 1 0 -3.4 0a1.7 1.7 0 1 0 3.4 0M587.2 323.4a1.7 1.7 0 1 0 -3.4 0a1.7 1.7 0 1 0 3.4 0M587.5 318.9a1.7 1.7 0 1 0 -3.4 0a1.7 1.7 0 1 0 3.4 0M588.1 318.7a1.7 1.7 0 1 0 -3.4 0a1.7 1.7 0 1 0 3.4 0M588.1 324.9a1.7 1.7 0 1 0 -3.4 0a1.7 1.7 0 1 0 3.4 0M588.6 323.0a1.7 1.7 0 1 0 -3.4 0a1.7 1.7 0 1 0 3.4 0M589.0 323.3a1.7 1.7 0 1 0 -3.4 0a1.7 1.7 0 1 0 3.4 0M589.5 322.6a1.7 1.7 0 1 0 -3.4 0a1.7 1.7 0 1 0 3.4 0M590.2 322.2a1.7 1.7 0 1 0 -3.4 0a1.7 1.7 0 1 0 3.4 0M590.4 320.1a1.7 1.7 0 1 0 -3.4 0a1.7 1.7 0 1 0 3.4 0M591.2 323.1a1.7 1.7 0 1 0 -3.4 0a1.7 1.7 0 1 0 3.4 0M591.2 324.8a1.7 1.7 0 1 0 -3.4 0a1.7 1.7 0 1 0 3.4 0M591.7 325.6a1.7 1.7 0 1 0 -3.4 0a1.7 1.7 0 1 0 3.4 0M592.1 326.9a1.7 1.7 0 1 0 -3.4 0a1.7 1.7 0 1 0 3.4 0M593.0 328.1a1.7 1.7 0 1 0 -3.4 0a1.7 1.7 0 1 0 3.4 0M593.3 326.1a1.7 1.7 0 1 0 -3.4 0a1.7 1.7 0 1 0 3.4 0M593.7 330.9a1.7 1.7 0 1 0 -3.4 0a1.7 1.7 0 1 0 3.4 0M594.0 324.5a1.7 1.7 0 1 0 -3.4 0a1.7 1.7 0 1 0 3.4 0M594.8 323.8a1.7 1.7 0 1 0 -3.4 0a1.7 1.7 0 1 0 3.4 0M595.1 324.0a1.7 1.7 0 1 0 -3.4 0a1.7 1.7 0 1 0 3.4 0M595.4 329.2a1.7 1.7 0 1 0 -3.4 0a1.7 1.7 0 1 0 3.4 0M595.7 332.6a1.7 1.7 0 1 0 -3.4 0a1.7 1.7 0 1 0 3.4 0M596.6 326.9a1.7 1.7 0 1 0 -3.4 0a1.7 1.7 0 1 0 3.4 0M596.5 326.6a1.7 1.7 0 1 0 -3.4 0a1.7 1.7 0 1 0 3.4 0M597.6 329.6a1.7 1.7 0 1 0 -3.4 0a1.7 1.7 0 1 0 3.4 0M598.0 329.7a1.7 1.7 0 1 0 -3.4 0a1.7 1.7 0 1 0 3.4 0M598.0 330.8a1.7 1.7 0 1 0 -3.4 0a1.7 1.7 0 1 0 3.4 0M598.8 332.5a1.7 1.7 0 1 0 -3.4 0a1.7 1.7 0 1 0 3.4 0M599.4 330.5a1.7 1.7 0 1 0 -3.4 0a1.7 1.7 0 1 0 3.4 0M599.2 335.5a1.7 1.7 0 1 0 -3.4 0a1.7 1.7 0 1 0 3.4 0M600.1 331.4a1.7 1.7 0 1 0 -3.4 0a1.7 1.7 0 1 0 3.4 0M600.7 332.6a1.7 1.7 0 1 0 -3.4 0a1.7 1.7 0 1 0 3.4 0M601.2 329.9a1.7 1.7 0 1 0 -3.4 0a1.7 1.7 0 1 0 3.4 0M601.1 338.6a1.7 1.7 0 1 0 -3.4 0a1.7 1.7 0 1 0 3.4 0M601.6 330.1a1.7 1.7 0 1 0 -3.4 0a1.7 1.7 0 1 0 3.4 0M602.4 333.6a1.7 1.7 0 1 0 -3.4 0a1.7 1.7 0 1 0 3.4 0M603.0 335.7a1.7 1.7 0 1 0 -3.4 0a1.7 1.7 0 1 0 3.4 0M603.3 329.9a1.7 1.7 0 1 0 -3.4 0a1.7 1.7 0 1 0 3.4 0M603.9 329.8a1.7 1.7 0 1 0 -3.4 0a1.7 1.7 0 1 0 3.4 0M604.1 331.1a1.7 1.7 0 1 0 -3.4 0a1.7 1.7 0 1 0 3.4 0M604.6 334.5a1.7 1.7 0 1 0 -3.4 0a1.7 1.7 0 1 0 3.4 0M605.1 333.4a1.7 1.7 0 1 0 -3.4 0a1.7 1.7 0 1 0 3.4 0M605.6 334.7a1.7 1.7 0 1 0 -3.4 0a1.7 1.7 0 1 0 3.4 0M606.0 335.3a1.7 1.7 0 1 0 -3.4 0a1.7 1.7 0 1 0 3.4 0M606.3 334.7a1.7 1.7 0 1 0 -3.4 0a1.7 1.7 0 1 0 3.4 0M606.8 331.7a1.7 1.7 0 1 0 -3.4 0a1.7 1.7 0 1 0 3.4 0M606.9 337.1a1.7 1.7 0 1 0 -3.4 0a1.7 1.7 0 1 0 3.4 0M607.8 334.6a1.7 1.7 0 1 0 -3.4 0a1.7 1.7 0 1 0 3.4 0M608.2 334.4a1.7 1.7 0 1 0 -3.4 0a1.7 1.7 0 1 0 3.4 0M608.8 333.8a1.7 1.7 0 1 0 -3.4 0a1.7 1.7 0 1 0 3.4 0M608.8 340.8a1.7 1.7 0 1 0 -3.4 0a1.7 1.7 0 1 0 3.4 0M609.2 338.0a1.7 1.7 0 1 0 -3.4 0a1.7 1.7 0 1 0 3.4 0M610.1 341.3a1.7 1.7 0 1 0 -3.4 0a1.7 1.7 0 1 0 3.4 0M610.4 342.0a1.7 1.7 0 1 0 -3.4 0a1.7 1.7 0 1 0 3.4 0M610.8 337.5a1.7 1.7 0 1 0 -3.4 0a1.7 1.7 0 1 0 3.4 0M611.3 342.2a1.7 1.7 0 1 0 -3.4 0a1.7 1.7 0 1 0 3.4 0M611.5 337.8a1.7 1.7 0 1 0 -3.4 0a1.7 1.7 0 1 0 3.4 0M612.2 342.9a1.7 1.7 0 1 0 -3.4 0a1.7 1.7 0 1 0 3.4 0M612.9 342.1a1.7 1.7 0 1 0 -3.4 0a1.7 1.7 0 1 0 3.4 0M613.0 337.3a1.7 1.7 0 1 0 -3.4 0a1.7 1.7 0 1 0 3.4 0M613.5 341.6a1.7 1.7 0 1 0 -3.4 0a1.7 1.7 0 1 0 3.4 0M614.1 343.1a1.7 1.7 0 1 0 -3.4 0a1.7 1.7 0 1 0 3.4 0M614.2 338.8a1.7 1.7 0 1 0 -3.4 0a1.7 1.7 0 1 0 3.4 0M615.2 341.9a1.7 1.7 0 1 0 -3.4 0a1.7 1.7 0 1 0 3.4 0M615.1 341.4a1.7 1.7 0 1 0 -3.4 0a1.7 1.7 0 1 0 3.4 0M615.7 342.3a1.7 1.7 0 1 0 -3.4 0a1.7 1.7 0 1 0 3.4 0M616.2 338.1a1.7 1.7 0 1 0 -3.4 0a1.7 1.7 0 1 0 3.4 0M617.0 342.9a1.7 1.7 0 1 0 -3.4 0a1.7 1.7 0 1 0 3.4 0M617.5 340.8a1.7 1.7 0 1 0 -3.4 0a1.7 1.7 0 1 0 3.4 0M617.9 341.9a1.7 1.7 0 1 0 -3.4 0a1.7 1.7 0 1 0 3.4 0M617.8 343.3a1.7 1.7 0 1 0 -3.4 0a1.7 1.7 0 1 0 3.4 0M618.7 343.8a1.7 1.7 0 1 0 -3.4 0a1.7 1.7 0 1 0 3.4 0M618.7 342.4a1.7 1.7 0 1 0 -3.4 0a1.7 1.7 0 1 0 3.4 0M619.3 344.7a1.7 1.7 0 1 0 -3.4 0a1.7 1.7 0 1 0 3.4 0M620.2 340.9a1.7 1.7 0 1 0 -3.4 0a1.7 1.7 0 1 0 3.4 0M620.1 343.1a1.7 1.7 0 1 0 -3.4 0a1.7 1.7 0 1 0 3.4 0M621.0 346.9a1.7 1.7 0 1 0 -3.4 0a1.7 1.7 0 1 0 3.4 0M621.6 343.3a1.7 1.7 0 1 0 -3.4 0a1.7 1.7 0 1 0 3.4 0M621.9 345.0a1.7 1.7 0 1 0 -3.4 0a1.7 1.7 0 1 0 3.4 0M622.3 345.0a1.7 1.7 0 1 0 -3.4 0a1.7 1.7 0 1 0 3.4 0M622.8 344.3a1.7 1.7 0 1 0 -3.4 0a1.7 1.7 0 1 0 3.4 0M623.2 344.6a1.7 1.7 0 1 0 -3.4 0a1.7 1.7 0 1 0 3.4 0M623.7 348.6a1.7 1.7 0 1 0 -3.4 0a1.7 1.7 0 1 0 3.4 0M623.7 340.0a1.7 1.7 0 1 0 -3.4 0a1.7 1.7 0 1 0 3.4 0M624.3 347.1a1.7 1.7 0 1 0 -3.4 0a1.7 1.7 0 1 0 3.4 0M625.1 343.2a1.7 1.7 0 1 0 -3.4 0a1.7 1.7 0 1 0 3.4 0M625.2 346.2a1.7 1.7 0 1 0 -3.4 0a1.7 1.7 0 1 0 3.4 0M625.8 345.1a1.7 1.7 0 1 0 -3.4 0a1.7 1.7 0 1 0 3.4 0M626.4 347.8a1.7 1.7 0 1 0 -3.4 0a1.7 1.7 0 1 0 3.4 0M627.0 349.0a1.7 1.7 0 1 0 -3.4 0a1.7 1.7 0 1 0 3.4 0M626.9 342.3a1.7 1.7 0 1 0 -3.4 0a1.7 1.7 0 1 0 3.4 0M627.7 344.7a1.7 1.7 0 1 0 -3.4 0a1.7 1.7 0 1 0 3.4 0M627.9 347.8a1.7 1.7 0 1 0 -3.4 0a1.7 1.7 0 1 0 3.4 0M628.4 347.3a1.7 1.7 0 1 0 -3.4 0a1.7 1.7 0 1 0 3.4 0M628.9 344.4a1.7 1.7 0 1 0 -3.4 0a1.7 1.7 0 1 0 3.4 0M629.2 347.3a1.7 1.7 0 1 0 -3.4 0a1.7 1.7 0 1 0 3.4 0M629.7 346.9a1.7 1.7 0 1 0 -3.4 0a1.7 1.7 0 1 0 3.4 0M630.3 344.7a1.7 1.7 0 1 0 -3.4 0a1.7 1.7 0 1 0 3.4 0M630.6 347.1a1.7 1.7 0 1 0 -3.4 0a1.7 1.7 0 1 0 3.4 0M631.4 347.1a1.7 1.7 0 1 0 -3.4 0a1.7 1.7 0 1 0 3.4 0M632.0 346.8a1.7 1.7 0 1 0 -3.4 0a1.7 1.7 0 1 0 3.4 0M631.9 347.3a1.7 1.7 0 1 0 -3.4 0a1.7 1.7 0 1 0 3.4 0M632.8 347.4a1.7 1.7 0 1 0 -3.4 0a1.7 1.7 0 1 0 3.4 0M632.9 348.9a1.7 1.7 0 1 0 -3.4 0a1.7 1.7 0 1 0 3.4 0M633.6 349.0a1.7 1.7 0 1 0 -3.4 0a1.7 1.7 0 1 0 3.4 0M633.8 347.1a1.7 1.7 0 1 0 -3.4 0a1.7 1.7 0 1 0 3.4 0M634.4 343.5a1.7 1.7 0 1 0 -3.4 0a1.7 1.7 0 1 0 3.4 0M635.0 345.4a1.7 1.7 0 1 0 -3.4 0a1.7 1.7 0 1 0 3.4 0M635.0 345.8a1.7 1.7 0 1 0 -3.4 0a1.7 1.7 0 1 0 3.4 0M635.9 344.4a1.7 1.7 0 1 0 -3.4 0a1.7 1.7 0 1 0 3.4 0M636.2 342.9a1.7 1.7 0 1 0 -3.4 0a1.7 1.7 0 1 0 3.4 0M636.9 348.7a1.7 1.7 0 1 0 -3.4 0a1.7 1.7 0 1 0 3.4 0M636.8 349.1a1.7 1.7 0 1 0 -3.4 0a1.7 1.7 0 1 0 3.4 0M637.8 346.3a1.7 1.7 0 1 0 -3.4 0a1.7 1.7 0 1 0 3.4 0M638.2 345.4a1.7 1.7 0 1 0 -3.4 0a1.7 1.7 0 1 0 3.4 0M638.3 346.0a1.7 1.7 0 1 0 -3.4 0a1.7 1.7 0 1 0 3.4 0M638.9 346.0a1.7 1.7 0 1 0 -3.4 0a1.7 1.7 0 1 0 3.4 0M639.3 349.4a1.7 1.7 0 1 0 -3.4 0a1.7 1.7 0 1 0 3.4 0M639.7 344.3a1.7 1.7 0 1 0 -3.4 0a1.7 1.7 0 1 0 3.4 0M640.5 342.4a1.7 1.7 0 1 0 -3.4 0a1.7 1.7 0 1 0 3.4 0M640.6 340.6a1.7 1.7 0 1 0 -3.4 0a1.7 1.7 0 1 0 3.4 0M641.3 342.2a1.7 1.7 0 1 0 -3.4 0a1.7 1.7 0 1 0 3.4 0M641.8 346.4a1.7 1.7 0 1 0 -3.4 0a1.7 1.7 0 1 0 3.4 0M641.8 344.4a1.7 1.7 0 1 0 -3.4 0a1.7 1.7 0 1 0 3.4 0M642.6 345.0a1.7 1.7 0 1 0 -3.4 0a1.7 1.7 0 1 0 3.4 0M643.2 344.3a1.7 1.7 0 1 0 -3.4 0a1.7 1.7 0 1 0 3.4 0M643.5 348.0a1.7 1.7 0 1 0 -3.4 0a1.7 1.7 0 1 0 3.4 0M644.2 343.6a1.7 1.7 0 1 0 -3.4 0a1.7 1.7 0 1 0 3.4 0M644.5 339.6a1.7 1.7 0 1 0 -3.4 0a1.7 1.7 0 1 0 3.4 0M644.6 346.5a1.7 1.7 0 1 0 -3.4 0a1.7 1.7 0 1 0 3.4 0M645.0 343.5a1.7 1.7 0 1 0 -3.4 0a1.7 1.7 0 1 0 3.4 0M645.9 341.5a1.7 1.7 0 1 0 -3.4 0a1.7 1.7 0 1 0 3.4 0M645.8 346.6a1.7 1.7 0 1 0 -3.4 0a1.7 1.7 0 1 0 3.4 0M646.7 340.3a1.7 1.7 0 1 0 -3.4 0a1.7 1.7 0 1 0 3.4 0M647.3 344.7a1.7 1.7 0 1 0 -3.4 0a1.7 1.7 0 1 0 3.4 0M647.8 344.0a1.7 1.7 0 1 0 -3.4 0a1.7 1.7 0 1 0 3.4 0M647.8 346.4a1.7 1.7 0 1 0 -3.4 0a1.7 1.7 0 1 0 3.4 0M648.6 343.3a1.7 1.7 0 1 0 -3.4 0a1.7 1.7 0 1 0 3.4 0M648.7 341.0a1.7 1.7 0 1 0 -3.4 0a1.7 1.7 0 1 0 3.4 0M649.2 341.2a1.7 1.7 0 1 0 -3.4 0a1.7 1.7 0 1 0 3.4 0M649.6 341.9a1.7 1.7 0 1 0 -3.4 0a1.7 1.7 0 1 0 3.4 0M650.0 338.5a1.7 1.7 0 1 0 -3.4 0a1.7 1.7 0 1 0 3.4 0M650.9 341.1a1.7 1.7 0 1 0 -3.4 0a1.7 1.7 0 1 0 3.4 0M651.0 342.5a1.7 1.7 0 1 0 -3.4 0a1.7 1.7 0 1 0 3.4 0M651.3 345.6a1.7 1.7 0 1 0 -3.4 0a1.7 1.7 0 1 0 3.4 0M652.1 342.1a1.7 1.7 0 1 0 -3.4 0a1.7 1.7 0 1 0 3.4 0M652.7 341.3a1.7 1.7 0 1 0 -3.4 0a1.7 1.7 0 1 0 3.4 0M653.1 343.0a1.7 1.7 0 1 0 -3.4 0a1.7 1.7 0 1 0 3.4 0M653.6 340.7a1.7 1.7 0 1 0 -3.4 0a1.7 1.7 0 1 0 3.4 0M653.5 338.3a1.7 1.7 0 1 0 -3.4 0a1.7 1.7 0 1 0 3.4 0M654.2 341.6a1.7 1.7 0 1 0 -3.4 0a1.7 1.7 0 1 0 3.4 0M654.6 340.5a1.7 1.7 0 1 0 -3.4 0a1.7 1.7 0 1 0 3.4 0M655.4 339.3a1.7 1.7 0 1 0 -3.4 0a1.7 1.7 0 1 0 3.4 0M655.6 334.7a1.7 1.7 0 1 0 -3.4 0a1.7 1.7 0 1 0 3.4 0M656.3 341.7a1.7 1.7 0 1 0 -3.4 0a1.7 1.7 0 1 0 3.4 0M656.3 338.4a1.7 1.7 0 1 0 -3.4 0a1.7 1.7 0 1 0 3.4 0M657.3 334.8a1.7 1.7 0 1 0 -3.4 0a1.7 1.7 0 1 0 3.4 0M657.5 340.2a1.7 1.7 0 1 0 -3.4 0a1.7 1.7 0 1 0 3.4 0M657.9 334.5a1.7 1.7 0 1 0 -3.4 0a1.7 1.7 0 1 0 3.4 0M658.4 342.2a1.7 1.7 0 1 0 -3.4 0a1.7 1.7 0 1 0 3.4 0M658.9 335.3a1.7 1.7 0 1 0 -3.4 0a1.7 1.7 0 1 0 3.4 0M659.0 338.1a1.7 1.7 0 1 0 -3.4 0a1.7 1.7 0 1 0 3.4 0M659.5 338.1a1.7 1.7 0 1 0 -3.4 0a1.7 1.7 0 1 0 3.4 0M660.2 336.4a1.7 1.7 0 1 0 -3.4 0a1.7 1.7 0 1 0 3.4 0M660.4 330.5a1.7 1.7 0 1 0 -3.4 0a1.7 1.7 0 1 0 3.4 0M661.1 333.4a1.7 1.7 0 1 0 -3.4 0a1.7 1.7 0 1 0 3.4 0M661.6 334.8a1.7 1.7 0 1 0 -3.4 0a1.7 1.7 0 1 0 3.4 0M662.0 336.1a1.7 1.7 0 1 0 -3.4 0a1.7 1.7 0 1 0 3.4 0M662.5 336.6a1.7 1.7 0 1 0 -3.4 0a1.7 1.7 0 1 0 3.4 0M662.7 331.3a1.7 1.7 0 1 0 -3.4 0a1.7 1.7 0 1 0 3.4 0M663.0 335.3a1.7 1.7 0 1 0 -3.4 0a1.7 1.7 0 1 0 3.4 0M664.0 332.0a1.7 1.7 0 1 0 -3.4 0a1.7 1.7 0 1 0 3.4 0M664.3 330.9a1.7 1.7 0 1 0 -3.4 0a1.7 1.7 0 1 0 3.4 0M664.9 331.5a1.7 1.7 0 1 0 -3.4 0a1.7 1.7 0 1 0 3.4 0M665.1 330.6a1.7 1.7 0 1 0 -3.4 0a1.7 1.7 0 1 0 3.4 0M665.7 335.1a1.7 1.7 0 1 0 -3.4 0a1.7 1.7 0 1 0 3.4 0M666.3 330.5a1.7 1.7 0 1 0 -3.4 0a1.7 1.7 0 1 0 3.4 0M666.2 334.5a1.7 1.7 0 1 0 -3.4 0a1.7 1.7 0 1 0 3.4 0M667.1 328.5a1.7 1.7 0 1 0 -3.4 0a1.7 1.7 0 1 0 3.4 0M667.7 331.1a1.7 1.7 0 1 0 -3.4 0a1.7 1.7 0 1 0 3.4 0M668.0 328.6a1.7 1.7 0 1 0 -3.4 0a1.7 1.7 0 1 0 3.4 0M668.5 328.7a1.7 1.7 0 1 0 -3.4 0a1.7 1.7 0 1 0 3.4 0M668.5 332.1a1.7 1.7 0 1 0 -3.4 0a1.7 1.7 0 1 0 3.4 0M669.3 328.9a1.7 1.7 0 1 0 -3.4 0a1.7 1.7 0 1 0 3.4 0M669.3 328.4a1.7 1.7 0 1 0 -3.4 0a1.7 1.7 0 1 0 3.4 0M670.0 330.2a1.7 1.7 0 1 0 -3.4 0a1.7 1.7 0 1 0 3.4 0M670.5 326.0a1.7 1.7 0 1 0 -3.4 0a1.7 1.7 0 1 0 3.4 0M671.0 328.4a1.7 1.7 0 1 0 -3.4 0a1.7 1.7 0 1 0 3.4 0M671.7 327.9a1.7 1.7 0 1 0 -3.4 0a1.7 1.7 0 1 0 3.4 0M672.0 325.6a1.7 1.7 0 1 0 -3.4 0a1.7 1.7 0 1 0 3.4 0M672.4 328.9a1.7 1.7 0 1 0 -3.4 0a1.7 1.7 0 1 0 3.4 0M673.0 326.7a1.7 1.7 0 1 0 -3.4 0a1.7 1.7 0 1 0 3.4 0M673.5 326.8a1.7 1.7 0 1 0 -3.4 0a1.7 1.7 0 1 0 3.4 0M673.5 326.0a1.7 1.7 0 1 0 -3.4 0a1.7 1.7 0 1 0 3.4 0M674.1 320.8a1.7 1.7 0 1 0 -3.4 0a1.7 1.7 0 1 0 3.4 0M674.4 322.2a1.7 1.7 0 1 0 -3.4 0a1.7 1.7 0 1 0 3.4 0M674.8 326.0a1.7 1.7 0 1 0 -3.4 0a1.7 1.7 0 1 0 3.4 0M675.4 324.7a1.7 1.7 0 1 0 -3.4 0a1.7 1.7 0 1 0 3.4 0M676.1 321.6a1.7 1.7 0 1 0 -3.4 0a1.7 1.7 0 1 0 3.4 0M676.3 319.3a1.7 1.7 0 1 0 -3.4 0a1.7 1.7 0 1 0 3.4 0M676.9 320.3a1.7 1.7 0 1 0 -3.4 0a1.7 1.7 0 1 0 3.4 0M677.3 319.6a1.7 1.7 0 1 0 -3.4 0a1.7 1.7 0 1 0 3.4 0M678.0 323.6a1.7 1.7 0 1 0 -3.4 0a1.7 1.7 0 1 0 3.4 0M678.1 322.0a1.7 1.7 0 1 0 -3.4 0a1.7 1.7 0 1 0 3.4 0M678.7 319.0a1.7 1.7 0 1 0 -3.4 0a1.7 1.7 0 1 0 3.4 0" fill="none" stroke="#ff0a0a" stroke-width="0.75"/>
<rect x="487.2" y="190.2" width="190.1" height="174.3" fill="none" stroke="#555" stroke-width="0.8"/>
<line x1="487.2" y1="277.7" x2="677.3" y2="277.7" stroke="#555" stroke-width="0.8" />
<line x1="487.2" y1="274.8" x2="490.2" y2="274.8" stroke="#555" stroke-width="0.8" />
<line x1="677.3" y1="274.8" x2="674.3" y2="274.8" stroke="#555" stroke-width="0.8" />
<text x="482.5" y="277.8" font-size="8.6" text-anchor="end" font-weight="normal" fill="#1a1a1a" stroke="#1a1a1a" stroke-width="0.18" >0</text>
<line x1="487.2" y1="259.2" x2="490.2" y2="259.2" stroke="#555" stroke-width="0.8" />
<line x1="677.3" y1="259.2" x2="674.3" y2="259.2" stroke="#555" stroke-width="0.8" />
<text x="482.5" y="262.2" font-size="8.6" text-anchor="end" font-weight="normal" fill="#1a1a1a" stroke="#1a1a1a" stroke-width="0.18" >50</text>
<line x1="487.2" y1="243.6" x2="490.2" y2="243.6" stroke="#555" stroke-width="0.8" />
<line x1="677.3" y1="243.6" x2="674.3" y2="243.6" stroke="#555" stroke-width="0.8" />
<text x="482.5" y="246.6" font-size="8.6" text-anchor="end" font-weight="normal" fill="#1a1a1a" stroke="#1a1a1a" stroke-width="0.18" >100</text>
<line x1="487.2" y1="228" x2="490.2" y2="228" stroke="#555" stroke-width="0.8" />
<line x1="677.3" y1="228" x2="674.3" y2="228" stroke="#555" stroke-width="0.8" />
<text x="482.5" y="231" font-size="8.6" text-anchor="end" font-weight="normal" fill="#1a1a1a" stroke="#1a1a1a" stroke-width="0.18" >150</text>
<line x1="487.2" y1="212.4" x2="490.2" y2="212.4" stroke="#555" stroke-width="0.8" />
<line x1="677.3" y1="212.4" x2="674.3" y2="212.4" stroke="#555" stroke-width="0.8" />
<text x="482.5" y="215.4" font-size="8.6" text-anchor="end" font-weight="normal" fill="#1a1a1a" stroke="#1a1a1a" stroke-width="0.18" >200</text>
<line x1="487.2" y1="196.8" x2="490.2" y2="196.8" stroke="#555" stroke-width="0.8" />
<line x1="677.3" y1="196.8" x2="674.3" y2="196.8" stroke="#555" stroke-width="0.8" />
<text x="482.5" y="199.8" font-size="8.6" text-anchor="end" font-weight="normal" fill="#1a1a1a" stroke="#1a1a1a" stroke-width="0.18" >250</text>
<line x1="487.2" y1="267" x2="488.7" y2="267" stroke="#555" stroke-width="0.6" />
<line x1="677.3" y1="267" x2="675.8" y2="267" stroke="#555" stroke-width="0.6" />
<line x1="487.2" y1="251.4" x2="488.7" y2="251.4" stroke="#555" stroke-width="0.6" />
<line x1="677.3" y1="251.4" x2="675.8" y2="251.4" stroke="#555" stroke-width="0.6" />
<line x1="487.2" y1="235.8" x2="488.7" y2="235.8" stroke="#555" stroke-width="0.6" />
<line x1="677.3" y1="235.8" x2="675.8" y2="235.8" stroke="#555" stroke-width="0.6" />
<line x1="487.2" y1="220.2" x2="488.7" y2="220.2" stroke="#555" stroke-width="0.6" />
<line x1="677.3" y1="220.2" x2="675.8" y2="220.2" stroke="#555" stroke-width="0.6" />
<line x1="487.2" y1="204.6" x2="488.7" y2="204.6" stroke="#555" stroke-width="0.6" />
<line x1="677.3" y1="204.6" x2="675.8" y2="204.6" stroke="#555" stroke-width="0.6" />
<line x1="487.2" y1="190.2" x2="487.2" y2="193.2" stroke="#555" stroke-width="0.8" />
<text x="487.2" y="186" font-size="8.6" text-anchor="middle" font-weight="normal" fill="#1a1a1a" stroke="#1a1a1a" stroke-width="0.18" >0</text>
<line x1="520.5" y1="190.2" x2="520.5" y2="193.2" stroke="#555" stroke-width="0.8" />
<text x="520.5" y="186" font-size="8.6" text-anchor="middle" font-weight="normal" fill="#1a1a1a" stroke="#1a1a1a" stroke-width="0.18" >5</text>
<line x1="553.8" y1="190.2" x2="553.8" y2="193.2" stroke="#555" stroke-width="0.8" />
<text x="553.8" y="186" font-size="8.6" text-anchor="middle" font-weight="normal" fill="#1a1a1a" stroke="#1a1a1a" stroke-width="0.18" >10</text>
<line x1="587.1" y1="190.2" x2="587.1" y2="193.2" stroke="#555" stroke-width="0.8" />
<text x="587.1" y="186" font-size="8.6" text-anchor="middle" font-weight="normal" fill="#1a1a1a" stroke="#1a1a1a" stroke-width="0.18" >15</text>
<line x1="620.4" y1="190.2" x2="620.4" y2="193.2" stroke="#555" stroke-width="0.8" />
<text x="620.4" y="186" font-size="8.6" text-anchor="middle" font-weight="normal" fill="#1a1a1a" stroke="#1a1a1a" stroke-width="0.18" >20</text>
<line x1="653.7" y1="190.2" x2="653.7" y2="193.2" stroke="#555" stroke-width="0.8" />
<text x="653.7" y="186" font-size="8.6" text-anchor="middle" font-weight="normal" fill="#1a1a1a" stroke="#1a1a1a" stroke-width="0.18" >25</text>
<line x1="503.85" y1="190.2" x2="503.85" y2="191.7" stroke="#555" stroke-width="0.6" />
<line x1="537.15" y1="190.2" x2="537.15" y2="191.7" stroke="#555" stroke-width="0.6" />
<line x1="570.45" y1="190.2" x2="570.45" y2="191.7" stroke="#555" stroke-width="0.6" />
<line x1="603.75" y1="190.2" x2="603.75" y2="191.7" stroke="#555" stroke-width="0.6" />
<line x1="637.05" y1="190.2" x2="637.05" y2="191.7" stroke="#555" stroke-width="0.6" />
<line x1="670.35" y1="190.2" x2="670.35" y2="191.7" stroke="#555" stroke-width="0.6" />
<text x="582.4" y="172" font-size="8.6" text-anchor="middle" font-weight="normal" fill="#1a1a1a" stroke="#1a1a1a" stroke-width="0.18" >Time (s)</text>
<text x="0" y="0" font-size="8.6" text-anchor="middle" font-weight="normal" fill="#1a1a1a" stroke="#1a1a1a" stroke-width="0.18" transform="translate(459.5 233.5) rotate(-90)">Photocurrent (nA)</text>
<line x1="487.2" y1="364.5" x2="490.2" y2="364.5" stroke="#555" stroke-width="0.8" />
<line x1="677.3" y1="364.5" x2="674.3" y2="364.5" stroke="#555" stroke-width="0.8" />
<text x="482.5" y="367.5" font-size="8.6" text-anchor="end" font-weight="normal" fill="#1a1a1a" stroke="#1a1a1a" stroke-width="0.18" >&#8722;20</text>
<line x1="487.2" y1="343" x2="490.2" y2="343" stroke="#555" stroke-width="0.8" />
<line x1="677.3" y1="343" x2="674.3" y2="343" stroke="#555" stroke-width="0.8" />
<text x="482.5" y="346" font-size="8.6" text-anchor="end" font-weight="normal" fill="#1a1a1a" stroke="#1a1a1a" stroke-width="0.18" >&#8722;10</text>
<line x1="487.2" y1="321.5" x2="490.2" y2="321.5" stroke="#555" stroke-width="0.8" />
<line x1="677.3" y1="321.5" x2="674.3" y2="321.5" stroke="#555" stroke-width="0.8" />
<text x="482.5" y="324.5" font-size="8.6" text-anchor="end" font-weight="normal" fill="#1a1a1a" stroke="#1a1a1a" stroke-width="0.18" >0</text>
<line x1="487.2" y1="300" x2="490.2" y2="300" stroke="#555" stroke-width="0.8" />
<line x1="677.3" y1="300" x2="674.3" y2="300" stroke="#555" stroke-width="0.8" />
<text x="482.5" y="303" font-size="8.6" text-anchor="end" font-weight="normal" fill="#1a1a1a" stroke="#1a1a1a" stroke-width="0.18" >10</text>
<line x1="487.2" y1="353.75" x2="488.7" y2="353.75" stroke="#555" stroke-width="0.6" />
<line x1="677.3" y1="353.75" x2="675.8" y2="353.75" stroke="#555" stroke-width="0.6" />
<line x1="487.2" y1="332.25" x2="488.7" y2="332.25" stroke="#555" stroke-width="0.6" />
<line x1="677.3" y1="332.25" x2="675.8" y2="332.25" stroke="#555" stroke-width="0.6" />
<line x1="487.2" y1="310.75" x2="488.7" y2="310.75" stroke="#555" stroke-width="0.6" />
<line x1="677.3" y1="310.75" x2="675.8" y2="310.75" stroke="#555" stroke-width="0.6" />
<line x1="487.2" y1="289.25" x2="488.7" y2="289.25" stroke="#555" stroke-width="0.6" />
<line x1="677.3" y1="289.25" x2="675.8" y2="289.25" stroke="#555" stroke-width="0.6" />
<line x1="487.5" y1="364.5" x2="487.5" y2="361.5" stroke="#555" stroke-width="0.8" />
<text x="487.5" y="376" font-size="8.6" text-anchor="middle" font-weight="normal" fill="#1a1a1a" stroke="#1a1a1a" stroke-width="0.18" >0</text>
<line x1="534.88" y1="364.5" x2="534.88" y2="361.5" stroke="#555" stroke-width="0.8" />
<text x="534.88" y="376" font-size="8.6" text-anchor="middle" font-weight="normal" fill="#1a1a1a" stroke="#1a1a1a" stroke-width="0.18" >45</text>
<line x1="582.25" y1="364.5" x2="582.25" y2="361.5" stroke="#555" stroke-width="0.8" />
<text x="582.25" y="376" font-size="8.6" text-anchor="middle" font-weight="normal" fill="#1a1a1a" stroke="#1a1a1a" stroke-width="0.18" >90</text>
<line x1="629.62" y1="364.5" x2="629.62" y2="361.5" stroke="#555" stroke-width="0.8" />
<text x="629.62" y="376" font-size="8.6" text-anchor="middle" font-weight="normal" fill="#1a1a1a" stroke="#1a1a1a" stroke-width="0.18" >135</text>
<line x1="677" y1="364.5" x2="677" y2="361.5" stroke="#555" stroke-width="0.8" />
<text x="677" y="376" font-size="8.6" text-anchor="middle" font-weight="normal" fill="#1a1a1a" stroke="#1a1a1a" stroke-width="0.18" >180</text>
<line x1="511.19" y1="364.5" x2="511.19" y2="363" stroke="#555" stroke-width="0.6" />
<line x1="558.56" y1="364.5" x2="558.56" y2="363" stroke="#555" stroke-width="0.6" />
<line x1="605.94" y1="364.5" x2="605.94" y2="363" stroke="#555" stroke-width="0.6" />
<line x1="653.31" y1="364.5" x2="653.31" y2="363" stroke="#555" stroke-width="0.6" />
<text x="582" y="390" font-size="8.6" text-anchor="middle" font-weight="normal" fill="#1a1a1a" stroke="#1a1a1a" stroke-width="0.18" ><tspan font-style="italic">&#967;</tspan> (&#176;)</text>
<text x="0" y="0" font-size="8.6" text-anchor="middle" font-weight="normal" fill="#1a1a1a" stroke="#1a1a1a" stroke-width="0.18" transform="translate(460.0 321.0) rotate(-90)">Photocurrent (nA)</text>
<circle cx="601.5" cy="195.8" r="2.3" fill="#000"/>
<circle cx="601.5" cy="203.1" r="2.1" fill="none" stroke="#ff2020" stroke-width="0.7"/>
<text x="611.2" y="198" font-size="6.1" text-anchor="start" font-weight="normal" fill="#1a1a1a" stroke="#1a1a1a" stroke-width="0.18" >1550 nm</text>
<text x="611.2" y="205.3" font-size="6.1" text-anchor="start" font-weight="normal" fill="#1a1a1a" stroke="#1a1a1a" stroke-width="0.18" >1550 nm+633 nm</text>
<circle cx="608.0" cy="287.3" r="2.4" fill="#000"/>
<circle cx="608.0" cy="294.9" r="2.0" fill="none" stroke="#ff1010" stroke-width="0.9"/>
<text x="617.1" y="289.5" font-size="6.0" text-anchor="start" font-weight="normal" fill="#1a1a1a" stroke="#1a1a1a" stroke-width="0.18" >1550 nm</text>
<text x="617.1" y="297.1" font-size="6.0" text-anchor="start" font-weight="normal" fill="#1a1a1a" stroke="#1a1a1a" stroke-width="0.18" >1550 nm+633 nm</text>
</svg></div></body></html>
